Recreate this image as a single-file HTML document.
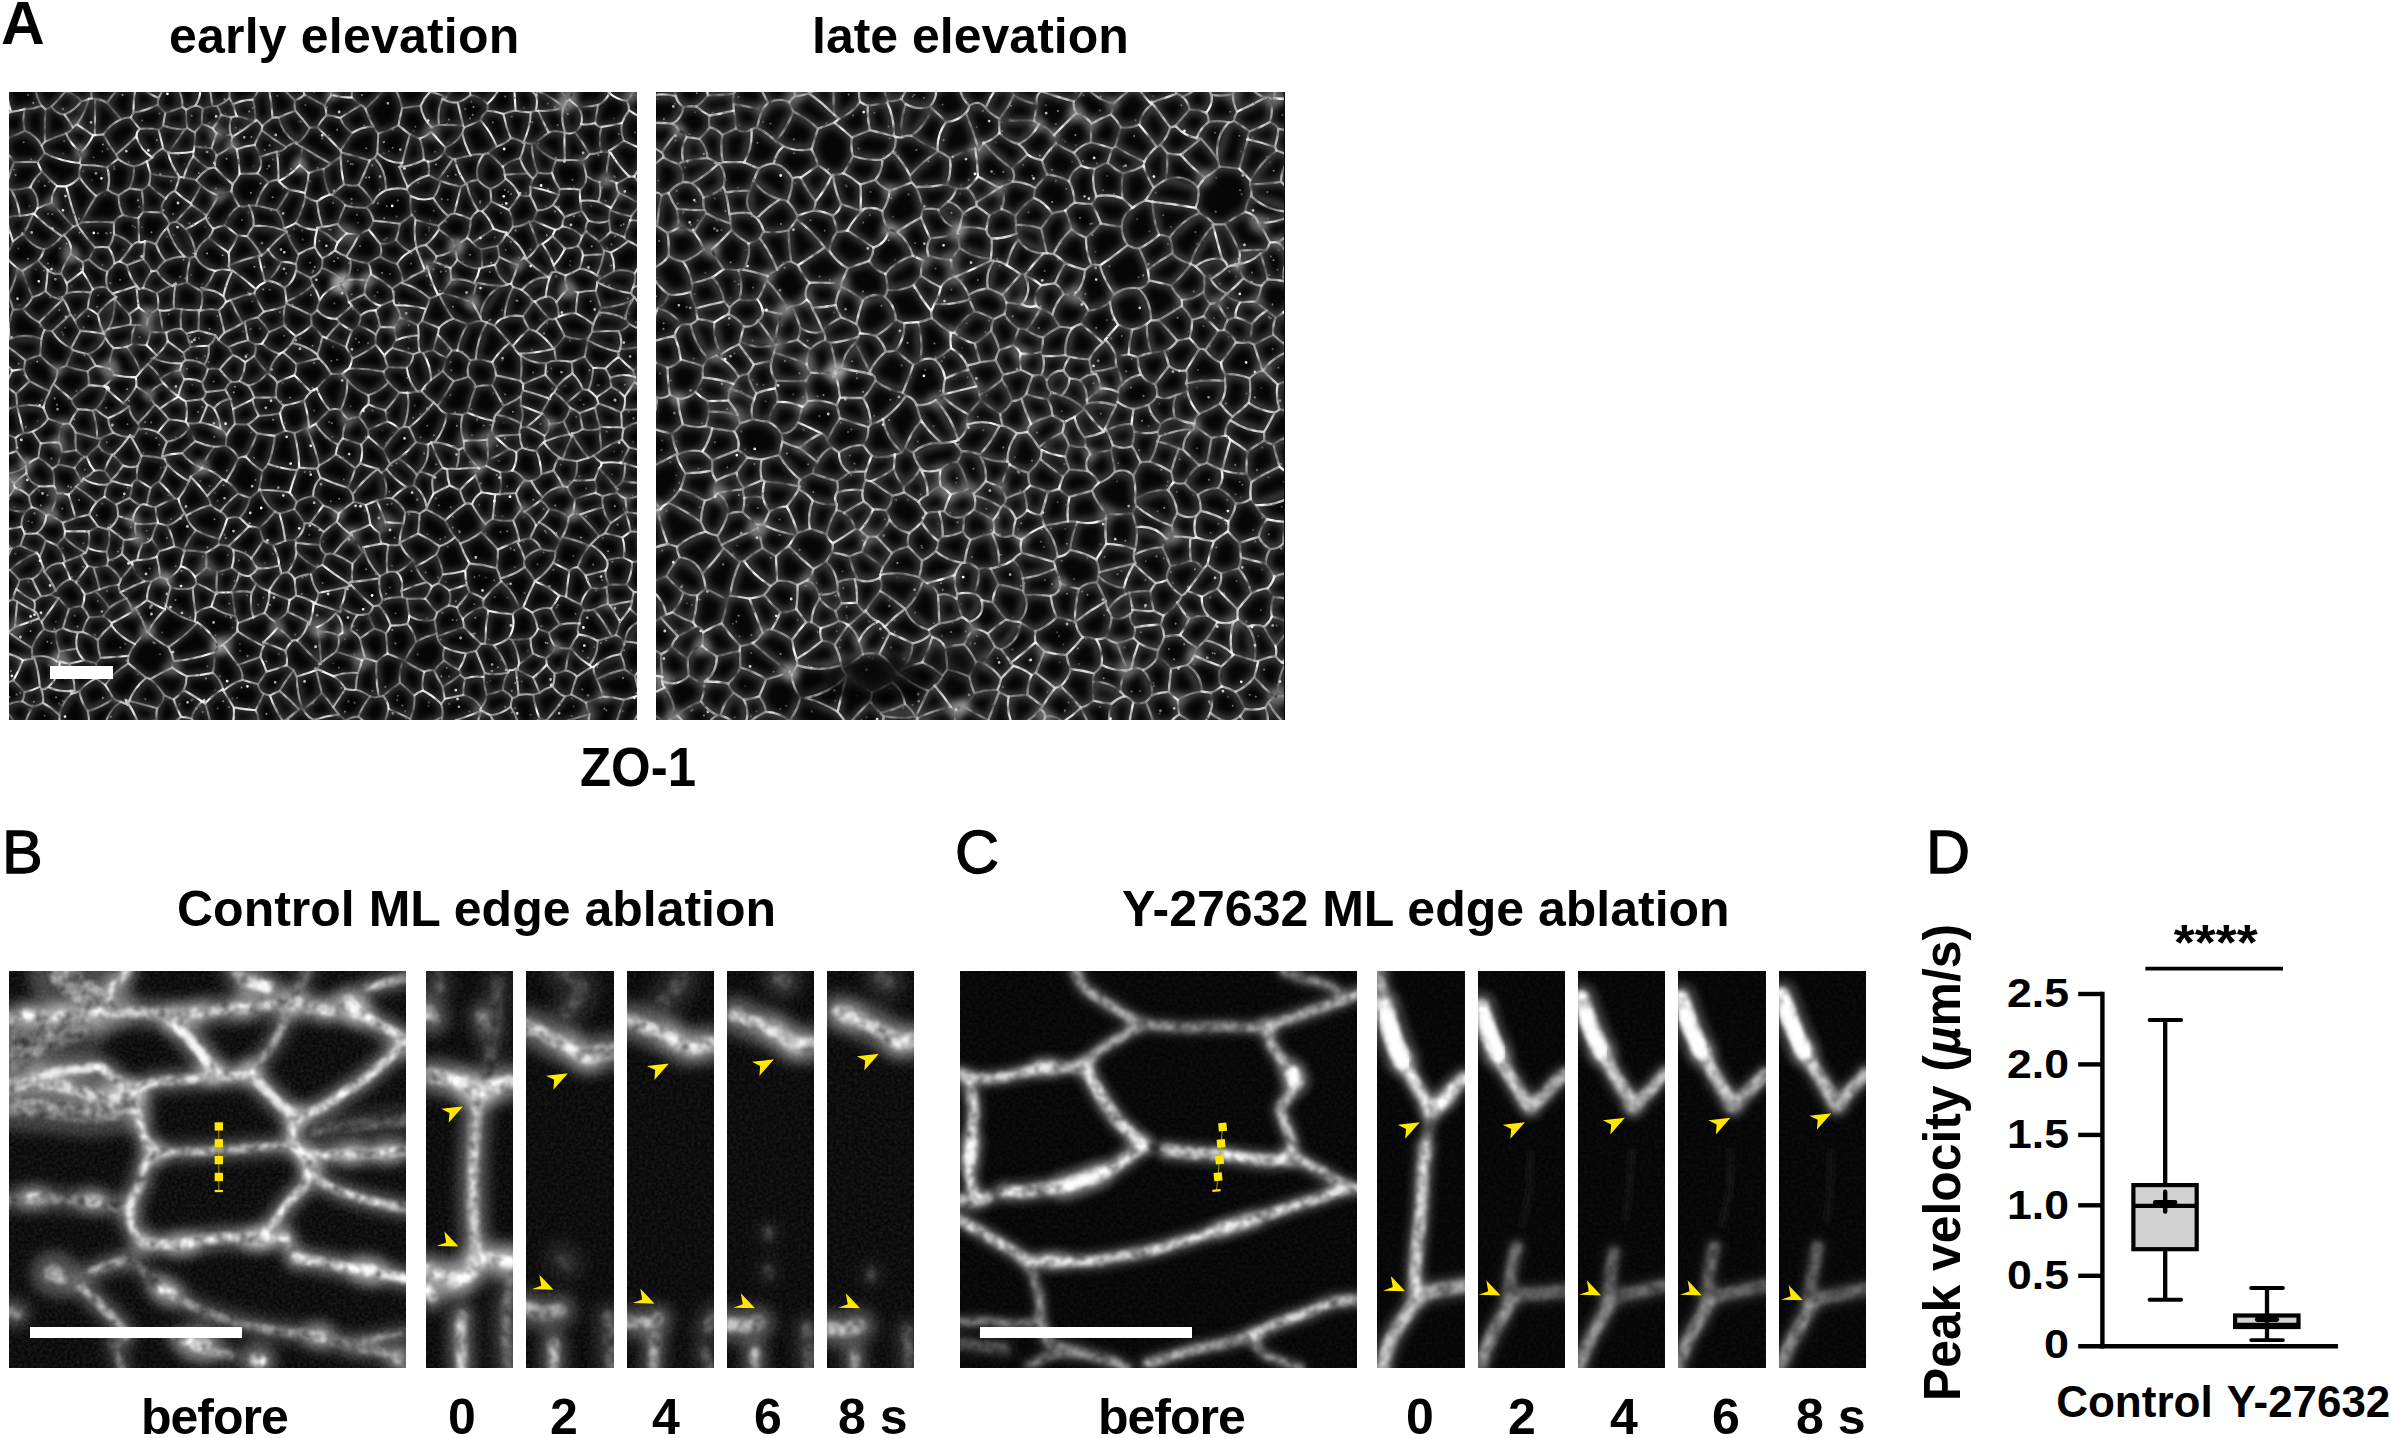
<!DOCTYPE html>
<html>
<head>
<meta charset="utf-8">
<title>Figure</title>
<style>
html,body{margin:0;padding:0;background:#fff;}
body{width:2391px;height:1438px;position:relative;overflow:hidden;font-family:"Liberation Sans",sans-serif;color:#000;}
.t{position:absolute;white-space:nowrap;line-height:1;font-weight:bold;}
.pl{position:absolute;white-space:nowrap;line-height:1;font-size:61px;-webkit-text-stroke:1.3px #000;}
.img{position:absolute;background:#0a0a0a;overflow:hidden;}
.img svg{position:absolute;left:0;top:0;display:block;}
.bar{position:absolute;background:#fff;}
</style>
</head>
<body>
<!-- panel labels -->
<div class="pl" id="lA" style="left:1px;top:-7.5px;font-weight:bold;font-size:60.5px;-webkit-text-stroke:0;">A</div>
<div class="pl" id="lB" style="left:2px;top:822px;">B</div>
<div class="pl" id="lC" style="left:955px;top:822px;">C</div>
<div class="pl" id="lD" style="left:1926px;top:822px;">D</div>

<!-- titles -->
<div class="t" id="tEarly" style="left:169px;top:11px;font-size:50px;letter-spacing:0.2px;">early elevation</div>
<div class="t" id="tLate" style="left:812px;top:11px;font-size:50px;">late elevation</div>
<div class="t" id="tZO" style="left:579.5px;top:738.5px;font-size:56.25px;transform:scaleX(0.905);transform-origin:0 0;">ZO-1</div>
<div class="t" id="tCtl" style="left:177px;top:884px;font-size:50px;">Control ML edge ablation</div>
<div class="t" id="tY" style="left:1122px;top:884px;font-size:50px;">Y-27632 ML edge ablation</div>

<!-- Panel A images -->
<div class="img" id="A1" style="left:9px;top:91.5px;width:628px;height:628.3px;"><!--A1SVG_BEGIN--><svg width="628" height="628" viewBox="0 0 628 628"><defs><filter id="fa1" filterUnits="userSpaceOnUse" x="0" y="0" width="628" height="628"><feGaussianBlur in="SourceGraphic" stdDeviation="0.72" result="bl"/><feTurbulence type="fractalNoise" baseFrequency="0.09" numOctaves="2" seed="51" result="t" color-interpolation-filters="sRGB"/><feColorMatrix in="t" type="matrix" color-interpolation-filters="sRGB" values="1.25 0 0 0 0.12 1.25 0 0 0 0.12 1.25 0 0 0 0.12 0 0 0 0 1" result="t2"/><feComposite in="bl" in2="t2" operator="arithmetic" k1="1" k2="0" k3="0" k4="0" color-interpolation-filters="sRGB"/></filter><filter id="ha1" x="-5%" y="-5%" width="110%" height="110%"><feGaussianBlur stdDeviation="3"/></filter></defs><rect width="628" height="628" fill="rgb(5,5,5)"/><g filter="url(#ha1)"><path d="M619.8 636.8l19 -29.6M13.4 609.4l2.1 -9.3M13.4 609.4l10.5 5.4M15.5 600.1l15.3 -5.2M32.4 597.3l-1.6 -2.4M32.4 597.3l1.5 13.5M33.9 610.8l-10 4M-5.8 615.4l19.2 -6.1M-5.8 615.4l19.7 25.1M23.8 614.8l-10 25.8M296.3 657.4l-17.6 -30.9M300.2 650.2l4.8 -22.4M305 627.9l-10.6 -10.2M278.7 626.5l11.2 -9.1M289.9 617.4l3.4 -1.6M293.3 615.8l1.1 1.9M260 637l14.2 -7.3M274.3 629.6l4.4 -3.1M336.5 628.7l-.5 16.2M336.5 628.7l-6.8 -6.2M329.7 622.5l-24.7 5.4M312.9 601l11.3 14M312.9 601l-18.5 16.7M329.7 622.5l-5.5 -7.5M274.3 629.6l-13.4 -26M260.9 603.6l9.6 -4.7M270.5 598.9l19.4 18.5M393.3 650.2l-18.2 -19.2M375.1 631l-10.4 4.4M336.5 628.7l12.9 -4.1M349.4 624.6l15.3 10.8M8.8 176.5l-9.7 27.5M8.8 176.5l-11.4 -10.8M-2.6 165.8l-26.7 22.2M-.8 204.1l-21.5 -5M248.8 592.1l-15.4 -4.4M248.8 592.1l8.7 -12.3M251.4 564.9l6.1 15M251.4 564.9l-22.3 8.2M233.4 587.8l-4.3 -14.8M228.5 539.4l26.1 14.6M228.5 539.4l-14.5 13.1M254.6 554l-3.2 10.9M229 573l-15 -20.5M164.8 607.4l10 -9.2M164.8 607.4l7.4 17.5M172.2 624.9l10.3 1.6M182.5 626.5l12.7 -18.5M174.8 598.2l21.4 13.5M195.2 608l1 3.7M177.6 584.2l-14.3 -8.3M177.6 584.2l26.1 -3.3M203.7 580.8l1.3 -20.4M205 560.5l-40.2 8.9M164.8 569.4l-1.6 6.5M214 597.1l-10.3 -16.3M214 597.1l-17.8 14.6M174.8 598.2l2.8 -14M233.4 587.8l-18.9 11M214.5 598.8l-.5 -1.7M214 552.5l-4.6 2.9M209.4 555.4l-4.4 5.1M159.5 555l28.9 -24.4M159.5 555l5.3 14.4M188.4 530.5l21.1 24.8M224.7 615.4l-1.5 18.8M224.7 615.4l21.8 2.8M223.2 634.2l26.4 -5.4M246.6 618.3l3 10.5M254.3 601.8l-5.5 -9.7M254.3 601.8l-7.7 16.5M214.5 598.8l10.2 16.6M260.9 603.6l-6.6 -1.8M256.4 637.3l-6.9 -8.5M-2.8 590.4l7.1 -2M-2.8 590.4l-3.5 -29.9M4.3 588.4l9.5 -20.2M-6.3 560.6l20.2 7.7M-17.7 596.5l14.9 -6.1M15.5 600.1l-11.2 -11.6M30.8 594.9l-5.3 -28.3M25.5 566.6l-11.6 1.7M50.4 623.1l.4 6.6M50.4 623.1l-16.5 -12.3M50.8 629.7l-30.9 22.1M165 216.3l-14.5 2M165 216.3l1.7 -24.5M166.7 191.8l-19 9.3M150.5 218.3l-2.1 -1.4M147.7 201.1l.7 15.8M-23.6 80.8l25.4 -15.7M1.8 65.1l-6.2 -6.8M-12.3 99.2l10.3 -4.5M1.8 65.1l3.3 5.1M5.2 70.2l-7.2 24.5M635.8 95l-10.6 -10.6M625.2 84.4l8.7 -20.7M635.8 95l-7.7 15M625.2 84.4l-5 .1M610.1 101.1l18 8.9M610.1 101.1l-2.5 -9.9M620.1 84.5l-12.5 6.7M-38.1 223.3l38.1 7.5M-.8 204.1l4.9 13.6M0 230.9l4 -13.2M56.1 439.2l-2.4 -8.7M56.1 439.2l23.6 .2M79.7 439.4l9.1 -5M80.2 422.6l8.6 11.8M80.2 422.6l-13.8 3.1M53.7 430.5l12.8 -4.8M27.9 441.2l9.5 -17.8M27.9 441.2l-12.3 .7M15.7 441.9l-3.3 -7.2M12.4 434.7l4.1 -15.2M37.5 423.3l-14.8 -8M22.7 415.3l-6.2 4.2M117.8 173.2l12.5 23.9M117.8 173.2l16.4 -6.2M134.2 167l8.5 12.1M142.7 179.1l-8.5 17M134.2 196.1l-3.9 1M163.4 194.1l3.3 -2.3M163.4 194.1l-15.8 -15.5M147.7 201.1l-13.5 -5M147.6 178.6l-4.9 .6M-6.6 381.4l24.5 -9.3M17.9 372.1l-10.4 -13.2M7.5 359l-21.9 6.1M8.1 314.8l6.4 26.3M8.1 314.8l26.2 .7M23.6 339.5l-9 1.6M23.6 339.5l15.4 -12.7M34.3 315.5l4.7 11.3M126 552.1l12.1 -12.3M126 552.1l-23.7 -18.8M138.1 539.8l-10.9 -22.4M102.3 533.3l.5 -2.3M102.7 531l24.5 -13.6M197.2 475.5l-11.2 9.3M197.2 475.5l-.2 -14.9M197 460.6l-22.8 -2.5M174.2 458.1l1.6 .8M175.8 458.9l-4 15.4M171.8 474.3l14.2 10.6M186.7 521.3l15.9 -6.8M186.7 521.3l-3 -25.4M202.5 514.5l4.4 -13.9M207 500.5l1 1.3M208 501.8l-20.5 -10.4M183.6 495.9l3.8 -4.4M208.1 480.3l-.2 21.5M208.1 480.3l-10.9 -4.8M187.4 491.4l-1.4 -6.6M161.9 632l10.3 -7.1M182.5 626.5l3.6 6.1M195.2 608l7.1 26.2M70.4 599l8.3 19.9M70.4 599l16.8 -12.6M96.2 593l-9 -6.5M96.2 593l8.2 13.5M104.5 606.6l-25.8 12.4M96.2 593l23.2 -21.6M119.4 571.4l17.9 14.5M104.5 606.6l7.3 3.3M111.8 609.8l6.9 2.8M118.7 612.6l18.6 -26.8M164.8 607.4l-9.7 -4.3M163.2 575.8l-21.8 11.4M155.1 603.1l-13.7 -15.9M126 552.1l-6.4 11.6M138.1 539.8l.9 .5M119.6 563.7l-.2 7.7M139 540.2l20.5 14.7M137.3 585.9l4.1 1.3M60.2 571.6l-9.4 -2M60.2 571.6l5.6 26.8M50.8 569.6l-11.4 25.4M65.8 598.4l-26.4 -3.4M32.4 597.3l7 -2.4M23.7 565l1.8 1.6M23.7 565l24.1 4.3M47.8 569.2l3 .3M62.5 601.6l-12.1 21.4M62.5 601.6l3.3 -3.3M47.8 569.2l2.5 -9.5M50.3 559.7l17.6 -2.9M60.2 571.6l15 -3.4M67.9 556.8l7.2 11.4M102.3 533.3l-13.5 14.5M119.6 563.7l-28 2.2M88.7 547.8l2.9 18.1M62.5 601.6l7.9 -2.6M87.2 586.5l-.3 -15.2M75.1 568.2l11.8 3.1M91.6 565.9l-4.6 5.4M23.7 565l-.7 -8.8M-4.5 542.4l3.7 -2.6M23 556.2l-23.8 -16.4M50.3 559.7l-3.6 -20.1M46.7 539.7l-11.6 -2.8M23 556.2l12.1 -19.3M126.1 233.2l-3 18.8M126.1 233.2l11.5 1.3M123.2 252l14.2 1.1M137.6 234.4l3.7 5.2M137.4 253.1l3.9 -13.4M117.8 254.8l5.4 -2.8M117.8 254.8l13.8 24.9M131.6 279.6l7.2 -7.2M144.5 266.2l-5.7 6.2M144.5 266.2l3.4 -2.8M137.4 253.1l10.5 10.3M150.5 218.3l3.3 21.9M137.6 234.4l1.3 -12.6M138.9 221.8l9.5 -4.9M141.3 239.6l12.5 .6M138.9 221.8l-9.2 -6.5M130.3 197.1l-3 -3.2M127.3 193.9l2.4 21.5M121.4 232.6l4.7 .6M121.4 232.6l-1.3 -10.6M120.1 222.1l9.7 -6.7M174.6 261l-15.8 -11.6M174.6 261l7.2 -5.9M181.9 255l-4.2 -13.6M177.6 241.4l-5.3 -4.4M172.3 236.9l-15.2 3.6M157.1 240.5l1.7 8.8M176.6 268.2l-1.9 -7.2M176.6 268.2l-3.3 3.1M173.3 271.2l-28.8 -5.1M147.9 263.3l10.9 -14M173 217.2l-.7 19.8M173 217.2l16.7 .8M189.7 218l-.2 20.4M189.5 238.4l-11.9 3M173 217.2l-8 -.9M153.8 240.2l3.3 .3M206 178.9l-19.5 -14.4M206 178.9l-11 18.5M177.8 190.5l14.8 8.7M177.8 190.5l3.1 -24.1M180.9 166.4l5.6 -1.8M192.6 199.2l2.4 -1.8M219.8 173.8l1.5 4.5M219.8 173.8l-.2 -13.2M221.2 178.3l-15.2 .7M186.5 162.2l0 2.4M186.5 162.2l13.2 -16.2M219.6 160.6l-19.9 -14.6M221.2 178.3l2.3 .2M223.5 178.5l-9.1 25.7M214.4 204.2l-19.3 -6.8M163.4 194.1l14.4 -3.6M189.7 218l1.4 .8M191.1 218.8l1.5 -19.7M156.1 168.8l-8.5 9.8M156.1 168.8l19.1 -4.4M175.2 164.3l5.7 2M191.1 218.8l18.8 -.6M209.9 218.2l7.1 -8.4M217.1 209.8l-2.6 -5.6M-8.3 126l5.8 -.5M-2.5 125.5l6.4 23.9M3.9 149.4l-8.4 13.5M10.8 123.7l-13.3 1.8M10.8 123.7l-8.6 -25.8M-2.1 94.7l4.3 3.2M-2.6 165.8l-1.9 -2.8M156.1 168.8l-9.3 -16.6M134.2 167l1.7 -17.9M135.9 149.1l11 3.1M175.2 164.3l-16.9 -28.8M146.9 152.1l11.4 -16.6M156.8 106.7l-3.7 13.8M156.8 106.7l-16.9 -13.9M139.9 92.8l-6.9 5.1M133 97.9l1.4 21.9M134.4 119.8l18.7 .7M186.5 162.2l-9.7 -25M176.8 137.3l-9.7 -7.6M167.1 129.7l-6.4 1.7M158.3 135.6l2.4 -4.2M107.2 62.6l20.2 -18.3M107.2 62.6l-12.8 -20.2M94.4 42.4l17.6 -15.2M130.8 36.9l-3.4 7.5M130.8 36.9l-9 -11.3M121.8 25.5l-9.8 1.7M94.4 42.4l-8.6 .7M85.8 43.1l.4 -36.2M112 27.2l-13.9 -16.3M86.2 6.9l11.8 4.1M84.2 43.4l-16.2 -11.1M84.2 43.4l1.6 -.3M68 32.2l11.7 -25.3M86.2 6.9l-3.5 -.5M79.7 6.9l3 -.5M602 115.8l8.2 -14.7M602 115.8l-12.7 -6.1M596.8 88.5l10.8 2.7M596.8 88.5l-6.4 1.5M589.2 109.7l1.2 -19.7M602 115.8l-1 2.3M628.1 110l3.1 1.5M631.2 111.5l-9 12.7M622.2 124.2l-21.3 -6M625.7 181.4l-21 -1.9M625.7 181.4l6.8 -12.7M604.7 179.5l-2.9 -18.9M601.8 160.6l17.6 -11.6M619.4 149l14 7.8M619.4 149l-4.3 -3.9M615.1 145.1l6.1 -16.8M621.2 128.3l33.8 9.5M624.1 195.3l33.9 .7M624.1 195.3l1.7 -13.9M621.2 128.3l1.1 -4.1M601.8 160.6l-6.7 -2.1M595.1 158.5l-4.6 -8.7M615.1 145.1l-13.6 -5.4M590.5 149.8l11 -10.1M601 118.2l-.8 10.5M600.2 128.6l1.3 11M589.2 109.7l-17.8 -.8M577.3 84l-6.2 13.7M577.3 84l13.2 6M571.4 109l-.3 -11.3M546.2 -12.6l-18.1 11.2M546.2 -12.6l12.9 19.9M528.1 -1.4l27 16.8M559 7.4l-4 8M580.7 -17.6l-20.8 25M559.9 7.5l-.9 -.1M528.1 -1.4l-.9 4.8M512.5 -12l14.7 15.4M566.1 40.1l-10.5 .4M566.1 40.1l14.4 22M555.6 40.5l.3 27.6M555.9 68.1l17.5 .5M580.5 62.1l-7 6.5M612.9 31.1l-20.4 3.8M612.9 31.1l2 17.8M592.4 34.9l-.1 24.8M614.8 48.9l-14.4 9.9M592.4 59.7l8.1 .9M600.5 60.5l-.1 -1.7M632.9 57.1l-18.1 -8.2M620.1 84.5l-19.7 -25.7M596.8 88.5l3.7 -28M577.3 84l-3.8 -15.4M580.5 62.1l11.9 -2.4M568.5 14.4l3.7 17.8M568.5 14.4l20.8 -1.6M589.2 12.8l-3.1 18.3M572.2 32.2l13.9 -1.2M559.9 7.5l8.6 6.9M555 15.4l-.9 .1M566.1 40.1l6.1 -7.9M555.6 40.5l1 .9M554.2 15.5l2.5 25.9M580.7 -17.6l19.8 18.5M600.5 1l-11.3 11.8M592.4 34.9l-6.3 -3.8M0 230.9l.5 16.1M-5.3 251.9l5.8 -5M7.5 359l-1.1 -13M6.3 345.9l-16.2 -6.6M40.6 422.6l13 8M40.6 422.6l7.5 -21.5M66.4 425.7l-6.9 -23M59.6 402.7l-11.5 -1.6M87.7 410l-7.5 12.6M87.7 410l-20.9 -15.1M59.6 402.7l7.2 -7.7M-5.1 469.9l7.6 -13.6M2.5 456.3l-11.4 -18.6M11.4 453.6l-8.9 2.8M11.4 453.6l4.3 -11.7M12.4 434.7l-21.3 3M16.4 419.5l-27.1 -7.5M8.8 176.5l4.4 2.5M4 217.7l9.8 -.9M13.2 179l10.2 26.1M13.9 216.8l9.5 -11.6M29.4 365.7l13.9 10.9M29.4 365.7l2.5 -14.2M31.9 351.5l18 -1M49.1 372.8l-5.8 3.8M49.1 372.8l3.8 -13M49.9 350.6l3 9.2M23.6 339.5l8.3 12M14.6 341.1l-8.2 4.8M17.9 372.1l-1.1 1.8M16.8 373.9l12.7 -8.2M39 326.8l15.4 5.2M54.4 332l-4.5 18.6M65.4 375.9l7.2 13.8M65.4 375.9l-16.3 -3.1M66.8 395l5.8 -5.3M48.1 401.1l-3.2 -7.2M44.9 393.9l-1.6 -17.3M17.3 381.3l12.7 13M17.3 381.3l-12.6 10.3M4.7 391.6l1.1 4.1M5.9 395.7l14.1 8.1M19.9 403.8l10.1 -9.5M16.8 373.9l.6 7.3M44.9 393.9l-14.9 .4M-6.6 381.4l11.3 10.2M-9.9 413.4l15.7 -17.7M22.7 415.3l-2.8 -11.5M40.6 422.6l-3.2 .8M87.7 410l7.8 -5M72.6 389.6l1.8 -2.8M74.4 386.8l24 5.8M95.5 405l2.8 -12.4M66.6 340.4l.5 17.8M66.6 340.4l21.6 6M89.6 353.4l-11.9 11.3M89.6 353.4l1.8 -7M77.7 364.8l-2.3 .1M91.4 346.4l-3.1 0M75.4 364.9l-8.3 -6.7M54.4 332l6 -.2M60.4 331.8l6.2 8.6M52.9 359.7l14.2 -1.6M83.8 318.7l4.4 27.7M83.8 318.7l-14.9 -1.3M68.9 317.5l-8.5 14.3M65.4 375.9l10 -11M74.4 386.8l10.8 -8.1M85.3 378.7l-7.6 -13.9M102.7 531l-8.3 -6.7M127.2 517.3l-3.8 .6M94.4 524.3l5.8 -8.2M100.2 516.1l17.2 -9.6M117.4 506.5l5.9 11.5M111.8 609.8l-16.3 27.3M78.7 619l1.6 12.4M50.8 629.7l9.6 7M128.9 630.8l-12.3 -22.8M128.9 630.8l18.9 -2.4M116.6 608l31.8 8.3M147.7 628.4l.6 -12.1M125 633.3l3.8 -2.5M118.7 612.6l-2.1 -4.7M150.5 635.1l-2.8 -6.8M155.1 603.1l-6.8 13.2M67.9 556.8l.7 -16.2M46.7 539.7l7.3 -3.4M54 536.3l14.6 4.3M88.7 547.8l-14.8 -7.9M73.9 539.9l-5.4 .7M94.4 524.3l-14.4 .9M73.9 539.9l6.1 -14.7M35.1 536.9l-2.4 -7.1M32.7 529.7l-2.8 -3.3M-.8 539.8l6.7 -4.8M5.9 535l24 -8.6M-8.1 479.2l9.2 -1.2M11.4 453.6l16.4 7.2M1.1 478l26.6 -17.2M154.5 291.3l-3 -4.6M154.5 291.3l14.9 13.3M151.5 286.7l19.3 -8.4M170.8 278.3l4.5 9.1M175.3 287.4l-6.2 16.8M169.1 304.3l.2 .3M173.3 271.2l-2.4 7.1M138.8 272.4l12.7 14.3M321.8 71.6l-7.2 5.4M321.8 71.6l-28.3 -16.4M314.6 77l-15 4M299.7 81l-8.9 -7.9M290.7 73.1l2.8 -17.8M165.8 99.1l-9.1 7.6M165.8 99.1l16.1 12.4M167.1 129.7l15.4 -16.7M153 120.5l7.6 10.9M181.9 111.6l.5 1.4M230 114l-7.7 -14.8M230 114l-14.4 19.3M222.4 99.2l-12.7 4.2M209.6 103.4l-12.2 20.2M204.2 136.9l11.4 -3.5M204.2 136.9l-7.6 -11.3M196.6 125.6l.8 -2M259.6 90.3l-12.4 23.3M259.6 90.3l-11.3 -8.9M248.3 81.4l-17.7 .4M239.8 113.4l7.4 .2M239.8 113.4l-9.8 .7M223.7 92.2l6.9 -10.3M223.7 92.2l-1.3 7.1M192.1 93.1l17.5 10.3M192.1 93.1l-10.2 18.5M182.4 113l15.1 10.6M228.8 143.5l-13.1 -10.1M228.8 143.5l-9.2 17.1M199.7 146l4.6 -9.1M176.8 137.3l19.9 -11.7M165.8 99.1l4.4 -13.3M139.9 92.8l1.6 -11M170.3 85.8l-28.7 -4M187.2 88.1l-12.4 -2.5M187.2 88.1l4.8 5.1M174.8 85.6l-4.2 -.4M170.3 85.8l.4 -.6M331.4 64.7l3.5 27.7M331.4 64.7l.8 -4.1M332.2 60.6l28.4 7.8M360.6 68.4l-10.9 24.8M334.9 92.3l14.8 .8M321.8 71.6l9.6 -6.9M314.6 77l6.1 25.4M322.9 103l-2.2 -.5M322.9 103l12.1 -10.6M364.1 110.7l12.7 -12.4M364.1 110.7l-14.4 -17.5M376.8 98.3l-11.2 -32.6M365.6 65.7l-5 2.7M336.3 113.4l-13.5 -10.4M336.3 113.4l21.1 2.2M357.4 115.5l6.7 -4.9M10.8 123.7l13.4 -2.1M3.9 149.4l11 -7.5M24.2 121.6l-9.3 20.3M120.6 96.4l4.3 -22M120.6 96.4l-10.9 6.9M109.7 103.3l-11 -5.4M98.6 97.9l-.5 -22.7M124.8 74.5l-15.8 -7.7M109 66.7l-10.9 8.5M133 97.9l-12.4 -1.5M141.5 81.8l-3.7 -12.5M137.9 69.3l-13 5.2M107.2 62.6l1.8 4.2M127.4 44.3l15.7 21M143.2 65.4l-5.3 3.9M52 181.6l9.8 -19.6M52 181.6l-13.3 -3.5M29.1 168.7l9.7 9.4M29.1 168.7l5.9 -11.1M34.9 157.6l17.8 -13.5M61.8 162l-6.9 -18.8M54.9 143.2l-2.2 .8M57.6 191.3l-5.6 -9.8M57.6 191.3l15.8 -11.9M73.4 179.5l.3 -9.4M73.7 170.1l-11.9 -8.1M13.2 179l15.9 -10.3M36.5 199.1l-13.1 6.1M36.5 199.1l2.2 -21M14.9 141.9l20 15.6M24.2 121.6l1.1 .4M25.2 122l27.5 22M55.4 22.6l-13.1 -8.1M55.4 22.6l17.1 -13.4M42.3 14.5l14 -15.2M72.5 9.2l-16.1 -9.9M64 35.4l-8.6 -12.8M64 35.4l4 -3.2M79.7 6.9l-7.2 2.3M54 -22.7l2.3 22.1M81.4 -16.7l1.4 23.1M129.1 -8.3l-2.9 6M126.2 -2.3l-14.7 -3.2M124.6 20.7l1.6 -23.1M124.6 20.7l24.2 -7.9M148.8 12.8l.7 -6.8M149.5 6l-20.4 -14.3M121.8 25.5l2.8 -4.8M98 10.9l13.5 -16.4M36.7 17.3l5.6 -2.7M36.7 17.3l-4.1 -3.5M32.6 13.8l-5.9 -18M-5.5 -10.7l7.4 30.8M-8.5 25.6l10.4 -5.6M-4.3 58.3l3.9 -12.3M-.4 46l-8.1 -20.4M32.6 13.8l-16.9 3.5M15.7 17.2l-13.8 2.8M15.9 38.7l-16.3 7.3M15.9 38.7l-.2 -21.5M131.6 279.6l-4.9 5.8M139.8 302.7l-12.6 -8.4M139.8 302.7l14.7 -11.4M126.7 285.4l.4 8.9M83.8 318.7l3.1 -1.3M91.4 346.4l12.8 -5.8M86.9 317.5l12.2 8.7M104.2 340.6l-5.1 -14.4M159.8 327.4l-9.1 -10.6M159.8 327.4l-10.9 13.1M149 340.5l-19.3 -3.6M145.8 312.7l-16.8 18.4M145.8 312.7l4.9 4.1M129 331.2l.7 5.7M176.8 329.8l-17 -2.3M176.8 329.8l-.2 -20.4M176.6 309.3l-7.4 -5.1M169.4 304.6l-18.7 12.3M157.9 349.9l-8.9 -9.4M157.9 349.9l-4.9 14.7M153 364.6l2.9 2.3M155.9 366.9l-23.4 -3.3M121.1 343.1l11.3 20.5M121.1 343.1l3.3 1.8M124.4 344.9l5.3 -8M139.8 302.7l6 10M127.1 294.3l-13 16.9M114.2 311.2l5.8 3.2M120 314.4l9 16.7M124.4 344.9l-20.2 -4.3M99.1 326.2l20.9 -11.8M35.5 61.1l35.1 9.9M35.5 61.1l-2.9 -7.5M32.6 53.6l3.4 -4.1M36 49.5l21.1 -8M57.1 41.5l14.9 18.8M72 60.3l-1.4 10.6M5.2 70.2l23.4 -.3M15.9 38.7l16.7 14.8M28.5 69.9l6.9 -8.8M36.7 17.3l-.7 32.3M64 35.4l-6.9 6.1M84.2 43.4l-12.2 17M72.1 73l-1.5 -2M72.1 73l26 2.2M21.4 95.2l11.6 -15.7M21.4 95.2l7.2 21.1M32.9 79.4l15.2 14.6M48.1 94.1l-5.3 16.9M28.5 116.2l14.3 -5.2M2.2 97.9l19.1 -2.7M28.5 69.9l4.4 9.5M25.2 122l3.3 -5.8M64.2 134.5l-9.3 8.7M64.2 134.5l-21.4 -23.5M617.9 8.7l2.1 9.8M617.9 8.7l4.5 -5.7M622.4 3l36.6 6.4M620 18.4l14 8.2M600.5 1l17.4 7.7M612.9 31.1l7.2 -12.6M626.4 -9.3l-4 12.2M624.1 195.3l-1.9 6M658.7 230.8l-33.6 -25.8M625.2 205.1l-3.1 -3.8M590.5 149.8l-14 -10.3M600.2 128.6l-20.9 -.1M579.2 128.5l-2.8 11M571.4 109l1.6 10M579.2 128.5l-6.3 -9.6M571.1 97.7l-20.1 -.6M551 97.1l-8.1 -16.2M555.9 68.1l-8.7 -.2M547.2 67.9l-4.2 13M457.7 91.9l11.3 26.7M457.7 91.9l-5.7 2.8M452 94.7l-6.9 26.6M445.1 121.3l16.5 5.8M469 118.6l-7.4 8.5M439.2 124.1l5.9 -2.8M439.2 124.1l-14.9 -18.1M452 94.7l-20.9 -6M431.1 88.7l-6.9 17.3M527.2 3.4l-.6 15.4M554.2 15.5l-24.9 3.4M526.6 18.8l2.7 .1M556.7 41.4l-17 -1.1M529.3 18.9l10.4 21.4M547.2 67.9l-22 -17.1M539.7 40.2l-14.5 10.5M-14 260.2l17.2 18.5M3.2 278.7l11.6 -1.5M-5.3 251.9l21.6 16.4M14.7 277.2l1.5 -8.9M.5 246.9l31.8 .2M16.3 268.3l14.9 -5.1M32.4 247.1l-1.2 16M-8.7 318.4l16.8 -4.6M8.1 313.8l-1.1 -12.1M7 301.7l-11.3 -8.5M8.1 314.8l0 -1M34.3 315.5l6.4 -16.1M20.4 289.2l20.3 10.2M20.4 289.2l-13.4 12.5M3.2 278.7l-7.5 14.5M14.7 277.2l5.7 12M157.8 487l3.8 8.2M157.8 487l-6.6 -2M151.2 485l-8.9 4.6M142.3 489.6l-4.3 18.5M138 508.1l18.1 9.3M161.6 495.2l-4.9 19M156.8 514.2l-.7 3.2M171.8 474.3l-14 12.7M183.6 495.9l-22 -.7M150.6 459l-2.9 5.8M150.6 459l14.7 -4.5M175.8 458.9l-10.4 -4.3M147.7 464.8l3.5 20.2M128.1 468.1l-5.5 2M128.1 468.1l19.5 -3.2M122.7 470.1l13 19.2M135.7 489.3l6.6 .3M111.3 500.4l24.4 -11.1M111.3 500.4l6.2 6.1M123.4 518l14.6 -9.9M139 540.2l17.1 -22.8M186.7 521.3l-.9 8.1M185.8 529.4l-29 -15.2M185.8 529.4l2.6 1.1M123.6 472.6l-.9 -2.6M123.6 472.6l-10.7 -10.6M128.1 468.1l5.4 -17M114.9 447.8l-2 14.3M114.9 447.8l13.8 -1.7M133.5 451.1l-4.9 -5M150.6 459l-7.9 -12.2M133.5 451.1l9.2 -4.2M165.3 454.6l-7.1 -20.8M158.2 433.7l-9.9 -2.4M142.7 446.9l5.6 -15.6M95.5 378.9l7.9 10.5M95.5 378.9l7.8 -16.2M114.1 373.6l-9.8 -10.7M114.1 373.6l-12.2 15M101.9 388.6l1.5 .8M103.3 362.7l1 .2M85.3 378.7l10.2 .2M98.4 392.6l5 -3.2M89.6 353.4l13.7 9.3M121.1 343.1l-16.9 19.8M128.4 374.3l-14.3 -.7M128.4 374.3l4.1 -10.7M88.8 434.4l9.9 3M98.7 437.3l10.5 -13.4M95.5 405l11.7 7.5M109.1 423.9l-1.9 -11.4M25.2 508.7l-18 -11.7M25.2 508.7l-.3 10.2M24.9 518.9l-16.7 -9.3M7.2 496.9l-3.4 10.6M3.9 507.5l4.3 2.2M10.5 488.4l12.9 -1.4M10.5 488.4l-3.2 8.5M32 504.2l-8.6 -17.2M32 504.2l-6.8 4.5M5.9 535l2.3 -25.3M29.9 526.4l-5 -7.5M-6.7 511.5l10.6 -4M1.1 478l9.4 10.4M79.7 439.4l-.7 16.6M98.7 437.3l.6 -1.5M99.3 435.9l-1.8 23.7M79 455.9l18.4 3.6M99.3 435.9l15.6 11.9M112.9 462l-13.7 6.1M99.2 468.1l-1.7 -8.6M54 536.3l5.9 -19.1M80 525.2l-6.8 -10.5M59.9 517.1l13.3 -2.4M32.7 529.7l16.9 -23.6M59.9 517.1l-10.3 -11M32 504.2l9.9 -1.7M49.6 506.2l-7.8 -3.7M27.7 460.8l3 4.2M23.3 487l10.9 -12.1M30.8 465l3.4 9.9M27.9 441.2l8.8 7.3M30.8 465l6 -16.6M238.2 144.2l6.4 -10.2M238.2 144.2l14.1 19.3M244.6 134l33.2 5.8M252.3 163.5l6.7 -5.9M259 157.6l18.5 -17.8M277.5 139.8l.3 -.1M228.8 143.5l9.4 .7M239.8 113.4l4.7 20.6M249.7 164.1l2.5 -.6M249.7 164.1l-30 9.7M267.8 118.3l7.1 18.2M267.8 118.3l13 -20.4M280.8 97.9l15.2 3M274.9 136.5l11.9 -5.3M286.7 131.2l10 -26.2M295.9 101l.8 4M247.3 113.6l20.5 4.7M277.8 139.8l-2.9 -3.2M259.6 90.3l9.7 -2.7M269.3 87.6l.3 1.6M269.6 89.2l11.2 8.8M299.7 81l-3.7 20M269.6 89.2l21.1 -16.1M320.7 102.5l-12.8 7.1M307.9 109.5l-11.2 -4.6M220.6 6l3.3 6.3M220.6 6l-12.5 8M224 12.3l3.6 11.8M208.1 14l4.1 9.1M212.2 23l10.1 2.4M227.6 24.1l-5.3 1.3M207.5 41.1l-3.8 -4.8M207.5 41.1l14.4 1.5M203.7 36.3l8.4 -13.3M221.9 42.6l.4 -17.1M156.3 21l17.1 -6M156.3 21l-7.5 -8.2M173.3 15l-6.8 -21.5M149.5 6l10.7 -19.1M221.6 -18.2l-1 24.3M208.1 14l-4.8 0M203.3 14l-6.4 -31.6M187.2 88.1l11.8 -11.4M174.8 85.6l9.5 -21.3M199 76.6l-14.7 -12.4M223.7 92.2l-17.8 -16.9M199 76.6l6.9 -1.3M223.3 53.5l4.5 3.7M223.3 53.5l-15.6 10.1M227.8 57.2l2.8 24.6M205.9 75.3l1.8 -11.7M207.5 41.1l-4.9 15.2M223.3 53.5l.2 -8.7M223.4 44.8l-1.5 -2.2M207.7 63.6l-5 -7.3M202.7 56.3l-17.2 -2.1M184.4 64.3l.1 -4.8M184.5 59.5l1 -5.3M170.7 85.2l-11.8 -24.6M184.5 59.5l-25.6 1.1M177.1 17.7l1.2 18.3M177.1 17.7l9.4 -4.1M193.7 16.7l-7.1 -3.1M193.7 16.7l-.7 15.5M193 32.2l-7.3 8M185.8 40.2l-7.4 -4.2M173.3 15l3.8 2.7M189.7 -12.6l-3.2 26.2M203.3 14l-9.6 2.7M203.7 36.3l-10.7 -4.1M185.5 54.2l.3 -14M364.3 34.6l-7.8 -17.8M364.3 34.6l5.1 6.9M369.3 41.5l20.1 -8.1M389.5 33.4l3.6 -17.2M356.5 16.7l19.7 -20.4M393.1 16.2l-7.5 -20M365.6 65.7l2.7 -4.4M332.2 60.6l-.9 -2.3M368.3 61.3l1 -19.8M331.3 58.3l12 -17.4M343.3 40.9l21 -6.3M400.9 42.3l-7.6 28.5M400.9 42.3l-11.4 -8.9M393.3 70.8l-24.9 -9.5M343.3 40.9l-12 -15M356.5 16.7l-4.8 -3.6M351.7 13.1l-20.5 12.8M350.9 -28.6l-8.1 34.1M351.7 13.1l-8.9 -7.6M72.1 73l-1.6 12.1M98.6 97.9l-11.6 6.1M87 104l-16.5 -19M48.1 94.1l8.9 .3M57.1 94.3l13.5 -9.3M636.3 269l-6.6 -14.2M636.3 269l-12.1 9.2M624.2 278.2l-14.5 -13.3M609.6 264.9l.4 -5.1M610 259.8l1 -3.2M611.1 256.6l18.6 -1.8M634.9 237.2l-5.2 17.5M209.9 218.2l5.5 22.3M217.1 209.8l4.6 -2M215.4 240.5l18.2 -9.5M221.7 207.9l11.9 23.1M176.6 268.2l18.7 4.5M181.9 255l17.7 -1.3M195.3 272.7l4.3 -19M189.5 238.4l16.7 4.8M199.6 253.7l6.6 -10.5M215.4 240.5l-6.1 7.3M206.2 243.2l3.1 4.6M336.3 113.4l-7.8 18.5M307.9 109.5l5.5 25.4M328.5 131.8l-15.1 3.1M249.7 164.1l6.6 26M223.5 178.5l23.4 18.8M256.3 190l-9.4 7.3M221.7 207.9l23.5 -6.6M246.9 197.4l-1.7 3.9M357.4 115.5l7.1 13.3M376.8 98.3l20.9 -.9M402.8 122.8l-11.9 9.1M402.8 122.8l-1 -18.6M401.8 104.2l-4 -6.7M390.9 131.8l-26.4 -3M375.1 631l4.5 -14.1M404.8 635.3l-3.5 -8.3M379.6 616.9l21.7 10M197 460.6l12.8 -8M174.2 458.1l12.7 -20M209.8 452.6l.5 -5.7M210.3 446.9l-23.4 -8.8M158.2 433.7l17.2 -12.5M175.5 421.2l1.8 2.5M177.2 423.7l9.7 14.4M481.3 97l1 12.4M481.3 97l15.5 -10.1M496.8 86.8l13.6 16.3M510.4 103.1l-10.6 14.8M499.8 118l-17.5 -8.6M528.2 118.5l15.8 -5.5M528.2 118.5l-7.1 -14.9M521.1 103.6l0 -8.9M521.1 94.8l28.9 8M550 102.7l-6 10.3M510.4 103.1l10.7 .5M503.8 135l-4 -17M503.8 135l16.4 -5.5M520.3 129.5l4.6 -.8M524.9 128.7l3.3 -10.2M551 97.1l-.9 5.6M572.9 118.9l-17.5 6.2M555.5 125.1l-11.4 -12.1M461.7 -6.6l-.3 9.8M494.2 -15.8l-15.8 27.5M461.4 3.2l17 8.5M442.5 -6.9l-5.3 12.7M417.5 -6.2l3.2 6.2M437.2 5.8l-16.5 -5.8M393.1 16.2l18.6 -2.4M420.7 0l-9.1 13.9M542.9 80.9l-14.3 -.4M525.2 50.8l-2.3 .7M528.6 80.5l-5.7 -29.1M521.1 94.8l2.7 -8.1M528.6 80.5l-4.8 6.1M495.6 82.7l23.3 -1.2M495.6 82.7l1.2 4.1M523.8 86.7l-4.9 -5.2M410.9 46.6l3.9 21.2M410.9 46.6l-10.1 -4.3M393.3 70.8l-2.8 4.2M414.9 67.8l-24.4 7.2M397.8 97.4l.9 -2.6M390.5 75l8.3 19.9M481.3 97l-12.4 -9.3M457.7 91.9l-1.1 -.6M469 118.6l4.2 .6M473.2 119.2l9.1 -9.8M468.9 87.6l-12.2 3.7M61.4 222.6l-8.5 -17.1M61.4 222.6l-18.2 16.4M30.2 230.3l23.1 -22.6M30.2 230.3l5.2 7.7M53.3 207.7l-.4 -2.2M35.4 238l7.8 1M36.5 199.1l16.8 8.6M13.9 216.8l16.3 13.6M32.4 247.1l3 -9.1M57.6 191.3l-.1 9.9M57.5 201.2l-4.6 4.3M40.7 299.4l3.7 -7.5M31.1 263.2l17.5 15.1M48.6 278.3l-4.2 13.7M68.9 317.5l-6.4 -10.2M62.4 307.2l-18.1 -15.3M65.8 228.5l5.8 10.3M65.8 228.5l-4.4 -5.9M43.1 239.1l19.1 17.1M62.2 256.1l9.3 -17.4M126.7 285.4l-21.9 -2.4M114.2 311.2l-19.2 -17.2M104.8 283l-9.8 11M117.8 254.8l-13.2 1.3M104.5 256.1l-3.7 20.7M104.8 283l-3.9 -6.2M86.9 317.5l11.7 -22.6M98.6 294.9l-3.6 -.9M62.4 307.2l17.4 -14.1M98.6 294.9l-18.7 -1.8M128.7 446l-2.3 -14.4M148.3 431.3l.7 -.6M126.4 431.6l22.7 -.9M109.1 423.9l14.7 4.9M126.4 431.6l-2.6 -2.8M46.7 498.6l14.6 -11.6M46.7 498.6l-11.5 -18.8M61.2 487l-7 -15.8M35.2 479.8l19 -8.6M41.9 502.5l4.8 -3.9M34.2 474.9l1 4.9M76.7 460.8l-4.6 2.8M76.7 460.8l-21.6 -15.7M72.1 463.6l-16.2 6M55.9 469.6l-8.4 -16.6M55.1 445.1l-7.5 7.9M56.1 439.2l-1 5.9M79 455.9l-2.3 4.9M36.7 448.5l10.8 4.5M54.2 471.2l1.6 -1.5M73.2 514.7l2.4 -12.8M61.2 487l5.7 3.2M75.6 502l-8.6 -11.8M100.2 516.1l-14.1 -16.9M75.6 502l10.5 -2.8M72.1 463.6l6.5 10.5M67 490.2l11.6 -16.1M252.7 38.3l24.4 16.8M252.7 38.3l-7.2 14.7M250.8 64.7l-5.3 -11.7M250.8 64.7l17 -4.9M267.8 59.8l9.3 -4.7M248.3 81.4l2.4 -16.7M227.8 57.2l17.7 -4.2M269.3 87.6l-1.5 -27.8M293.6 55.3l-6.2 -3.7M287.4 51.5l-.6 -1.4M286.7 50.1l-9.6 5M175.8 37.2l-16.2 23.1M175.8 37.2l-21.8 -3.7M149.7 37.7l4.5 18.5M149.7 37.7l4.2 -4.2M154.2 56.3l5.4 4M158.8 60.6l.8 -.3M178.4 36l-2.6 1.2M156.3 21l-2.3 12.5M130.8 36.9l19 .9M143.2 65.4l11 -9.1M342.9 5.5l-20.3 -2.7M320.5 -10.2l2 13M87 104l-14.5 26.4M57.1 94.3l11.6 38.6M72.5 130.4l-3.8 2.6M98.3 179.6l-18.3 -12.3M98.3 179.6l7.1 -8.3M80 167.3l5.9 -11.8M105.5 171.2l-5.9 -15.8M85.9 155.5l13.7 -.1M64.2 134.5l4.1 -1.7M80 167.3l-6.3 2.8M85.9 155.5l-17.6 -22.6M68.3 132.8l.4 .2M114.1 123l-9.1 7.5M114.1 123l15.2 3.2M129.3 126.2l.6 23.6M105 130.5l0 11.8M105 142.2l18.2 11.1M129.9 149.8l-6.8 3.5M109.7 103.3l4.4 19.7M72.5 130.4l32.5 .1M134.4 119.8l-5.1 6.4M135.9 149.1l-6 .8M99.6 155.4l5.4 -13.1M110.9 169.4l-5.5 1.8M110.9 169.4l12.2 -16M117.8 173.2l-6.9 -3.8M625.2 205.1l-2.7 4.1M622.1 201.3l-33.9 -11.1M622.5 209.1l-30.3 7M592.1 216.1l-5.5 -17.3M586.6 198.8l1.6 -8.6M604.7 179.5l-13.5 7.4M591.2 186.9l-2.9 3.2M589.9 220.4l-5.8 12M589.9 220.4l26.6 6.7M609.5 239.1l10.8 -7M609.5 239.1l-26.2 .6M583.3 239.6l.8 -7.2M616.4 227.2l3.9 4.8M622.5 209.1l-6 18M592.1 216.1l-2.3 4.3M611.1 256.6l-1.5 -17.6M634.9 237.2l-14.5 -5.2M579.2 246.2l-.6 1.9M579.2 246.2l4.1 -6.6M578.7 248.1l31.4 11.8M259 157.6l13.2 12.3M256.3 190l2.1 -1.5M272.2 169.9l-13.9 18.7M439.2 124.1l-9.7 9.6M402.8 122.8l3.7 5.3M424.3 106l-22.5 -1.8M406.5 128l23 5.7M624.2 278.2l2 7M626.2 285.2l-.9 4.9M646.5 308l-21.2 -17.9M634.9 528.5l-19 20.8M653.5 556.1l-37.6 -6.8M631.1 603l-5.1 -18.8M631.1 603l-16.2 4.7M615 607.7l-20.5 -3.1M626 584.2l-10.3 -6.8M615.7 577.4l-27.8 9.8M594.4 604.6l-6.6 -17.4M653.5 556.1l-27.5 28M603.8 639.3l11.1 -31.5M312.9 601l-6.2 -24.8M293.3 615.8l-5.4 -31.2M306.7 576.3l1.8 1.2M308.5 577.5l-20.6 7.1M270.5 598.9l14.1 -20.6M257.5 579.8l20 -6.5M277.5 573.3l7.1 5M287.9 584.6l-3.3 -6.3M157.9 349.9l22.1 -13.8M176.8 329.8l1.1 1.3M180 336l-2.1 -5M228.5 539.4l.4 -8.3M202.5 514.5l23.9 9.8M228.9 531.1l-2.4 -6.8M208.1 480.3l14.7 -4.6M209.8 452.6l9.6 1.5M222.8 475.7l1.5 -17.7M219.5 454l4.8 4M553.5 134.2l19.6 10.1M553.5 134.2l-7.2 3.5M546.2 137.7l-2.8 6.4M543.4 144.1l12.5 12.5M555.9 156.6l12.9 -2.4M568.8 154.2l4.2 -9.9M555.5 125.1l-2 9.1M576.5 139.5l-3.4 4.8M524.9 128.7l21.3 9M504.8 -10.4l1.8 28.8M478.3 11.7l-.1 7M478.2 18.8l16.2 3.3M494.4 22.1l12.3 -3.7M526.6 18.8l-4.7 1.4M521.9 20.2l-15.2 -1.8M445.9 67.2l15.7 -3.8M445.9 67.2l10.8 24.2M468.9 87.6l5.6 -25.1M461.6 63.4l12.9 -.9M461.4 3.2l-12.7 7.2M437.2 5.8l-3.5 1.2M448.7 10.5l-15 -3.5M419.2 69.8l.5 13.5M419.2 69.8l16.1 -9.7M443.9 67.1l-8.6 -7M443.9 67.1l-15.1 20.7M428.7 87.8l-9 -4.5M414.9 67.8l4.3 2M398.7 94.9l21 -11.6M431.1 88.7l-2.4 -1M445.9 67.2l-2 -.1M57.5 201.2l24.3 -.4M65.8 228.5l13.1 -12.1M78.8 216.4l3 -15.6M98.3 179.6l-.2 15.8M73.4 179.5l10.5 17.8M98.1 195.4l-14.3 1.9M127.3 193.9l-23.7 7.6M98.1 195.4l5.5 6.1M83.8 197.3l-2 3.5M79.2 262.2l-15.3 -4.3M79.2 262.2l7.6 11.7M86.7 273.9l-8.1 5.6M78.6 279.5l-21.6 -5.5M57 274l6.9 -16.1M104.5 256.1l-8.1 -10M96.4 246.1l-17.3 16.1M100.9 276.8l-14.1 -2.9M79.9 293.1l-1.3 -13.6M48.6 278.3l8.4 -4.3M62.2 256.1l1.6 1.8M107.2 412.5l13.4 -6.5M123.8 428.8l7.4 -15.6M131.2 413.2l-10.5 -7.2M101.9 388.6l20.9 5.1M120.7 406l2.1 -12.3M128.4 374.3l-.4 13.4M128 387.7l-5.2 6.1M90.6 497.4l-6.2 -22M90.6 497.4l18.7 -4.6M111.6 487.3l-2.2 5.5M111.6 487.3l-13.5 -13.8M98.1 473.6l-13.6 1.9M86.1 499.2l4.5 -1.8M78.6 474.1l5.9 1.3M111.3 500.4l-2 -7.6M123.6 472.6l-12 14.7M99.2 468.1l-1.1 5.4M263.6 25.8l-5.9 -38.3M263.6 25.8l-10.5 8.2M253.1 33.9l-5.8 -6M243.9 7.7l13.9 -20.2M243.9 7.7l2 21.7M245.9 29.3l1.5 -1.4M286.7 50.1l-17 -24.6M269.7 25.5l-6.1 .2M252.7 38.3l.5 -4.4M223.4 44.8l23.9 -16.9M224 12.3l19.9 -4.7M227.6 24.1l18.3 5.2M295.5 2.9l20 10.5M295.5 2.9l-9.6 5.5M286.3 18.8l-.4 -10.4M286.3 18.8l14.2 17M300.5 35.8l7.7 -.7M308.2 35.1l9.1 -11.7M317.3 23.4l-1.7 -10M297.4 -13.9l-1.9 16.8M322.5 2.8l-6.9 10.7M259.3 -17.1l26.6 25.6M269.7 25.5l16.6 -6.7M287.4 51.5l13.1 -15.7M331.3 58.3l-23.1 -23.1M331.2 25.9l-13.9 -2.5M594.7 162.3l-20.7 1.2M594.7 162.3l-6.8 21.3M587.9 183.6l-17.1 -7M573.9 163.5l-3.1 13.1M595.1 158.5l-.5 3.8M568.8 154.2l5.1 9.3M591.2 186.9l-3.3 -3.3M328.5 131.8l9.1 9.7M337.6 141.5l12.6 .9M364.5 128.8l-4.8 8.9M350.1 142.5l9.6 -4.8M233.6 231l2.4 -1.4M245.2 201.2l9.7 18.5M236 229.6l12.7 -4.1M254.9 219.7l-6.2 5.8M609.6 264.9l-13.3 11.5M626.2 285.2l-24.8 .5M601.4 285.7l-5 -9.2M575.6 264.7l3.1 -16.6M575.6 264.7l8.6 11.3M584.2 276l12.1 .5M645.5 499.8l-20.8 .1M617.6 492.6l7.1 7.3M617.6 492.6l5.5 -22.6M623.1 470l10.6 -1.9M615.9 549.3l-.9 3.1M615.7 577.4l-4.4 -15.2M615 552.4l-3.7 9.8M587.9 587.2l-3.4 -12.2M611.3 562.2l-26.8 12.7M624.7 499.9l-1.7 9.2M634.9 528.5l-14 -11.8M623 509.1l-2.1 7.6M579.3 630.5l1.3 -8.5M579.3 630.5l-31.2 23.5M580.6 622l-41.9 12.7M593.3 645.5l-14 -15M594.4 604.6l-17.5 5.9M577 610.5l3.6 11.5M577 610.5l-14.7 -8.1M562.3 602.4l-6.1 2.2M556.1 604.5l-18.9 24.4M537.2 628.9l1.4 5.8M324.5 584.2l24.3 -3.2M324.5 584.2l11.9 12.6M348.8 581l-2 16.7M336.4 596.8l10.3 .9M324.2 615l12.2 -18.2M306.7 576.3l17.8 7.9M349.4 624.6l11.7 -20M361.1 604.6l-14.4 -6.9M413.9 598.5l-8.6 4.9M413.9 598.5l1.4 -18.7M405.3 603.4l-14.3 -12.6M415.2 579.8l-20.8 -11.3M390.9 590.8l3.5 -22.3M379.6 616.9l-5.3 -12.9M401.3 627l4 -23.6M390.9 590.8l-16.7 13.2M361.1 604.6l8.7 0M374.3 604l-4.6 .5M254.6 554l-.2 -3.7M277.5 573.3l-1.2 -14.5M254.4 550.3l22 8.5M210.3 446.9l8 -20.3M177.2 423.7l24.3 -10.4M201.6 413.3l10 6.2M218.3 426.6l-6.7 -7.2M175.5 421.2l-6.1 -14.3M180 389.1l-10.7 17.9M180 389.1l1.7 -4.4M201.6 413.3l-3.4 -9.2M181.7 384.7l16.5 19.3M191.3 330.2l20.2 6.7M191.3 330.2l7 -17.4M211.5 336.9l-6.6 -20.5M198.4 312.8l6.5 3.6M176.6 309.3l16.4 -2.1M177.9 331l13.5 -.8M193 307.3l5.4 5.6M222.4 500.3l1 .4M222.4 500.3l7.8 -18.9M223.4 500.7l19.2 -.3M230.1 481.4l10.7 2.3M240.8 483.7l6.2 8.1M247.1 491.8l-4.5 8.7M207 500.5l15.4 -.2M226.4 524.3l-3.1 -23.6M222.8 475.7l7.3 5.7M244.3 525.3l-1.7 -24.8M244.3 525.3l-15.5 5.8M224.3 458l18.1 8.3M240.8 483.7l7.8 -7.3M248.6 476.3l-6.2 -10M543.4 144.1l-9.9 7.8M555.9 156.6l-11.1 16.9M544.8 173.5l-11.4 -21.5M520.3 129.5l8.8 24.2M533.4 151.9l-4.4 1.8M570.8 176.6l-14.2 6.8M544.8 173.5l2.5 6.3M556.7 183.4l-9.3 -3.6M516.2 50.3l-5 15.9M516.2 50.3l-1.9 .4M514.3 50.7l-12.5 -4.8M511.2 66.2l-17.5 8.4M501.9 46l-14.2 8.5M493.7 74.6l-14.1 -13.5M479.6 61.2l8 -6.7M518.9 81.5l-7.7 -15.2M522.9 51.4l-6.7 -1.1M521.9 20.2l-7.6 30.6M494.4 22.1l7.4 23.9M495.6 82.7l-2 -8.1M478.2 18.8l-6.7 9.7M471.6 28.4l16.1 26.1M474.5 62.5l5.1 -1.3M455.2 35.4l-2 5.8M455.2 35.4l-1.1 -1.7M454.1 33.8l-24 -1.1M453.2 41.3l-16.7 14.1M436.5 55.4l-14.4 -15.6M430.1 32.7l-7.4 2.7M422.1 39.7l.6 -4.4M471.6 28.4l-16.4 7M461.6 63.4l-8.3 -22.1M448.7 10.5l5.4 23.3M433.7 6.9l-3.6 25.7M435.3 60.1l1.2 -4.7M410.9 46.6l11.2 -6.8M411.6 13.9l11.1 21.5M88.8 222.4l18.3 -17.2M88.8 222.4l6.1 19.4M99.7 236.8l-5 3.8M99.7 236.8l5.8 -30.1M105.5 206.7l1.6 -1.5M94.7 240.7l.2 1.1M78.8 216.4l10 6.1M103.7 201.5l3.5 3.7M71.5 238.8l23.4 3M121.4 232.6l-21.7 4.2M96.4 246.1l-1.7 -5.5M120.1 222.1l-14.5 -15.4M146.6 415.2l-8.6 -2.2M146.6 415.2l19 -8.8M138 413l3.6 -17.2M165.6 406.4l-15.3 -16.7M150.3 389.8l-8.7 6M149 430.7l-2.5 -15.5M131.2 413.2l6.8 -.2M169.3 406.9l-3.8 -.5M128 387.7l13.6 8.1M180 389.1l-21.4 -16.5M158.6 372.6l-8.3 17.2M155.9 366.9l2.7 5.7M629.8 421.9l8.6 9.8M629.8 421.9l21 -15.4M633.7 468l-4.5 -28.2M629.2 439.8l7 -3.5M562.3 602.4l5.6 -17.8M584.4 574.9l-1.7 .1M582.8 575.1l-14.9 9.5M623 509.1l-22 4.3M620.9 516.7l-9.9 12.8M601 513.4l10 16.1M615 552.4l-8.2 -9.1M606.8 543.3l4.2 -13.7M433.2 625.1l-1.2 -13.4M433.2 625.1l-2.4 8.5M430.8 633.6l40.9 -14.5M432.1 611.7l3.8 -5M435.9 606.7l18.3 -3.8M454.2 603l17.9 12.8M471.8 619.1l-.6 -1.2M472.1 615.8l-.9 2.1M404.8 635.3l28.4 -10.2M413.9 598.5l18.2 13.3M462.1 643.7l9.6 -24.5M415.2 579.8l10 -1.2M425.2 578.5l8.6 16.2M433.8 594.7l2 12M369.7 604.5l-2 -34.7M367.7 569.8l10.8 -8.2M394.4 568.4l1.1 .1M378.5 561.7l17 6.9M435.7 555.6l-.9 13.1M435.7 555.6l21.4 5.6M434.8 568.7l14.9 9.2M449.7 577.9l7.4 -16.7M425.2 578.5l9.6 -9.8M433.8 594.7l17.6 -12.1M449.7 577.9l1.7 4.7M454.2 603l1.8 -16.4M456 586.6l-4.6 -4M537.2 628.9l-6.3 -2.1M530.8 626.8l-10.3 6.6M254.4 550.3l14 -14.4M276.3 558.8l6.7 -10.1M283.1 548.7l-14.7 -12.8M244.3 525.3l11.2 -4.3M255.6 521l10.3 8.6M268.4 535.9l-2.5 -6.3M209.3 247.8l10 7.5M236 229.6l3.2 18.7M219.2 255.2l19.9 -6.9M219.5 454l20.3 -19.6M218.3 426.6l12.6 -.9M230.8 425.7l9 8.7M242.3 466.3l12 -17.9M254.3 448.4l-4 -12.8M239.8 434.4l10.5 1.2M248.6 476.3l21.7 -2.8M254.3 448.4l9.3 4.7M270.2 473.5l-6.6 -20.4M270.5 421.5l-4.5 -2M270.5 421.5l5.8 27.2M250.3 435.6l15.6 -16M263.6 453.1l12.6 -4.4M371 151.5l.1 12.9M371 151.5l16 -3.6M371 164.4l17.2 7.4M388.2 171.8l12.6 -12.2M387 147.9l13.9 11.7M390.9 131.8l-3.9 16.1M359.7 137.7l11.2 13.8M461.6 127.1l-3.5 18.8M429.5 133.7l.4 3.7M430 137.4l18.7 15.7M458.1 145.9l-9.5 7.1M473.2 119.2l11.3 17.5M484.5 136.7l-21 13.9M458.1 145.9l5.4 4.7M509 172.8l-18.6 -7.9M509 172.8l5.9 -7.1M517.4 167l-2.4 -1.3M517.4 167l-19.3 -24.1M498 142.9l-.6 -2.1M497.4 140.8l-8.9 13M488.5 153.9l1.9 11.1M503.8 135l-5.8 7.9M529.1 153.7l-11.7 13.3M484.5 136.7l12.9 4.1M472.4 157.4l-8.8 -6.8M472.4 157.4l16.1 -3.6M547.3 179.8l-4.6 1M515 165.7l24.3 19.3M539.3 185.1l3.5 -4.3M568.9 200.6l-10.1 -3.3M568.9 200.6l-2.2 20.5M558.7 197.4l-11.3 12.7M547.4 210l2.2 14.8M566.7 221.1l-17 3.7M586.6 198.8l-17.8 1.9M556.7 183.4l2.1 14M584.1 232.4l-17.4 -11.3M542.8 180.7l-6 23.9M536.8 204.6l10.6 5.4M350.1 142.5l-12.8 21.8M337.3 164.3l3.9 2.6M371 164.4l-11.9 6.8M359.1 171.2l-17.8 -4.3M337.6 141.5l-8.8 9M313.4 134.9l-5.2 1M328.8 150.5l-20.7 -14.5M337.3 164.3l-11.3 -6M328.8 150.5l-2.8 7.8M286.7 131.2l21.3 6.8M308 138l.1 -2.1M254.9 219.7l20.7 -5.5M248.7 225.5l11.3 14.3M260 239.9l14.8 -6.5M274.8 233.4l.8 -19.1M258.4 188.6l17.1 7.3M275.5 195.8l1.9 13.7M277.4 209.5l-.3 2M277.1 211.5l-1.5 2.7M612.6 371.3l-19.9 -.4M612.6 371.3l7.6 -15.6M620.1 355.7l-6.9 -8.1M613.2 347.5l-20.8 10.5M592.6 370.9l-7.8 -7.3M592.4 358l-7.6 5.6M645.4 360.3l-25.3 -4.7M636.4 377.4l-20.3 -5.9M616.1 371.5l-3.5 -.3M634 329.7l-19.4 7.4M614.6 337.1l-1.4 10.4M565.8 407.1l20.8 -6.3M565.8 407.1l-7.5 -12M558.3 395.1l6.5 -7M564.9 388.2l20.7 -.4M585.5 387.8l1 13.1M589.9 376.5l2.7 -5.6M589.9 376.5l-4.3 11.3M579.5 365.8l-11.7 3.5M579.5 365.8l5.3 -2.2M567.8 369.3l-2.9 18.9M581.6 452.6l-1.3 1.4M581.6 452.6l8.7 -8.5M580.3 453.9l-27.2 -8.8M564.2 421.6l6.7 .9M564.2 421.6l-4.4 3.6M553.2 445.1l6.7 -19.9M590.3 444l-19.4 -21.6M582.8 575.1l-2.4 -2M580.4 573l-18.9 -17.1M556.7 578.5l11.2 6.1M556.7 578.5l4.6 -22M561.3 556.5l.2 -.6M247.1 491.8l12.9 7.1M255.6 521l4.9 -21.1M259.9 498.9l.6 1M270.2 473.5l2.2 7.9M259.9 498.9l12.5 -17.4M556.1 604.5l-12.5 -10.3M556.7 578.5l-11.4 2.6M545.3 581.1l-1.6 13.2M308.5 577.5l1.9 -5.7M348.8 581l4.2 -12.8M310.5 571.8l16.7 -12.1M327.2 559.7l25.8 8.5M367.7 569.8l-11.6 -3.3M356.1 566.5l-3.1 1.7M310.5 571.8l1.2 .1M329.4 543.7l-2.2 16M329.4 543.7l-20.1 -3.6M309.3 540.1l2.4 31.8M283.1 548.7l5 -.3M311.7 571.8l-23.6 -23.4M388.1 480.3l16 -12.4M388.1 480.3l4.3 18.6M406.8 474.2l10.8 16M406.8 474.2l-2.7 -6.3M417.6 490.2l-25.2 8.7M378.2 480.2l10 .1M378.2 480.2l-7.2 4.1M370.9 484.2l-.5 2.2M370.4 486.4l2.8 21.3M373.2 507.7l20.4 -2.5M392.4 498.9l1.2 6.3M378.2 480.2l1.1 -27.2M404.1 467.9l-13.1 -17.3M379.3 453l11.1 -.2M391 450.5l-.6 2.2M427.1 462.5l3.1 -8.4M427.1 462.5l-20.4 11.7M391 450.5l18.2 -8.7M430.3 454.2l-21.1 -12.4M270.5 421.5l14.8 -4.6M276.2 448.7l9.8 -1M286 447.7l9.6 -16.3M285.2 416.9l10.4 14.5M205.2 354.9l-12.2 21.1M205.2 354.9l-19.1 -5.6M173.1 361.1l20 15.2M173.1 361.1l13 -11.9M193.1 376.3l-.1 -.4M217.6 343.2l-6.1 -6.3M217.6 343.2l-.7 10.4M180 336l6.1 13.2M216.9 353.7l-11.7 1.2M153 364.6l20.1 -3.5M181.7 384.7l11.4 -8.4M198.2 404l15.2 -16.7M213.4 387.4l-20.5 -11.4M211.6 419.4l17.6 -17.9M230.8 425.7l10.3 -19.9M229.1 401.5l12 4.3M213.4 387.4l3.8 1.7M229.1 401.5l-11.9 -12.5M216.9 353.7l12.5 12.4M217.2 389.1l12.2 -23M266 419.5l-14.9 -22M241.2 405.9l9.9 -8.4M434.1 201l8.4 -13M434.1 201l29.5 9.8M442.5 188l24.7 4.6M463.6 210.8l3.6 -18.2M472.6 228.7l-13.6 3.5M472.6 228.7l-1.6 -4.3M459.1 232.2l-14.8 -5.5M471.1 224.4l-7.5 -13.6M444.3 226.8l-14 -24.5M430.3 202.3l3.7 -1.3M441.3 176l-15.8 -6.2M441.3 176l6.9 -8.2M448.2 167.8l-.3 -12.6M447.9 155.3l-20.6 9.1M425.5 169.8l1.8 -5.4M430 137.4l-13.1 15.5M447.9 155.3l.8 -2.2M427.3 164.4l-10.5 -11.5M406.5 128l1 27.6M416.8 152.9l-9.3 2.8M400.9 159.6l6 -3.7M407.5 155.6l-.6 .2M465.3 190.4l26.8 3.7M465.3 190.4l5.3 -13.8M472.8 175.6l-2.3 1M472.8 175.6l13 -2.8M485.9 172.8l12.8 19.9M498.7 192.7l-6.6 1.4M471.1 224.4l21 -30.4M467.2 192.7l-1.9 -2.3M441.3 176l1.2 12M448.2 167.8l22.4 8.8M472.4 157.4l.5 18.1M490.4 164.9l-4.5 7.9M502 191.8l7 -18.9M502 191.8l-3.3 .9M573.7 297.2l-16.3 13.9M573.7 297.2l-10.4 -15.7M557.4 311.1l-12.2 -10.8M545.2 300.3l2.5 -5.1M547.6 295.2l15.7 -13.7M575.6 264.7l-13.1 5.3M584.2 276l-4.7 22.2M573.7 297.2l5.8 .9M562.5 269.9l.8 11.6M472.6 228.7l5 1.7M502 191.8l2.1 3.1M477.6 230.4l7.9 3.4M485.6 233.8l9.7 -8.1M495.3 225.7l8.8 -30.8M539.3 185.1l-26.6 12.9M504 194.9l8.7 3M579.2 246.2l-23.5 -2.2M549.6 224.8l-3 1.9M546.6 226.7l9.1 17.3M547.3 268.8l15.2 1.1M547.3 268.8l-2 -12.7M555.7 244l-10.4 12.2M277.4 209.5l26.2 -16.3M303.6 193.2l6.9 15.3M302.1 223.1l-25.1 -11.6M302.1 223.1l5.9 -5.1M308 218l2.5 -9.5M301.4 185.9l11.5 -10.1M301.4 185.9l-14.3 -7.4M289.6 162.1l-2.7 10M289.6 162.1l16.2 -7.1M305.8 155l7.6 11.3M286.9 172.1l.2 6.4M312.9 175.8l.4 -9.5M275.5 195.8l11.6 -17.3M303.6 193.2l-2.2 -7.3M277.5 139.8l12.1 22.3M272.2 169.9l14.7 2.3M308 138l-2.3 17M326.1 158.3l-12.7 8M544.4 378.4l9.7 16M544.4 378.4l-11.9 3.7M554 394.3l-20.5 11.1M533.5 405.5l-11.4 -16.6M532.5 382.1l-10.4 6.7M549.4 366.4l18.3 2.9M549.4 366.4l-5.1 12M558.3 395.1l-4.3 -.8M564.2 421.6l1.6 -14.5M559.9 425.2l-19.6 -8.1M540.2 417.1l-8.3 -9M531.9 408.1l1.5 -2.7M437.9 321.8l15.8 1.1M437.9 321.8l-12.4 28.6M453.7 322.9l1 25.7M454.7 348.6l0 7.1M454.7 355.7l-5 2.1M449.7 357.8l-24.2 -7.4M449.7 357.8l-2.6 19.2M422.3 350.3l3.2 .1M422.3 350.3l11.4 25.4M433.8 375.7l4.5 1.3M438.3 377l8.9 0M602.4 294.8l-14.8 10.4M602.4 294.8l13.3 9.9M615.7 304.7l-1 12.7M587.6 305.2l1.8 6.1M589.4 311.4l22.5 9M614.6 317.4l-2.7 3M601.4 285.7l1 9.1M579.6 298.2l8.1 7.1M625.3 290.1l-9.6 14.6M639.8 314l-25.2 3.4M614.6 337.1l-1.9 -1.9M612.7 335.2l-.7 -14.8M570.8 321.1l3.1 16M570.8 321.1l15.1 -5.6M585.9 315.5l5.1 19.1M574 337.1l16.6 -.4M590.5 336.6l.6 -2M557.4 311.1l4.1 4.9M561.5 316l9.3 5.1M589.4 311.4l-3.5 4.2M612.7 335.2l-21.6 -.5M579.5 365.8l-16.4 -24.2M563.1 341.6l10.8 -4.6M592.4 358l-1.9 -21.4M616.1 371.5l-2.3 17.6M639.2 390.6l-25.4 -1.5M589.9 376.5l16.9 18.8M613.8 389.1l-7 6.2M614.6 465.5l-1.3 -20M614.6 465.5l-16.7 2.7M581.6 452.6l16.3 15.7M590.3 444l5.7 -2.8M595.9 441.2l17.3 4.3M623.1 470l-8.4 -4.4M629.2 439.8l-7.6 -.6M613.3 445.5l8.3 -6.3M629.8 421.9l-13.7 -1.7M621.5 439.2l-5.5 -19M580.3 453.9l-11.7 21.3M597.9 468.2l-1.4 10.3M568.6 475.2l7.9 8.2M576.5 483.4l20.1 -4.9M617.6 492.6l-17.9 -.2M599.7 492.4l-3.2 -13.9M514.2 515.4l9.1 5.3M514.2 515.4l11.8 -26.1M523.2 520.7l18.9 -4.3M526 489.4l24.2 14.2M542.1 516.4l8.1 -12.9M523.2 520.7l5.7 16.3M528.9 537l11.2 3.8M540.1 540.8l10.6 -8.2M542.1 516.4l8.7 16.2M526 489.4l-.1 -.2M525.8 489.2l18.4 -18.6M544.2 470.6l16.2 8.2M560.4 478.8l-3.4 26.1M550.2 503.5l6.9 1.3M378.5 561.7l-1.6 -20.3M395.5 568.6l11.5 -19M376.9 541.4l4.9 -7.9M381.8 533.5l16.5 -1.6M398.3 531.9l8.7 17.7M435.7 555.6l-7.5 -11.4M428.2 544.2l-.6 -2.7M407 549.6l20.5 -8.1M528.9 537l-7.5 9.6M521.4 546.6l2.6 14.8M540.1 540.8l6.8 14.4M546.9 555.3l-9.9 10.8M537 566.1l-13 -4.7M561.3 556.5l-14.4 -1.2M545.3 581.1l-7.6 -8.4M537 566.1l.7 6.6M503 548l7.2 23.9M503 548l18.4 -1.4M524 561.4l-13.8 10.4M484.3 628.7l23.5 8.6M484.3 628.7l-2.6 30.8M510 634l-8.3 -19.2M481.7 623.4l19.9 -8.6M481.7 623.4l2.6 5.3M471.2 617.9l10.5 5.4M329.4 543.7l4.1 -2.8M309.3 540.1l-1.5 -4.9M333.5 540.9l-6.6 -19.7M307.8 535.2l19.1 -14M364.4 514.3l5.5 -1M364.4 514.3l-22.3 -21.3M370.4 486.4l-27.7 3.5M342.7 489.9l-3.2 1.3M373.2 507.7l-3.3 5.5M339.5 491.3l2.5 1.7M278.8 480.2l6.8 6.8M278.8 480.2l8.8 -20M285.6 487l16.4 -4.8M287.6 460.2l20.1 15.3M307.7 475.5l-5.7 6.7M286 447.7l1.1 2.8M287.1 450.6l.5 9.7M272.4 481.4l6.4 -1.2M313.2 472.9l-5.5 2.6M313.2 472.9l26.4 18.4M309.6 501.1l-7.6 -18.8M309.6 501.1l27 -5.9M336.6 495.2l5.5 -2.2M287.1 450.6l23.5 2.2M295.6 431.4l5.9 -.5M301.5 430.9l13.3 9M314.9 440l-4.2 12.8M313.2 472.9l3.7 -10.4M310.6 452.8l6.2 9.8M342.7 489.9l.7 -18.1M343.4 471.8l-18.9 -9.8M316.8 462.5l7.7 -.5M433.8 375.7l-9.7 8.4M440.8 393.5l-2.5 -16.5M440.8 393.5l-16.2 8M424 384.1l.6 17.4M302.1 223.1l.7 10M274.8 233.4l12 10.9M286.8 244.2l16 -11.1M216.3 297.7l5.8 -8.1M216.3 297.7l-19.4 2.4M222.1 289.6l-11.5 -12.4M210.6 277.3l-11.8 -.3M198.8 277l-5.4 13.4M193.4 290.3l3.5 9.8M193 307.3l4 -7.1M204.9 316.4l16.7 -9.5M221.6 306.9l-5.2 -9.1M230.8 289l-8.6 .7M230.8 289l5.4 -18.7M224 263.1l12.2 7.1M224 263.1l-13.3 14.2M195.3 272.7l3.6 4.3M219.2 255.2l4.7 7.9M175.3 287.4l18.1 2.9M459.1 232.2l-10.7 26.3M442.9 258.5l5.5 0M442.9 258.5l-14.1 -15.7M444.3 226.8l-14.3 9.1M428.8 242.9l1.2 -7M442.9 258.5l-5.4 7M437.5 265.5l-13.2 -7.2M428.8 242.9l-4.5 15.4M388.2 171.8l5.8 16.9M359.1 171.2l2.8 11M361.8 182.2l21 14.2M394.1 188.8l-11.2 7.7M448.4 258.5l12.9 9.9M437.5 265.5l-3.7 13.4M433.8 278.9l10.8 10.1M444.6 289l14.9 -4.4M461.3 268.4l-1.8 16.2M477.6 230.4l-10.8 36.9M461.3 268.4l5.4 -1.1M437.9 321.8l-9.2 -8M428.7 313.8l15.9 -24.8M458.4 320.7l-4.7 2.3M458.4 320.7l8.3 -26.1M466.7 294.6l-7.2 -10M355.6 202.2l2.5 -13.8M355.6 202.2l-15.8 8M358.1 188.4l-22.3 .2M339.8 210.2l-9 -17.3M330.8 192.8l2.8 -3.1M333.5 189.7l2.3 -1.1M371.2 213.8l13.4 -5.4M371.2 213.8l-15.7 -11.6M361.8 182.2l-3.7 6.1M384.7 208.4l-1.8 -11.9M371.2 213.8l-4.6 4.6M342.8 213.9l-3 -3.8M342.8 213.9l8.9 9.5M366.6 218.4l-14.9 5M341.3 166.8l-5.5 21.7M308 218l19.5 8.9M310.5 208.5l20.3 -15.7M327.5 226.8l15.3 -12.9M312.9 175.8l20.6 13.9M525.9 209.7l14.3 17.1M525.9 209.7l-2 -.2M523.9 209.4l-10 15M513.9 224.4l6.2 12.7M540.1 226.8l-12.9 12.9M520 237.1l7.2 2.7M536.8 204.6l-10.9 5.1M546.6 226.7l-6.4 .1M512.7 197.9l11.2 11.5M495.3 225.7l18.6 -1.3M545.3 256.2l-.8 .5M544.5 256.7l-17.3 -17M366.6 218.4l4.5 16.5M351.7 223.4l-2.3 10.8M349.4 234.2l17.5 8.4M371.1 235l-4.2 7.7M424.7 310.4l4 3.4M424.7 310.4l-24.4 25M400.3 335.4l6.5 14.7M422.3 350.3l-3.5 2.4M418.8 352.7l-12 -2.6M424 384.1l-12.8 -4.7M418.8 352.7l-7.6 26.7M406.8 350.2l-17.1 16.4M411.2 379.4l-3.2 3.6M389.7 366.6l18.3 16.4M515.9 388.6l6.2 .2M515.9 388.6l-12.5 -10.3M527.5 358.9l-13.9 -3M527.5 358.9l5 23.2M513.6 355.8l-6.4 4.4M507.2 360.2l-3.8 18.2M513.6 355.8l-2.7 -13M500 357.2l7.2 3M500 357.2l-14.3 -12.8M510.9 342.8l-25.2 1.6M458.4 320.7l26.9 8.4M454.7 348.6l23.5 -.9M478.2 347.7l4.8 -10.1M485.3 329l-2.3 8.5M478.2 347.7l.9 20.5M500 357.2l-20.9 10.9M483 337.6l2.7 6.8M517.9 335l15.5 -13.6M517.9 335l-6.2 .6M511.7 335.6l.1 -4.3M511.9 331.4l-.1 -17.8M511.7 313.6l20.4 7.7M532.1 321.2l1.3 .2M510.9 342.8l.8 -7.2M486.8 322.6l25.1 8.8M486.8 322.6l-1.5 6.4M545.2 300.3l-4.5 6.4M540.6 306.7l-8.5 14.5M561.5 316l-6.7 13.4M533.5 321.5l7.1 10.3M554.8 329.4l-14.3 2.4M517.9 335l17.5 8.7M540.6 331.8l-5.1 12M618.1 420l-16.3 10.8M618.1 420l-1.7 -13.6M601.8 430.8l-7.7 -15.6M616.4 406.4l-8.3 -5.4M594.1 415.2l-.3 -10.9M593.8 404.3l14.3 -3.3M595.9 441.2l5.9 -10.4M616 420.2l2 -.1M644.2 395.6l-27.8 10.8M570.9 422.5l23.2 -7.3M606.8 395.3l1.3 5.7M586.6 400.9l7.2 3.4M576.5 483.4l5.7 12.4M599.7 492.4l-2.4 2.9M582.1 495.8l15.2 -.5M568.6 475.2l-8.1 3.6M557 504.8l15 7.6M582.1 495.8l-10.1 16.6M601 513.4l-2.1 -1.4M598.9 512l-1.6 -16.7M398 506.9l18.3 -.2M398 506.9l2.3 17M400.3 523.9l25.1 3.5M416.3 506.7l11.7 13.9M428 520.6l-2.6 6.9M423.1 494.5l-6.8 12.2M423.1 494.5l-5.5 -4.3M393.6 505.2l4.4 1.7M381.8 533.5l-11.9 -20.2M398.3 531.9l2 -7.9M427.6 541.5l-2.1 -14M472.1 615.8l5.5 -13.1M456 586.6l18.5 -1.6M477.6 602.7l-3 -17.7M466.8 559l9 22.1M466.8 559l-9.7 2.2M474.6 585.1l1.2 -4M537.7 572.7l-13.7 12.8M510.2 571.8l-1.3 6.2M524 585.5l-15 -7.5M543.6 594.3l-13.2 6.6M524 585.5l6.5 15.3M530.8 626.8l-6.4 -24.2M524.5 602.7l6 -1.8M351.1 546.4l-9.3 -8.2M351.1 546.4l14 -10.1M341.8 538.3l6.5 -15.2M365.1 536.3l-5.3 -14.5M359.8 521.8l-11.5 1.2M356.1 566.5l-5 -20.1M333.5 540.9l8.3 -2.6M376.9 541.4l-11.8 -5M331.7 514.8l-.3 4.9M331.7 514.8l16.7 8.3M326.9 521.2l4.4 -1.5M364.4 514.3l-4.6 7.6M331.7 514.8l4.9 -19.6M306.3 511.1l-19.3 -7.9M306.3 511.1l-1.6 .1M304.8 511.2l-4.3 21.5M278.4 519.8l21 10.2M278.4 519.8l2.3 -11.8M299.4 530.1l1.1 2.6M280.7 508l6.4 -4.9M309.6 501.1l-3.2 10M285.6 487l1.5 16.1M331.3 519.7l-26.6 -8.6M307.8 535.2l-7.4 -2.5M265.8 529.6l12.6 -9.8M288.1 548.4l11.3 -18.4M260.5 499.9l20.2 8.1M383 406.2l13.1 14.5M383 406.2l14.2 -11.2M397.1 395l7.7 -1.6M404.8 393.4l12.9 22M396.1 420.8l14.6 .7M410.7 421.5l6.7 -4M417.4 417.5l.3 -2M377.7 377.4l19.4 17.6M377.7 377.4l-5.2 3.6M372.6 381l2.8 25.2M375.4 406.2l7.6 0M377.7 377.4l3.4 -5.4M381.2 372.1l8.6 -5.4M408 383l-3.2 10.4M424.6 401.5l-6.8 14M390.4 452.8l4 -21.5M409.1 441.8l1.6 -20.3M394.5 431.3l1.6 -10.5M430.3 454.2l15.6 -8.9M445.8 445.3l-9.5 -17M436.3 428.3l-18.9 -10.8M217.6 343.2l8.3 -11.3M221.6 306.9l2.5 10.1M225.9 331.9l-1.9 -15M230.8 289l8.6 4.8M243.2 307.6l-19.1 9.4M243.2 307.6l2 -2.1M239.4 293.7l5.8 11.8M327.5 226.8l3.2 4.4M349.4 234.2l-6.4 4.4M330.7 231.2l12.3 7.4M400.3 335.4l-5.7 -.9M381.2 372.1l-7.1 -14.5M374.1 357.6l16.2 -20.6M394.6 334.6l-4.4 2.4M302.8 233.1l10.6 11.5M330.7 231.2l-13.3 14.9M313.4 244.6l4.1 1.4M343 238.6l-5.9 16.3M317.4 246.1l19.6 8.8M440.1 498.2l17.5 -5.4M440.1 498.2l-10.9 -6.7M429.2 491.5l4.7 -9M434 482.5l22.3 -4.1M456.3 478.4l1.4 14.4M423.1 494.5l6.1 -3M440 513.3l.1 -15.1M440 513.3l-12 7.3M427.1 462.5l6.8 19.9M451.2 451.5l-5.4 -6.3M451.2 451.5l9.4 20.1M460.6 471.6l-4.3 6.8M440 513.3l8 2M457.6 492.8l2.7 7.2M448.1 515.3l12.2 -15.2M229.4 366.1l7.3 -1.4M249.9 398.2l3.5 -19.3M249.9 398.2l1.1 -.7M236.7 364.6l16.7 14.3M433.8 278.9l-11.8 9M424.3 258.3l-10.2 2.8M414.1 261.1l7.9 26.7M424.7 310.4l-12.4 -11.4M422 287.9l-9.7 11.2M394.6 334.6l3.9 -33.7M398.6 300.9l9.2 -1.6M412.3 299l-4.6 .2M429 202.8l-8.5 3.5M429 202.8l-10.6 -28.2M420.5 206.3l-27.7 -15.4M392.8 190.8l23.1 -12.6M418.4 174.6l-2.5 3.6M430.3 202.3l-1.3 .5M425.5 169.8l-7.1 4.8M406.9 155.9l9 22.3M394.1 188.8l-1.3 2.1M416.9 217l-30.5 -3.7M416.9 217l-3.9 11.9M408.8 233.2l4.1 -4.2M408.8 233.2l-17.6 -7.2M391.3 225.9l-4.9 -12.6M384.7 208.4l1.7 4.9M420.5 206.3l-3.6 10.8M430 235.8l-17 -6.9M385.2 235.4l-14 -.5M385.2 235.4l6.1 -9.5M485.6 233.8l14.8 17.1M466.8 267.3l16.5 3M483.3 270.3l17.1 -19.3M544.5 256.7l-35 4.9M520 237.1l-16.1 16.8M509.5 261.6l-5.5 -7.7M503.9 253.9l-3.5 -2.9M553.2 445.1l-2 3M540.2 417.1l-10.1 13.1M530.2 430.2l21 17.9M515.8 475.1l-.1 -8.3M515.8 475.1l10.1 14.1M544.2 470.6l2.2 -11.7M515.7 466.8l16.2 -9.9M531.9 456.9l14.6 2M551.1 448.1l-4.7 10.8M515.8 475.1l-24.6 11.4M491.2 486.5l-3.5 -10.3M487.6 476.2l1.3 -18.7M515.7 466.8l-7.9 -17.8M507.8 449l-18.9 8.5M451.2 451.5l20.9 -11.4M460.6 471.6l27 4.6M488.9 457.5l-16.8 -17.4M454.7 355.7l15.5 20.8M447.2 377l22 -1.2M469.2 375.8l1 .8M479.1 368.1l-1.7 5.8M470.2 376.5l7.2 -2.6M503.4 378.4l-12.4 1.7M477.4 373.9l13.6 6.1M515.9 388.6l-8.9 12.7M507 401.3l-16.3 1M491 380.1l-.3 22.2M562.9 344.2l-2.6 -2M562.9 344.2l-9.3 23.1M560.3 342.2l-24.2 7M553.7 367.2l-18.9 -16.9M534.8 350.3l1.4 -1.1M563.1 341.6l-.2 2.5M554.8 329.4l5.5 12.8M549.4 366.4l4.3 .8M535.4 343.7l.7 5.5M527.5 358.9l7.3 -8.6M584.6 517.5l-9.9 .6M584.6 517.5l18.3 27.1M574.8 518.2l-4.3 13.4M588.6 548.8l14.4 -4.2M588.6 548.8l-19 -6.4M569.6 542.4l.8 -10.8M572.1 512.4l2.7 5.7M598.9 512l-14.2 5.6M606.8 543.3l-3.8 1.3M550.8 532.6l19.7 -1.1M580.4 573l8.2 -24.3M561.5 555.9l8.1 -13.5M500.6 578.1l-6.8 20M500.6 578.1l6.3 -1.3M506.9 576.8l2.7 26M493.8 598.1l9.7 8M503.4 606.1l6.1 -3.3M499.1 580.4l1.4 -2.3M499.1 580.4l-23.4 .7M477.6 602.7l16.2 -4.6M499.4 546.4l-14.7 6.8M499.4 546.4l3.6 1.6M484.7 553.2l14.4 27.2M509 578.1l-2.1 -1.3M524.5 602.7l-14.9 .2M501.6 614.8l1.8 -8.7M394.5 431.3l-18.3 -1.2M375.4 406.2l-7.7 2.4M367.8 408.6l8.4 21.5M249.9 398.2l30.8 2.4M253.5 378.9l5.8 -7M259.2 371.9l28.8 6.4M288 378.3l-7.3 22.3M285.2 416.9l2.5 -7.1M301.5 430.9l12.7 -17.5M314.2 413.5l-10.1 -9.3M304.2 404.2l-16.5 5.6M280.7 400.6l7 9.3M239.2 332.3l10.4 -8.5M239.2 332.3l8.9 9.1M249.6 323.7l21.2 -2.4M248.1 341.4l17.7 2.5M270.9 321.4l5.4 17.5M265.8 343.9l10.5 -5.1M243.2 307.6l6.5 16.2M225.9 331.9l13.3 .4M236.7 364.6l11.4 -23.2M259.2 371.9l6.6 -28M285.2 341.2l-8.9 -2.4M285.2 341.2l5 34.4M288 378.3l2.2 -2.7M366.9 242.6l-.2 10.1M337 254.9l6.3 11.5M343.3 266.4l23.4 -13.6M484.7 553.2l-8.4 -1.6M466.8 559l5.7 -7.1M472.4 551.9l3.8 -.2M428.2 544.2l27 -8.9M472.4 551.9l-17.3 -16.6M448.1 515.3l5.7 11.7M455.2 535.3l-1.4 -8.3M474.9 506.9l-.1 8.1M474.9 506.9l17.3 -17.6M492.2 489.3l18.3 27.4M479.2 518.7l-4.5 -3.7M479.2 518.7l24.2 3.3M510.5 516.7l-7.1 5.3M460.3 500.1l14.6 6.8M453.7 527l21 -12M491.2 486.5l1 2.8M514.2 515.4l-3.7 1.3M476.3 551.6l2.9 -32.9M499.4 546.4l4 -24.4M245.2 305.5l21.6 -.2M270.9 321.4l3.7 -7.5M266.8 305.3l7.8 8.5M285.2 341.2l12.3 -5.2M300.2 335.8l-2.6 .1M300.2 335.8l-5.1 -27.3M274.6 313.8l20.5 -5.3M404.4 262.2l6.3 -2.1M404.4 262.2l-21.2 -6.2M410.8 260l-1 -16.8M409.8 243.3l-22.1 4.7M387.6 248l-4.4 7.9M414.1 261.1l-3.4 -1.1M397.8 275.6l10 23.6M397.8 275.6l6.6 -13.5M397.8 275.6l-18.9 -.4M378.9 275.2l-3.5 -11.9M375.4 263.4l7.9 -7.5M408.8 233.2l.9 10.1M385.2 235.4l2.5 12.6M366.7 252.7l8.7 10.6M547.3 268.8l-10.2 2.5M509.5 261.6l2.3 1.8M511.7 263.3l25.3 8M547.6 295.2l-11.3 -12.5M537.1 271.3l-.7 11.4M483.1 293.3l3.8 -9.9M483.1 293.3l11.3 20.5M487 283.4l24.6 5.2M494.5 313.8l17.2 -9.3M511.6 304.4l2.4 -6.3M511.5 288.6l2.9 3.3M514 298.2l.4 -6.2M466.7 294.6l16.4 -1.3M483.3 270.3l3.6 13.1M486.8 322.6l7.7 -8.8M511.7 263.3l-.2 25.3M511.7 313.6l-.1 -9.1M540.6 306.7l-26.6 -8.5M536.3 282.7l-21.9 9.2M521.1 446.2l6 -12.8M521.1 446.2l-10.8 2.9M510.3 449.1l-6 -20.6M527 433.4l-11.8 -13.8M504.3 428.4l8.7 -12.2M515.2 419.6l-2.2 -3.4M530.2 430.2l-3.1 3.2M531.9 456.9l-10.8 -10.7M507.8 449l2.5 0M483.7 426.9l20.6 1.5M483.7 426.9l-7.5 5.1M476.2 432l-4.1 8.2M531.9 408.1l-16.7 11.5M507 401.3l6 14.9M483.7 426.9l2.4 -24.4M486.1 402.5l4.6 -.2M472.6 400.1l-6.1 -16.7M472.6 400.1l-9.6 12M466.5 383.4l-15.6 14.8M450.9 398.2l5.4 13.4M463 412.1l-6.7 -.5M469.2 375.8l-2.7 7.7M486.1 402.5l-13.4 -2.3M476.2 432l-13.2 -19.9M440.8 393.5l10.1 4.8M436.3 428.3l20 -16.7M370.9 484.2l-16.8 -29M343.4 471.8l10.2 -11.4M354.1 455.2l-.5 5.2M379.3 453l-6.6 -1.4M354.1 455.2l18.5 -3.6M376.2 430.1l-5.9 10.7M372.7 451.6l-2.4 -10.8M344.5 409.8l-14.8 12M344.5 409.8l12.1 3.3M356.6 413.1l4.7 19.4M361.3 432.5l-19.8 8M329.7 421.8l-2 7.8M327.7 429.6l14.5 13.2M342.3 442.8l-.7 -2.3M372.6 381l-3.6 -4.2M369 376.9l-25.4 25.4M343.6 402.3l.9 7.5M367.8 408.6l-11.1 4.5M370.3 440.8l-8.9 -8.3M353.7 460.4l-12.1 -19.9M314.9 440l12.9 -10.4M314.2 413.5l15.5 8.3M324.6 462l17.7 -19.2M270.5 262.1l-10.7 19.9M270.5 262.1l-17.4 -10.5M245.2 263.8l.9 -11.8M245.2 263.8l13.1 16.7M258.3 280.5l1.5 1.5M253.2 251.7l-7 .4M239.2 248.3l7 3.7M236.2 270.2l9.1 -6.4M239.4 293.7l18.9 -13.2M266.8 305.3l1.5 -14.9M268.3 290.4l-8.5 -8.4M260 239.9l-6.9 11.8M286.8 244.2l-3.5 6.7M313.4 244.6l-4.9 17.6M283.2 250.9l25.2 11.4M270.5 262.1l3.6 -1.9M283.2 250.9l-9.1 9.3M338.6 327.6l-4.8 18.9M338.6 327.6l11.5 -2.6M350.1 325l8.9 12.8M333.8 346.5l18.4 6.1M352.2 352.6l7.2 -7.7M359.5 344.8l-.5 -7.1M306.8 331.9l22.4 20.8M306.8 331.9l13.8 -14M320.6 317.9l11 -.1M331.6 317.8l7 9.8M329.2 352.7l4.5 -6.2M369 376.9l-17.8 -5.4M374.1 357.6l-14.6 -12.8M351.1 371.4l1.1 -18.9M390.2 337l-12.2 -7.4M378 329.6l-19 8.1M398.6 300.9l-8.4 -.4M378 329.6l-1.7 -11.4M390.2 300.5l-13.9 17.7M350.1 325l9.4 -12.5M376.3 318.1l-16.9 -5.7M333.1 281.9l5.2 5.8M333.1 281.9l7.1 -5.4M340.2 276.5l34.5 3.2M338.2 287.7l21 15.5M359.2 303.2l20.4 -12.9M374.7 279.7l4.8 10.7M343.3 266.4l-3.1 10.1M378.9 275.2l-4.2 4.4M331.6 317.8l6.7 -30M359.4 312.4l-.2 -9.2M390.2 300.5l-10.6 -10.1M326.9 362.2l19.7 14.2M326.9 362.2l-16.7 11.2M311.6 385.8l-3.4 -9.2M311.6 385.8l27.1 10M338.7 395.8l7.8 -19.3M310.1 373.4l-1.9 3.1M329.2 352.7l-2.4 9.5M351.1 371.4l-4.6 5M306.8 331.9l-6.6 4M297.6 336l12.6 37.5M290.2 375.6l18 1M304.2 404.2l7.5 -18.4M343.6 402.3l-4.9 -6.5M322.1 282l-14.4 14.6M322.1 282l-12.1 -15.7M310.1 266.2l-22.9 5.8M307.7 296.5l-5.9 3.2M301.8 299.7l-16.4 -16.4M285.4 283.3l1.8 -11.2M320.6 317.9l-12.9 -21.4M333.1 281.9l-10.9 .1M308.4 262.3l1.6 4M274.1 260.2l13.1 11.9M295.1 308.5l6.8 -8.8M268.3 290.4l17.1 -7.1" stroke="#fff" stroke-opacity="0.2" stroke-width="7" fill="none" stroke-linecap="round"/><circle cx="138.9" cy="221.8" r="7.9" fill="#fff" fill-opacity="0.32"/><circle cx="358.1" cy="188.4" r="8.5" fill="#fff" fill-opacity="0.31"/><circle cx="268.4" cy="535.9" r="8.7" fill="#fff" fill-opacity="0.28"/><circle cx="123.8" cy="428.8" r="7.7" fill="#fff" fill-opacity="0.30"/><circle cx="139.8" cy="302.7" r="6.2" fill="#fff" fill-opacity="0.32"/><circle cx="598.9" cy="512" r="6.1" fill="#fff" fill-opacity="0.24"/><circle cx="42.8" cy="111" r="8.4" fill="#fff" fill-opacity="0.20"/><circle cx="580.6" cy="622" r="10.6" fill="#fff" fill-opacity="0.15"/><circle cx="48.6" cy="278.3" r="6.8" fill="#fff" fill-opacity="0.27"/><circle cx="333.5" cy="540.9" r="7.5" fill="#fff" fill-opacity="0.25"/><circle cx="337.6" cy="141.5" r="10.9" fill="#fff" fill-opacity="0.20"/><circle cx="471.2" cy="617.9" r="6.6" fill="#fff" fill-opacity="0.21"/><circle cx="448.6" cy="153.1" r="6.4" fill="#fff" fill-opacity="0.23"/><circle cx="509" cy="172.8" r="7.5" fill="#fff" fill-opacity="0.29"/><circle cx="342.3" cy="442.8" r="9.2" fill="#fff" fill-opacity="0.21"/><circle cx="307.8" cy="535.2" r="10.9" fill="#fff" fill-opacity="0.20"/><circle cx="447.9" cy="155.3" r="9.9" fill="#fff" fill-opacity="0.25"/><circle cx="376.2" cy="430.1" r="10.4" fill="#fff" fill-opacity="0.20"/><circle cx="123.4" cy="518" r="7.2" fill="#fff" fill-opacity="0.21"/><circle cx="558.7" cy="197.4" r="9.8" fill="#fff" fill-opacity="0.32"/><circle cx="554" cy="394.3" r="6.1" fill="#fff" fill-opacity="0.27"/><circle cx="335.8" cy="188.6" r="5.2" fill="#fff" fill-opacity="0.30"/><circle cx="515.9" cy="388.6" r="6.5" fill="#fff" fill-opacity="0.17"/><circle cx="333.5" cy="189.7" r="11" fill="#fff" fill-opacity="0.29"/><circle cx="157.8" cy="487" r="6.4" fill="#fff" fill-opacity="0.31"/><circle cx="117.8" cy="254.8" r="5.2" fill="#fff" fill-opacity="0.22"/><circle cx="309.3" cy="540.1" r="6" fill="#fff" fill-opacity="0.26"/><circle cx="209.4" cy="555.4" r="8.4" fill="#fff" fill-opacity="0.30"/><circle cx="478.2" cy="347.7" r="10.6" fill="#fff" fill-opacity="0.22"/><circle cx="573.4" cy="68.6" r="5.3" fill="#fff" fill-opacity="0.23"/><circle cx="49.9" cy="350.6" r="9.1" fill="#fff" fill-opacity="0.24"/><circle cx="322.5" cy="2.8" r="6.6" fill="#fff" fill-opacity="0.27"/><circle cx="137.6" cy="234.4" r="8.3" fill="#fff" fill-opacity="0.27"/><circle cx="50.8" cy="569.6" r="10.7" fill="#fff" fill-opacity="0.32"/><circle cx="300.2" cy="335.8" r="5.6" fill="#fff" fill-opacity="0.30"/><circle cx="540.6" cy="331.8" r="7.2" fill="#fff" fill-opacity="0.28"/><circle cx="128.7" cy="446" r="7.5" fill="#fff" fill-opacity="0.34"/><circle cx="61.8" cy="162" r="9.8" fill="#fff" fill-opacity="0.29"/><circle cx="72.6" cy="389.6" r="6.5" fill="#fff" fill-opacity="0.17"/><circle cx="616.4" cy="406.4" r="5.8" fill="#fff" fill-opacity="0.26"/><circle cx="17.9" cy="372.1" r="7.3" fill="#fff" fill-opacity="0.35"/><circle cx="54.4" cy="332" r="7.5" fill="#fff" fill-opacity="0.19"/><circle cx="214" cy="552.5" r="10.7" fill="#fff" fill-opacity="0.25"/><circle cx="163.2" cy="575.8" r="9.8" fill="#fff" fill-opacity="0.20"/><circle cx="138.1" cy="539.8" r="8.3" fill="#fff" fill-opacity="0.30"/><circle cx="197.2" cy="475.5" r="10.9" fill="#fff" fill-opacity="0.16"/><circle cx="290.7" cy="73.1" r="8.4" fill="#fff" fill-opacity="0.31"/><circle cx="385.2" cy="235.4" r="6.7" fill="#fff" fill-opacity="0.22"/><circle cx="610.1" cy="101.1" r="6.4" fill="#fff" fill-opacity="0.18"/><circle cx="223.3" cy="53.5" r="6.9" fill="#fff" fill-opacity="0.29"/><circle cx="546.9" cy="555.3" r="6.3" fill="#fff" fill-opacity="0.32"/><circle cx="513" cy="416.2" r="6.2" fill="#fff" fill-opacity="0.24"/><circle cx="559" cy="7.4" r="10.6" fill="#fff" fill-opacity="0.31"/><circle cx="391.3" cy="225.9" r="10.5" fill="#fff" fill-opacity="0.16"/><circle cx="169.4" cy="304.6" r="6.9" fill="#fff" fill-opacity="0.20"/><circle cx="5.9" cy="535" r="9.9" fill="#fff" fill-opacity="0.16"/><circle cx="329.7" cy="421.8" r="6.7" fill="#fff" fill-opacity="0.32"/><circle cx="594.4" cy="604.6" r="7.2" fill="#fff" fill-opacity="0.21"/><circle cx="442.5" cy="188" r="6.9" fill="#fff" fill-opacity="0.22"/><circle cx="625.3" cy="290.1" r="9" fill="#fff" fill-opacity="0.22"/><circle cx="72" cy="60.3" r="7.2" fill="#fff" fill-opacity="0.31"/><circle cx="469.2" cy="375.8" r="7.9" fill="#fff" fill-opacity="0.32"/><circle cx="248.6" cy="476.3" r="6.9" fill="#fff" fill-opacity="0.18"/><circle cx="207.5" cy="41.1" r="9.8" fill="#fff" fill-opacity="0.22"/><circle cx="68" cy="32.2" r="6.9" fill="#fff" fill-opacity="0.18"/><circle cx="330.8" cy="192.8" r="10.2" fill="#fff" fill-opacity="0.34"/><circle cx="13.2" cy="179" r="8.3" fill="#fff" fill-opacity="0.16"/><circle cx="418.4" cy="174.6" r="5.9" fill="#fff" fill-opacity="0.34"/><circle cx="211.5" cy="336.9" r="7.6" fill="#fff" fill-opacity="0.25"/><circle cx="209.6" cy="103.4" r="8.1" fill="#fff" fill-opacity="0.28"/><circle cx="564.2" cy="421.6" r="7.9" fill="#fff" fill-opacity="0.34"/><circle cx="338.6" cy="327.6" r="9.2" fill="#fff" fill-opacity="0.21"/><circle cx="422.1" cy="39.7" r="9.6" fill="#fff" fill-opacity="0.22"/><circle cx="476.2" cy="432" r="5.2" fill="#fff" fill-opacity="0.26"/><circle cx="463.6" cy="210.8" r="8.4" fill="#fff" fill-opacity="0.35"/><circle cx="94.7" cy="240.7" r="5.1" fill="#fff" fill-opacity="0.22"/><circle cx="151.2" cy="485" r="9.4" fill="#fff" fill-opacity="0.20"/><circle cx="333.1" cy="281.9" r="5.9" fill="#fff" fill-opacity="0.22"/><circle cx="353" cy="568.2" r="10.7" fill="#fff" fill-opacity="0.26"/><circle cx="4.7" cy="391.6" r="10.9" fill="#fff" fill-opacity="0.35"/><circle cx="193" cy="376" r="8.3" fill="#fff" fill-opacity="0.31"/><circle cx="622.4" cy="3" r="8" fill="#fff" fill-opacity="0.26"/><circle cx="100.9" cy="276.8" r="10.6" fill="#fff" fill-opacity="0.32"/><circle cx="48.1" cy="401.1" r="9.6" fill="#fff" fill-opacity="0.19"/><circle cx="170.8" cy="278.3" r="5.9" fill="#fff" fill-opacity="0.29"/><circle cx="13.9" cy="568.2" r="5.7" fill="#fff" fill-opacity="0.20"/><circle cx="555" cy="15.4" r="7.5" fill="#fff" fill-opacity="0.21"/><circle cx="596.8" cy="88.5" r="7.5" fill="#fff" fill-opacity="0.30"/><circle cx="40.6" cy="422.6" r="9.8" fill="#fff" fill-opacity="0.28"/><circle cx="454.7" cy="348.6" r="8.3" fill="#fff" fill-opacity="0.18"/></g><g filter="url(#fa1)" fill="none" stroke-linecap="round" stroke-width="2.1"><path d="M-5.8 615.4q8.8 -5.6 19.2 -6.1M-5.8 615.4q10.1 12.4 19.7 25.1M336.5 628.7q-3 -3.5 -6.8 -6.2M312.9 601q-8.4 9.3 -18.5 16.7M375.1 631q-5.6 1.4 -10.4 4.4M251.4 564.9q-11.2 3.9 -22.3 8.2M203.7 580.8q2.7 -10 1.3 -20.4M209.4 555.4q-2.2 2.6 -4.4 5.1M-17.7 596.5q6.7 -4.8 14.9 -6.1M15.5 600.1q-5.3 -6.1 -11.2 -11.6M166.7 191.8q-9.9 3.8 -19 9.3M-23.6 80.8q14.6 -4.9 25.4 -15.7M1.8 65.1q1.5 2.6 3.3 5.1M635.8 95q-6.8 -3.8 -10.6 -10.6M635.8 95q-4 7.4 -7.7 15M610.1 101.1q9.2 3.9 18 8.9M620.1 84.5q-5.8 4.2 -12.5 6.7M-38.1 223.3q18.9 4.5 38.1 7.5M0 230.9q1.6 -6.7 4 -13.2M79.7 439.4q5 -1.6 9.1 -5M134.2 167q5.5 5.2 8.5 12.1M142.7 179.1q-5.8 7.7 -8.5 17M134.2 196.1q-2 .2 -3.9 1M-6.6 381.4q14.7 1.8 24.5 -9.3M126 552.1q5.3 -6.9 12.1 -12.3M197.2 475.5q.4 -7.5 -.2 -14.9M197 460.6q-11.3 -2.1 -22.8 -2.5M208.1 480.3q-5.3 -2.6 -10.9 -4.8M161.9 632q5.4 -3.1 10.3 -7.1M96.2 593q9.4 -13.2 23.2 -21.6M164.8 607.4q-5 -1.9 -9.7 -4.3M155.1 603.1q-5.4 -9.2 -13.7 -15.9M138.1 539.8q.4 .3 .9 .5M23.7 565q1.1 .6 1.8 1.6M50.3 559.7q8.7 -1.9 17.6 -2.9M91.6 565.9q-2.4 2.6 -4.6 5.4M126.1 233.2q5.9 -.7 11.5 1.3M117.8 254.8q8.8 11.4 13.8 24.9M144.5 266.2q-2.9 3.1 -5.7 6.2M130.3 197.1q-1.4 -1.7 -3 -3.2M181.9 255q-2.5 -6.7 -4.2 -13.6M173 217.2q-2.3 9.8 -.7 19.8M206 178.9q-4.5 9.8 -11 18.5M180.9 166.4q2.5 -1.9 5.6 -1.8M221.2 178.3q1.2 -.1 2.3 .2M163.4 194.1q7.3 -1.4 14.4 -3.6M175.2 164.3q2.8 1.1 5.7 2M3.9 149.4q-1.7 8.3 -8.4 13.5M10.8 123.7q-6.8 -.2 -13.3 1.8M156.8 106.7q-5.6 5.9 -3.7 13.8M156.8 106.7q-9.1 -6.1 -16.9 -13.9M139.9 92.8q-3 3.2 -6.9 5.1M186.5 162.2q-1.4 -13.8 -9.7 -25M107.2 62.6q-7.5 -9.4 -12.8 -20.2M121.8 25.5q-5.1 -.3 -9.8 1.7M112 27.2q-7.1 -8.1 -13.9 -16.3M86.2 6.9q6.4 .5 11.8 4.1M84.2 43.4q.8 -.1 1.6 -.3M68 32.2q8.2 -11.6 11.7 -25.3M596.8 88.5q5.9 -.7 10.8 2.7M596.8 88.5q-3.1 1 -6.4 1.5M602 115.8q-.5 1.2 -1 2.3M622.2 124.2q-11 -1.7 -21.3 -6M625.7 181.4q-10.1 -5.4 -21 -1.9M619.4 149q-3 -1 -4.3 -3.9M621.2 128.3q.9 -2 1.1 -4.1M601 118.2q-.6 5.2 -.8 10.5M577.3 84q6 4.3 13.2 6M546.2 -12.6q-10.1 3.9 -18.1 11.2M546.2 -12.6q3.9 11.6 12.9 19.9M580.7 -17.6q-12.5 10.8 -20.8 25M528.1 -1.4q-.2 2.4 -.9 4.8M612.9 31.1q-1.7 9.2 2 17.8M592.4 34.9q-3.3 12.4 -.1 24.8M592.4 59.7q4.1 -.2 8.1 .9M600.5 60.5q0 -.9 -.1 -1.7M566.1 40.1q4.3 -2.9 6.1 -7.9M7.5 359q.8 -6.6 -1.1 -13M40.6 422.6q5.9 -10 7.5 -21.5M59.6 402.7q4.2 -3.3 7.2 -7.7M2.5 456.3q-8.2 -7.8 -11.4 -18.6M11.4 453.6q-4.4 1.6 -8.9 2.8M4 217.7q5 -.1 9.8 -.9M13.2 179q4.6 13.3 10.2 26.1M29.4 365.7q7.6 4.6 13.9 10.9M49.1 372.8q1.1 -6.8 3.8 -13M54.4 332q-5.7 8.5 -4.5 18.6M65.4 375.9q3.8 6.8 7.2 13.8M44.9 393.9q.9 -8.8 -1.6 -17.3M17.3 381.3q3.3 9.4 12.7 13M95.5 405q.4 -6.4 2.8 -12.4M89.6 353.4q-6.3 5.3 -11.9 11.3M77.7 364.8q-1.1 .2 -2.3 .1M75.4 364.9q-4.5 -2.9 -8.3 -6.7M65.4 375.9q3.9 -6.5 10 -11M74.4 386.8q6.3 -2.9 10.8 -8.1M94.4 524.3q2.3 -4.5 5.8 -8.2M111.8 609.8q-14.4 9.9 -16.3 27.3M150.5 635.1q-2.1 -3.1 -2.8 -6.8M155.1 603.1q-1.2 7.7 -6.8 13.2M11.4 453.6q8 4.1 16.4 7.2M1.1 478q11.7 -11.1 26.6 -17.2M170.8 278.3q2.3 4.5 4.5 9.1M314.6 77q-7.7 1.1 -15 4M290.7 73.1q1.5 -8.9 2.8 -17.8M230 114q-10.4 7.3 -14.4 19.3M222.4 99.2q-6.6 1.3 -12.7 4.2M259.6 90.3q-4.9 -5.4 -11.3 -8.9M248.3 81.4q-8.9 .3 -17.7 .4M239.8 113.4q3.7 .2 7.4 .2M239.8 113.4q-4.8 2.1 -9.8 .7M192.1 93.1q-4.8 9.4 -10.2 18.5M170.3 85.8q-14.5 -1.1 -28.7 -4M187.2 88.1q-6.1 -1.9 -12.4 -2.5M334.9 92.3q7.3 2.4 14.8 .8M314.6 77q.4 13.4 6.1 25.4M365.6 65.7q-2.4 1.4 -5 2.7M336.3 113.4q-5.1 -7.3 -13.5 -10.4M24.2 121.6q-4.2 10.3 -9.3 20.3M120.6 96.4q5 -10.4 4.3 -22M34.9 157.6q10.9 -4.1 17.8 -13.5M54.9 143.2q-1.2 0 -2.2 .8M42.3 14.5q7.7 -6.9 14 -15.2M72.5 9.2q-6.6 -7.4 -16.1 -9.9M98 10.9q5.9 -8.9 13.5 -16.4M32.6 13.8q-5.3 -8.2 -5.9 -18M32.6 13.8q-8.1 3.5 -16.9 3.5M15.9 38.7q-8.1 3.9 -16.3 7.3M15.9 38.7q-2.8 -10.7 -.2 -21.5M139.8 302.7q5.5 -8.1 14.7 -11.4M129 331.2q1.3 2.8 .7 5.7M114.2 311.2q2.8 1.9 5.8 3.2M36 49.5q10.4 -4.5 21.1 -8M15.9 38.7q11.2 4.2 16.7 14.8M28.5 69.9q3.8 -4.2 6.9 -8.8M36.7 17.3q-1.5 16.1 -.7 32.3M64 35.4q-2.4 4.2 -6.9 6.1M72.1 73q-.7 -1.1 -1.5 -2M21.4 95.2q8.9 8.7 7.2 21.1M64.2 134.5q-10.6 -11.9 -21.4 -23.5M622.4 3q16.6 13 36.6 6.4M626.4 -9.3q-1.7 6.2 -4 12.2M547.2 67.9q-3.2 6.2 -4.2 13M431.1 88.7q-.8 9.7 -6.9 17.3M547.2 67.9q-13.8 -5 -22 -17.1M539.7 40.2q-6.6 6.1 -14.5 10.5M.5 246.9q16 -6.1 31.8 .2M16.3 268.3q7.1 -3.4 14.9 -5.1M183.6 495.9q-11.1 2.7 -22 -.7M150.6 459q-1.8 2.7 -2.9 5.8M122.7 470.1q2.6 12.2 13 19.2M185.8 529.4q-16.4 -4 -29 -15.2M150.6 459q-3.9 -6.1 -7.9 -12.2M95.5 378.9q3.9 5.3 7.9 10.5M114.1 373.6q-4.6 -5.7 -9.8 -10.7M89.6 353.4q4.5 8.1 13.7 9.3M95.5 405q5.6 4.2 11.7 7.5M10.5 488.4q6.2 -2.8 12.9 -1.4M10.5 488.4q-1.1 4.4 -3.2 8.5M99.3 435.9q3 12.1 -1.8 23.7M59.9 517.1q6.3 -3.3 13.3 -2.4M59.9 517.1q-5.2 -5.4 -10.3 -11M267.8 118.3q6.5 7.9 7.1 18.2M267.8 118.3q6.8 -10 13 -20.4M286.7 131.2q6.6 -12.5 10 -26.2M247.3 113.6q10.3 2.3 20.5 4.7M269.3 87.6q.2 .8 .3 1.6M220.6 6q-5.6 5.1 -12.5 8M207.5 41.1q6.9 3.6 14.4 1.5M156.3 21q8.7 -2.5 17.1 -6M156.3 21q-4.1 -3.7 -7.5 -8.2M223.3 53.5q-7.3 5.8 -15.6 10.1M207.7 63.6q-1.7 -4.2 -5 -7.3M202.7 56.3q-8.7 -.4 -17.2 -2.1M177.1 17.7q-.6 9.2 1.2 18.3M193 32.2q-3.5 4.1 -7.3 8M203.3 14q-4.8 1.2 -9.6 2.7M185.5 54.2q.9 -7 .3 -14M364.3 34.6q2.1 3.8 5.1 6.9M369.3 41.5q10.6 -2.8 20.1 -8.1M356.5 16.7q10.5 -9.6 19.7 -20.4M331.3 58.3q6.2 -8.5 12 -17.4M343.3 40.9q-8.6 -5.4 -12 -15M350.9 -28.6q-8.5 16 -8.1 34.1M351.7 13.1q-4.7 -3.4 -8.9 -7.6M98.6 97.9q-6.1 2.4 -11.6 6.1M611.1 256.6q9.5 1.1 18.6 -1.8M402.8 122.8q-5.9 4.6 -11.9 9.1M402.8 122.8q-2.2 -9.2 -1 -18.6M401.8 104.2q-2.2 -3.3 -4 -6.7M210.3 446.9q-12.3 -2.8 -23.4 -8.8M510.4 103.1q5.3 1.6 10.7 .5M503.8 135q.4 -9.1 -4 -17M503.8 135q8.9 -.7 16.4 -5.5M461.4 3.2q10.1 1 17 8.5M442.5 -6.9q-.7 7.2 -5.3 12.7M393.1 16.2q9.2 -1.6 18.6 -2.4M521.1 94.8q1.4 -4 2.7 -8.1M495.6 82.7q11.6 -.8 23.3 -1.2M410.9 46.6q-5.2 -1.7 -10.1 -4.3M30.2 230.3q2.8 3.7 5.2 7.7M35.4 238q3.8 1.2 7.8 1M57.5 201.2q-1.7 2.8 -4.6 4.3M31.1 263.2q7.8 8.6 17.5 15.1M68.9 317.5q-5.3 -3.8 -6.4 -10.2M104.5 256.1q-4.5 9.9 -3.7 20.7M86.9 317.5q8.7 -9.8 11.7 -22.6M62.4 307.2q8.4 -7.5 17.4 -14.1M128.7 446q-3.9 -6.8 -2.3 -14.4M35.2 479.8q7.1 -9.6 19 -8.6M41.9 502.5q2.2 -2.2 4.8 -3.9M76.7 460.8q-12.2 -5.9 -21.6 -15.7M72.1 463.6q-8.1 3.1 -16.2 6M61.2 487q3.1 1.1 5.7 3.2M100.2 516.1q-5.5 -9.8 -14.1 -16.9M250.8 64.7q-1.3 -6.5 -5.3 -11.7M286.7 50.1q-5.1 2 -9.6 5M175.8 37.2q-7.7 11.8 -16.2 23.1M175.8 37.2q-11.3 .3 -21.8 -3.7M149.7 37.7q3 -1.3 4.2 -4.2M178.4 36q-1.2 .7 -2.6 1.2M87 104q-8.2 12.7 -14.5 26.4M72.5 130.4q-1.6 1.7 -3.8 2.6M98.3 179.6q4.5 -3.4 7.1 -8.3M80 167.3q2.5 -6.1 5.9 -11.8M114.1 123q7.3 3.1 15.2 3.2M105 142.2q10.8 2.8 18.2 11.1M622.5 209.1q-14.7 5.5 -30.3 7M592.1 216.1q-3 -8.6 -5.5 -17.3M604.7 179.5q-6.8 3.6 -13.5 7.4M609.5 239.1q6.9 -1.3 10.8 -7M616.4 227.2q1.9 2.5 3.9 4.8M402.8 122.8q2.7 2 3.7 5.3M406.5 128q11.5 3 23 5.7M624.2 278.2q.2 3.7 2 7M594.4 604.6q-2.9 -8.8 -6.6 -17.4M603.8 639.3q6.1 -15.6 11.1 -31.5M277.5 573.3q3.6 2.5 7.1 5M208.1 480.3q7.6 -1.6 14.7 -4.6M555.9 156.6q6.6 -.2 12.9 -2.4M478.3 11.7q.5 3.5 -.1 7M445.9 67.2q7.8 -2 15.7 -3.8M461.6 63.4q6.4 -1.6 12.9 -.9M419.2 69.8q1.2 6.7 .5 13.5M428.7 87.8q-4.4 -2.4 -9 -4.5M431.1 88.7q-1.1 -.7 -2.4 -1M65.8 228.5q6.2 -6.4 13.1 -12.1M98.1 195.4q-7.5 -1.7 -14.3 1.9M78.6 279.5q-11.2 -1.4 -21.6 -5.5M57 274q3.2 -8.1 6.9 -16.1M48.6 278.3q3.6 -3.2 8.4 -4.3M120.7 406q2.2 -5.9 2.1 -12.3M90.6 497.4q-2.5 -11.2 -6.2 -22M111.3 500.4q-1.7 -3.6 -2 -7.6M123.6 472.6q-5.4 7.9 -12 14.7M243.9 7.7q5.9 -10.9 13.9 -20.2M243.9 7.7q3.3 10.6 2 21.7M286.7 50.1q-13.7 -8.7 -17 -24.6M227.6 24.1q9.4 1.7 18.3 5.2M295.5 2.9q10 5.3 20 10.5M287.4 51.5q9.1 -5.7 13.1 -15.7M591.2 186.9q-.9 -2.4 -3.3 -3.3M364.5 128.8q-1.7 4.8 -4.8 8.9M233.6 231q1 -1.1 2.4 -1.4M575.6 264.7q2 -8.2 3.1 -16.6M615 552.4q-1.5 5 -3.7 9.8M634.9 528.5q-7.5 -5.3 -14 -11.8M580.6 622q-21 6.4 -41.9 12.7M594.4 604.6q-8.8 2.8 -17.5 5.9M577 610.5q.4 6.2 3.6 11.5M562.3 602.4q-3 1.3 -6.1 2.2M348.8 581q-1.8 8.2 -2 16.7M361.1 604.6q-6.3 -5.2 -14.4 -6.9M405.3 603.4q-7 -6.5 -14.3 -12.6M390.9 590.8q-1.4 -11.6 3.5 -22.3M254.6 554q0 -1.9 -.2 -3.7M201.6 413.3q-.3 -5.1 -3.4 -9.2M177.9 331q6.8 1.5 13.5 -.8M226.4 524.3q-1.6 -11.8 -3.1 -23.6M222.8 475.7q3.8 2.7 7.3 5.7M533.4 151.9q-2.4 .3 -4.4 1.8M516.2 50.3q-1 0 -1.9 .4M511.2 66.2q-9.9 1.9 -17.5 8.4M493.7 74.6q-6.6 -7.2 -14.1 -13.5M495.6 82.7q.1 -4.3 -2 -8.1M478.2 18.8q-5 3.7 -6.7 9.7M422.1 39.7q.4 -2.2 .6 -4.4M99.7 236.8q6.9 -14.3 5.8 -30.1M138 413q.8 -8.8 3.6 -17.2M150.3 389.8q-5.1 2 -8.7 6M169.3 406.9q-1.8 -.5 -3.8 -.5M633.7 468q-2.6 -14.1 -4.5 -28.2M606.8 543.3q2.4 -6.8 4.2 -13.7M454.2 603q11.8 2.4 17.9 12.8M435.7 555.6q-2.7 6.4 -.9 13.1M433.8 594.7q9.4 -5.2 17.6 -12.1M454.2 603q0 -8.3 1.8 -16.4M537.2 628.9q-3.2 -1 -6.3 -2.1M283.1 548.7q-6.2 -7.7 -14.7 -12.8M268.4 535.9q-1.2 -3.2 -2.5 -6.3M209.3 247.8q4.4 4.5 10 7.5M218.3 426.6q6.2 -2.2 12.6 -.9M371 151.5q8.7 1.3 16 -3.6M371 164.4q7.8 5.6 17.2 7.4M484.5 136.7q-10.3 7.2 -21 13.9M517.4 167q-1.3 -.5 -2.4 -1.3M498 142.9q-.7 -.9 -.6 -2.1M488.5 153.9q1.1 5.5 1.9 11.1M472.4 157.4q-5.2 -2.3 -8.8 -6.8M472.4 157.4q8 -1.9 16.1 -3.6M359.1 171.2q-9.1 -1.3 -17.8 -4.3M308 138q.1 -1 .1 -2.1M248.7 225.5q6.7 6.3 11.3 14.3M277.1 211.5q-.9 1.3 -1.5 2.7M634 329.7q-10.9 .6 -19.4 7.4M565.8 407.1q-5.5 -4.9 -7.5 -12M558.3 395.1q2.9 -3.8 6.5 -7M585.5 387.8q3.1 6.3 1 13.1M567.8 369.3q1.4 9.9 -2.9 18.9M580.3 453.9q-13 -6.2 -27.2 -8.8M564.2 421.6q3.4 -.3 6.7 .9M590.3 444q-9.2 -11.3 -19.4 -21.6M556.7 578.5q.9 -11.3 4.6 -22M561.3 556.5q.1 -.3 .2 -.6M308.5 577.5q.8 -2.9 1.9 -5.7M310.5 571.8q.6 .2 1.2 .1M329.4 543.7q-9.4 -5.2 -20.1 -3.6M309.3 540.1q2.7 15.8 2.4 31.8M311.7 571.8q-12.7 -10.8 -23.6 -23.4M406.8 474.2q3.4 9.4 10.8 16M378.2 480.2q-3.4 2.5 -7.2 4.1M370.9 484.2q0 1.1 -.5 2.2M373.2 507.7q10 -2.9 20.4 -2.5M391 450.5q-.5 1.1 -.6 2.2M270.5 421.5q7.5 -1.9 14.8 -4.6M276.2 448.7q4.9 -.3 9.8 -1M285.2 416.9q5.9 6.8 10.4 14.5M205.2 354.9q-7.9 9.5 -12.2 21.1M180 336q3.6 6.3 6.1 13.2M230.8 425.7q7.9 -8.5 10.3 -19.9M241.2 405.9q5.2 -4 9.9 -8.4M434.1 201q3.7 -6.8 8.4 -13M434.1 201q15.1 4 29.5 9.8M472.6 228.7q-7.2 .2 -13.6 3.5M459.1 232.2q-7.4 -2.6 -14.8 -5.5M472.8 175.6q-1.2 .5 -2.3 1M471.1 224.4q2.9 -20.4 21 -30.4M467.2 192.7q-.9 -1.2 -1.9 -2.3M448.2 167.8q9.5 8.6 22.4 8.8M472.4 157.4q.8 9.1 .5 18.1M557.4 311.1q-5.5 -6.1 -12.2 -10.8M584.2 276q-.6 11.5 -4.7 22.2M579.2 246.2q-12.1 2.8 -23.5 -2.2M549.6 224.8q-1.5 1 -3 1.9M277.4 209.5q14.5 -5.8 26.2 -16.3M308 218q.4 -5 2.5 -9.5M277.5 139.8q4.2 12.1 12.1 22.3M532.5 382.1q-3.9 5.4 -10.4 6.7M559.9 425.2q-8.7 -6.8 -19.6 -8.1M437.9 321.8q7.9 -.1 15.8 1.1M449.7 357.8q.9 9.9 -2.6 19.2M592.4 358q-1.2 -10.7 -1.9 -21.4M589.9 376.5q9.4 8.6 16.9 18.8M613.8 389.1q-2.8 3.8 -7 6.2M614.6 465.5q-8.5 .3 -16.7 2.7M629.8 421.9q-6.8 -1.5 -13.7 -1.7M580.3 453.9q-7.7 9.6 -11.7 21.3M617.6 492.6q-8.9 .3 -17.9 -.2M599.7 492.4q-3.6 -6.5 -3.2 -13.9M528.9 537q5.7 1.6 11.2 3.8M526 489.4q-.1 -.1 -.1 -.2M395.5 568.6q5.5 -9.7 11.5 -19M435.7 555.6q-6.4 -4 -7.5 -11.4M503 548q9.2 -.8 18.4 -1.4M524 561.4q-6.4 5.9 -13.8 10.4M484.3 628.7q10.9 6.6 23.5 8.6M484.3 628.7q-.8 15.4 -2.6 30.8M309.3 540.1q-.8 -2.4 -1.5 -4.9M285.6 487q7.5 -4.9 16.4 -4.8M287.6 460.2q8.7 9.4 20.1 15.3M307.7 475.5q-2.6 3.6 -5.7 6.7M314.9 440q-4 5.7 -4.2 12.8M313.2 472.9q1.2 -5.4 3.7 -10.4M316.8 462.5q3.8 -1.4 7.7 -.5M210.6 277.3q-5.9 -1.4 -11.8 -.3M230.8 289q-4.2 1.7 -8.6 .7M219.2 255.2q3.1 3.5 4.7 7.9M459.1 232.2q-8.3 11.9 -10.7 26.3M442.9 258.5q2.7 -.3 5.5 0M428.8 242.9q-3 7.5 -4.5 15.4M394.1 188.8q-5.1 4.6 -11.2 7.7M448.4 258.5q8.1 2.8 12.9 9.9M437.5 265.5q-1.5 6.8 -3.7 13.4M428.7 313.8q8.5 -12 15.9 -24.8M458.4 320.7q-2.6 .5 -4.7 2.3M458.4 320.7q3.5 -13.3 8.3 -26.1M339.8 210.2q-1.5 -10.2 -9 -17.3M371.2 213.8q6.5 -3.2 13.4 -5.4M371.2 213.8q-2.2 2.5 -4.6 4.6M342.8 213.9q4.6 4.6 8.9 9.5M341.3 166.8q2.1 12.1 -5.5 21.7M327.5 226.8q7.6 -6.5 15.3 -12.9M523.9 209.4q-4.6 7.8 -10 15M418.8 352.7q-6 -1.3 -12 -2.6M515.9 388.6q-4.8 -7 -12.5 -10.3M478.2 347.7q1 -5.7 4.8 -10.1M500 357.2q-10 6.3 -20.9 10.9M532.1 321.2q.7 .2 1.3 .2M510.9 342.8q-1.3 -3.8 .8 -7.2M486.8 322.6q13.4 1.9 25.1 8.8M540.6 306.7q-4 7.4 -8.5 14.5M533.5 321.5q5 4.1 7.1 10.3M554.8 329.4q-6.8 3 -14.3 2.4M644.2 395.6q-11.9 10.5 -27.8 10.8M599.7 492.4q-1.1 1.6 -2.4 2.9M601 513.4q-.9 -.9 -2.1 -1.4M472.1 615.8q5 -5.6 5.5 -13.1M477.6 602.7q-2.5 -8.7 -3 -17.7M474.6 585.1q0 -2.1 1.2 -4M524 585.5q-7.8 -3.2 -15 -7.5M365.1 536.3q-3.8 -6.8 -5.3 -14.5M333.5 540.9q3.9 -2.1 8.3 -2.6M331.7 514.8q7.5 5.8 16.7 8.3M307.8 535.2q-4.1 -.2 -7.4 -2.5M265.8 529.6q7.4 -3.4 12.6 -9.8M397.1 395q4 -.1 7.7 -1.6M396.1 420.8q7.5 -2.7 14.6 .7M377.7 377.4q-2.9 1.3 -5.2 3.6M372.6 381q7.7 11.9 2.8 25.2M381.2 372.1q3.7 -3.6 8.6 -5.4M408 383q-2.4 5 -3.2 10.4M445.8 445.3q-5.8 -7.9 -9.5 -17M327.5 226.8q2 1.9 3.2 4.4M349.4 234.2q-3 2.5 -6.4 4.4M381.2 372.1q-3.6 -7.2 -7.1 -14.5M374.1 357.6q6.8 -11.3 16.2 -20.6M302.8 233.1q6 5.1 10.6 11.5M317.4 246.1q9.7 4.6 19.6 8.8M429.2 491.5q2 -4.7 4.7 -9M440 513.3q2.5 -7.5 .1 -15.1M427.1 462.5q5.6 9.2 6.8 19.9M451.2 451.5q-2.1 -3.7 -5.4 -6.3M249.9 398.2q2.1 -9.6 3.5 -19.3M433.8 278.9q-5.7 4.7 -11.8 9M424.3 258.3q-5.3 .8 -10.2 2.8M425.5 169.8q-3.8 2.1 -7.1 4.8M394.1 188.8q-.7 1 -1.3 2.1M391.3 225.9q-.6 -7 -4.9 -12.6M515.8 475.1q6.1 6.3 10.1 14.1M515.7 466.8q6.4 -7.7 16.2 -9.9M531.9 456.9q7.1 2.2 14.6 2M454.7 355.7q5.8 11.8 15.5 20.8M479.1 368.1q-1.8 2.6 -1.7 5.8M470.2 376.5q3.6 -1.5 7.2 -2.6M503.4 378.4q-6 2.1 -12.4 1.7M562.9 344.2q-5.3 11.3 -9.3 23.1M535.4 343.7q-.2 2.8 .7 5.5M574.8 518.2q-4.1 6.1 -4.3 13.4M572.1 512.4q1.2 2.9 2.7 5.7M598.9 512q-7.6 1.5 -14.2 5.6M500.6 578.1q-6.3 9 -6.8 20M477.6 602.7q8.3 -1.5 16.2 -4.6M509 578.1q-1.3 -.2 -2.1 -1.3M253.5 378.9q3.1 -3.3 5.8 -7M314.2 413.5q-3.6 -6.2 -10.1 -9.3M304.2 404.2q-8.9 .8 -16.5 5.6M249.6 323.7q10.8 .2 21.2 -2.4M265.8 343.9q5.1 -2.8 10.5 -5.1M225.9 331.9q6.6 1 13.3 .4M236.7 364.6q7.5 -10.7 11.4 -23.2M484.7 553.2q-4.3 -.3 -8.4 -1.6M466.8 559q2.6 -3.8 5.7 -7.1M428.2 544.2q13.5 -4.6 27 -8.9M474.9 506.9q-1.2 4 -.1 8.1M492.2 489.3q13.2 11 18.3 27.4M453.7 527q8.6 -9.4 21 -12M266.8 305.3q3.4 4.7 7.8 8.5M285.2 341.2q6 -3.1 12.3 -5.2M300.2 335.8q-1.3 .2 -2.6 .1M387.6 248q-3.8 3.1 -4.4 7.9M397.8 275.6q-9.5 -.1 -18.9 -.4M385.2 235.4q.1 6.5 2.5 12.6M483.1 293.3q2.1 -4.8 3.8 -9.9M511.7 313.6q.5 -4.6 -.1 -9.1M521.1 446.2q-5.6 .7 -10.8 2.9M527 433.4q-3.5 -9 -11.8 -13.8M515.2 419.6q-1.2 -1.6 -2.2 -3.4M530.2 430.2q-1.2 1.9 -3.1 3.2M483.7 426.9q10.2 2.7 20.6 1.5M476.2 432q-1.2 4.5 -4.1 8.2M469.2 375.8q-3 3.2 -2.7 7.7M343.4 471.8q5 -5.7 10.2 -11.4M354.1 455.2q.2 2.6 -.5 5.2M376.2 430.1q-.3 6.8 -5.9 10.7M344.5 409.8q6.2 1 12.1 3.3M270.5 262.1q-9.9 -3.2 -17.4 -10.5M245.2 263.8q2.7 -5.7 .9 -11.8M245.2 263.8q5.2 9.3 13.1 16.7M258.3 280.5q.5 1 1.5 1.5M359.5 344.8q-.1 -3.6 -.5 -7.1M306.8 331.9q6.5 -7.4 13.8 -14M378 329.6q-.4 -5.8 -1.7 -11.4M338.2 287.7q8.3 10.7 21 15.5M359.2 303.2q12 -3.5 20.4 -12.9M322.1 282q-8 6.5 -14.4 14.6M333.1 281.9q-5.5 .1 -10.9 .1" stroke="rgb(150,150,150)"/><path d="M13.4 609.4q2 -4.4 2.1 -9.3M23.8 614.8q-7.6 11.9 -10 25.8M278.7 626.5q5.8 -4.4 11.2 -9.1M289.9 617.4q1.5 -1.1 3.4 -1.6M312.9 601q6.1 6.6 11.3 14M336.5 628.7q5.8 -4.1 12.9 -4.1M8.8 176.5q-3.1 14.4 -9.7 27.5M248.8 592.1q4.6 -6 8.7 -12.3M214 597.1q-2.5 -9.8 -10.3 -16.3M159.5 555q15.9 -10.5 28.9 -24.4M223.2 634.2q13.4 -1.4 26.4 -5.4M260.9 603.6q-3.3 -.9 -6.6 -1.8M25.5 566.6q-5.9 0 -11.6 1.7M50.8 629.7q-17.2 8.5 -30.9 22.1M5.2 70.2q-5.5 11.7 -7.2 24.5M625.2 84.4q6.4 -9.5 8.7 -20.7M625.2 84.4q-2.5 .4 -5 .1M-.8 204.1q3.4 6.5 4.9 13.6M12.4 434.7q-.4 -8.2 4.1 -15.2M37.5 423.3q-6.3 -6 -14.8 -8M22.7 415.3q-3.4 1.7 -6.2 4.2M147.7 201.1q-6.5 -3.1 -13.5 -5M8.1 314.8q13.2 -4 26.2 .7M23.6 339.5q-4.4 1.6 -9 1.6M197.2 475.5q-5.2 5.1 -11.2 9.3M186.7 521.3q7.1 -5.5 15.9 -6.8M186.7 521.3q-2.3 -12.6 -3 -25.4M187.4 491.4q-.2 -3.4 -1.4 -6.6M195.2 608q4.1 12.9 7.1 26.2M104.5 606.6q-11.8 8.5 -25.8 12.4M126 552.1q-4 5.4 -6.4 11.6M119.6 563.7q-.9 3.8 -.2 7.7M62.5 601.6q-9.3 8.9 -12.1 21.4M47.8 569.2q1.7 -4.7 2.5 -9.5M88.7 547.8q-.2 9.3 2.9 18.1M23 556.2q-12.2 -7.8 -23.8 -16.4M50.3 559.7q-3 -9.8 -3.6 -20.1M46.7 539.7q-6.3 .5 -11.6 -2.8M23 556.2q3.6 -11.2 12.1 -19.3M126.1 233.2q-4.3 8.9 -3 18.8M123.2 252q7.1 1.1 14.2 1.1M144.5 266.2q1.7 -1.4 3.4 -2.8M150.5 218.3q2.3 10.8 3.3 21.9M138.9 221.8q5.4 -1.2 9.5 -4.9M141.3 239.6q6.2 1 12.5 .6M174.6 261q3.1 -3.6 7.2 -5.9M176.6 268.2q-1.4 -3.5 -1.9 -7.2M173 217.2q8.3 1.4 16.7 .8M153.8 240.2q1.6 .4 3.3 .3M186.5 162.2q0 1.2 0 2.4M186.5 162.2q3.5 -10.7 13.2 -16.2M189.7 218q.5 .7 1.4 .8M156.1 168.8q9.2 -3.9 19.1 -4.4M217.1 209.8q-1.2 -2.9 -2.6 -5.6M-8.3 126q3 .6 5.8 -.5M-2.6 165.8q-1.2 -1.2 -1.9 -2.8M135.9 149.1q5.8 .5 11 3.1M133 97.9q1.4 10.9 1.4 21.9M176.8 137.3q-4.1 -4.8 -9.7 -7.6M85.8 43.1q.2 -18.1 .4 -36.2M86.2 6.9q-1.7 -.5 -3.5 -.5M602 115.8q4.7 -7 8.2 -14.7M589.2 109.7q3.9 -9.7 1.2 -19.7M628.1 110q1.4 1 3.1 1.5M631.2 111.5q-4.3 6.5 -9 12.7M615.1 145.1q3.3 -8.3 6.1 -16.8M621.2 128.3q18.3 -.3 33.8 9.5M624.1 195.3q17.1 -6.9 33.9 .7M624.1 195.3q2.7 -6.7 1.7 -13.9M566.1 40.1q8.1 10.4 14.4 22M596.8 88.5q.9 -14.1 3.7 -28M580.5 62.1q6.2 -.1 11.9 -2.4M568.5 14.4q10.5 1.2 20.8 -1.6M589.2 12.8q-1.8 9.1 -3.1 18.3M6.3 345.9q-8 -3.7 -16.2 -6.6M-5.1 469.9q4.9 -6.2 7.6 -13.6M16.4 419.5q-14.8 .5 -27.1 -7.5M8.8 176.5q2.3 1 4.4 2.5M29.4 365.7q.6 -7.2 2.5 -14.2M23.6 339.5q3.8 6.3 8.3 12M39 326.8q7.8 2.3 15.4 5.2M65.4 375.9q-8 -2.1 -16.3 -3.1M66.8 395q2.8 -2.7 5.8 -5.3M19.9 403.8q4.6 -5.2 10.1 -9.5M66.6 340.4q-.4 8.9 .5 17.8M66.6 340.4q10.9 2.9 21.6 6M89.6 353.4q1.2 -3.4 1.8 -7M52.9 359.7q7.3 .6 14.2 -1.6M83.8 318.7q4.3 13.5 4.4 27.7M102.7 531q-3.7 -3.9 -8.3 -6.7M100.2 516.1q7.7 -6.4 17.2 -9.6M117.4 506.5q4 5.2 5.9 11.5M116.6 608q15.9 4 31.8 8.3M46.7 539.7q3.3 -2.4 7.3 -3.4M94.4 524.3q-7.2 1.2 -14.4 .9M73.9 539.9q1.2 -8.1 6.1 -14.7M32.7 529.7q-1.3 -1.8 -2.8 -3.3M151.5 286.7q8.6 -6.6 19.3 -8.4M138.8 272.4q8 5.7 12.7 14.3M321.8 71.6q-14.6 -7.4 -28.3 -16.4M167.1 129.7q7.2 -8.8 15.4 -16.7M181.9 111.6q.3 .7 .5 1.4M209.6 103.4q-5.5 10.5 -12.2 20.2M332.2 60.6q14.5 3 28.4 7.8M321.8 71.6q4.9 -3.3 9.6 -6.9M376.8 98.3q1.4 -18.7 -11.2 -32.6M3.9 149.4q4.9 -4.6 11 -7.5M109.7 103.3q-6.1 -1.5 -11 -5.4M133 97.9q-6.2 -.4 -12.4 -1.5M143.2 65.4q-2.3 2.4 -5.3 3.9M52 181.6q3.3 -10.6 9.8 -19.6M29.1 168.7q4.7 4.9 9.7 9.4M13.2 179q8.2 -4.7 15.9 -10.3M36.5 199.1q-6 4.2 -13.1 6.1M14.9 141.9q6.8 12 20 15.6M55.4 22.6q-8.4 -1 -13.1 -8.1M55.4 22.6q10.5 -4.2 17.1 -13.4M79.7 6.9q-3.3 2.1 -7.2 2.3M81.4 -16.7q.6 11.6 1.4 23.1M36.7 17.3q3.2 -.5 5.6 -2.7M139.8 302.7q-6.2 -4.4 -12.6 -8.4M91.4 346.4q6.3 -3.1 12.8 -5.8M155.9 366.9q-11.5 -3 -23.4 -3.3M124.4 344.9q2.8 -3.9 5.3 -8M139.8 302.7q2.7 5.2 6 10M127.1 294.3q-4.9 9.7 -13 16.9M72.1 73q13.1 -.2 26 2.2M28.5 116.2q6.9 -3.3 14.3 -5.2M2.2 97.9q9.7 -.6 19.1 -2.7M617.9 8.7q3.6 -1.8 4.5 -5.7M590.5 149.8q-6.7 -5.5 -14 -10.3M555.9 68.1q-4.4 .7 -8.7 -.2M452 94.7q-10.8 -1.9 -20.9 -6M554.2 15.5q-12.1 4.3 -24.9 3.4M556.7 41.4q-8.3 -3.6 -17 -1.1M8.1 314.8q0 -.5 0 -1M20.4 289.2q10 5.3 20.3 10.2M20.4 289.2q-6.5 6.5 -13.4 12.5M3.2 278.7q-2.8 7.7 -7.5 14.5M151.2 485q-4.7 1.7 -8.9 4.6M156.8 514.2q-.5 1.5 -.7 3.2M175.8 458.9q-4.6 -3.6 -10.4 -4.3M135.7 489.3q3.3 -.3 6.6 .3M111.3 500.4q2.9 3.3 6.2 6.1M133.5 451.1q-2.6 -2.4 -4.9 -5M142.7 446.9q2.2 -8 5.6 -15.6M103.3 362.7q.5 .1 1 .2M25.2 508.7q1.5 5.2 -.3 10.2M32 504.2q-3.2 2.5 -6.8 4.5M1.1 478q5.3 4.7 9.4 10.4M23.3 487q7.7 -4 10.9 -12.1M30.8 465q3.4 -8.1 6 -16.6M252.3 163.5q3.9 -2.3 6.7 -5.9M259 157.6q8.2 -10 18.5 -17.8M277.5 139.8q.2 0 .3 -.1M249.7 164.1q-15.7 2.8 -30 9.7M295.9 101q.1 2.1 .8 4M220.6 6q1.4 3.3 3.3 6.3M208.1 14q2.8 4.2 4.1 9.1M203.7 36.3q5.4 -5.9 8.4 -13.3M199 76.6q-8 -5.4 -14.7 -12.4M184.4 64.3q-.3 -2.4 .1 -4.8M185.8 40.2q-4 -1.6 -7.4 -4.2M393.1 16.2q-1.8 -10.7 -7.5 -20M400.9 42.3q-4.1 14.2 -7.6 28.5M636.3 269q-6.5 4 -12.1 9.2M634.9 237.2q-2.8 8.7 -5.2 17.5M336.3 113.4q-4.4 9 -7.8 18.5M221.7 207.9q11.4 -4.4 23.5 -6.6M375.1 631q3 -6.8 4.5 -14.1M379.6 616.9q11 4.6 21.7 10M174.2 458.1q5 -10.9 12.7 -20M209.8 452.6q-.5 -2.9 .5 -5.7M481.3 97q9 -3.2 15.5 -10.1M437.2 5.8q-7.6 -4.8 -16.5 -5.8M542.9 80.9q-7.2 1.6 -14.3 -.4M528.6 80.5q-5.5 -14 -5.7 -29.1M528.6 80.5q-1.7 3.6 -4.8 6.1M410.9 46.6q3.8 10.2 3.9 21.2M457.7 91.9q-.5 -.3 -1.1 -.6M469 118.6q2.1 .5 4.2 .6M468.9 87.6q-6.4 1.1 -12.2 3.7M61.4 222.6q-9 8.3 -18.2 16.4M13.9 216.8q6.6 8.6 16.3 13.6M65.8 228.5q2 5.6 5.8 10.3M104.8 283q-3.4 6.8 -9.8 11M104.8 283q-.7 -3.9 -3.9 -6.2M98.6 294.9q-1.8 -.5 -3.6 -.9M126.4 431.6q11.4 1.3 22.7 -.9M126.4 431.6q-1.3 -1.4 -2.6 -2.8M46.7 498.6q5.3 -8.3 14.6 -11.6M34.2 474.9q.3 2.5 1 4.9M75.6 502q5.6 -.1 10.5 -2.8M252.7 38.3q11.6 9.3 24.4 16.8M252.7 38.3q-3.8 7.2 -7.2 14.7M293.6 55.3q-3.5 -1.2 -6.2 -3.7M320.5 -10.2q.1 6.6 2 13M64.2 134.5q2.2 -.4 4.1 -1.7M68.3 132.8q.2 .1 .4 .2M129.3 126.2q.8 11.8 .6 23.6M99.6 155.4q4 -6 5.4 -13.1M110.9 169.4q-2.8 .6 -5.5 1.8M591.2 186.9q-1.3 1.8 -2.9 3.2M579.2 246.2q2 -3.3 4.1 -6.6M578.7 248.1q14.6 8.7 31.4 11.8M259 157.6q4.5 8.4 13.2 12.3M256.3 190q.9 -1 2.1 -1.5M272.2 169.9q-4.3 11.3 -13.9 18.7M626.2 285.2q-.2 2.5 -.9 4.9M634.9 528.5q-17.2 3.4 -19 20.8M626 584.2q-5.3 -3.1 -10.3 -6.8M615.7 577.4q-14.6 2.9 -27.8 9.8M312.9 601q-3.3 -12.3 -6.2 -24.8M293.3 615.8q-5.6 -15.1 -5.4 -31.2M270.5 598.9q6.3 -10.8 14.1 -20.6M157.9 349.9q14.2 -1.9 22.1 -13.8M209.8 452.6q4.9 -.1 9.6 1.5M219.5 454q2.7 1.6 4.8 4M461.4 3.2q-5.6 4.9 -12.7 7.2M437.2 5.8q-1.7 .6 -3.5 1.2M414.9 67.8q2.2 .9 4.3 2M79.2 262.2q-7.8 -1.6 -15.3 -4.3M96.4 246.1q-5.2 11.7 -17.3 16.1M79.9 293.1q.1 -6.9 -1.3 -13.6M131.2 413.2q-6 -2.5 -10.5 -7.2M90.6 497.4q9 -3.8 18.7 -4.6M111.6 487.3q-4.8 -8.8 -13.5 -13.8M98.1 473.6q-6.7 1.7 -13.6 1.9M86.1 499.2q2.2 -1.1 4.5 -1.8M78.6 474.1q3 .1 5.9 1.3M99.2 468.1q-.8 2.7 -1.1 5.4M263.6 25.8q-5.5 3.8 -10.5 8.2M253.1 33.9q-2.3 -3.5 -5.8 -6M286.3 18.8q-1.4 -5.2 -.4 -10.4M350.1 142.5q4.5 -3 9.6 -4.8M245.2 201.2q4 9.7 9.7 18.5M575.6 264.7q3.7 6.1 8.6 11.3M623.1 470q5.5 -.2 10.6 -1.9M615.7 577.4q-.3 -8.1 -4.4 -15.2M587.9 587.2q-3.6 -5.6 -3.4 -12.2M324.5 584.2q7.4 4.9 11.9 12.6M349.4 624.6q4.2 -11 11.7 -20M413.9 598.5q-1.3 -9.5 1.4 -18.7M415.2 579.8q-10.7 -5.1 -20.8 -11.3M401.3 627q5 -11.3 4 -23.6M390.9 590.8q-8.9 5.9 -16.7 13.2M201.6 413.3q4.5 3.8 10 6.2M176.6 309.3q8.2 -1.2 16.4 -2.1M223.4 500.7q9.6 -2.4 19.2 -.3M240.8 483.7q2.7 4.4 6.2 8.1M244.3 525.3q-7.6 3.3 -15.5 5.8M224.3 458q10.4 1.1 18.1 8.3M520.3 129.5q4.9 11.9 8.8 24.2M479.6 61.2q3.3 -4.2 8 -6.7M455.2 35.4q-.5 -.8 -1.1 -1.7M454.1 33.8q-12 -1.1 -24 -1.1M453.2 41.3q-5.9 10 -16.7 14.1M430.1 32.7q-3.8 .9 -7.4 2.7M471.6 28.4q-8.1 3.7 -16.4 7M433.7 6.9q-5.9 12.3 -3.6 25.7M103.7 201.5q1.7 1.9 3.5 3.7M121.4 232.6q-10.8 2.5 -21.7 4.2M96.4 246.1q-.7 -2.8 -1.7 -5.5M120.1 222.1q-7.9 -7.1 -14.5 -15.4M433.2 625.1q1.2 -6.8 -1.2 -13.4M404.8 635.3q14.7 -3.6 28.4 -10.2M415.2 579.8q4.8 -2.5 10 -1.2M367.7 569.8q4.6 -5.2 10.8 -8.2M378.5 561.7q8.7 3 17 6.9M434.8 568.7q7.1 5.1 14.9 9.2M449.7 577.9q2.3 1.9 1.7 4.7M219.2 255.2q9.5 -4.8 19.9 -6.9M242.3 466.3q6.5 -8.6 12 -17.9M254.3 448.4q-2.4 -6.3 -4 -12.8M250.3 435.6q9 -6.9 15.6 -16M263.6 453.1q6.7 -1.2 12.6 -4.4M371 151.5q2.5 6.4 .1 12.9M387 147.9q5.7 7.4 13.9 11.7M461.6 127.1q.2 9.8 -3.5 18.8M429.5 133.7q.5 1.8 .4 3.7M430 137.4q10 7 18.7 15.7M458.1 145.9q-4.8 3.5 -9.5 7.1M515 165.7q11.2 10.9 24.3 19.3M547.4 210q2.6 7.2 2.2 14.8M371 164.4q-6.2 3 -11.9 6.8M328.8 150.5q-9.8 -8 -20.7 -14.5M260 239.9q7.7 -2.6 14.8 -6.5M274.8 233.4q-.5 -9.6 .8 -19.1M612.6 371.3q3.4 -8 7.6 -15.6M613.2 347.5q-11 4 -20.8 10.5M592.4 358q-3.6 3.1 -7.6 5.6M616.1 371.5q-1.8 .1 -3.5 -.3M565.8 407.1q10.2 -3.6 20.8 -6.3M579.5 365.8q2.8 -.8 5.3 -2.2M327.2 559.7q13.2 3.3 25.8 8.5M283.1 548.7q2.5 -.9 5 -.3M388.1 480.3q9.2 -4.7 16 -12.4M406.8 474.2q-1.2 -3.2 -2.7 -6.3M378.2 480.2q5 -1.3 10 .1M173.1 361.1q7.9 10.4 20 15.2M173.1 361.1q6.1 -6.3 13 -11.9M193.1 376.3q-.1 -.2 -.1 -.4M217.6 343.2q-.4 5.2 -.7 10.4M216.9 353.7q-5.8 .9 -11.7 1.2M229.1 401.5q-4.1 -8 -11.9 -12.5M216.9 353.7q8.5 3.9 12.5 12.4M266 419.5q-11.6 -8.2 -14.9 -22M463.6 210.8q.4 -9.4 3.6 -18.2M444.3 226.8q-8.6 -11.3 -14 -24.5M447.9 155.3q-8.9 7.7 -20.6 9.1M427.3 164.4q-4.6 -6.3 -10.5 -11.5M465.3 190.4q13.3 2.7 26.8 3.7M485.9 172.8q2.5 12.5 12.8 19.9M490.4 164.9q-1.4 4.4 -4.5 7.9M573.7 297.2q-7.7 7.4 -16.3 13.9M477.6 230.4q4.1 1.5 7.9 3.4M495.3 225.7q1.2 -16.3 8.8 -30.8M539.3 185.1q-16.4 -.1 -26.6 12.9M555.7 244q-4.6 6.6 -10.4 12.2M302.1 223.1q-12.3 -6.2 -25.1 -11.6M302.1 223.1q3.3 -2.1 5.9 -5.1M301.4 185.9q-7.1 -3.7 -14.3 -7.4M289.6 162.1q-1.2 5 -2.7 10M286.9 172.1q1.1 3.2 .2 6.4M303.6 193.2q-.9 -3.7 -2.2 -7.3M540.2 417.1q-3.3 -5.3 -8.3 -9M531.9 408.1q1 -1.2 1.5 -2.7M453.7 322.9q-3.8 13 1 25.7M589.4 311.4q11.7 3.5 22.5 9M570.8 321.1q1 8.1 3.1 16M585.9 315.5q1.8 9.8 5.1 19.1M579.5 365.8q-9.9 -10.9 -16.4 -24.2M639.2 390.6q-12.8 1 -25.4 -1.5M576.5 483.4q10 -2.5 20.1 -4.9M523.2 520.7q4.2 7.7 5.7 16.3M542.1 516.4q3.6 8.5 8.7 16.2M550.2 503.5q3.5 .5 6.9 1.3M378.5 561.7q-.5 -10.2 -1.6 -20.3M407 549.6q9.8 -5.2 20.5 -8.1M561.3 556.5q-7.3 .4 -14.4 -1.2M510 634q-2.6 -10.3 -8.3 -19.2M310.6 452.8q1.4 6 6.2 9.8M433.8 375.7q-4.9 4.1 -9.7 8.4M216.3 297.7q1.9 -4.8 5.8 -8.1M195.3 272.7q1.7 2.2 3.6 4.3M437.5 265.5q-7.3 -2.2 -13.2 -7.2M444.6 289q7.7 -1.3 14.9 -4.4M461.3 268.4q2.8 -.4 5.4 -1.1M355.6 202.2q0 -7.1 2.5 -13.8M355.6 202.2q-8.1 3.5 -15.8 8M333.5 189.7q1.4 -.1 2.3 -1.1M525.9 209.7q6.5 9.1 14.3 17.1M525.9 209.7q-1 -.1 -2 -.2M536.8 204.6q-6.1 1.1 -10.9 5.1M546.6 226.7q-3.2 1.2 -6.4 .1M512.7 197.9q6.8 4.5 11.2 11.5M351.7 223.4q-.4 5.6 -2.3 10.8M411.2 379.4q-1.9 1.5 -3.2 3.6M389.7 366.6q10.7 6.5 18.3 16.4M513.6 355.8q-3.8 1.3 -6.4 4.4M510.9 342.8q-12.7 -.2 -25.2 1.6M478.2 347.7q.6 10.2 .9 20.5M517.9 335q-3.1 .1 -6.2 .6M511.9 331.4q3.7 -8.9 -.1 -17.8M561.5 316q-2.1 7.3 -6.7 13.4M601.8 430.8q-5.9 -6.8 -7.7 -15.6M595.9 441.2q2.7 -5.4 5.9 -10.4M616 420.2q1 0 2 -.1M606.8 395.3q.6 2.9 1.3 5.7M557 504.8q7.2 4.5 15 7.6M398 506.9q9.1 -.5 18.3 -.2M398 506.9q.7 8.6 2.3 17M400.3 523.9q11.8 7.1 25.1 3.5M416.3 506.7q5.7 7.1 11.7 13.9M393.6 505.2q2.3 .6 4.4 1.7M427.6 541.5q-.7 -7.1 -2.1 -14M524 585.5q3.6 7.5 6.5 15.3M326.9 521.2q2 -1.2 4.4 -1.5M278.4 519.8q10.7 4.6 21 10.2M260.5 499.9q10.1 4 20.2 8.1M377.7 377.4q1.1 -3.1 3.4 -5.4M409.1 441.8q1.1 -10.1 1.6 -20.3M221.6 306.9q.8 5.1 2.5 10.1M230.8 289q4.2 2.6 8.6 4.8M400.3 335.4q-2.8 -.8 -5.7 -.9M440 513.3q4.1 .8 8 2M394.6 334.6q6.8 -16.3 3.9 -33.7M429 202.8q-3.9 2.6 -8.5 3.5M420.5 206.3q-.6 5.8 -3.6 10.8M430 235.8q-8.3 -3.9 -17 -6.9M385.2 235.4q2 -5.4 6.1 -9.5M466.8 267.3q8.5 .4 16.5 3M503.9 253.9q-1.9 -1.3 -3.5 -2.9M551.1 448.1q-1.3 5.8 -4.7 10.8M488.9 457.5q-7.9 -9.2 -16.8 -17.4M507 401.3q-8.2 -.4 -16.3 1M491 380.1q2.5 11.2 -.3 22.2M560.3 342.2q-12.5 2.1 -24.2 7M588.6 548.8q7.1 -2.4 14.4 -4.2M569.6 542.4q-2.2 -5.6 .8 -10.8M580.4 573q8.9 -10.5 8.2 -24.3M503.4 606.1q3.8 -.3 6.1 -3.3M375.4 406.2q-3.9 1.1 -7.7 2.4M259.2 371.9q5.4 -13.5 6.6 -28M366.9 242.6q-.3 5 -.2 10.1M343.3 266.4q12.8 -4.9 23.4 -13.6M448.1 515.3q1.4 6.5 5.7 11.7M460.3 500.1q7.7 2.6 14.6 6.8M514.2 515.4q-1.9 .5 -3.7 1.3M404.4 262.2q-10.5 -3.3 -21.2 -6.2M414.1 261.1q-1.6 -.7 -3.4 -1.1M397.8 275.6q6.2 -5.3 6.6 -13.5M378.9 275.2q-2.3 -5.8 -3.5 -11.9M511.7 263.3q11.2 8.5 25.3 8M511.6 304.4q1.2 -3.1 2.4 -6.3M466.7 294.6q8.1 -1.7 16.4 -1.3M511.7 263.3q1.6 12.7 -.2 25.3M504.3 428.4q4.2 -6.2 8.7 -12.2M531.9 456.9q-3 -7.8 -10.8 -10.7M314.9 440q5.9 -5.9 12.9 -10.4M314.2 413.5q8.7 2.4 15.5 8.3M270.5 262.1q-8.1 8.4 -10.7 19.9M239.2 248.3q3.1 2.5 7 3.7M266.8 305.3q0 -7.5 1.5 -14.9M313.4 244.6q-1.8 9 -4.9 17.6M338.6 327.6q-5.2 8.7 -4.8 18.9M333.8 346.5q9.3 2.7 18.4 6.1M352.2 352.6q3.6 -3.9 7.2 -7.7M306.8 331.9q8 13.9 22.4 20.8M390.2 300.5q-5.5 9.9 -13.9 17.7M333.1 281.9q2 3.4 5.2 5.8M340.2 276.5q17.4 -.3 34.5 3.2M374.7 279.7q.9 6.1 4.8 10.7M378.9 275.2q-2.3 2 -4.2 4.4M390.2 300.5q-5.7 -4.6 -10.6 -10.1M326.9 362.2q-7.5 6.9 -16.7 11.2M297.6 336q8.3 18 12.6 37.5M310.1 266.2q-11.5 2.8 -22.9 5.8M285.4 283.3q2.3 -5.4 1.8 -11.2" stroke="rgb(175,175,175)"/><path d="M32.4 597.3q-.4 -1.5 -1.6 -2.4M33.9 610.8q-4.8 2.6 -10 4M296.3 657.4q-8.9 -15.4 -17.6 -30.9M300.2 650.2q3.5 -10.9 4.8 -22.4M293.3 615.8q.2 1.1 1.1 1.9M260 637q7.8 -2.4 14.2 -7.3M274.3 629.6q2.5 -1.2 4.4 -3.1M329.7 622.5q-2.8 -3.7 -5.5 -7.5M260.9 603.6q4.5 -2.9 9.6 -4.7M349.4 624.6q6.7 6.7 15.3 10.8M-2.6 165.8q-10.4 14.7 -26.7 22.2M233.4 587.8q.5 -8.2 -4.3 -14.8M228.5 539.4q12.5 8.4 26.1 14.6M229 573q-7.8 -10.1 -15 -20.5M182.5 626.5q2.8 -11.7 12.7 -18.5M195.2 608q.3 1.9 1 3.7M164.8 569.4q-1.6 3 -1.6 6.5M214.5 598.8q.1 -1 -.5 -1.7M159.5 555q4 6.7 5.3 14.4M246.6 618.3q3.1 4.8 3 10.5M-2.8 590.4q-1.1 -15 -3.5 -29.9M50.4 623.1q-.2 3.3 .4 6.6M165 216.3q-.9 -12.4 1.7 -24.5M147.7 201.1q2.8 7.8 .7 15.8M1.8 65.1q-3.4 -3.1 -6.2 -6.8M610.1 101.1q-3.4 -4.4 -2.5 -9.9M27.9 441.2q-6.1 .8 -12.3 .7M34.3 315.5q2.5 5.6 4.7 11.3M174.2 458.1q.9 .3 1.6 .8M175.8 458.9q-2.9 7.4 -4 15.4M208 501.8q-9.9 -5.9 -20.5 -10.4M183.6 495.9q2.4 -1.8 3.8 -4.4M208.1 480.3q-1.1 10.8 -.2 21.5M182.5 626.5q2.5 2.6 3.6 6.1M70.4 599q1.6 11 8.3 19.9M70.4 599q7 -8.2 16.8 -12.6M96.2 593q-4.5 -3.3 -9 -6.5M119.4 571.4q8.8 7.4 17.9 14.5M111.8 609.8q3.4 1.6 6.9 2.8M163.2 575.8q-11.3 4.9 -21.8 11.4M139 540.2q9 9 20.5 14.7M32.4 597.3q4 .3 7 -2.4M47.8 569.2q1.5 0 3 .3M62.5 601.6q1.6 -1.6 3.3 -3.3M102.3 533.3q-7.9 6.2 -13.5 14.5M75.1 568.2q5.8 1.9 11.8 3.1M23.7 565q-1 -4.3 -.7 -8.8M-4.5 542.4q2.2 -.9 3.7 -2.6M137.6 234.4q2 2.5 3.7 5.2M137.4 253.1q2.7 -6.5 3.9 -13.4M137.6 234.4q1.4 -6.2 1.3 -12.6M121.4 232.6q2.3 .5 4.7 .6M172.3 236.9q-8.2 -.6 -15.2 3.6M157.1 240.5q.6 4.5 1.7 8.8M147.9 263.3q6.7 -6 10.9 -14M189.7 218q.4 10.2 -.2 20.4M173 217.2q-4 -.2 -8 -.9M177.8 190.5q.2 -12.2 3.1 -24.1M192.6 199.2q1.2 -.9 2.4 -1.8M219.8 173.8q1.1 2.1 1.5 4.5M191.1 218.8q3.7 -9.6 1.5 -19.7M156.1 168.8q-4.9 4.3 -8.5 9.8M191.1 218.8q9.3 -2.8 18.8 -.6M10.8 123.7q-1.5 -13.8 -8.6 -25.8M-2.1 94.7q1.6 2.4 4.3 3.2M156.1 168.8q-5.9 -7.6 -9.3 -16.6M134.2 167q1.2 -8.9 1.7 -17.9M146.9 152.1q4.1 -9.4 11.4 -16.6M134.4 119.8q9.3 .6 18.7 .7M167.1 129.7q-3.3 .3 -6.4 1.7M107.2 62.6q10.6 -8.6 20.2 -18.3M94.4 42.4q6.7 -10.1 17.6 -15.2M595.1 158.5q-2.2 -4.4 -4.6 -8.7M600.2 128.6q.5 5.5 1.3 11M577.3 84q.2 8.3 -6.2 13.7M528.1 -1.4q14.8 6.3 27 16.8M512.5 -12q7.1 7.9 14.7 15.4M555.9 68.1q8.8 -.5 17.5 .5M614.8 48.9q-7.1 5.1 -14.4 9.9M577.3 84q-.9 -8 -3.8 -15.4M568.5 14.4q6.2 8 3.7 17.8M555 15.4q-.4 0 -.9 .1M592.4 34.9q-4.2 -.2 -6.3 -3.8M-5.3 251.9q2.4 -3.1 5.8 -5M87.7 410q-10 -8.2 -20.9 -15.1M11.4 453.6q2 -5.9 4.3 -11.7M49.1 372.8q-2.8 2.1 -5.8 3.8M17.3 381.3q-6.8 4.5 -12.6 10.3M-6.6 381.4q7 3.6 11.3 10.2M-9.9 413.4q10 -7 15.7 -17.7M22.7 415.3q-2.6 -5.5 -2.8 -11.5M87.7 410q3.3 -3.5 7.8 -5M91.4 346.4q-1.6 .1 -3.1 0M54.4 332q3 -.6 6 -.2M83.8 318.7q-7.4 -1.6 -14.9 -1.3M68.9 317.5q-5 6.7 -8.5 14.3M128.9 630.8q9.4 -1.6 18.9 -2.4M88.7 547.8q-6.8 -5 -14.8 -7.9M-.8 539.8q3.8 -1.7 6.7 -4.8M321.8 71.6q-3.5 2.8 -7.2 5.4M153 120.5q4.5 5 7.6 10.9M230 114q-4.7 -7 -7.7 -14.8M204.2 136.9q5.5 -2.5 11.4 -3.5M204.2 136.9q-5 -4.8 -7.6 -11.3M196.6 125.6q.4 -1 .8 -2M259.6 90.3q-9.3 10 -12.4 23.3M223.7 92.2q-.5 3.6 -1.3 7.1M192.1 93.1q7.3 7.6 17.5 10.3M182.4 113q8 4.6 15.1 10.6M165.8 99.1q2.8 -6.5 4.4 -13.3M170.3 85.8q.2 -.3 .4 -.6M331.4 64.7q.3 -2.1 .8 -4.1M322.9 103q-1.1 -.2 -2.2 -.5M322.9 103q5.7 -5.7 12.1 -10.6M336.3 113.4q10.3 3.1 21.1 2.2M357.4 115.5q3.1 -2.8 6.7 -4.9M120.6 96.4q-5.6 3.2 -10.9 6.9M124.8 74.5q-8.7 -2.3 -15.8 -7.7M137.9 69.3q-6.1 3.6 -13 5.2M24.2 121.6q.5 .2 1.1 .4M129.1 -8.3q-.9 3.2 -2.9 6M124.6 20.7q12.7 -2.1 24.2 -7.9M149 340.5q-9.1 -4.6 -19.3 -3.6M145.8 312.7q-7.5 10 -16.8 18.4M176.8 329.8q-8.4 -2 -17 -2.3M153 364.6q1.5 1 2.9 2.3M121.1 343.1q1.8 .6 3.3 1.8M124.4 344.9q-10.7 .8 -20.2 -4.3M32.6 53.6q1.8 -1.9 3.4 -4.1M5.2 70.2q11.7 -.4 23.4 -.3M32.9 79.4q7.2 7.8 15.2 14.6M48.1 94.1q-5.9 7.5 -5.3 16.9M64.2 134.5q-4.7 4.3 -9.3 8.7M617.9 8.7q2 4.7 2.1 9.8M612.9 31.1q2.5 -6.9 7.2 -12.6M600.2 128.6q-10.5 4.2 -20.9 -.1M579.2 128.5q-3.2 5 -2.8 11M457.7 91.9q3.2 14.4 11.3 26.7M445.1 121.3q8.6 2 16.5 5.8M439.2 124.1q2.5 -2.3 5.9 -2.8M529.3 18.9q4.5 11 10.4 21.4M32.4 247.1q-1 8 -1.2 16M-8.7 318.4q8.7 -1.1 16.8 -4.6M8.1 313.8q-.2 -6.1 -1.1 -12.1M14.7 277.2q1.4 6.7 5.7 12M171.8 474.3q-5 8.6 -14 12.7M147.7 464.8q2.7 9.9 3.5 20.2M128.1 468.1q-3 .4 -5.5 2M139 540.2q6.4 -13 17.1 -22.8M185.8 529.4q1 1.2 2.6 1.1M128.1 468.1q1.7 -8.8 5.4 -17M114.9 447.8q-1.1 7.1 -2 14.3M165.3 454.6q-1.5 -11.1 -7.1 -20.8M158.2 433.7q-4.9 -1.5 -9.9 -2.4M114.1 373.6q-5.2 8.3 -12.2 15M101.9 388.6q.8 .3 1.5 .8M128.4 374.3q3.1 -4.9 4.1 -10.7M98.7 437.3q7.9 -4.6 10.5 -13.4M98.7 437.3q.4 -.7 .6 -1.5M99.3 435.9q7.9 5.8 15.6 11.9M112.9 462q-5.9 5.2 -13.7 6.1M54 536.3q2.6 -9.7 5.9 -19.1M49.6 506.2q-4.3 -.9 -7.8 -3.7M27.9 441.2q5.5 2.3 8.8 7.3M238.2 144.2q8.5 8.6 14.1 19.3M277.8 139.8q-1.4 -1.7 -2.9 -3.2M259.6 90.3q4.6 -2.1 9.7 -2.7M299.7 81q-.5 10.2 -3.7 20M307.9 109.5q-6 -1.3 -11.2 -4.6M221.9 42.6q-2.6 -8.6 .4 -17.1M173.3 15q.9 -12.1 -6.8 -21.5M221.6 -18.2q-1.3 12.1 -1 24.3M208.1 14q-2.4 .1 -4.8 0M199 76.6q3.5 -.3 6.9 -1.3M223.3 53.5q2.3 1.9 4.5 3.7M207.5 41.1q-2.6 7.5 -4.9 15.2M223.3 53.5q-1.7 -4.4 .2 -8.7M193.7 16.7q-3 -2.9 -7.1 -3.1M193.7 16.7q-1.1 7.7 -.7 15.5M365.6 65.7q1.6 -2.1 2.7 -4.4M368.3 61.3q.5 -9.9 1 -19.8M356.5 16.7q-1.7 -2.7 -4.8 -3.6M636.3 269q.1 -8.6 -6.6 -14.2M221.7 207.9q5 12 11.9 23.1M176.6 268.2q10 -.6 18.7 4.5M195.3 272.7q5.7 -8.7 4.3 -19M357.4 115.5q5.6 5.6 7.1 13.3M404.8 635.3q-2.9 -3.7 -3.5 -8.3M175.5 421.2q.9 1.2 1.8 2.5M177.2 423.7q2.6 8.7 9.7 14.4M520.3 129.5q2.4 .1 4.6 -.8M524.9 128.7q1.1 -5.3 3.3 -10.2M572.9 118.9q-8.8 2.8 -17.5 6.2M461.7 -6.6q-.9 4.9 -.3 9.8M525.2 50.8q-1.1 .5 -2.3 .7M495.6 82.7q.3 2.1 1.2 4.1M414.9 67.8q-11.5 6.1 -24.4 7.2M397.8 97.4q.7 -1.2 .9 -2.6M390.5 75q3.4 10.2 8.3 19.9M473.2 119.2q5.3 -4.2 9.1 -9.8M61.4 222.6q-2.6 -9.4 -8.5 -17.1M36.5 199.1q6.9 7.3 16.8 8.6M48.6 278.3q-.2 7.4 -4.2 13.7M43.1 239.1q6.7 11.7 19.1 17.1M46.7 498.6q-4.3 -10.3 -11.5 -18.8M76.7 460.8q-2.8 .7 -4.6 2.8M55.1 445.1q-4.1 3.6 -7.5 7.9M79 455.9q-.9 2.5 -2.3 4.9M54.2 471.2q.7 -.9 1.6 -1.5M72.1 463.6q3.1 5.3 6.5 10.5M267.8 59.8q5.6 -.5 9.3 -4.7M248.3 81.4q6 -7.7 2.4 -16.7M269.3 87.6q.6 -13.9 -1.5 -27.8M130.8 36.9q9.5 -1 19 .9M98.3 179.6q-10.8 -3.6 -18.3 -12.3M80 167.3q-3.2 1.2 -6.3 2.8M85.9 155.5q-9.7 -10.6 -17.6 -22.6M114.1 123q-6 2 -9.1 7.5M105 130.5q-.3 5.9 0 11.8M129.9 149.8q-4 .6 -6.8 3.5M109.7 103.3q-.6 10.5 4.4 19.7M72.5 130.4q16.3 -1.2 32.5 .1M625.2 205.1q-1.5 1.9 -2.7 4.1M622.1 201.3q-18 -2.3 -33.9 -11.1M589.9 220.4q-3.3 5.8 -5.8 12M622.5 209.1q-5 8.4 -6 18M592.1 216.1q-1.4 2 -2.3 4.3M634.9 237.2q-8 -.5 -14.5 -5.2M579.2 246.2q-.6 .8 -.6 1.9M439.2 124.1q-4.5 5.2 -9.7 9.6M306.7 576.3q1.1 .4 1.8 1.2M287.9 584.6q-1.9 -3 -3.3 -6.3M176.8 329.8q.5 .7 1.1 1.3M568.8 154.2q2.8 -4.7 4.2 -9.9M555.5 125.1q-2.3 4.3 -2 9.1M576.5 139.5q-1.9 2.3 -3.4 4.8M494.4 22.1q5.9 -2.7 12.3 -3.7M468.9 87.6q-3.2 -13.9 5.6 -25.1M419.2 69.8q10.3 -1.1 16.1 -9.7M443.9 67.1q-5.2 -2.3 -8.6 -7M443.9 67.1q-7.3 10.5 -15.1 20.7M78.8 216.4q.4 -8 3 -15.6M83.8 197.3q-1.1 1.7 -2 3.5M86.7 273.9q-4.6 2 -8.1 5.6M111.6 487.3q-.3 3.1 -2.2 5.5M295.5 2.9q-4.2 3.8 -9.6 5.5M300.5 35.8q3.9 -.3 7.7 -.7M322.5 2.8q-4.1 4.9 -6.9 10.7M259.3 -17.1q13.8 12.3 26.6 25.6M331.2 25.9q-6.8 -2.1 -13.9 -2.5M594.7 162.3q-10.4 .2 -20.7 1.2M594.7 162.3q-2.2 11 -6.8 21.3M328.5 131.8q3.8 5.5 9.1 9.7M337.6 141.5q6.3 .3 12.6 .9M617.6 492.6q5.4 -10.7 5.5 -22.6M623 509.1q-.2 4.1 -2.1 7.6M579.3 630.5q-19.7 6.3 -31.2 23.5M556.1 604.5q-8.6 12.9 -18.9 24.4M361.1 604.6q4.3 1.3 8.7 0M374.3 604q-2.3 .5 -4.6 .5M218.3 426.6q-2.4 -4.4 -6.7 -7.2M191.3 330.2q3.5 -8.7 7 -17.4M193 307.3q2.7 2.8 5.4 5.6M222.4 500.3q5.6 -8.8 7.8 -18.9M244.3 525.3q-3.8 -12.2 -1.7 -24.8M240.8 483.7q4.9 -2.6 7.8 -7.3M570.8 176.6q-6.8 4.1 -14.2 6.8M544.8 173.5q1.2 3.2 2.5 6.3M556.7 183.4q-4.7 -1.8 -9.3 -3.6M501.9 46q-5.9 6.2 -14.2 8.5M518.9 81.5q-5.6 -6.7 -7.7 -15.2M522.9 51.4q-3.5 .7 -6.7 -1.1M474.5 62.5q2.5 -1 5.1 -1.3M88.8 222.4q7.3 -10.6 18.3 -17.2M99.7 236.8q-2.7 1.7 -5 3.8M105.5 206.7q.8 -.8 1.6 -1.5M146.6 415.2q-4.5 -.3 -8.6 -2.2M146.6 415.2q9.1 -5.2 19 -8.8M158.6 372.6q-3.7 8.8 -8.3 17.2M562.3 602.4q1.9 -9.2 5.6 -17.8M584.4 574.9q-.8 -.1 -1.7 .1M582.8 575.1q-7.9 4 -14.9 9.5M623 509.1q-11.1 1.4 -22 4.3M620.9 516.7q-4.5 6.8 -9.9 12.8M615 552.4q-1.6 -6.8 -8.2 -9.1M432.1 611.7q2.1 -2.4 3.8 -5M433.8 594.7q.7 6.1 2 12M369.7 604.5q-3.3 -17.2 -2 -34.7M425.2 578.5q4.2 -5.5 9.6 -9.8M255.6 521q4.4 5.2 10.3 8.6M390.9 131.8q-1.2 8.2 -3.9 16.1M509 172.8q2.3 -4.1 5.9 -7.1M497.4 140.8q-2.7 7.7 -8.9 13M503.8 135q-2.5 4.3 -5.8 7.9M568.9 200.6q-5.1 -1.6 -10.1 -3.3M586.6 198.8q-9 -.3 -17.8 1.9M556.7 183.4q-1.5 7.4 2.1 14M337.3 164.3q-6.1 -2.1 -11.3 -6M277.4 209.5q-.1 1 -.3 2M620.1 355.7q-3.8 -3.8 -6.9 -8.1M592.6 370.9q-4.6 -2.9 -7.8 -7.3M645.4 360.3q-12.8 -1.6 -25.3 -4.7M614.6 337.1q-1.6 5.1 -1.4 10.4M589.9 376.5q-2 5.7 -4.3 11.3M556.7 578.5q6.7 1 11.2 6.1M255.6 521q4.6 -10.1 4.9 -21.1M556.1 604.5q-7.9 -3.1 -12.5 -10.3M556.7 578.5q-5.5 2.1 -11.4 2.6M348.8 581q2.9 -6.1 4.2 -12.8M310.5 571.8q8.2 -6.3 16.7 -12.1M356.1 566.5q-1.8 .4 -3.1 1.7M392.4 498.9q.4 3.2 1.2 6.3M378.2 480.2q-1.3 -13.7 1.1 -27.2M404.1 467.9q-9.5 -6.4 -13.1 -17.3M379.3 453q5.6 .8 11.1 -.2M427.1 462.5q2.8 -3.7 3.1 -8.4M286 447.7q8.6 -5.9 9.6 -16.3M217.6 343.2q-2.6 -3.6 -6.1 -6.3M181.7 384.7q6.1 -3.6 11.4 -8.4M229.1 401.5q5.8 2.8 12 4.3M217.2 389.1q7.2 -10.9 12.2 -23M442.5 188q13.2 -2.5 24.7 4.6M441.3 176q4.4 -3.3 6.9 -8.2M448.2 167.8q-2 -6.2 -.3 -12.6M425.5 169.8q1.6 -2.5 1.8 -5.4M406.5 128q-2.2 13.9 1 27.6M416.8 152.9q-4.9 .7 -9.3 2.8M498.7 192.7q-3.3 .8 -6.6 1.4M441.3 176q.3 6 1.2 12M502 191.8q3.8 -9.3 7 -18.9M502 191.8q-1.8 -.2 -3.3 .9M573.7 297.2q2.9 .5 5.8 .9M562.5 269.9q1.2 5.7 .8 11.6M502 191.8q1.2 1.5 2.1 3.1M546.6 226.7q5 8.4 9.1 17.3M547.3 268.8q-1.4 -6.3 -2 -12.7M301.4 185.9q8 -2.5 11.5 -10.1M544.4 378.4q-5.9 1.9 -11.9 3.7M554 394.3q-12.4 1.6 -20.5 11.1M549.4 366.4q9.1 1.7 18.3 2.9M549.4 366.4q-3.5 5.6 -5.1 12M437.9 321.8q-2.1 16.1 -12.4 28.6M454.7 348.6q.6 3.6 0 7.1M449.7 357.8q-11.2 -6.7 -24.2 -7.4M422.3 350.3q1.6 -.2 3.2 .1M422.3 350.3q4.5 13.2 11.4 25.4M639.8 314q-12.2 5 -25.2 3.4M614.6 337.1q-.8 -1.1 -1.9 -1.9M590.5 336.6q.3 -1 .6 -2M561.5 316q4.9 2.1 9.3 5.1M616.1 371.5q.3 9 -2.3 17.6M590.3 444q3.2 -.7 5.7 -2.8M595.9 441.2q8.8 1.6 17.3 4.3M568.6 475.2q4.4 3.7 7.9 8.2M523.2 520.7q8.5 -6.1 18.9 -4.3M525.8 489.2q11 -7.5 18.4 -18.6M540.1 540.8q1.3 8.2 6.8 14.4M546.9 555.3q-3.7 6.6 -9.9 10.8M537 566.1q-7 -1.1 -13 -4.7M545.3 581.1q-4.5 -3.5 -7.6 -8.4M481.7 623.4q11.2 -1.4 19.9 -8.6M364.4 514.3q-12.2 -9.6 -22.3 -21.3M370.4 486.4q-13.8 2.4 -27.7 3.5M339.5 491.3q1.2 .9 2.5 1.7M313.2 472.9q-2.9 1 -5.5 2.6M287.1 450.6q11.7 1.8 23.5 2.2M295.6 431.4q3 -.2 5.9 -.5M343.4 471.8q-8.8 -6.2 -18.9 -9.8M440.8 393.5q-8.1 3.9 -16.2 8M424 384.1q-1.8 8.7 .6 17.4M222.1 289.6q-6.5 -5.4 -11.5 -12.4M204.9 316.4q6.3 -8.3 16.7 -9.5M428.8 242.9q.6 -3.5 1.2 -7M388.2 171.8q4.3 8 5.8 16.9M361.8 182.2q11.3 5.9 21 14.2M433.8 278.9q4.6 5.9 10.8 10.1M437.9 321.8q-6.2 -2.1 -9.2 -8M358.1 188.4q-11.2 -1.8 -22.3 .2M330.8 192.8q1.4 -1.6 2.8 -3.1M361.8 182.2q-1.8 3.1 -3.7 6.1M384.7 208.4q.8 -6.2 -1.8 -11.9M312.9 175.8q12 4.5 20.6 13.9M540.1 226.8q-7.8 5.2 -12.9 12.9M520 237.1q3.7 1.1 7.2 2.7M545.3 256.2q-.4 .2 -.8 .5M366.6 218.4q3 8.1 4.5 16.5M349.4 234.2q9.8 2 17.5 8.4M418.8 352.7q2.3 15.1 -7.6 26.7M485.3 329q-2.2 4 -2.3 8.5M540.6 331.8q-.4 6.9 -5.1 12M423.1 494.5q-2.8 6.4 -6.8 12.2M543.6 594.3q-7.2 2 -13.2 6.6M359.8 521.8q-5.7 1.2 -11.5 1.2M376.9 541.4q-5.6 -3.3 -11.8 -5M331.7 514.8q.4 2.5 -.3 4.9M280.7 508q3.7 -1.8 6.4 -4.9M309.6 501.1q-.7 5.3 -3.2 10M383 406.2q9.2 4.9 13.1 14.5M417.4 417.5q.3 -1 .3 -2M225.9 331.9q-1 -7.5 -1.9 -15M330.7 231.2q-7.5 6.7 -13.3 14.9M343 238.6q-3.4 8 -5.9 16.3M440.1 498.2q-4.7 -4.6 -10.9 -6.7M423.1 494.5q2.9 -1.9 6.1 -3M440 513.3q-6.2 3.3 -12 7.3M448.1 515.3q6.4 -7.4 12.2 -15.2M424.7 310.4q-7 -4.8 -12.4 -11.4M398.6 300.9q4.7 0 9.2 -1.6M392.8 190.8q10.8 -7.7 23.1 -12.6M418.4 174.6q-1.3 1.7 -2.5 3.6M430.3 202.3q-.7 .2 -1.3 .5M408.8 233.2q2 -2.1 4.1 -4.2M408.8 233.2q-8.2 -5 -17.6 -7.2M530.2 430.2q12.7 6.4 21 17.9M515.8 475.1q-1.3 -4.1 -.1 -8.3M544.2 470.6q2.7 -5.5 2.2 -11.7M515.8 475.1q-11.2 8 -24.6 11.4M491.2 486.5q-1 -5.4 -3.5 -10.3M487.6 476.2q1.6 -9.3 1.3 -18.7M460.6 471.6q13.8 .6 27 4.6M563.1 341.6q-.1 1.3 -.2 2.5M554.8 329.4q2.8 6.4 5.5 12.8M584.6 517.5q-4.9 1.4 -9.9 .6M584.6 517.5q10.8 12.4 18.3 27.1M493.8 598.1q5.9 2.7 9.7 8M499.1 580.4q-11.6 3.1 -23.4 .7M484.7 553.2q10.1 12.1 14.4 27.2M288 378.3q.8 -1.6 2.2 -2.7M472.4 551.9q-9.2 -7.8 -17.3 -16.6M474.9 506.9q7.5 -10 17.3 -17.6M479.2 518.7q-1.8 -2.4 -4.5 -3.7M510.5 516.7q-4.4 1.5 -7.1 5.3M491.2 486.5q0 1.6 1 2.8M245.2 305.5q10.8 .3 21.6 -.2M547.6 295.2q-5.8 -6.1 -11.3 -12.5M487 283.4q12.3 2.7 24.6 5.2M494.5 313.8q9.3 -3.4 17.2 -9.3M483.3 270.3q3.4 6.1 3.6 13.1M536.3 282.7q-11.2 4.1 -21.9 9.2M521.1 446.2q2.9 -6.4 6 -12.8M483.7 426.9q-4.2 1.9 -7.5 5.1M486.1 402.5q2.3 -.6 4.6 -.2M463 412.1q-3.3 -1.2 -6.7 -.5M370.9 484.2q-12 -12.4 -16.8 -29M361.3 432.5q-9.5 5 -19.8 8M353.7 460.4q-7 -9.4 -12.1 -19.9M239.4 293.7q12.1 -2.9 18.9 -13.2M338.6 327.6q5.4 -2.9 11.5 -2.6M350.1 325q5.5 5.7 8.9 12.8M320.6 317.9q5.5 -1.7 11 -.1M331.6 317.8q2.8 5.4 7 9.8M374.1 357.6q-7.2 -6.5 -14.6 -12.8M378 329.6q-9.5 4.1 -19 8.1M331.6 317.8q7.4 -14.1 6.7 -30M359.4 312.4q.8 -4.6 -.2 -9.2M326.9 362.2q10.2 6.7 19.7 14.2M290.2 375.6q9 .9 18 1M304.2 404.2q-.4 -10.9 7.5 -18.4M343.6 402.3q-1.9 -3.6 -4.9 -6.5" stroke="rgb(200,200,200)"/><path d="M13.4 609.4q4.8 3.5 10.5 5.4M32.4 597.3q2.4 6.6 1.5 13.5M336.5 628.7q-.1 8.1 -.5 16.2M274.3 629.6q-8.3 -12.2 -13.4 -26M270.5 598.9q10.2 8.7 19.4 18.5M393.3 650.2q-10.5 -8.3 -18.2 -19.2M8.8 176.5q-6.3 -4.8 -11.4 -10.8M-.8 204.1q-10.8 -2.2 -21.5 -5M228.5 539.4q-6.5 7.4 -14.5 13.1M164.8 607.4q2.6 9.2 7.4 17.5M172.2 624.9q5.2 .4 10.3 1.6M177.6 584.2q13.2 -.5 26.1 -3.3M233.4 587.8q-10.6 3.4 -18.9 11M214 552.5q-2.3 1.3 -4.6 2.9M254.3 601.8q-4.6 -3.8 -5.5 -9.7M254.3 601.8q-3.3 8.5 -7.7 16.5M256.4 637.3q-2.9 -4.7 -6.9 -8.5M30.8 594.9q-.8 -14.5 -5.3 -28.3M150.5 218.3q-1 -.8 -2.1 -1.4M80.2 422.6q-6.8 1.9 -13.8 3.1M27.9 441.2q8.5 -6.9 9.5 -17.8M117.8 173.2q3.1 13.6 12.5 23.9M117.8 173.2q8.2 -3.2 16.4 -6.2M163.4 194.1q-10.2 -5.4 -15.8 -15.5M23.6 339.5q9.8 -3.8 15.4 -12.7M138.1 539.8q-4.1 -11.8 -10.9 -22.4M102.3 533.3q.4 -1.1 .5 -2.3M102.7 531q12.6 -6.2 24.5 -13.6M96.2 593q4.7 6.5 8.2 13.5M104.5 606.6q3.6 1.9 7.3 3.3M137.3 585.9q2.1 .3 4.1 1.3M62.5 601.6q4.2 -.4 7.9 -2.6M87.2 586.5q-.5 -7.6 -.3 -15.2M117.8 254.8q2.9 -1.1 5.4 -2.8M131.6 279.6q3.4 -3.8 7.2 -7.2M138.9 221.8q-5.1 -2.6 -9.2 -6.5M121.4 232.6q1.3 -5.5 -1.3 -10.6M120.1 222.1q4.7 -3.6 9.7 -6.7M174.6 261q-7.9 -5.8 -15.8 -11.6M176.6 268.2q-2.3 .9 -3.3 3.1M173.3 271.2q-15.1 1.3 -28.8 -5.1M189.5 238.4q-5.9 1.7 -11.9 3M206 178.9q-13.1 -2.6 -19.5 -14.4M177.8 190.5q7.3 4.6 14.8 8.7M219.6 160.6q-10.2 -6.9 -19.9 -14.6M223.5 178.5q-6.3 12.2 -9.1 25.7M84.2 43.4q-8.1 -5.6 -16.2 -11.1M79.7 6.9q1.6 .1 3 -.5M602 115.8q-6.3 -3.2 -12.7 -6.1M604.7 179.5q1.5 -9.9 -2.9 -18.9M601.8 160.6q9.5 -4.7 17.6 -11.6M619.4 149q7.2 3.6 14 7.8M601.8 160.6q-3.2 -1.5 -6.7 -2.1M615.1 145.1q-6.8 -2.8 -13.6 -5.4M590.5 149.8q6 -4.5 11 -10.1M589.2 109.7q-8.9 -1.8 -17.8 -.8M559.9 7.5q-.5 0 -.9 -.1M555.6 40.5q-.4 13.8 .3 27.6M580.5 62.1q-2.5 4.4 -7 6.5M559.9 7.5q4.3 3.4 8.6 6.9M555.6 40.5q.8 .1 1 .9M554.2 15.5q-2.9 13.3 2.5 25.9M0 230.9q-.3 8.1 .5 16.1M12.4 434.7q-10.5 2.3 -21.3 3M13.9 216.8q6.5 -4.4 9.5 -11.6M31.9 351.5q8.9 -1.5 18 -1M49.9 350.6q3.2 4 3 9.2M14.6 341.1q-4.6 1.6 -8.2 4.8M17.9 372.1q-.8 .8 -1.1 1.8M4.7 391.6q.4 2.1 1.1 4.1M16.8 373.9q.8 3.6 .6 7.3M72.6 389.6q1 -1.3 1.8 -2.8M127.2 517.3q-2 -.3 -3.8 .6M78.7 619q1.3 6.1 1.6 12.4M50.8 629.7q5.7 2.3 9.6 7M147.7 628.4q-.9 -6.1 .6 -12.1M125 633.3q1.4 -2.1 3.8 -2.5M73.9 539.9q-2.7 .1 -5.4 .7M-8.1 479.2q4.6 -.7 9.2 -1.2M154.5 291.3q-1.9 -2.1 -3 -4.6M175.3 287.4q-4.4 7.9 -6.2 16.8M169.1 304.3q.1 .2 .2 .3M173.3 271.2q-1.5 3.4 -2.4 7.1M299.7 81q-4.1 -4.3 -8.9 -7.9M223.7 92.2q4.3 -4.6 6.9 -10.3M139.9 92.8q1.2 -5.5 1.6 -11M187.2 88.1q2.3 2.6 4.8 5.1M360.6 68.4q-4.8 12.6 -10.9 24.8M364.1 110.7q-5.6 -10.1 -14.4 -17.5M98.6 97.9q3.2 -11.4 -.5 -22.7M29.1 168.7q4.5 -4.8 5.9 -11.1M61.8 162q1.9 -11.3 -6.9 -18.8M73.4 179.5q1.6 -4.6 .3 -9.4M73.7 170.1q-5.9 -4.1 -11.9 -8.1M64 35.4q1.8 -1.9 4 -3.2M126.2 -2.3q-7.3 -1.6 -14.7 -3.2M148.8 12.8q.1 -3.4 .7 -6.8M149.5 6q-11.9 -4.7 -20.4 -14.3M121.8 25.5q1.4 -2.4 2.8 -4.8M36.7 17.3q-2.2 -1.6 -4.1 -3.5M-8.5 25.6q5 -3.1 10.4 -5.6M-.4 46q-3.6 -10.4 -8.1 -20.4M131.6 279.6q-2.1 3.2 -4.9 5.8M83.8 318.7q1.5 -.8 3.1 -1.3M104.2 340.6q-4.6 -6.5 -5.1 -14.4M159.8 327.4q-4.3 -5.5 -9.1 -10.6M145.8 312.7q2.9 1.6 4.9 4.1M157.9 349.9q-3.7 -5.4 -8.9 -9.4M157.9 349.9q-3.8 6.9 -4.9 14.7M121.1 343.1q5.8 10.2 11.3 20.5M120 314.4q1.2 10.2 9 16.7M72 60.3q.3 5.4 -1.4 10.6M21.4 95.2q3.8 -9.3 11.6 -15.7M624.1 195.3q-1.6 2.8 -1.9 6M658.7 230.8q-19.9 -8.9 -33.6 -25.8M625.2 205.1q-2 -1.5 -3.1 -3.8M579.2 128.5q-3 -4.9 -6.3 -9.6M457.7 91.9q-2.9 1.3 -5.7 2.8M439.2 124.1q-9 -7.7 -14.9 -18.1M527.2 3.4q1.8 7.8 -.6 15.4M14.7 277.2q1.2 -4.4 1.5 -8.9M7 301.7q-5.6 -4.3 -11.3 -8.5M34.3 315.5q2.1 -8.5 6.4 -16.1M157.8 487q.9 4.6 3.8 8.2M142.3 489.6q-4.4 8.7 -4.3 18.5M161.6 495.2q-2.7 9.4 -4.9 19M150.6 459q7.5 -1.8 14.7 -4.5M111.3 500.4q11.9 -6.3 24.4 -11.1M186.7 521.3q0 4.1 -.9 8.1M123.6 472.6q-5.3 -5.3 -10.7 -10.6M133.5 451.1q5.5 0 9.2 -4.2M95.5 378.9q2.8 -8.6 7.8 -16.2M85.3 378.7q5.1 -1 10.2 .2M98.4 392.6q2.6 -1.5 5 -3.2M128.4 374.3q-7.3 2 -14.3 -.7M25.2 508.7q-9.9 -4.5 -18 -11.7M24.9 518.9q-8.6 -4.3 -16.7 -9.3M7.2 496.9q-2.4 5.1 -3.4 10.6M3.9 507.5q2.3 .7 4.3 2.2M29.9 526.4q-.7 -4.9 -5 -7.5M79.7 439.4q1.5 8.4 -.7 16.6M79 455.9q8.7 4.3 18.4 3.6M99.2 468.1q-.8 -4.3 -1.7 -8.6M80 525.2q-2.2 -6 -6.8 -10.5M32.7 529.7q8.8 -11.6 16.9 -23.6M32 504.2q5.1 0 9.9 -1.7M30.8 465q1.2 5.1 3.4 9.9M238.2 144.2q2.3 -5.6 6.4 -10.2M244.6 134q17.4 -1.4 33.2 5.8M228.8 143.5q4.7 .3 9.4 .7M239.8 113.4q5.7 9.6 4.7 20.6M212.2 23q5 1.5 10.1 2.4M227.6 24.1q-2.6 .6 -5.3 1.3M149.5 6q5.2 -9.7 10.7 -19.1M203.3 14q-1.4 -16.2 -6.4 -31.6M187.2 88.1q5.2 -6.4 11.8 -11.4M174.8 85.6q2.8 -11.6 9.5 -21.3M223.7 92.2q-9.7 -7.6 -17.8 -16.9M205.9 75.3q-.2 -6 1.8 -11.7M177.1 17.7q4.4 -2.7 9.4 -4.1M203.7 36.3q-5 -3 -10.7 -4.1M343.3 40.9q9.5 -6.6 21 -6.3M400.9 42.3q-5.8 -4.3 -11.4 -8.9M351.7 13.1q-10.3 6.2 -20.5 12.8M72.1 73q-2.6 5.8 -1.6 12.1M87 104q-9.6 -8.3 -16.5 -19M57.1 94.3q8.2 -2.6 13.5 -9.3M209.9 218.2q3 11.1 5.5 22.3M217.1 209.8q2.5 -.6 4.6 -2M215.4 240.5q9.6 -3.9 18.2 -9.5M189.5 238.4q8.4 2.4 16.7 4.8M199.6 253.7q5.9 -3.7 6.6 -10.5M215.4 240.5q-3.3 3.4 -6.1 7.3M307.9 109.5q1.2 13 5.5 25.4M390.9 131.8q-13.1 -2.1 -26.4 -3M158.2 433.7q10.6 -3.5 17.2 -12.5M481.3 97q.9 6.2 1 12.4M510.4 103.1q-4.9 7.7 -10.6 14.8M499.8 118q-8.7 -4.4 -17.5 -8.6M528.2 118.5q-2.9 -7.8 -7.1 -14.9M521.1 103.6q1 -4.4 0 -8.9M550 102.7q-2.6 5.4 -6 10.3M551 97.1q-1.7 2.6 -.9 5.6M555.5 125.1q-4.2 -7.5 -11.4 -12.1M523.8 86.7q-2.7 -2.4 -4.9 -5.2M393.3 70.8q-.9 2.4 -2.8 4.2M481.3 97q-7.5 -2.9 -12.4 -9.3M30.2 230.3q11.5 -11.3 23.1 -22.6M57.6 191.3q1.4 4.9 -.1 9.9M40.7 299.4q1.2 -4.1 3.7 -7.5M62.4 307.2q-9.3 -7.3 -18.1 -15.3M65.8 228.5q-1.7 -3.3 -4.4 -5.9M148.3 431.3q.4 -.3 .7 -.6M55.9 469.6q-1.8 -9.5 -8.4 -16.6M56.1 439.2q-.4 3 -1 5.9M250.8 64.7q8.5 -2.5 17 -4.9M154.2 56.3q2 2.9 5.4 4M156.3 21q-1.2 6.2 -2.3 12.5M143.2 65.4q4.3 -6 11 -9.1M105.5 171.2q-1 -8.6 -5.9 -15.8M134.4 119.8q-2.8 3 -5.1 6.4M586.6 198.8q1.6 -4.2 1.6 -8.6M589.9 220.4q14.1 .1 26.6 6.7M609.5 239.1q-13.1 -.5 -26.2 .6M583.3 239.6q-.3 -3.7 .8 -7.2M611.1 256.6q2.8 -9.1 -1.5 -17.6M631.1 603q-3.1 -9.3 -5.1 -18.8M615 607.7q-10.1 -2.5 -20.5 -3.1M653.5 556.1q-16.3 11.4 -27.5 28M202.5 514.5q10.9 7.4 23.9 9.8M228.9 531.1q-.4 -3.7 -2.4 -6.8M553.5 134.2q11.4 2 19.6 10.1M553.5 134.2q-3.1 2.9 -7.2 3.5M543.4 144.1q6.9 5.7 12.5 12.5M524.9 128.7q10.5 4.8 21.3 9M526.6 18.8q-2.4 .6 -4.7 1.4M521.9 20.2q-7.8 .4 -15.2 -1.8M448.7 10.5q-8 .5 -15 -3.5M445.9 67.2q-1 .3 -2 -.1M57.5 201.2q12.1 -2.6 24.3 -.4M98.3 179.6q-1.9 7.9 -.2 15.8M79.2 262.2q4.2 5.6 7.6 11.7M107.2 412.5q6.5 -3.7 13.4 -6.5M123.8 428.8q.5 -9.3 7.4 -15.6M128.4 374.3q-.6 6.7 -.4 13.4M128 387.7q-4.3 1.6 -5.2 6.1M263.6 25.8q-1 -19.5 -5.9 -38.3M252.7 38.3q.4 -2.2 .5 -4.4M223.4 44.8q12.8 -7.2 23.9 -16.9M286.3 18.8q7.5 8.2 14.2 17M308.2 35.1q3.7 -6.5 9.1 -11.7M317.3 23.4q.2 -5.2 -1.7 -10M297.4 -13.9q-4.7 8 -1.9 16.8M269.7 25.5q8.1 -3.9 16.6 -6.7M587.9 183.6q-7.5 -6.1 -17.1 -7M595.1 158.5q-.3 1.9 -.5 3.8M236 229.6q6 -3.2 12.7 -4.1M601.4 285.7q-2.3 -4.7 -5 -9.2M617.6 492.6q3.3 3.9 7.1 7.3M615.9 549.3q-.4 1.6 -.9 3.1M579.3 630.5q.3 -4.3 1.3 -8.5M593.3 645.5q-3.6 -10.7 -14 -15M577 610.5q-7.3 -4.2 -14.7 -8.1M537.2 628.9q.8 2.9 1.4 5.8M324.5 584.2q11.8 -4.3 24.3 -3.2M336.4 596.8q5 1.8 10.3 .9M324.2 615q6.5 -8.8 12.2 -18.2M277.5 573.3q1.5 -7.4 -1.2 -14.5M254.4 550.3q11.1 3.8 22 8.5M177.2 423.7q11.2 -7.3 24.3 -10.4M180 389.1q-4.1 9.7 -10.7 17.9M180 389.1q.8 -2.2 1.7 -4.4M211.5 336.9q-.8 -11.1 -6.6 -20.5M198.4 312.8q3.8 .8 6.5 3.6M222.4 500.3q.5 .2 1 .4M230.1 481.4q4.9 3.4 10.7 2.3M247.1 491.8q-1.9 4.5 -4.5 8.7M248.6 476.3q-4.2 -4.3 -6.2 -10M544.8 173.5q-4.1 -11.6 -11.4 -21.5M516.2 50.3q-2 8.1 -5 15.9M514.3 50.7q-5.6 -3.9 -12.5 -4.8M71.5 238.8q11.8 .8 23.4 3M128 387.7q6.9 3.9 13.6 8.1M180 389.1q-12.3 -6.2 -21.4 -16.5M155.9 366.9q.3 3.3 2.7 5.7M629.8 421.9q5.8 3.6 8.6 9.8M629.2 439.8q2.4 -4 7 -3.5M430.8 633.6q20.8 -6.4 40.9 -14.5M435.9 606.7q9.2 -1.7 18.3 -3.8M462.1 643.7q6.9 -11.5 9.6 -24.5M425.2 578.5q3.4 8.6 8.6 16.2M394.4 568.4q.6 -.1 1.1 .1M435.7 555.6q10.2 4.5 21.4 5.6M456 586.6q-2.5 -1.8 -4.6 -4M276.3 558.8q2.7 -5.5 6.7 -10.1M236 229.6q.8 9.5 3.2 18.7M219.5 454q10.4 -9.6 20.3 -19.6M230.8 425.7q4.5 4.3 9 8.7M248.6 476.3q11.1 .6 21.7 -2.8M254.3 448.4q4.1 3.4 9.3 4.7M270.5 421.5q-2.4 -.7 -4.5 -2M458.1 145.9q3.1 1.9 5.4 4.7M509 172.8q-9.7 -2.9 -18.6 -7.9M529.1 153.7q-4.4 8 -11.7 13.3M484.5 136.7q6.3 2.5 12.9 4.1M547.3 179.8q-2.4 .1 -4.6 1M539.3 185.1q1.6 -2.3 3.5 -4.3M536.8 204.6q6.9 -.5 10.6 5.4M337.3 164.3q1.5 2 3.9 2.6M286.7 131.2q9.6 6.5 21.3 6.8M254.9 219.7q10.6 -1.9 20.7 -5.5M275.5 195.8q1.6 6.8 1.9 13.7M612.6 371.3q-9.9 -2 -19.9 -.4M564.9 388.2q10.4 .9 20.7 -.4M581.6 452.6q-.6 .7 -1.3 1.4M581.6 452.6q4.3 -4.3 8.7 -8.5M553.2 445.1q5.6 -9.2 6.7 -19.9M580.4 573q-11 -6.8 -18.9 -17.1M247.1 491.8q5.4 5.4 12.9 7.1M259.9 498.9q5.4 -9.3 12.5 -17.4M545.3 581.1q.7 6.8 -1.6 13.2M367.7 569.8q-5.6 -2.4 -11.6 -3.3M329.4 543.7q1.7 8.4 -2.2 16M417.6 490.2q-13 3 -25.2 8.7M370.4 486.4q-1 11 2.8 21.3M391 450.5q9.1 -4.4 18.2 -8.7M205.2 354.9q-9.9 -1.7 -19.1 -5.6M213.4 387.4q-8.4 -9 -20.5 -11.4M211.6 419.4q7.5 -10.2 17.6 -17.9M213.4 387.4q2.2 .3 3.8 1.7M471.1 224.4q-3.9 -6.7 -7.5 -13.6M430.3 202.3q2 -.1 3.7 -1.3M430 137.4q-5.2 8.9 -13.1 15.5M400.9 159.6q3.2 -1.5 6 -3.7M407.5 155.6q-.3 0 -.6 .2M472.8 175.6q6.6 -1.1 13 -2.8M547.6 295.2q6.7 -8.1 15.7 -13.7M547.3 268.8q7.7 -.3 15.2 1.1M312.9 175.8q.7 -4.7 .4 -9.5M275.5 195.8q9.6 -6.1 11.6 -17.3M272.2 169.9q7.6 -.3 14.7 2.3M326.1 158.3q-5.7 5 -12.7 8M558.3 395.1q-2.1 -.7 -4.3 -.8M564.2 421.6q1.1 -7.2 1.6 -14.5M454.7 355.7q-2.8 .4 -5 2.1M438.3 377q4.4 -.8 8.9 0M602.4 294.8q-7.1 5.6 -14.8 10.4M602.4 294.8q7.6 3.6 13.3 9.9M587.6 305.2q.8 3.1 1.8 6.1M614.6 317.4q-.7 2 -2.7 3M601.4 285.7q.1 4.6 1 9.1M612.7 335.2q.2 -7.4 -.7 -14.8M574 337.1q8.4 2.5 16.6 -.4M563.1 341.6q5.9 -1 10.8 -4.6M581.6 452.6q10.2 5.6 16.3 15.7M621.5 439.2q-1.2 -10 -5.5 -19M540.1 540.8q5.2 -4.2 10.6 -8.2M376.9 541.4q3 -3.6 4.9 -7.9M398.3 531.9q6.9 7.6 8.7 17.7M428.2 544.2q-.2 -1.4 -.6 -2.7M537 566.1q.5 3.3 .7 6.6M503 548q6.4 11.1 7.2 23.9M373.2 507.7q-.5 3.5 -3.3 5.5M278.8 480.2q4.4 2.5 6.8 6.8M278.8 480.2q7.1 -8.8 8.8 -20M286 447.7q.6 1.4 1.1 2.8M287.1 450.6q-1.3 4.9 .5 9.7M272.4 481.4q3.2 -.7 6.4 -1.2M301.5 430.9q7.4 3.5 13.3 9M440.8 393.5q-2.9 -8 -2.5 -16.5M302.1 223.1q0 5 .7 10M286.8 244.2q9 -4 16 -11.1M216.3 297.7q-9.7 1.1 -19.4 2.4M193 307.3q3.4 -2.8 4 -7.1M230.8 289q5 -8.7 5.4 -18.7M224 263.1q-7.6 6.2 -13.3 14.2M442.9 258.5q-6.6 -8.2 -14.1 -15.7M442.9 258.5q-2.5 3.6 -5.4 7M359.1 171.2q3.3 5 2.8 11M477.6 230.4q-9.7 17.2 -10.8 36.9M308 218q7.7 9.1 19.5 8.9M513.9 224.4q2.2 6.7 6.2 12.7M371.1 235q-2.7 3.5 -4.2 7.7M424.7 310.4q1.6 2.2 4 3.4M424.7 310.4q-10.8 13.9 -24.4 25M422.3 350.3q-1.6 1.4 -3.5 2.4M406.8 350.2q-7.6 9.2 -17.1 16.4M500 357.2q4.1 .3 7.2 3M454.7 348.6q11.8 .2 23.5 -.9M483 337.6q.1 3.9 2.7 6.8M517.9 335q8 -6.6 15.5 -13.6M511.7 335.6q.4 -2.1 .1 -4.3M618.1 420q-1.1 -6.8 -1.7 -13.6M616.4 406.4q-4.9 -1.6 -8.3 -5.4M593.8 404.3q7 -2.4 14.3 -3.3M586.6 400.9q3.5 1.9 7.2 3.4M568.6 475.2q-4.9 -.1 -8.1 3.6M582.1 495.8q-7.7 6.7 -10.1 16.6M598.9 512q0 -8.4 -1.6 -16.7M423.1 494.5q-2.4 -2.6 -5.5 -4.3M381.8 533.5q-4 -11.3 -11.9 -20.2M466.8 559q4.8 10.9 9 22.1M510.2 571.8q-1.5 2.9 -1.3 6.2M524.5 602.7q3.1 -.6 6 -1.8M351.1 546.4q7 -5.1 14 -10.1M356.1 566.5q-3.1 -9.9 -5 -20.1M364.4 514.3q-1.5 4.3 -4.6 7.6M306.3 511.1q-.8 .1 -1.6 .1M278.4 519.8q1.2 -5.9 2.3 -11.8M299.4 530.1q.5 1.3 1.1 2.6M331.3 519.7q-13.2 -4.4 -26.6 -8.6M288.1 548.4q8.8 -7.3 11.3 -18.4M375.4 406.2q3.8 -.5 7.6 0M390.4 452.8q.3 -11.1 4 -21.5M430.3 454.2q8.9 -2.5 15.6 -8.9M436.3 428.3q-8.8 -6.5 -18.9 -10.8M217.6 343.2q3.3 -6.3 8.3 -11.3M239.4 293.7q3.8 5.5 5.8 11.8M330.7 231.2q5.8 4.3 12.3 7.4M394.6 334.6q-2.1 1.4 -4.4 2.4M236.7 364.6q7.1 8.6 16.7 14.3M422 287.9q-5.7 4.8 -9.7 11.2M420.5 206.3q-12 -11.1 -27.7 -15.4M385.2 235.4q-7 -.4 -14 -.5M509.5 261.6q-3.5 -3.3 -5.5 -7.7M553.2 445.1q-1 1.5 -2 3M515.7 466.8q-2.9 -9.3 -7.9 -17.8M507.8 449q-9.4 4.3 -18.9 8.5M451.2 451.5q11.4 -4 20.9 -11.4M447.2 377q11 -.8 22 -1.2M515.9 388.6q-6 5.3 -8.9 12.7M562.9 344.2q-1.3 -1 -2.6 -2M553.7 367.2q-11.8 -5.8 -18.9 -16.9M534.8 350.3q.5 -.7 1.4 -1.1M527.5 358.9q2.5 -5.3 7.3 -8.6M588.6 548.8q-8.9 -5 -19 -6.4M550.8 532.6q9.8 -1.9 19.7 -1.1M561.5 555.9q3 -7.4 8.1 -13.5M500.6 578.1q3.4 .4 6.3 -1.3M506.9 576.8q1.5 13 2.7 26M499.1 580.4q.8 -1.1 1.4 -2.3M499.4 546.4q1.8 .9 3.6 1.6M501.6 614.8q.3 -4.5 1.8 -8.7M394.5 431.3q-9.2 -.3 -18.3 -1.2M367.8 408.6q4.6 10.6 8.4 21.5M249.9 398.2q15.6 -1 30.8 2.4M285.2 416.9q1 -3.6 2.5 -7.1M280.7 400.6q3.7 4.5 7 9.3M239.2 332.3q5.7 -3.6 10.4 -8.5M248.1 341.4q8.8 1.4 17.7 2.5M243.2 307.6q2 8.6 6.5 16.2M337 254.9q3.5 5.6 6.3 11.5M455.2 535.3q-.6 -4.2 -1.4 -8.3M476.3 551.6q0 -16.6 2.9 -32.9M270.9 321.4q1.4 -4 3.7 -7.5M404.4 262.2q3.2 -1.1 6.3 -2.1M410.8 260q-2.4 -8.3 -1 -16.8M409.8 243.3q-11.5 .4 -22.1 4.7M547.3 268.8q-5.4 -.1 -10.2 2.5M537.1 271.3q-.4 5.7 -.7 11.4M511.5 288.6q1.3 1.8 2.9 3.3M514 298.2q-.2 -3.1 .4 -6.2M540.6 306.7q-13.1 -4.9 -26.6 -8.5M510.3 449.1q-1.7 -10.7 -6 -20.6M507.8 449q1.2 -.1 2.5 0M531.9 408.1q-7.8 6.5 -16.7 11.5M483.7 426.9q1.5 -12.2 2.4 -24.4M472.6 400.1q-2.6 -8.5 -6.1 -16.7M450.9 398.2q1.8 7 5.4 13.4M476.2 432q-7.6 -9.3 -13.2 -19.9M440.8 393.5q5.1 2.4 10.1 4.8M344.5 409.8q-7.9 5.4 -14.8 12M329.7 421.8q-.4 4.1 -2 7.8M342.3 442.8q-.5 -1.1 -.7 -2.3M372.6 381q-2.2 -1.7 -3.6 -4.2M369 376.9q-14.7 10.6 -25.4 25.4M343.6 402.3q1.3 3.6 .9 7.5M324.6 462q7.6 -10.7 17.7 -19.2M253.2 251.7q-3.5 .6 -7 .4M236.2 270.2q4.6 -3.1 9.1 -6.4M286.8 244.2q-2.7 2.9 -3.5 6.7M283.2 250.9q13.9 2.8 25.2 11.4M283.2 250.9q-4 5.2 -9.1 9.3M329.2 352.7q2 -3.3 4.5 -6.2M369 376.9q-9.1 -2.2 -17.8 -5.4M398.6 300.9q-4.2 .1 -8.4 -.4M338.7 395.8q4.6 -9.4 7.8 -19.3M329.2 352.7q-1.8 4.6 -2.4 9.5M322.1 282q-4.7 -8.9 -12.1 -15.7M307.7 296.5q-3 1.6 -5.9 3.2M274.1 260.2q6.9 5.5 13.1 11.9" stroke="rgb(225,225,225)"/><path d="M619.8 636.8q9.5 -14.8 19 -29.6M15.5 600.1q8 -1.5 15.3 -5.2M305 627.9q-7.2 -3.1 -10.6 -10.2M329.7 622.5q-12.7 1.1 -24.7 5.4M248.8 592.1q-7.8 -1.8 -15.4 -4.4M251.4 564.9q3.9 7.2 6.1 15M254.6 554q-2.7 5.1 -3.2 10.9M164.8 607.4q5.5 -4 10 -9.2M174.8 598.2q11.2 6 21.4 13.5M177.6 584.2q-7.5 -3.6 -14.3 -8.3M205 560.5q-19.6 6.6 -40.2 8.9M214 597.1q-10.5 5.4 -17.8 14.6M174.8 598.2q3 -6.7 2.8 -14M188.4 530.5q14.4 9.1 21.1 24.8M224.7 615.4q.9 9.5 -1.5 18.8M224.7 615.4q10.8 2.2 21.8 2.8M214.5 598.8q5.4 8.1 10.2 16.6M-2.8 590.4q3.8 -.1 7.1 -2M4.3 588.4q6 -9.5 9.5 -20.2M-6.3 560.6q10.9 1.6 20.2 7.7M50.4 623.1q-7.3 -7.4 -16.5 -12.3M165 216.3q-6.9 3.6 -14.5 2M-12.3 99.2q5 -2.5 10.3 -4.5M56.1 439.2q-1.4 -4.3 -2.4 -8.7M56.1 439.2q11.8 .2 23.6 .2M80.2 422.6q4.3 5.9 8.6 11.8M53.7 430.5q6.6 -1.7 12.8 -4.8M15.7 441.9q-1.3 -3.8 -3.3 -7.2M163.4 194.1q1.5 -1.5 3.3 -2.3M147.6 178.6q-2.4 .4 -4.9 .6M17.9 372.1q-6 -6 -10.4 -13.2M7.5 359q-10.7 4.2 -21.9 6.1M8.1 314.8q3.5 13.1 6.4 26.3M126 552.1q-14.3 -6.4 -23.7 -18.8M171.8 474.3q9.3 2.3 14.2 10.6M202.5 514.5q2.1 -7 4.4 -13.9M207 500.5q.6 .5 1 1.3M118.7 612.6q5.4 -16.1 18.6 -26.8M60.2 571.6q-4.7 -1 -9.4 -2M60.2 571.6q4.7 13 5.6 26.8M50.8 569.6q.3 15.4 -11.4 25.4M65.8 598.4q-13.8 2.7 -26.4 -3.4M23.7 565q13 -3.3 24.1 4.3M60.2 571.6q7.5 -1.8 15 -3.4M67.9 556.8q2.2 6.6 7.2 11.4M119.6 563.7q-14 1.3 -28 2.2M137.4 253.1q5.3 5.1 10.5 10.3M127.3 193.9q1.1 10.8 2.4 21.5M177.6 241.4q-2.9 -1.9 -5.3 -4.4M219.8 173.8q1 -6.6 -.2 -13.2M221.2 178.3q-7.7 -1.8 -15.2 .7M214.4 204.2q-8.5 -6.7 -19.3 -6.8M209.9 218.2q4.5 -3.4 7.1 -8.4M-2.5 125.5q2.2 12.2 6.4 23.9M175.2 164.3q-12 -12.3 -16.9 -28.8M158.3 135.6q1.2 -2.1 2.4 -4.2M130.8 36.9q-3.3 3 -3.4 7.5M130.8 36.9q-4.9 -5.4 -9 -11.3M94.4 42.4q-4.3 .5 -8.6 .7M625.7 181.4q4 -6.1 6.8 -12.7M571.4 109q-.8 -5.6 -.3 -11.3M559 7.4q-2.7 3.7 -4 8M566.1 40.1q-5.1 2.5 -10.5 .4M612.9 31.1q-10.1 2.7 -20.4 3.8M632.9 57.1q-9 -4.2 -18.1 -8.2M620.1 84.5q-11.6 -11.5 -19.7 -25.7M572.2 32.2q7.1 1 13.9 -1.2M580.7 -17.6q9.5 9.7 19.8 18.5M600.5 1q-3.5 8 -11.3 11.8M40.6 422.6q6.6 3.8 13 8M66.4 425.7q-3 -11.6 -6.9 -23M59.6 402.7q-5.6 -1.7 -11.5 -1.6M87.7 410q-4.8 5.7 -7.5 12.6M16.8 373.9q5.4 -5.5 12.7 -8.2M48.1 401.1q-.9 -3.9 -3.2 -7.2M5.9 395.7q8 2.4 14.1 8.1M44.9 393.9q-7.4 .7 -14.9 .4M40.6 422.6q-1.6 .3 -3.2 .8M74.4 386.8q11 6.9 24 5.8M60.4 331.8q4.2 3.5 6.2 8.6M85.3 378.7q-5 -6.3 -7.6 -13.9M128.9 630.8q-4.3 -12.4 -12.3 -22.8M118.7 612.6q-1.4 -2.2 -2.1 -4.7M67.9 556.8q-1.4 -8.2 .7 -16.2M54 536.3q7 3.3 14.6 4.3M35.1 536.9q-1 -3.6 -2.4 -7.1M5.9 535q12 -4.4 24 -8.6M154.5 291.3q6.6 7.6 14.9 13.3M165.8 99.1q-6 2.1 -9.1 7.6M165.8 99.1q7.4 7.1 16.1 12.4M228.8 143.5q-6.3 -5.4 -13.1 -10.1M228.8 143.5q-3.5 9.1 -9.2 17.1M199.7 146q3.5 -3.9 4.6 -9.1M176.8 137.3q10.3 -5.2 19.9 -11.7M174.8 85.6q-2 -.9 -4.2 -.4M331.4 64.7q.6 14 3.5 27.7M364.1 110.7q4.1 -8.5 12.7 -12.4M10.8 123.7q6.9 .1 13.4 -2.1M109 66.7q-5.4 4.3 -10.9 8.5M141.5 81.8q-1.9 -6.2 -3.7 -12.5M107.2 62.6q1.6 1.8 1.8 4.2M127.4 44.3q3.8 13.6 15.7 21M52 181.6q-7.5 1.4 -13.3 -3.5M57.6 191.3q-2.3 -5.2 -5.6 -9.8M57.6 191.3q8.1 -5.7 15.8 -11.9M36.5 199.1q1.6 -10.5 2.2 -21M25.2 122q12.6 12.4 27.5 22M64 35.4q-3.9 -6.7 -8.6 -12.8M54 -22.7q-.1 11.2 2.3 22.1M124.6 20.7q-.5 -11.6 1.6 -23.1M-5.5 -10.7q3.9 15.3 7.4 30.8M-4.3 58.3q2.3 -6.1 3.9 -12.3M15.7 17.2q-6.9 1.5 -13.8 2.8M126.7 285.4q1.2 4.4 .4 8.9M86.9 317.5q5.7 4.9 12.2 8.7M159.8 327.4q-6.1 5.9 -10.9 13.1M176.8 329.8q2.3 -10.2 -.2 -20.4M176.6 309.3q-4.1 -2 -7.4 -5.1M169.4 304.6q-9.8 5.4 -18.7 12.3M99.1 326.2q11.3 -4.4 20.9 -11.8M35.5 61.1q16.6 8.2 35.1 9.9M35.5 61.1q-1.4 -3.8 -2.9 -7.5M57.1 41.5q4.9 11.4 14.9 18.8M84.2 43.4q-4.6 9.6 -12.2 17M28.5 69.9q1.9 4.9 4.4 9.5M25.2 122q1.6 -3 3.3 -5.8M620 18.4q6.8 4.5 14 8.2M600.5 1q7.3 6.9 17.4 7.7M571.4 109q.1 5.1 1.6 10M571.1 97.7q-10 -1.6 -20.1 -.6M551 97.1q-5.5 -7.3 -8.1 -16.2M452 94.7q-3.3 13.3 -6.9 26.6M469 118.6q-4.9 3.2 -7.4 8.5M526.6 18.8q1.3 .3 2.7 .1M-14 260.2q8.8 9 17.2 18.5M3.2 278.7q5.7 -1.1 11.6 -1.5M-5.3 251.9q11.4 7.4 21.6 16.4M157.8 487q-3.4 -.8 -6.6 -2M138 508.1q8.8 5.2 18.1 9.3M128.1 468.1q10.1 .5 19.5 -3.2M123.4 518q7.6 -4.5 14.6 -9.9M123.6 472.6q-.5 -1.3 -.9 -2.6M114.9 447.8q7 .3 13.8 -1.7M121.1 343.1q-7.3 10.9 -16.9 19.8M88.8 434.4q5 1.4 9.9 3M109.1 423.9q.1 -5.9 -1.9 -11.4M32 504.2q-5.1 -8.2 -8.6 -17.2M5.9 535q1 -12.7 2.3 -25.3M-6.7 511.5q5.3 -2 10.6 -4M27.7 460.8q1.9 1.9 3 4.2M249.7 164.1q1.2 -.5 2.5 -.6M280.8 97.9q7.6 1.2 15.2 3M274.9 136.5q6.2 -2 11.9 -5.3M269.6 89.2q4.9 5.3 11.2 8.8M269.6 89.2q12.1 -6 21.1 -16.1M320.7 102.5q-7.1 2.3 -12.8 7.1M224 12.3q1.5 6 3.6 11.8M207.5 41.1q-2.4 -2 -3.8 -4.8M227.8 57.2q2.5 12.2 2.8 24.6M223.4 44.8q-.8 -1.1 -1.5 -2.2M184.5 59.5q.5 -2.6 1 -5.3M170.7 85.2q-8.3 -11.2 -11.8 -24.6M184.5 59.5q-12.7 2.6 -25.6 1.1M173.3 15q2 1.3 3.8 2.7M189.7 -12.6q4.4 13.9 -3.2 26.2M364.3 34.6q-4.7 -8.6 -7.8 -17.8M389.5 33.4q1.5 -8.6 3.6 -17.2M332.2 60.6q-.6 -1.1 -.9 -2.3M393.3 70.8q-14.5 .7 -24.9 -9.5M48.1 94.1q4.5 .4 8.9 .3M624.2 278.2q-7.9 -6 -14.5 -13.3M609.6 264.9q-.2 -2.6 .4 -5.1M610 259.8q.7 -1.5 1 -3.2M181.9 255q8.8 -1.2 17.7 -1.3M206.2 243.2q1.7 2.2 3.1 4.6M328.5 131.8q-7.3 2.6 -15.1 3.1M249.7 164.1q2.6 13.1 6.6 26M223.5 178.5q12.5 8.5 23.4 18.8M256.3 190q-5.8 2.3 -9.4 7.3M246.9 197.4q-.9 1.9 -1.7 3.9M376.8 98.3q10.4 -3.3 20.9 -.9M197 460.6q7 -3.2 12.8 -8M496.8 86.8q9.1 6.2 13.6 16.3M528.2 118.5q8.9 0 15.8 -5.5M521.1 94.8q14.8 2.8 28.9 8M494.2 -15.8q-3.1 16.5 -15.8 27.5M417.5 -6.2q1.6 3.1 3.2 6.2M420.7 0q-5.7 6.2 -9.1 13.9M53.3 207.7q0 -1.1 -.4 -2.2M32.4 247.1q.8 -4.8 3 -9.1M62.2 256.1q4.6 -8.7 9.3 -17.4M126.7 285.4q-11.1 0 -21.9 -2.4M114.2 311.2q-10.1 -8 -19.2 -17.2M117.8 254.8q-6.5 1.6 -13.2 1.3M98.6 294.9q-9.3 -1.3 -18.7 -1.8M109.1 423.9q7.4 2.2 14.7 4.9M61.2 487q-2.3 -8.4 -7 -15.8M36.7 448.5q5.4 2.3 10.8 4.5M73.2 514.7q2.5 -6.1 2.4 -12.8M75.6 502q-3.7 -6.4 -8.6 -11.8M67 490.2q5.9 -8 11.6 -16.1M227.8 57.2q8.6 -3.1 17.7 -4.2M287.4 51.5q-.2 -.8 -.6 -1.4M149.7 37.7q2.1 9.3 4.5 18.5M158.8 60.6q.4 -.1 .8 -.3M342.9 5.5q-10.4 .5 -20.3 -2.7M57.1 94.3q4.9 19.6 11.6 38.6M85.9 155.5q6.8 -1 13.7 -.1M135.9 149.1q-2.8 2 -6 .8M110.9 169.4q6.6 -7.6 12.2 -16M117.8 173.2q-3.1 -2.5 -6.9 -3.8M424.3 106q-11.6 3.6 -22.5 -1.8M646.5 308q-9.7 -10 -21.2 -17.9M653.5 556.1q-18.6 -4.7 -37.6 -6.8M631.1 603q-8 2.6 -16.2 4.7M308.5 577.5q-10.1 4.1 -20.6 7.1M257.5 579.8q10.2 -2.7 20 -6.5M180 336q-.4 -2.8 -2.1 -5M228.5 539.4q-.7 -4.2 .4 -8.3M222.8 475.7q3 -8.6 1.5 -17.7M546.2 137.7q-1.5 3.2 -2.8 6.4M504.8 -10.4q.9 14.4 1.8 28.8M478.2 18.8q8.4 .3 16.2 3.3M445.9 67.2q2.7 13.3 10.8 24.2M398.7 94.9q9.1 -8.4 21 -11.6M73.4 179.5q5.9 8.5 10.5 17.8M127.3 193.9q-11.8 4 -23.7 7.6M98.1 195.4q1.9 3.9 5.5 6.1M104.5 256.1q-4.9 -4.3 -8.1 -10M100.9 276.8q-6.9 -2.1 -14.1 -2.9M62.2 256.1q.7 .9 1.6 1.8M101.9 388.6q10.2 3.8 20.9 5.1M245.9 29.3q.7 -.7 1.5 -1.4M269.7 25.5q-3.1 -.4 -6.1 .2M224 12.3q9.4 -4.5 19.9 -4.7M331.3 58.3q-10.9 -12.3 -23.1 -23.1M573.9 163.5q-1.2 6.6 -3.1 13.1M568.8 154.2q4.6 3.6 5.1 9.3M254.9 219.7q-3.3 2.6 -6.2 5.8M609.6 264.9q-7.2 5.2 -13.3 11.5M626.2 285.2q-12.5 -4.5 -24.8 .5M584.2 276q6.1 -.5 12.1 .5M645.5 499.8q-10.4 .6 -20.8 .1M611.3 562.2q-15.5 2.1 -26.8 12.7M624.7 499.9q-.9 4.6 -1.7 9.2M306.7 576.3q8.8 4.2 17.8 7.9M413.9 598.5q-4.9 1.5 -8.6 4.9M379.6 616.9q-.4 -7.4 -5.3 -12.9M210.3 446.9q4.8 -9.8 8 -20.3M175.5 421.2q-4.3 -6.6 -6.1 -14.3M181.7 384.7q9.1 8.9 16.5 19.3M191.3 330.2q10.6 1.8 20.2 6.7M207 500.5q7.7 .1 15.4 -.2M543.4 144.1q-4.4 4.6 -9.9 7.8M555.9 156.6q-4.2 9.3 -11.1 16.9M521.9 20.2q-.9 16 -7.6 30.6M494.4 22.1q2.3 12.4 7.4 23.9M471.6 28.4q10.4 11.6 16.1 26.1M455.2 35.4q-1.1 2.9 -2 5.8M436.5 55.4q-7.5 -7.5 -14.4 -15.6M461.6 63.4q-5.8 -10.4 -8.3 -22.1M448.7 10.5q2.9 11.6 5.4 23.3M435.3 60.1q.8 -2.3 1.2 -4.7M410.9 46.6q6.3 -2.2 11.2 -6.8M411.6 13.9q2 12.6 11.1 21.5M88.8 222.4q1.7 10.1 6.1 19.4M94.7 240.7q.1 .6 .2 1.1M78.8 216.4q5.4 2.4 10 6.1M165.6 406.4q-7 -8.9 -15.3 -16.7M149 430.7q-1.8 -7.7 -2.5 -15.5M131.2 413.2q3.3 -1.8 6.8 -.2M629.8 421.9q8.6 -10.2 21 -15.4M601 513.4q5.3 7.9 10 16.1M433.2 625.1q-.1 4.6 -2.4 8.5M471.8 619.1q-.3 -.6 -.6 -1.2M472.1 615.8q-.7 .9 -.9 2.1M413.9 598.5q10.2 5.1 18.2 13.3M449.7 577.9q5.2 -7.7 7.4 -16.7M530.8 626.8q-5 3.5 -10.3 6.6M254.4 550.3q7.8 -6.4 14 -14.4M244.3 525.3q5.5 -2.5 11.2 -4.3M239.8 434.4q5.3 .3 10.5 1.2M270.2 473.5q-.6 -11.1 -6.6 -20.4M270.5 421.5q4.2 13.3 5.8 27.2M388.2 171.8q4.7 -7.8 12.6 -12.2M359.7 137.7q5.9 6.7 11.2 13.8M473.2 119.2q7.7 7.4 11.3 17.5M517.4 167q-5.9 -15.1 -19.3 -24.1M568.9 200.6q-1.3 10.2 -2.2 20.5M558.7 197.4q-6.4 5.7 -11.3 12.7M566.7 221.1q-9 -.2 -17 3.7M584.1 232.4q-7.8 -7 -17.4 -11.3M542.8 180.7q-5.3 11.3 -6 23.9M350.1 142.5q-5.3 11.5 -12.8 21.8M337.6 141.5q-5 3.9 -8.8 9M313.4 134.9q-2.6 .5 -5.2 1M328.8 150.5q-1.8 3.8 -2.8 7.8M258.4 188.6q9.6 1.2 17.1 7.3M636.4 377.4q-10.3 -2.5 -20.3 -5.9M589.9 376.5q2.7 -2.1 2.7 -5.6M579.5 365.8q-5.8 1.9 -11.7 3.5M564.2 421.6q-2.4 1.6 -4.4 3.6M582.8 575.1q-1.3 -.9 -2.4 -2M259.9 498.9q.2 .6 .6 1M270.2 473.5q1.5 3.9 2.2 7.9M388.1 480.3q7.2 8.1 4.3 18.6M427.1 462.5q-9.5 7 -20.4 11.7M430.3 454.2q-9.8 -7.6 -21.1 -12.4M153 364.6q9.8 -3.1 20.1 -3.5M198.2 404q8.1 -7.9 15.2 -16.7M472.6 228.7q-.5 -2.3 -1.6 -4.3M441.3 176q-7.9 -3.1 -15.8 -6.2M447.9 155.3q.3 -1.1 .8 -2.2M465.3 190.4q4 -6.4 5.3 -13.8M573.7 297.2q-3.1 -9.2 -10.4 -15.7M545.2 300.3q1.6 -2.4 2.5 -5.1M575.6 264.7q-6.6 2.5 -13.1 5.3M472.6 228.7q2.3 1.4 5 1.7M485.6 233.8q3 -6.3 9.7 -8.1M504 194.9q4.5 1.1 8.7 3M303.6 193.2q5.4 6.8 6.9 15.3M289.6 162.1q7.7 -4.6 16.2 -7.1M305.8 155q2.9 6.2 7.6 11.3M308 138q-2.4 8.3 -2.3 17M544.4 378.4q5.6 7.5 9.7 16M533.5 405.5q-6.7 -7.6 -11.4 -16.6M433.8 375.7q2.1 1.1 4.5 1.3M615.7 304.7q1 6.5 -1 12.7M579.6 298.2q4.3 3.3 8.1 7.1M625.3 290.1q-4.3 7.7 -9.6 14.6M570.8 321.1q7.5 -2.8 15.1 -5.6M557.4 311.1q1.9 2.6 4.1 4.9M589.4 311.4q-2 1.8 -3.5 4.2M612.7 335.2q-10.8 .2 -21.6 -.5M614.6 465.5q2.3 -10.2 -1.3 -20M623.1 470q-4.1 -2.5 -8.4 -4.4M629.2 439.8q-3.8 0 -7.6 -.6M613.3 445.5q4.4 -2.8 8.3 -6.3M597.9 468.2q2 5.5 -1.4 10.3M514.2 515.4q4.7 2.3 9.1 5.3M514.2 515.4q5.3 -13.3 11.8 -26.1M526 489.4q13.4 4.8 24.2 14.2M542.1 516.4q4.9 -5.9 8.1 -12.9M544.2 470.6q8.1 4.2 16.2 8.2M560.4 478.8q-2.1 13 -3.4 26.1M381.8 533.5q8.4 .3 16.5 -1.6M528.9 537q-2.2 6 -7.5 9.6M521.4 546.6q0 7.7 2.6 14.8M481.7 623.4q1 2.8 2.6 5.3M471.2 617.9q4.9 3.3 10.5 5.4M329.4 543.7q1.9 -1.6 4.1 -2.8M333.5 540.9q1.1 -11.3 -6.6 -19.7M307.8 535.2q11.4 -4.5 19.1 -14M364.4 514.3q2.7 -.5 5.5 -1M342.7 489.9q-1.7 .3 -3.2 1.3M313.2 472.9q12.6 10 26.4 18.4M309.6 501.1q-6.1 -8.5 -7.6 -18.8M309.6 501.1q13.4 -3.2 27 -5.9M336.6 495.2q3 -.6 5.5 -2.2M342.7 489.9q.6 -9 .7 -18.1M274.8 233.4q5.8 5.7 12 10.9M198.8 277q-1.7 7.1 -5.4 13.4M193.4 290.3q.2 5.5 3.5 9.8M221.6 306.9q-2.8 -4.5 -5.2 -9.1M224 263.1q6.7 2.5 12.2 7.1M175.3 287.4q9.5 -1.3 18.1 2.9M444.3 226.8q-8.5 2.5 -14.3 9.1M461.3 268.4q-4.2 7.7 -1.8 16.2M466.7 294.6q-2.1 -6 -7.2 -10M371.2 213.8q-9.9 -3 -15.7 -11.6M342.8 213.9q-.9 -2.4 -3 -3.8M366.6 218.4q-8.4 -.4 -14.9 5M310.5 208.5q6.9 -12 20.3 -15.7M495.3 225.7q9.1 -3.3 18.6 -1.3M544.5 256.7q-7 -10.1 -17.3 -17M400.3 335.4q3.5 7.3 6.5 14.7M424 384.1q-6.2 -3 -12.8 -4.7M515.9 388.6q3.1 .9 6.2 .2M527.5 358.9q-7.2 -.2 -13.9 -3M527.5 358.9q4.4 11.2 5 23.2M507.2 360.2q1.2 9.7 -3.8 18.2M513.6 355.8q-2.7 -6.2 -2.7 -13M500 357.2q-7.1 -6.5 -14.3 -12.8M458.4 320.7q13 5.6 26.9 8.4M511.7 313.6q10.2 3.8 20.4 7.7M486.8 322.6q-2.1 2.9 -1.5 6.4M545.2 300.3q-3.6 2.3 -4.5 6.4M517.9 335q9.3 3.3 17.5 8.7M618.1 420q-8 5.6 -16.3 10.8M594.1 415.2q-1.5 -5.4 -.3 -10.9M570.9 422.5q11.3 -4.5 23.2 -7.3M576.5 483.4q1.8 6.7 5.7 12.4M582.1 495.8q7.6 1.7 15.2 -.5M428 520.6q-.7 3.6 -2.6 6.9M398.3 531.9q1.6 -3.8 2 -7.9M456 586.6q9.1 -3.2 18.5 -1.6M466.8 559q-4.9 .7 -9.7 2.2M537.7 572.7q-6.1 7.2 -13.7 12.8M530.8 626.8q-5 -11.6 -6.4 -24.2M351.1 546.4q-3.5 -5.3 -9.3 -8.2M341.8 538.3q1.2 -8.5 6.5 -15.2M331.7 514.8q4.7 -9.2 4.9 -19.6M306.3 511.1q-9.1 -5.3 -19.3 -7.9M304.8 511.2q-.8 11 -4.3 21.5M285.6 487q.7 8 1.5 16.1M383 406.2q6.1 -6.8 14.2 -11.2M404.8 393.4q11.1 8.2 12.9 22M410.7 421.5q3.1 -2.4 6.7 -4M377.7 377.4q8.3 10.4 19.4 17.6M424.6 401.5q-3.9 6.7 -6.8 14M394.5 431.3q1 -5.2 1.6 -10.5M243.2 307.6q-9.5 4.7 -19.1 9.4M243.2 307.6q1.3 -.7 2 -2.1M313.4 244.6q2 .7 4.1 1.4M440.1 498.2q8.8 -2.5 17.5 -5.4M434 482.5q11.4 -1 22.3 -4.1M456.3 478.4q0 7.3 1.4 14.4M451.2 451.5q3.5 10.6 9.4 20.1M460.6 471.6q-2.7 3.1 -4.3 6.8M457.6 492.8q1.6 3.5 2.7 7.2M229.4 366.1q3.5 -1.7 7.3 -1.4M249.9 398.2q.6 -.3 1.1 -.7M414.1 261.1q7.7 12.3 7.9 26.7M412.3 299q-2.3 .8 -4.6 .2M429 202.8q-7 -13.5 -10.6 -28.2M406.9 155.9q4.8 11 9 22.3M416.9 217q-15 -4.4 -30.5 -3.7M416.9 217q-2.1 5.9 -3.9 11.9M384.7 208.4q-.4 2.9 1.7 4.9M485.6 233.8q7.9 8.2 14.8 17.1M483.3 270.3q6.7 -11.3 17.1 -19.3M544.5 256.7q-17.2 4.5 -35 4.9M520 237.1q-9.1 7.4 -16.1 16.8M540.2 417.1q-3.8 7.5 -10.1 13.1M469.2 375.8q.6 .3 1 .8M477.4 373.9q6.4 3.9 13.6 6.1M549.4 366.4q2.1 .6 4.3 .8M606.8 543.3q-2.1 .1 -3.8 1.3M499.4 546.4q-6.6 4.9 -14.7 6.8M524.5 602.7q-7.5 -.9 -14.9 .2M259.2 371.9q14 4.9 28.8 6.4M288 378.3q-4.2 11 -7.3 22.3M301.5 430.9q6.4 -8.7 12.7 -17.5M239.2 332.3q3.9 5.1 8.9 9.1M270.9 321.4q1.7 9.1 5.4 17.5M285.2 341.2q-4.3 -1.8 -8.9 -2.4M285.2 341.2q4.8 16.8 5 34.4M472.4 551.9q1.9 -.6 3.8 -.2M479.2 518.7q11.9 3 24.2 3.3M499.4 546.4q7.5 -11.3 4 -24.4M300.2 335.8q-1 -13.9 -5.1 -27.3M274.6 313.8q10.4 -2.2 20.5 -5.3M397.8 275.6q1.6 13.2 10 23.6M375.4 263.4q3.3 -4.3 7.9 -7.5M408.8 233.2q.8 5 .9 10.1M366.7 252.7q4.3 5.3 8.7 10.6M509.5 261.6q1.2 .8 2.3 1.8M483.1 293.3q5.8 10.2 11.3 20.5M486.8 322.6q4.6 -3.7 7.7 -8.8M507 401.3q1.7 8 6 14.9M472.6 400.1q-6.7 4.4 -9.6 12M466.5 383.4q-8.5 6.7 -15.6 14.8M486.1 402.5q-6.7 -1.4 -13.4 -2.3M436.3 428.3q9.4 -9.1 20 -16.7M379.3 453q-3.1 -1.6 -6.6 -1.4M354.1 455.2q9.3 -1.9 18.5 -3.6M372.7 451.6q-2.2 -5.2 -2.4 -10.8M356.6 413.1q3.9 9.3 4.7 19.4M327.7 429.6q6.5 7.5 14.5 13.2M367.8 408.6q-5.7 2.1 -11.1 4.5M370.3 440.8q-5.3 -3.2 -8.9 -8.3M268.3 290.4q-3.2 -5.2 -8.5 -8.4M260 239.9q-2.7 6.3 -6.9 11.8M270.5 262.1q1.5 -1.5 3.6 -1.9M351.1 371.4q3.5 -9.3 1.1 -18.9M390.2 337q-5.2 -5.2 -12.2 -7.4M350.1 325q2.4 -7.9 9.4 -12.5M376.3 318.1q-8.8 -1.7 -16.9 -5.7M333.1 281.9q3.2 -3.2 7.1 -5.4M343.3 266.4q-.8 5.3 -3.1 10.1M311.6 385.8q-2.2 -4.4 -3.4 -9.2M311.6 385.8q13.2 6 27.1 10M310.1 373.4q-.7 1.7 -1.9 3.1M351.1 371.4q-2.4 2.4 -4.6 5M306.8 331.9q-3.8 1.1 -6.6 4M301.8 299.7q-8.3 -8.1 -16.4 -16.4M320.6 317.9q-8.5 -9.5 -12.9 -21.4M308.4 262.3q.6 2.1 1.6 4M295.1 308.5q2.6 -5 6.8 -8.8M268.3 290.4q8.4 -4 17.1 -7.1" stroke="rgb(250,250,250)"/><path d="M142.7 179.1h0M134.2 196.1h0M217.2 389.1h0M66.6 340.4h0M236.7 364.6h0M272.4 481.4h0M551.1 448.1h0M65.4 375.9h0M629.7 254.8h0M563.3 281.5h0M612.7 335.2h0M-2.1 94.7h0M494.5 313.8h0M326.1 158.3h0M332.2 60.6h0M574.8 518.2h0M276.3 558.8h0M601.8 160.6h0M224 12.3h0M528.2 118.5h0M277.4 209.5h0M310.1 373.4h0M374.3 604h0M209.9 218.2h0M514.3 50.7h0M230 114h0M197 460.6h0M460.6 471.6h0M593.8 404.3h0M466.7 294.6h0M23.8 614.8h0M486.1 402.5h0M419.2 69.8h0M245.5 53h0M266 419.5h0M327.2 559.7h0M454.2 603h0M138 508.1h0M540.6 306.7h0M227.6 24.1h0M436.5 55.4h0M370.9 484.2h0M453.7 527h0M287.9 584.6h0M476.2 432h0M530.5 600.9h0M374.7 279.7h0M270.9 321.4h0M310.5 571.8h0M333.5 189.7h0M447.9 155.3h0M375.4 263.4h0M598.9 512h0M364.3 34.6h0M103.7 201.5h0M625.2 84.4h0M147.7 628.4h0M304.8 511.2h0M270.5 262.1h0M416.8 152.9h0M422.7 35.3h0M525.9 209.7h0M95.5 405h0M260.5 499.9h0M266.8 305.3h0M34.3 315.5h0M129 331.2h0M306.8 331.9h0M398 506.9h0M209.3 247.8h0M186.5 162.2h0M219.6 160.6h0M-.8 204.1h0M107.2 205.2h0M501.9 46h0M77.7 364.8h0M556.7 183.4h0M602.4 294.8h0M584.1 232.4h0M506.9 576.8h0M622.5 209.1h0M503.9 253.9h0M590.5 90h0M114.2 311.2h0M629.2 439.8h0M428.7 313.8h0M295.5 2.9h0M104.5 256.1h0M340.2 276.5h0M440 513.3h0M249.7 164.1h0M588.6 548.8h0M378.5 561.7h0M31.9 351.5h0M64.2 134.5h0M586.1 31h0M87 104h0M123.8 428.8h0M166.7 191.8h0M15.7 17.2h0M212.2 23h0M456.3 411.6h0M165 216.3h0M202.7 56.3h0M174.2 458.1h0M555.9 156.6h0M143.2 65.4h0M159.6 60.3h0M263.6 453.1h0M252.3 163.5h0M243.2 307.6h0M229 573h0M553.7 367.2h0M209.8 452.6h0M109.3 492.8h0M285.6 487h0M555.9 68.1h0M621.5 439.2h0M625.2 205.1h0M469 118.6h0M175.3 287.4h0M339.5 491.3h0M488.9 457.5h0M584.8 363.6h0M554.2 15.5h0M79.2 262.2h0M381.8 533.5h0M23.4 205.1h0M456 586.6h0M40.6 422.6h0M611.1 256.6h0M500 357.2h0M170.8 278.3h0M342.7 489.9h0M259.8 282h0M219.8 173.8h0M387 147.9h0M430 235.8h0M193 376h0M177.1 17.7h0M310.6 452.8h0M12.4 434.7h0M330.8 192.8h0M124.6 20.7h0M27.7 460.8h0M2.5 456.3h0M497.4 140.8h0M-2.6 165.8h0M515.9 388.6h0M87.7 410h0M358.1 188.4h0M23.7 565h0M299.7 81h0M267.8 59.8h0M254.3 601.8h0M82.8 6.4h0M359.5 344.8h0M503.4 378.4h0M247.1 491.8h0M21.4 95.2h0M620.9 516.7h0M586.6 400.9h0M412.3 299h0M493.7 74.6h0M215.4 240.5h0M592.4 59.7h0M366.9 242.6h0M76.7 460.8h0M5.9 535h0M329.4 543.7h0M158.8 249.4h0M544.2 470.6h0M251.1 397.5h0M517.4 167h0M618.1 420h0M287.4 51.5h0M3.2 278.7h0M329.2 352.7h0M43.3 376.6h0M527.5 358.9h0M274.9 136.5h0M294.4 617.7h0M242.3 466.3h0M539.3 185.1h0M507.8 449h0M137.9 69.3h0M510.9 342.8h0M268.3 290.4h0M244.3 525.3h0M59.6 402.7h0M199 76.6h0M568.8 154.2h0M216.3 297.7h0M398.7 94.9h0M410.9 46.6h0M579.3 630.5h0M376.2 430.1h0M602 115.8h0M390.5 75h0M74.4 386.8h0M432.1 611.7h0M258.4 188.6h0M563.1 341.6h0M41.9 502.5h0M400.9 42.3h0M98.6 97.9h0M584.6 517.5h0M327.5 226.8h0M308.5 577.5h0M494.4 22.1h0M448.6 153.1h0M207.7 63.6h0M524.9 128.7h0M208.1 480.3h0M302.1 223.1h0M287.1 450.6h0M80.2 422.6h0M600.5 1h0M204.2 136.9h0M615 552.4h0M337.6 141.5h0M478.2 347.7h0M601.4 285.7h0M361.1 604.6h0M511.7 263.3h0M534.8 350.3h0M570.5 531.5h0M621.2 128.3h0M397.1 395h0M377.7 377.4h0M301.8 299.7h0M211.6 419.4h0M607.6 91.2h0M591.1 334.7h0M333.8 346.5h0M376.3 318.1h0M67.1 358.2h0M275.5 195.8h0M52 181.6h0M60.4 331.8h0M536.8 204.6h0M94.9 241.8h0M72.6 389.6h0M66.4 425.7h0M492.1 194.1h0M247.3 113.6h0M159.5 555h0M411.2 379.4h0M477.6 602.7h0M94.4 524.3h0M479.6 61.2h0M222.3 25.5h0M611.3 562.2h0M228.5 539.4h0M222.4 99.2h0M477.6 230.4h0M388.1 480.3h0M78.6 279.5h0M343.3 266.4h0M104.2 340.6h0M560.3 342.2h0M52.8 205.5h0M445.9 67.2h0M4.3 588.4h0M360.6 68.4h0M283.2 250.9h0M482.3 109.4h0M472.6 400.1h0M203.7 580.8h0M214.5 598.8h0M481.7 623.4h0M253.1 33.9h0M303.6 193.2h0M174.6 261h0M35.2 479.8h0M195.3 272.7h0M400.3 523.9h0M576.5 483.4h0M302.8 233.1h0M68.9 317.5h0M537.2 628.9h0M308.4 262.3h0M111.8 609.8h0M595.1 158.5h0M544.4 378.4h0M147.7 464.8h0M623 509.1h0M207 500.5h0M515 165.7h0M470.6 176.6h0M577 610.5h0M56.1 439.2h0M295.6 431.4h0M102.3 533.3h0M400.9 159.6h0M414.9 67.8h0M546.6 226.7h0M416.3 506.7h0M59.9 517.1h0M62.5 601.6h0M174.8 598.2h0M509.6 602.8h0M79.9 293.1h0M23.3 487h0M401.8 104.2h0M221.9 42.6h0M122.7 470.1h0M417.4 417.5h0M29.1 168.7h0M372.6 381h0M128.4 374.3h0M73.7 170.1h0M371.1 235h0M397.8 97.4h0M98.1 195.4h0M286.7 50.1h0M124.4 344.9h0M104.8 283h0M341.8 538.3h0M407.8 299.2h0M79 455.9h0M57.5 201.2h0M398.6 300.9h0M367.8 408.6h0M561.3 556.5h0M201.6 413.3h0M488.5 153.9h0M527 433.4h0M550.2 503.5h0M521.1 103.6h0M191.3 330.2h0M73.9 539.9h0M600.2 128.6h0M425.5 169.8h0M471.1 224.4h0M430.3 454.2h0M559.9 7.5h0M562.5 269.9h0M324.5 584.2h0M105.5 171.2h0M562.9 344.2h0M90.6 497.4h0M223.7 92.2h0M32.4 597.3h0M99.3 435.9h0M439.2 124.1h0M311.7 571.8h0M596.5 478.5h0M37.5 423.3h0M402.8 122.8h0M441.3 176h0M317.4 246.1h0M314.6 77h0M1.9 20h0M353 568.2h0M254.4 550.3h0M70.4 599h0M98.1 473.6h0M31.1 263.2h0M98.4 392.6h0M180 389.1h0M209.4 555.4h0M307.9 109.5h0M418.4 174.6h0M276.2 448.7h0M181.9 111.6h0M54.9 143.2h0M54.4 332h0M391 450.5h0M126.4 431.6h0M155.9 366.9h0M527.2 3.4h0M562.3 602.4h0M448.1 515.3h0M111.6 487.3h0M610 259.8h0M600.4 58.8h0M71.5 238.8h0M280.7 508h0M177.2 423.7h0M139.9 92.8h0M286.8 244.2h0M526 489.4h0M331.3 58.3h0M615.1 145.1h0M158.6 372.6h0M117.8 254.8h0M308.2 376.6h0M336.4 596.8h0M433.7 6.9h0M310.1 266.2h0M455.2 535.3h0M132.5 363.6h0M285.2 416.9h0M259 157.6h0M16.3 268.3h0M274.6 313.8h0M384.7 208.4h0M270.2 473.5h0M287.2 272h0M342.3 442.8h0M553.5 134.2h0M502 191.8h0M22.7 415.3h0M427.6 541.5h0M511.2 66.2h0M348.3 523.1h0M529.1 153.7h0M75.4 364.9h0M620.1 84.5h0M157.1 240.5h0M254.6 554h0M336.3 113.4h0M161.6 495.2h0M457.7 91.9h0M38.7 178.1h0M175.8 458.9h0M427.3 164.4h0M349.4 624.6h0M444.6 289h0M159.8 327.4h0M99.7 236.8h0M559 7.4h0M176.8 329.8h0M468.9 87.6h0M63.8 257.9h0M322.1 282h0M147.6 178.6h0M415.2 579.8h0M13.9 216.8h0M387.6 248h0M224.3 458h0M13.4 609.4h0M553.2 445.1h0M117.4 506.5h0M578.7 248.1h0M484.3 628.7h0M207.5 41.1h0M328.5 131.8h0M170.7 85.2h0M285.2 341.2h0M301.5 430.9h0M173 217.2h0M613.3 445.5h0M448.4 258.5h0M361.3 432.5h0M306.7 576.3h0M17.9 372.1h0M461.6 63.4h0M175.2 164.3h0M342.8 213.9h0M205.9 75.3h0M182.4 113h0M515.8 475.1h0M100.9 276.8h0M492.2 489.3h0M606.8 395.3h0M158.2 433.7h0M561.5 555.9h0" stroke="#e8e8e8" stroke-width="2.7"/><path d="M357 477.3h0M56 235.8h0M336 619.7h0M502.8 598.7h0M411.6 345.3h0M443.9 424.7h0M97.7 350.3h0M274.1 95.8h0M334.9 598.5h0M134.3 361h0M441.3 303h0M441.8 415.3h0M424.4 177.2h0M507.5 208.6h0M558.8 7h0M447.6 528.3h0M614.4 226.2h0M534.5 460.2h0M470.7 584.5h0M387.5 371.2h0M528.4 472.3h0M35.7 623.8h0M593.2 95.5h0M580.6 278.3h0M183.6 607.6h0M450.4 397.8h0M269.8 562.2h0M410.7 298.9h0M375.1 49.7h0M231.3 484.3h0M31.9 413.4h0M115.2 425.8h0M608.9 263.2h0M549.6 577.4h0M95.9 102.5h0M42.4 551.1h0M136.1 330h0M171.2 600.6h0M22.1 531.1h0M297.4 483.5h0M325 169.3h0M505.2 147.7h0M46.3 179h0M231.1 37.9h0M244.4 5.6h0M600.4 193.5h0M292.9 502h0M536.6 34.9h0M231.1 558.7h0M489 575.3h0M21.9 67.4h0M546.6 508.7h0M214.7 10.8h0M206.5 380h0M125.3 168.9h0M328.2 37.7h0M404.2 543.1h0M498.4 505.7h0M232.6 595.5h0M622.7 209.6h0M272.1 317.6h0M399.9 233h0M550.9 610.2h0M190.8 614.8h0M609 299.3h0M335.8 547h0M344.7 534.3h0M558.7 21.9h0M595.4 154.2h0M62.2 395.4h0M67 229.1h0M440.6 270.5h0M196.2 135.1h0M493.3 268.5h0M338.8 69.3h0M119.6 70.1h0M544.4 477.7h0M521.7 622.7h0M465.3 512.2h0M532.5 491.1h0M591.8 550.9h0M257.5 621.9h0M574.7 312.5h0M464.3 541.7h0M560.9 248.7h0M87.8 423.2h0M377.3 351.1h0M427.2 372.3h0M378.4 412.4h0M545.8 15.3h0M39 171.5h0M207 96.6h0M199.2 242.1h0M398.7 285.7h0M438.4 173.3h0M167.5 79.8h0M208.8 616.4h0M198.4 455.4h0M293.5 485.4h0M172.9 264.3h0M3.4 392.1h0M80.7 291.5h0M69.7 456.7h0M489 558.4h0M505.5 5.9h0M480.8 180.1h0M164.2 121.9h0M213.6 163.2h0M53.3 416.6h0M416.6 480.5h0M241.5 237h0M526.7 584.7h0M74.4 474.7h0M531.5 332h0M470.3 483.6h0M597.2 548.2h0M537.2 440.5h0M217.5 66.8h0M280.9 143.9h0M182.1 183h0M.2 214.5h0M486.8 275.3h0M450.8 440.2h0M461 26.4h0M311.3 504.4h0M438.7 454.8h0M617.2 50.9h0M303.5 253.8h0M123.7 133.9h0M101.3 191.1h0M21.6 441.3h0M590 293.3h0M130.7 245.2h0M212.7 176.6h0M558.4 566.8h0M598.2 156.3h0M514.7 425.3h0M612 133.5h0M141.5 216.2h0M20.9 530.3h0M402.3 161.2h0M325.4 211.4h0M380.2 399.8h0M166.9 345.5h0M275.9 330.7h0M129.3 150.7h0M485.1 488.2h0M198.1 161.4h0M74.5 451.3h0M496.2 302.5h0M230.3 70.9h0M205.3 344.9h0M563.1 606.2h0M341.6 314.2h0M291.6 29.6h0M225.9 294.7h0M124.5 244.1h0M202.9 14h0M620.6 334.4h0M363.5 318.6h0M570.3 384.4h0M245.5 174.7h0M127.3 390.7h0M566.6 521.8h0M47.1 605.3h0M416.4 178.2h0M240.1 406.2h0M444.6 120.3h0M137.8 438.8h0M144.2 234.6h0M249.2 512.7h0M322.8 331.2h0M197.8 372.7h0M429.9 278.4h0M322.4 269.1h0M136.3 607.1h0M466.3 525.8h0M373.1 180.9h0M11.3 600.7h0M610.6 142.8h0M377.8 114.3h0M272.2 309.5h0M342.7 202.3h0M65.8 523.8h0M608.6 432.7h0M310.5 148.7h0M476.5 326.2h0M383.6 55.7h0M300.3 442.8h0M446.8 82.7h0M142.3 330.4h0M461.3 370.3h0M624.5 326.4h0M617.6 140.1h0M438.7 107.6h0M127.1 579.7h0M548.6 33h0M130.3 114.7h0M56.4 586.4h0M385.2 199.8h0M377 609.3h0M476.6 485.5h0M30 398.5h0M230.1 67.7h0M453.7 170h0M181.5 250.7h0M83 584.8h0M16.3 439h0M443.7 435.6h0M420.1 317.7h0M208 552.4h0M321.9 137.7h0M289.4 289.3h0M75.8 377.6h0M587.6 446.4h0M427.1 72.5h0M456.3 534.1h0M411.5 322.3h0M420 138.6h0M84.5 65.3h0M45.5 537.2h0M542.3 276.5h0M216.6 194.3h0M114.3 405.2h0M225.5 45.2h0M194.1 464.6h0M172.5 478.9h0M179.7 336h0M301.9 203.1h0M538.5 551.2h0M357 85.6h0M268.2 3.8h0M344.1 217.1h0M581.7 209.2h0M19.3 489.8h0M567.3 325h0M432.2 584.2h0M375.3 147.9h0M386.4 551.4h0M46.6 348.1h0M439.1 50.4h0M363.1 73.4h0M46.9 529.5h0M523.3 30.1h0M296.3 13.1h0M285 136.8h0M213.7 281.3h0M535 241.4h0M538.2 231.3h0M191.3 389.1h0M6.6 83.1h0M59.3 394.3h0M387.5 124.5h0M238.2 262.5h0M146.5 267.4h0M485.8 145.5h0M363.3 599.1h0M520.9 205.3h0M308.6 76h0M524.2 280.4h0M622.2 578.6h0M166.5 508.1h0M390.1 211.1h0M153.8 .1h0M5.3 415.3h0M276.8 232.9h0M136.4 530.5h0M147.2 346h0M129.1 211.2h0M479.8 547.6h0M132.5 116.4h0M417.8 526h0M77.5 438.9h0M29.6 89.2h0M610 42.1h0M260.7 197.8h0M373.6 338.5h0M396.9 362.2h0M142.1 266.5h0M91.2 74.2h0M51.7 613h0M471.2 110.7h0M305 .5h0M418 183.7h0M546.1 413.5h0M574 559h0M343.8 72.2h0M282.1 77h0M53.6 456.5h0M613.9 619h0M534.8 416.7h0M548.9 513.3h0M514.6 449.2h0M359.1 251.1h0M118.7 395.7h0M291.2 615.3h0M564.7 614.4h0M97.9 499.1h0M41.3 62.9h0M101.1 432.6h0M442.4 278.3h0M177 85.3h0M54.4 242.6h0M101.8 140.7h0M130.5 482h0M28.2 69.4h0M120 308.7h0M130.7 523.5h0M236.6 459.9h0M189.9 81h0M162.1 89h0M460.3 619.6h0M50.2 205.4h0M175.3 72.1h0M153 540.6h0M556.4 293.9h0M324.6 611.5h0M400.4 245.6h0M441.7 269.9h0M345.7 610.7h0M176.8 366.8h0M577.1 424.2h0M610.2 261h0M96.8 141.2h0M416 297.3h0M594.3 191.6h0M328.1 267.8h0M55.8 433.5h0M476.5 441.4h0M389.2 478.8h0M323.4 344.8h0M90.7 8.5h0M421.9 192.9h0M50.4 218.1h0M408.7 562.4h0M473.3 508.3h0M184.5 132.4h0M7.5 602.5h0M615.8 223.6h0M218 425.5h0M538.9 11.5h0M348.3 538h0M281.5 549.8h0M339.5 262h0M383.3 538h0M323.9 254.7h0M121.9 435.2h0M254.3 197.4h0M142.5 140.3h0M218.8 463.1h0M502.1 102.1h0M493.6 424.2h0M193.5 192.2h0M597.7 339.6h0M548.3 303.1h0M30.3 258h0M273.7 290.7h0M543.4 296.9h0M116.3 552h0M100 80.4h0M196.4 54.3h0M270.8 191.3h0M563.5 405.1h0M286.2 542.4h0M309.9 553.6h0M378.6 320.7h0M462.4 317.3h0M74.6 198.6h0M111 187.7h0M602.3 173.5h0M118.4 332.2h0M214.1 609.2h0M492.5 567.6h0M164.5 143h0M239.4 431.9h0M111.7 456.5h0M320 330h0M482.3 170.7h0M476.4 60.7h0M585.2 555.1h0M510.1 165.7h0M332.4 596h0M419.5 614h0M74.1 79.2h0M10.1 394.4h0M521.5 157.6h0M522.9 257.8h0M348 122.7h0M16.6 335.1h0M193.7 619.9h0M506.3 616.2h0M154.7 488.9h0M614.6 132.3h0M217.7 378.6h0M521 32.5h0M263.6 105.3h0M260.6 53.4h0M571 123.5h0M603.4 469.7h0M601.5 129.2h0M140.7 308.9h0M157.9 446h0M40.1 89.8h0M582.8 154.4h0M547.4 515.5h0M478.4 590.3h0M351.5 13.8h0M190.2 246.4h0M188.8 308.3h0M540.7 306.4h0M558.6 14.8h0M15.3 283.2h0M322.6 147.8h0M198.4 574.2h0M565 95.6h0M605.1 359.6h0M357.2 56.2h0M71.7 57.5h0M187.8 266.4h0M282.8 624.3h0M529.2 51.4h0M270.7 479.5h0M419.8 135.7h0M304.4 178.7h0M329.8 575.7h0M187.2 53.9h0M177.8 276.7h0M571.9 445.6h0M53.9 609.1h0M424.9 343.3h0M342.6 111.5h0M379.8 59.3h0M601 59.1h0M293.1 138.5h0M485.8 505.1h0M351.1 154.1h0M567.6 530.7h0M14.7 50.2h0M386.6 521.2h0M411.5 161.5h0M281.9 472h0M50.9 156.4h0M238.6 563.9h0M150.1 352.8h0M126 135.3h0M104.6 363.3h0M573.2 597.5h0M210.9 584.3h0M205.5 427.2h0M158.1 144.7h0M65.8 223.1h0M182.3 608.3h0M590.9 223.2h0M260.9 512.9h0M132.8 168h0M106.2 609.7h0M105.3 77h0M39.7 573.2h0M595.4 616.6h0M324.2 571.3h0M95.3 307.1h0M43.3 122.3h0M33.8 158.5h0M103.6 606.9h0M493.3 112.5h0M268.9 175.1h0M70.5 169.3h0M254.3 505.8h0M460.8 269.4h0M20.1 617.6h0M446.8 509.2h0M468.1 327.4h0M457 488.7h0M443.6 527.9h0M496.2 4.5h0M383.8 37.4h0M203.8 548.1h0M421.3 128.6h0M405.7 313.6h0M368.5 200.3h0M104.9 74.8h0M51.2 621.8h0M234.2 239.5h0M405.7 119.2h0M380.9 182h0M225.5 489h0M388.8 108.6h0M24.8 609.8h0M181.3 525.3h0M25.5 421.4h0M399.4 256.5h0M562.6 319.5h0M561.1 173.1h0M101.8 624.7h0M463.7 22.9h0M239.8 616.3h0M79.5 224.2h0M433.2 520.9h0M501.7 456.4h0M570.7 112.4h0M147.8 48.1h0M199.6 126.3h0M480.1 228.4h0M.5 605.1h0M476.6 117.2h0M5.6 503.7h0M45.8 19.2h0M578.3 454.7h0M313.1 46.4h0M303.5 180.3h0M323.4 2.8h0M382.7 411.8h0M376 389.7h0M376.3 520.8h0M535.9 185.3h0M605.8 414.3h0M.8 277h0M380.8 495.7h0M180.5 243.9h0M89.1 141.3h0M508.6 208.9h0M481.3 588.8h0M627.3 601.1h0M19.4 463.8h0M584.1 495h0M438.6 256.7h0M255.4 174.9h0M464.4 15h0M27.2 312.8h0M167.7 238h0M402 171.6h0M305.1 318.6h0M50.2 611.5h0M512.8 66.9h0M229.8 468.4h0M404.8 38.8h0M61.3 334.1h0M9.8 396.2h0M519 559.2h0M483.8 30.4h0M136.5 242.8h0M593.2 488.1h0M324.2 110.9h0M365.9 204.1h0M228.1 605.9h0M204.7 289.5h0M233.1 128h0M18.9 166.7h0M133.1 135.3h0M114.4 425.2h0M250.9 236.4h0M17.5 16.5h0M615.1 558.3h0M549.1 297.2h0M524.5 407.7h0M92.6 359.3h0M357.3 170.8h0M382.7 373.5h0M101.1 72.1h0M402.6 478.9h0M415.2 361.4h0M404.2 325.8h0M244.2 74.2h0M329.4 624.7h0M451 83.5h0M402 120.5h0M388.8 603.8h0M588.4 293.4h0M41.2 205.2h0M232 288.2h0M206.5 543.3h0M393.2 613.5h0M301.1 170.7h0M447.9 333.7h0M499.3 99.8h0M304 611.4h0M65 122.8h0M151.8 375.8h0M463 343.3h0M196.9 586.4h0M62.5 194.2h0M183 165.4h0M93.8 605.9h0M603.1 382.2h0M562.3 181.4h0M549.1 468.4h0M498.2 439.3h0M6.6 461.7h0M246.4 388h0M151.1 562.2h0M587.4 455.6h0M577 396.4h0M257.3 569.3h0M550 114.7h0M355 33.5h0M4.8 77.7h0M536.9 114.7h0M42.4 573.4h0M59.5 306.6h0M264.1 327.8h0M67.5 299.1h0M74.5 235.4h0M446.9 92.7h0M.1 407h0M538.9 97.3h0M44.6 111.4h0M65.3 327.2h0M624.2 350.1h0M70.6 140.5h0M494.7 330.8h0M313.6 491h0M241.9 100.8h0M85.8 320.7h0M623.4 403.6h0M491.4 440.1h0M438.3 32h0M261.4 450.9h0M19.2 3.1h0M368.9 111.4h0M352.9 3.1h0M24.3 10.9h0M373.1 386.6h0M345.3 562.6h0M171.2 184.7h0M518.5 355.6h0M208.4 224h0M189 319.9h0M200.5 237h0M401.5 354.1h0M318.1 15.1h0M350.2 250.2h0M163.4 495.6h0M437.7 576h0M53.1 240.2h0M471.2 109.3h0M126.9 196.5h0M23.1 430.5h0M495.9 97.7h0M70.1 408h0M575.2 608.3h0M356.5 345.2h0M626.2 40.4h0M243.8 435.8h0M547.3 440.9h0M309.4 300.3h0M571.5 470h0M128.7 582.3h0M511.5 392h0M505.4 458.1h0M215.6 442.9h0M240.2 19.6h0M242.4 340.6h0M481.1 332.7h0M74.1 238.1h0M493.1 218.3h0M430.9 198.7h0M117.5 568.7h0M62.9 485h0M406.3 34.8h0M9.3 156.5h0M431.4 486.9h0M230.7 551.8h0M70.2 489.5h0M444 214.7h0M619.4 221.7h0M159.5 403.3h0M342.6 107.1h0M220.3 511.5h0M213.2 482.3h0M367.1 482.1h0M144.4 550.2h0M72 366.4h0M606.2 85.1h0M70.2 126.9h0M19.3 429.3h0M328.8 166h0M446 320.6h0M180.4 131.4h0M191.6 535.7h0M626.7 230.3h0M382.8 473.8h0M162.1 427.2h0M281.4 576h0M98.7 57h0M28.2 269.5h0M270.6 119.3h0M505.8 475.1h0M429.8 413.3h0M437 489.7h0M293.7 147.6h0M89 203.5h0M339.3 609.4h0M537.4 335.6h0M44.6 91.1h0M143.1 81.9h0M241 431.4h0M16.4 136.9h0M571.5 308h0M329.4 364.6h0M416.7 142.7h0M426.2 59.7h0M498.4 492.1h0M202.5 479h0M85.8 542.7h0M303.4 295.7h0M117 498.8h0M305.7 175h0M131.1 365.5h0M31.4 234.4h0M38.3 549.8h0M242.4 44.9h0M321 145.5h0M375.7 508.2h0M358.9 526.6h0M377.1 501.8h0M248.7 434.1h0M204.2 458.3h0M547.2 184.4h0M305 271h0M88.1 214.7h0M223.6 535.5h0M438.9 84h0M93.4 172.9h0M377.7 146.3h0M93.2 411.7h0M224.8 300.3h0M506.3 591.1h0M436.1 445.2h0M384.1 340.5h0M72.8 341.4h0M130.7 123.2h0M193.4 314.9h0M563.4 87.8h0M239.4 120.5h0M501.8 149.7h0M291.3 246.3h0M374.8 61.5h0M406.8 444.4h0M170.7 612.1h0M432.8 107.1h0M205.4 74.5h0M244 15.9h0M440.3 611.9h0M582.1 113.8h0M301 379.7h0M317.4 346.3h0M48 312.8h0M365.6 336.3h0M613.4 359.7h0M334.9 387.4h0M42.5 366.4h0M370 494.5h0M255.5 471.1h0M258.3 76.8h0M223.4 606.4h0M330.1 406.8h0M21.5 539.1h0M356.6 205.8h0M535.8 438.8h0M2 227.5h0M375.3 126.3h0M447.1 71h0M453.1 511.4h0M278.4 82.7h0M355.8 418.7h0M296.8 484h0M619.7 320h0M496.2 615.1h0M597.2 59h0M425.1 360.3h0M139 446.9h0M182.6 23.7h0M486.1 423.5h0M50.6 179.2h0M186.5 245.8h0M20.4 114.3h0M616 461.2h0M512.7 589.4h0M275.2 243.7h0M409.1 90.7h0M291.5 549.7h0M274.1 25.2h0M109.2 459.5h0M619 206.6h0M397.2 625.9h0M462.3 9.7h0M53.7 401.9h0M334.2 365.5h0M26.4 264.2h0M340.1 171h0M293.7 310.8h0M262 118.3h0M588.3 575.2h0M270.8 220h0M450.3 439.1h0M523.8 94.6h0M216.7 524h0M283.4 212.8h0M418.5 442.3h0M129 108.4h0M70.8 59.8h0M97.1 315.7h0M94 52.5h0M590.8 184.1h0M200.4 31.1h0M295.8 380.1h0M466 541.6h0M502.9 24.6h0M81.1 261.8h0M419.8 610.4h0M595.5 585h0M496 346.4h0M68.5 534.6h0M38.6 403.3h0M474.8 333.5h0M342.5 487.1h0M145.6 551.2h0M458.5 412.2h0M599.1 459.2h0M517.7 217.7h0M133.1 28.6h0M536.7 550.8h0M312.3 579.5h0M202.4 605.7h0M281.1 305.6h0M54.3 61.5h0M523.2 133.5h0M35.8 93.9h0M593.9 446.1h0M175.8 260.8h0M238 503.3h0M596.5 108.9h0M71.9 177h0M561.4 169.1h0M227.5 425.2h0M564.8 124.2h0M159.5 430.3h0M583 387h0M226.5 528.9h0M492 120.9h0M270 62.6h0M343.2 324.7h0M376.4 594.9h0M216.8 501h0M93.2 59.4h0M585.9 13.9h0M396.2 619.4h0M260.1 116.6h0M39 122h0M214.5 393.2h0M300.9 5.1h0M155.7 511.5h0M484.5 301.1h0M113.5 2.9h0M131.6 338.1h0M255.7 58h0M385.6 445.7h0M348.1 454.1h0M155.4 375.1h0M546.9 65.7h0M514.9 15.7h0M28.6 329.1h0M346.9 246.8h0M481.5 227.7h0M184.1 161.3h0M32.3 353.3h0M444.9 354.1h0M264.2 462h0M219.9 615h0M251.5 91.4h0M564.3 463.9h0M360.2 85.4h0M533.9 206.5h0M166.7 474.2h0M579 565.7h0M190.9 614.2h0M537.8 143.4h0M606 144.2h0M508.9 304.6h0M179.9 258.1h0M1.9 579.1h0M114.3 158h0M426.8 406.5h0M560.6 389.3h0M503.9 319.8h0M88.9 509.1h0M140.7 476.5h0M264.1 67.5h0M368.7 234.2h0M199.7 270h0M470.2 412.9h0M464.1 295h0M307.4 434.7h0M538 279.6h0M605.1 84.4h0M431.2 447h0M215.6 7.2h0M339.9 236.1h0M498.1 394.4h0M370.4 97.6h0M424.7 118.7h0M418.2 333.8h0M44.3 589.9h0M492.8 311.5h0M259.7 241.6h0M57.7 151.6h0M169.7 613.5h0M239.1 200.5h0M440.1 27.6h0M345.3 408.7h0M460.9 162.7h0M208.6 408.9h0M399.9 422.4h0M374.6 50.3h0M319.8 43.5h0M111.4 555.5h0M243.4 209.3h0M614.7 417.3h0M159.7 222.3h0M411.8 84.9h0M611.4 529.3h0M169.4 62.7h0M625.9 437.9h0M516.9 101.1h0M546.1 119.4h0M431.6 547.5h0M206.3 598.4h0M253.1 181.5h0M489.6 368.9h0M301.1 89.3h0M584.2 472.6h0M9.8 315.3h0M244.9 365.8h0M145.7 256.7h0M367.2 585.5h0M348.7 178.1h0M605.4 67.8h0M9.7 271.8h0M308.2 472.8h0M118.1 297.2h0M496.7 157.9h0M496.9 601.8h0M551.8 372.6h0M531.3 226.9h0M593.9 600.4h0M34.9 178.8h0M200.7 394h0M597.4 618.3h0M103.8 468.4h0M109.4 442.1h0M436.8 129.5h0M314.3 449.6h0M508.3 588h0M270.5 622.3h0M615.9 292.7h0M333.2 283.9h0M75.5 263.3h0M216.6 21.7h0M45.6 306.4h0M568.8 388.6h0M341.9 72.1h0M589.4 63.1h0M587 498.4h0M436.9 179h0M592.3 332.8h0M431.8 179.7h0M320.3 137.3h0M137.2 341.4h0M277.1 181.4h0M10.4 213h0M438.4 62.8h0M270.4 375h0M285.1 18.3h0M488.1 353.7h0M564.2 556.2h0M604.7 26.5h0M388.2 608.1h0M190.2 583h0M183.2 292.7h0M433.8 520.2h0M472.5 27.3h0M403.7 494.1h0M174.6 167.8h0M614 585.9h0M428.9 485.6h0M599.9 2.5h0M579 487.6h0M226.7 35.7h0M373.5 330.6h0M465.5 485.1h0M602.5 152.3h0M83 88.1h0M440.1 584.4h0M393.3 67.1h0M321.8 409.2h0M196 264.2h0M506.6 138.4h0M150.5 21.5h0M32.6 308.4h0M27 177.6h0M502.9 620.5h0M456.2 16.9h0M532.4 534.2h0M205.7 400.8h0M349 130.8h0M176.5 186.4h0M602.2 289.2h0M562.6 623.8h0M93.4 346.8h0M487.8 382.9h0M134.7 468.8h0M453.5 260.1h0M55.1 49h0M97.8 141.4h0M515.6 500.9h0" stroke="#8a8a8a" stroke-width="2.1"/><path d="M142.6 513.7h0M381 438h0M346.6 413.8h0M262.6 277.7h0M574.4 535.5h0M295.6 589.4h0M354.2 517.3h0M13.4 141.7h0M204.9 331.3h0M495.2 57h0M260.1 74.2h0M378.9 11.3h0M333.1 201.2h0M224.5 439.1h0M274.1 121.4h0M192.6 195.8h0M471.5 145.9h0M611.5 370.3h0M552.5 280.1h0M274.3 403.5h0M578.2 525.8h0M198.1 60.1h0M158.4 1.8h0M550.1 621.2h0M550.1 612.9h0M312 392.2h0M606.2 308.3h0M614.8 250.7h0M266.7 42.9h0M205.4 70.9h0M577.3 139.5h0M342.9 257.4h0M426 385.4h0M207.2 24.5h0M82 30.4h0M84.8 141h0M158 502h0M457.5 200.5h0M359.8 24.2h0M451.6 546h0M115.3 402h0M216.8 446.1h0M93 519.6h0M446.8 598.2h0M291 256.7h0M166.9 294.4h0M119.5 471.4h0M592.1 484.6h0M277.6 344.8h0M397.2 221.4h0M308.1 523.6h0M235.3 45.3h0M383.2 113.9h0M301.7 353.8h0M32 520.9h0M178.6 610.3h0M22.6 140.5h0M340.1 362.2h0M8.1 355.9h0M447.4 362.3h0M193.9 196.2h0M46.5 187.3h0M161.5 515.1h0M172 494.1h0M262 308.6h0M317.3 153.8h0M100 296.6h0M187.3 616.5h0M103.3 333h0M403.1 400.6h0M497.3 111.4h0M271.9 157.6h0M11.4 545h0M579.2 603.3h0M275.3 160.3h0M471.5 196.1h0M541.6 587.5h0M57 224.9h0M490.6 385.7h0M222 525.3h0M23.5 614.1h0M395.5 76.4h0M391.3 57.6h0M501 404.7h0M485.4 409h0M621.1 264.4h0M552.9 220.4h0M236.9 264.5h0M185.4 247.9h0M354.3 318.9h0M610.1 350.7h0M521.7 174h0M169 111h0M319.1 502h0M310.8 437.7h0M29.8 189.3h0M605.8 516.5h0M204.6 530.4h0M482.8 579.1h0M301.7 382.7h0M43.4 136.7h0M466.8 465.5h0M53.9 17.2h0M333.2 288.3h0M419.1 28.7h0M154.1 118.3h0M300.8 433.6h0M555.3 69.5h0M2.9 583.9h0M0 456.8h0M31.1 468.7h0M471.6 391.3h0M281.7 371.6h0M30.8 313.3h0M605.9 307.9h0M216.6 331.7h0M54 118.3h0M351.5 414.2h0M215.5 406.3h0M418.4 316.8h0M168.5 135.1h0M87 81.4h0M164 560.1h0M395.6 346.4h0M313.2 43.3h0M8.5 206.7h0M305.1 297.9h0M508.2 621.5h0M275 176.8h0M493.6 266.3h0M139.3 58.4h0M41.1 493.5h0M501.9 533.4h0M338.3 496.9h0M241.3 421h0M238.5 594.3h0M92.4 86.3h0M540.4 494.7h0M243.1 394.2h0M151.3 82.3h0M258.5 448.4h0M511.1 101.1h0M615.8 99.4h0M25.5 522.7h0M369.9 426h0M325.1 98.8h0M574.1 61h0M307.4 187.8h0M2.5 245.5h0M542.2 593h0M579.4 175.5h0M448.6 607.1h0M269.3 395.7h0M256.8 315.8h0M218.2 589.2h0M252.2 416h0M371 84.6h0M182.8 249.9h0M137 481.9h0M305.1 410.7h0M575.4 553.7h0M56 624.6h0M286.7 248.2h0M501.5 491.8h0M340.1 447.5h0M21.6 524.4h0M240.9 202.2h0M42.6 177.2h0M142.5 522h0M483.1 572.6h0M383.9 621.3h0M494.7 104.3h0M141.3 515.7h0M33.4 401.5h0M265 505.6h0M532.1 93.5h0M608.6 397.2h0M132.6 164.5h0M48.5 317.3h0M625.3 605.8h0M497 577.9h0M171.5 426.3h0M266.2 590.3h0M12.4 347.8h0M56.5 104.1h0M18.3 387.9h0M117.3 59.2h0M306.6 554.7h0M252.9 151h0M330.1 20h0M408.1 407.6h0M290.3 436.3h0M363.1 503.4h0M450 614.8h0M561.9 132.9h0M436.2 174.5h0M176.9 414.5h0M588.6 572.1h0M178.4 434.4h0M473.6 498.4h0M339 525.6h0M172.9 520.9h0M585.8 217.5h0" stroke="#fff" stroke-width="2.8"/></g></svg><!--A1SVG_END--></div>
<div class="bar" style="left:50px;top:666px;width:63px;height:13px;"></div>
<div class="img" id="A2" style="left:656px;top:91.5px;width:628.5px;height:628.3px;"><!--A2SVG_BEGIN--><svg width="628" height="628" viewBox="0 0 628 628"><defs><filter id="fa2" filterUnits="userSpaceOnUse" x="0" y="0" width="628" height="628"><feGaussianBlur in="SourceGraphic" stdDeviation="0.76" result="bl"/><feTurbulence type="fractalNoise" baseFrequency="0.09" numOctaves="2" seed="62" result="t" color-interpolation-filters="sRGB"/><feColorMatrix in="t" type="matrix" color-interpolation-filters="sRGB" values="1.25 0 0 0 0.12 1.25 0 0 0 0.12 1.25 0 0 0 0.12 0 0 0 0 1" result="t2"/><feComposite in="bl" in2="t2" operator="arithmetic" k1="1" k2="0" k3="0" k4="0" color-interpolation-filters="sRGB"/></filter><filter id="ha2" x="-5%" y="-5%" width="110%" height="110%"><feGaussianBlur stdDeviation="3.5"/></filter></defs><rect width="628" height="628" fill="rgb(6,6,6)"/><g filter="url(#ha2)"><path d="M102.3 -11.2l10.1 22.1M112.4 10.9l-6 6.5M106.4 17.4l-28.7 -5.6M79.6 -4.5l-2 6M77.5 1.5l.2 10.3M112.4 10.9l20.8 -.8M139 -5.6l-.1 9.7M138.9 4l-5.7 6.1M119.6 49.3l-18.6 -13.4M119.6 49.3l17.7 -29.8M106.4 17.4l-5.4 18.5M137.3 19.5l-4.1 -9.4M77.5 1.5l-25.5 1.9M52.2 -8.9l-.2 12.3M77.8 18.6l-.1 -6.7M77.8 18.6l-24.1 4.9M53.7 23.5l-13.3 -9M52 3.4l-11.5 11.1M-1.2 72l-15.2 -2.3M-1.2 72l.1 28.4M-1.1 100.4l-28.2 6.6M119.6 49.3l8 4.8M137.3 19.5l24.7 17.2M162 36.7l-6.4 20.5M155.6 57.2l-28 -3M88.2 70.2l-21.5 -.1M88.2 70.2l7.3 -32.6M66.8 70.1l-.4 -27.1M66.3 43.1l13.7 -6.6M80 36.4l15.5 1.2M53.9 35.3l-.2 -11.8M53.9 35.3l12.4 7.7M77.8 18.6l2.2 17.9M101.1 35.9l-5.6 1.7M16.9 31.8l10.4 -16.9M16.9 31.8l6 6.5M43.3 46.8l10.7 -11.4M43.3 46.8l-12.7 -1.7M27.3 14.9l13.1 -.4M22.9 38.3l7.7 6.8M-19.4 38.3l25.2 22M-27.2 34.8l44.1 -3M22.9 38.3l-17.1 22M-1.2 72l8.5 -6.6M7.3 65.3l-1.5 -5M138.9 4l14 -2.9M173.6 -15l-20.8 16.2M256.5 -14.4l-11.3 21.2M227.5 -14l4.2 22.8M245.2 6.8l-13.5 2M280.2 -2.6l15.4 -8.5M280.2 -2.6l-23.6 -11.9M27.3 14.9l-7.5 -10.9M-5.8 4.6l25.6 -.6M-1.1 100.4l6.6 2.6M5.6 103l-4.6 31.1M-24.9 135.3l25.9 -1.3M-6.9 496.2l4.2 -6.4M-28.1 471.6l25.4 18.2M100 432.3l7.3 .3M100 432.3l-13.4 -12.3M86.5 420.1l1.8 -14.1M113.7 419.2l-6.4 13.5M113.7 419.2l-6.6 -13.4M107.1 405.8l-18.7 .2M86.5 420.1l-14.8 2.1M71.7 422.2l-9.6 -21.4M62.2 400.7l25 -3.6M88.3 405.9l-1.2 -8.8M313.4 13.6l-9.7 -17.1M313.4 13.6l16.3 2.2M328.8 -17.1l10.9 14.2M339.6 -2.9l-9.9 18.8M381 12.1l-23.2 -8.9M381 12.1l4 -12.9M385.1 -.8l-3.4 -37.8M357.8 3.2l-2.1 -7.1M343.2 29.7l35.1 -.9M343.2 29.7l.6 -3M378.3 28.7l2.7 -16.6M343.8 26.6l14 -23.4M428.2 -7.5l-10.7 16.8M417.5 9.3l-32.4 -10.1M339.6 -2.9l16.1 -1M329.7 15.9l14.1 10.7M279.8 308.4l22.4 39.3M279.8 308.4l7.4 -3.5M287.2 304.9l25 17.3M302.2 347.7l9.1 -15.2M311.3 332.5l.9 -10.2M325.4 307.6l18.9 14.2M325.4 307.6l-13.2 14.7M311.3 332.5l32.3 1.2M343.5 333.7l3.2 0M346.7 333.7l-2.5 -11.9M356.8 89.4l22.5 6.5M356.8 89.4l-10.6 4.7M346.2 94.1l-.6 22.9M345.7 117l13.7 6.6M379.3 95.8l-1.6 10.1M359.4 123.6l18.4 -17.6M313.4 13.6l-3.6 7.2M327.8 51l15.7 -10M327.8 51l-4.8 7.1M343.2 29.7l.3 11.4M309.8 20.9l13.2 37.3M175.7 83.8l-16 25.6M175.7 83.8l-13.4 -10.6M159.7 109.4l-15 -23.9M162.3 73.2l-17.5 12.4M150.8 207.7l5.4 7.8M150.8 207.7l-15 6.4M135.8 214.2l8.7 21.8M144.5 235.9l22.9 3.8M167.3 239.7l-11.2 -24.1M274 146.4l-1.4 17.6M274 146.4l26.8 -4.7M272.6 164.1l22.4 3.8M300.8 141.8l2.8 14M295 167.9l8.6 -12M330.3 137.7l5.2 8.8M330.3 137.7l-27.6 -1.2M335.5 146.5l-.9 20.3M302.7 136.5l-1.9 5.2M303.6 155.8l31 10.9M312.7 202.9l.7 4.4M312.7 202.9l-13.2 -18M313.4 207.3l-35 4.4M299.5 184.8l-1.9 .1M297.6 185l-12.9 10.3M278.5 211.7l6.2 -16.5M295 167.9l2.6 17.1M334.8 168.7l-.2 -1.9M334.8 168.7l-35.4 16.1M256.9 163.7l11.2 5.2M256.9 163.7l-27.6 18M268.2 168.9l-3.3 14.7M264.9 183.7l-7.1 9.4M257.7 193l-26.3 4.9M229.4 181.7l2.1 16.2M265 125.6l-24 14.3M265 125.6l9.1 20.9M241 139.9l15.9 23.9M272.6 164.1l-4.5 4.8M217.6 155.6l15.2 -18.2M217.6 155.6l-4.5 13.2M232.8 137.4l8.2 2.4M213.1 168.8l16.2 12.9M284.7 195.2l-19.9 -11.6M275.2 219l-17.4 -25.9M275.2 219l3.3 -7.3M294.9 240.9l.2 15.3M294.9 240.9l-19.2 -14.9M264.1 268.9l-1.9 -38.6M264.1 268.9l14.9 -1.1M262.2 230.2l13.5 -4.3M279 267.7l16.1 -11.5M294.9 240.9l3.7 0M275.2 219l.6 7M313.4 207.3l5 12.2M318.5 219.4l-19.8 21.4M324.1 270.1l-13 3.3M324.1 270.1l-5.4 -18.7M295.2 256.2l15.9 17.2M318.7 251.4l-20.1 -10.6M248.2 231.3l-8.5 -3.7M248.2 231.3l-8.3 27M239.7 227.6l-20.1 16.3M219.6 243.9l10.1 15.7M239.9 258.3l-10.2 1.3M262.2 230.2l-14 1M228.7 204.7l2.7 -6.8M228.7 204.7l11 22.9M257.4 272.7l-17.5 -14.4M257.4 272.7l6.7 -3.8M428.2 -7.5l28.8 19.6M417.5 9.3l2.7 11.8M420.2 21.1l15.6 10.6M435.8 31.7l19.1 -9.2M455 22.5l2 -10.4M456.2 56.5l3.1 -2M456.2 56.5l-21.2 -6M459.3 54.4l5.4 -19.1M435.8 31.7l-.9 18.8M455 22.5l9.7 12.8M500.8 54.7l-17.5 -22M500.8 54.7l-12.5 15M488.3 69.6l-29.1 -15.2M464.7 35.3l18.7 -2.7M11.3 642.3l-2.7 -11.5M8.6 630.7l9.5 -4.8M18.1 625.9l2.8 -2.6M20.9 623.3l25.2 17.7M127.6 54.2l-9.8 17.2M88.2 70.2l14.7 6.4M103 76.6l14.9 -5.3M155.6 57.2l6.6 16M144.8 85.5l-8.3 1.1M117.9 71.3l18.6 15.3M22.7 72.1l4.6 -2.4M22.7 72.1l3.9 17.9M27.3 69.7l24.2 -3.5M26.6 90l9.4 1M36 91l26.4 -19.2M51.5 66.2l11 5.6M30.6 45l-3.3 24.7M7.3 65.3l15.3 6.8M5.6 103l6.9 -2.1M12.5 101l14.1 -10.9M43.3 46.8l8.2 19.4M62.9 71.2l-.4 .6M62.9 71.2l3.8 -1M231.2 10.8l-19.5 2.8M231.2 10.8l6.6 33.2M237.8 44l-24.1 -5.8M213.8 38.2l-2 -24.6M19.8 4l-1 -12.1M18.7 243.7l7.2 -11.1M18.7 243.7l-27.5 6.9M25.9 232.6l-24.1 -16.4M-13.8 244.1l14.5 -25.5M.7 218.6l1.1 -2.4M44.8 429.9l4.8 9.7M44.8 429.9l-32.6 -19.2M49.6 439.6l-28.6 15.3M1.3 418.1l3 -.8M1.3 418.1l10.4 34M11.7 452.1l9.3 2.7M12.2 410.7l-7.8 6.6M61.6 443.7l-12 -4.1M61.6 443.7l10.1 -21.5M62.2 400.7l-3.2 3.9M48.9 408.6l10.1 -4M48.9 408.6l-4 21.2M24.3 397.2l24.5 11.5M24.3 397.2l-12.1 13.5M-33.1 441.3l34.5 -23.3M-23.7 385.6l28.1 31.7M-28.1 471.6l39.8 -19.6M-2.8 489.8l13.2 -5.6M10.4 484.2l13.3 -18.9M23.7 465.3l-2.7 -10.5M24.3 397.2l5.1 -16.1M29.4 381.1l-9.3 -18.8M-16.9 379.9l37 -17.7M8.6 630.7l-40.5 -15.6M18.1 625.9l-9.4 -30.2M8.7 595.7l-40.6 19.4M61.6 443.7l4.3 9.1M46.4 481.7l21.5 -25.4M46.4 481.7l-22.7 -16.4M65.9 452.7l2 3.6M100 432.3l1.8 4M65.9 452.7l35.8 -16.5M80.5 380.6l11.1 -15.1M80.5 380.6l-20.2 8M56.2 368.1l25.7 -10.2M56.2 368.1l-.1 10.5M91.6 365.5l-9.7 -7.5M60.3 388.6l-4.2 -10M87.1 397.2l.4 -1.2M87.5 396l-7 -15.4M58.9 404.7l1.4 -16.1M56.2 336.3l21.9 3.2M56.2 336.3l-9.8 23.2M46.5 359.5l9.7 8.6M78.1 339.5l3.8 18.5M46.5 359.5l-24.4 3M29.4 381.1l26.7 -2.5M22.1 362.5l-2 -.3M253.3 441l12.4 -10.8M253.3 441l-.9 13.7M265.7 430.1l16.6 18.9M252.4 454.7l13.6 14.1M266 468.7l13.8 -9.4M279.8 459.3l2.5 -10.3M351.4 369.4l-27.3 -5.4M351.4 369.4l9.6 -28M343.5 333.7l-19.6 29.1M360.9 341.4l-14.2 -7.8M323.9 362.8l.1 1.3M298.1 349.5l7.6 9.8M298.1 349.5l4.1 -1.8M323.9 362.8l-18.3 -3.5M379.3 95.8l11.8 -13.4M391.1 82.4l21.9 6.6M409.3 118.6l9.4 -8M409.3 118.6l-13.4 2.8M396 121.4l-18.2 -15.5M418.7 110.7l-5.7 -21.6M383 32.3l-19.9 19.8M383 32.3l15.2 10.7M399.8 51.1l-1.5 -8.1M399.8 51.1l-13.8 17.1M385.9 68.2l-14.5 -5.7M371.4 62.5l-8.3 -10.3M343.5 41l19.6 11.1M378.3 28.7l4.6 3.6M420.2 21.1l-22 21.9M434.9 50.5l-17 10.4M417.9 60.9l-18.1 -9.8M391.1 82.4l-5.2 -14.2M417.9 60.9l7.2 12.9M425.1 73.8l-12.2 15.3M356.8 89.4l-.6 -12.8M356.2 76.6l15.2 -14.1M327.8 51l28.4 25.6M323.5 303.2l22.4 -15.6M323.5 303.2l1.9 4.3M344.3 321.8l11.6 -12.7M355.8 309.1l-10 -21.4M265 125.6l1.6 -8M302.7 136.5l.7 0M266.6 117.5l15.8 .2M303.4 136.5l-21.1 -18.8M153.6 190.7l31.4 .4M153.6 190.7l-11.5 -17.5M142.1 173.2l26.7 -17.7M191.8 176.3l-6.7 14.9M191.8 176.3l-18.5 -17.3M173.2 159l-4.4 -3.4M157.7 118.5l2 -9.1M157.7 118.5l-16.3 5.3M136.5 86.6l-5 22.8M131.5 109.4l10 14.4M206.6 208.7l-21.3 -14.3M206.6 208.7l-6.4 23.3M200.2 232l-14.8 -6.5M185.3 225.5l-6 -12.4M185.2 194.4l-5.9 18.6M213.1 168.8l-21.3 7.5M228.7 204.7l-22.2 4M185 191.2l.2 3.3M204 241.4l15.6 2.5M204 241.4l-3.9 -9.4M166.6 238.4l.8 1.3M166.6 238.4l18.7 -12.9M156.2 215.6l23.2 -2.5M150.8 207.7l2.8 -17M320.4 294.5l-8.4 -16.8M320.4 294.5l-32.7 7.8M312 277.7l-22.8 8.9M287.6 302.3l1.5 -15.7M323.5 303.2l-3.1 -8.7M324.1 270.1l15.4 -2M339.5 268.1l7.5 14.7M311.1 273.4l.9 4.3M345.9 287.7l1.1 -4.9M287.2 304.9l.4 -2.6M279 267.7l10.1 18.9M362.7 236.8l-14.4 -14.8M362.7 236.8l-5.2 16.3M343.3 258l14.1 -4.9M343.3 258l-8.2 -19.1M335.2 238.9l2.2 -11.5M337.4 227.4l11 -5.4M339.5 268.1l3.9 -10.1M346.9 282.8l18 -5M364.6 261.5l.2 16.3M364.6 261.5l-7.2 -8.3M318.7 251.4l16.4 -12.5M318.5 219.4l18.9 8M334.8 168.7l3.1 .1M312.7 202.9l19.4 -6.4M332.1 196.4l5.9 -27.6M359.4 123.6l.7 9.4M396 121.4l-10.9 15.1M385.1 136.5l-25 -3.5M335.5 146.5l25.2 -4.9M338 168.8l12.8 4.4M350.8 173.2l11.3 -25.9M362.1 147.3l-1.4 -5.8M333.5 123.4l12.2 -6.4M333.5 123.4l-3.1 14.3M360.7 141.5l-.6 -8.5M595.4 389.8l28.2 -15.2M595.4 389.8l-.7 17.1M599.9 413.1l47 -18.5M599.9 413.1l-5.2 -6.2M623.6 374.6l23.2 9.7M623.6 374.6l-6.2 -22.5M617.4 352.1l22.7 -7.4M562 395.8l-20.2 7M562 395.8l17.8 15.6M579.8 411.3l-7.6 18.2M572.2 429.6l-27.7 -10.8M544.6 418.8l-2.8 -16.1M590.6 381.7l4.8 8.1M590.6 381.7l-24.4 -3.7M594.7 406.9l-14.9 4.4M566.2 378l-1.1 -.7M565.1 377.3l-3.1 18.4M654.2 420.9l-24.9 8.9M599.9 413.1l11.2 14M611.2 427.2l18.2 2.6M640.2 481.4l-21.9 3.2M618.3 484.6l-8.7 -13.1M609.6 471.6l4.5 -14.4M638.9 461.3l-11.2 -10.2M627.8 451.1l-13.7 6M629.4 429.8l-1.6 21.3M602.7 444.8l11.4 12.3M602.7 444.8l8.5 -17.7M283.4 531.3l22.8 -6.2M283.4 531.3l-1.3 -28.1M306.2 525.1l-5.6 -18.3M282.1 503.2l18.4 3.6M298.5 483.2l-27.1 8M298.5 483.2l2.7 18.7M271.4 491.2l10.8 11.9M301.2 501.9l-.7 4.9M20.9 623.3l24.1 -13.9M46.7 644.5l14.1 -21.4M45 609.4l15.7 13.7M87.5 396l18.4 -7.8M91.6 365.5l14 2.1M105.6 367.6l.3 20.6M107.1 405.8l1.4 -16.4M108.4 389.4l-2.5 -1.2M153.9 436.6l-12.7 3.9M153.9 436.6l2.9 -27.9M141.2 440.4l-10.5 -26M130.8 414.4l12.1 -17.1M142.9 397.3l13.9 11.4M113.7 419.2l17.1 -4.8M107.3 432.6l32.6 10.2M139.9 442.9l1.4 -2.4M143.6 394.5l-35.2 -5.2M143.6 394.5l-.7 2.7M149.5 606l32.1 13.8M149.5 606l40.5 -21.1M190.1 584.9l-8.5 34.9M144.3 605.3l5.2 .7M144.3 605.3l-9.7 22M134.6 627.4l38.6 22.8M191.9 633.4l-10.2 -13.5M93.7 98.6l1.4 22.7M93.7 98.6l3.9 -9.9M97.5 88.7l26.2 18.7M123.7 107.4l-22.5 18.8M95.1 121.3l6.1 4.9M103 76.6l-5.4 12.1M131.5 109.4l-7.7 -2M62.9 71.2l4.4 23.9M36 91l11.3 14.5M47.3 105.4l20 -10.3M93.7 98.6l-24.1 1.9M95.1 121.3l-21.6 1M69.6 100.5l3.9 21.8M69.6 100.5l-2.3 -5.4M178.2 22.5l-.1 -30.4M178.2 22.5l5.1 4.1M183.2 26.5l20.9 -16.6M203.6 -3.3l.6 13.2M152.9 1.2l25.3 21.3M162 36.7l16.2 -6M178.2 30.7l5 -4.1M178.2 30.7l17.9 14.8M196 45.4l17.7 -7.2M211.8 13.6l-7.6 -3.7M231.2 10.8l.5 -2.1M246 45.1l3.8 -33M246 45.1l9.5 -1.3M255.5 43.8l20.3 -27.3M249.8 12.1l24.1 2.5M273.9 14.6l1.9 1.9M245.2 6.8l4.5 5.3M237.8 44l1.6 .8M239.4 44.8l6.6 .3M290.3 29.8l-8.6 28.6M290.3 29.8l-14.5 -13.4M281.7 58.4l-26.2 -14.6M280.2 -2.6l-6.3 17.2M309.8 20.9l-19.5 9M1.8 216.1l10.7 -13.7M12.5 202.4l-18.3 -25.7M22.1 362.5l-6.1 -20.9M16 341.6l-19.2 -5M56.2 336.3l-6.3 -2.2M49.9 334.1l-23.3 -1.9M16 341.6l10.7 -9.4M49.9 334.1l2.8 -14.6M52.7 319.5l-1.2 -10.5M51.5 309.1l-12.2 -9.1M26.7 332.2l-5 -25.4M39.3 300l-17.7 6.8M51.9 266.6l8.5 -3M51.9 266.6l-4.9 7.5M60.4 263.6l22.2 21M77.5 291.8l5.1 -7.1M77.5 291.8l-30.7 -6.3M47 274.1l-.2 11.3M34.5 232.3l-8.6 .2M34.5 232.3l17.4 34.3M18.7 243.7l6.1 23.9M47 274.1l-22.1 -6.6M360.9 341.4l10.4 -1.5M371.3 340l3.7 -8.1M355.8 309.1l9.5 -2.6M375 331.8l-9.7 -25.4M376.7 283.5l-11.8 -5.7M376.7 283.5l-6.4 18.5M370.3 302l-5 4.5M286.6 444.4l-3.3 -24.4M286.6 444.4l20.5 -5.2M307.1 439.2l1 -14.9M308.1 424.3l-19.7 -5.1M288.4 419.2l-5.1 .7M265.7 430.1l4.4 -9M282.3 449l4.3 -4.6M270.1 421.2l13.2 -1.2M305.6 470.8l-25.8 -11.4M305.6 470.8l3 -.2M314.3 447.9l-5.7 22.7M314.3 447.9l-7.2 -8.7M384.3 367.2l22.7 17.4M384.3 367.2l-11.8 13.6M403 396.9l4 -12.3M403 396.9l-11.1 3M391.9 399.9l-17.8 -6.3M372.5 380.8l1.6 12.9M436 398.6l-22.6 6.3M436 398.6l14.6 22.9M450.6 421.5l-.5 5.1M450.1 426.6l-28.8 3.4M413.4 404.9l-1.4 24.5M412 429.4l9.3 .6M153.9 436.6l16.5 5.5M156.8 408.7l24 3.7M180.8 412.4l-.5 5.8M170.5 442.1l9.8 -23.9M206.7 398.3l1.1 11.2M206.7 398.3l-25.4 2M207.8 409.5l-19.5 11.5M181.3 400.3l-.4 12.1M180.3 418.2l8 2.8M236.4 403.5l-6.6 14.8M236.4 403.5l-21.3 -14.3M215.1 389.1l-5.6 -1.3M209.5 387.8l-2.8 10.5M207.8 409.5l9.2 8M217 417.5l12.8 .8M235.8 461l-15 -16.1M235.8 461l16.6 -6.3M253.3 441l-19.6 -13.1M233.7 427.8l-12.9 17M294.7 402.4l-10 -7.9M294.7 402.4l17.4 -5.4M312.2 397l-11 -27.2M301.2 369.8l-16.7 7.9M284.5 377.7l.3 16.8M213.7 279.8l-14.4 -29.2M213.7 279.8l2.2 2.7M215.9 282.6l-30.5 -5.6M199.3 250.6l-14 26.4M204 241.4l-2 3.5M229.7 259.6l-16 20.3M202.1 244.9l-2.7 5.7M451.7 70.9l15.4 10.6M451.7 70.9l-13.4 6M438.3 76.9l2 27.5M440.3 104.4l26.2 2M466.5 106.4l.6 -25M488.3 69.6l-.8 4.2M456.2 56.5l-4.5 14.4M487.6 73.8l-20.5 7.6M425.1 73.8l13.2 3.1M435.7 112.1l-17 -1.4M435.7 112.1l4.6 -7.7M435.7 112.1l9.3 19.5M445 131.6l20.8 2.9M465.7 134.5l10.7 -18.6M476.5 115.9l-10 -9.5M476.5 115.9l13.2 -7.7M487.6 73.8l10.1 21.7M497.7 95.5l-8.1 12.7M631.2 167.5l-3.4 21.7M627.8 189.2l6.4 5.1M239.4 44.8l-2.5 15M281.7 58.4l.4 1M282.1 59.4l-28 23.9M236.9 59.8l17.1 23.6M232.8 137.4l-6.4 -18.5M266.6 117.5l-7 -22.6M226.4 118.9l7.4 -20.2M259.6 95l-4 -4.6M233.8 98.8l21.8 -8.4M217.6 155.6l-26.1 -17.2M226.4 118.9l-17.4 -2.4M209 116.5l-17.5 21.9M157.7 118.5l18.9 5.2M173.2 159l7.8 -19.3M168.8 155.6l-28.1 -28.2M141.5 123.8l-.7 3.6M176.7 123.7l4.4 16M191.5 138.4l-10.5 1.3M196 45.4l.9 18.6M236.9 59.8l-10.6 7.9M196.9 64l29.4 3.7M233.8 98.8l-14.6 -10.9M255.6 90.4l-1.5 -7M226.3 67.7l-7.2 20.2M303.4 136.5l3.5 -15.3M282.4 117.7l9.9 -8.2M292.3 109.5l14.6 11.7M333.5 123.4l-13.2 -9.4M307 121.3l13.3 -7.3M343.2 95.7l-22.9 14.5M343.2 95.7l3 -1.6M320.3 113.9l0 -3.7M319.2 56.3l-25.5 9.4M319.2 56.3l2.8 28.2M293.7 65.7l-2.6 26.6M322 84.5l-10.6 11.6M311.3 96.1l-11.2 .5M291.1 92.2l9.1 4.3M323 58.2l-3.8 -1.9M282.1 59.4l11.6 6.3M343.2 95.7l-21.2 -11.3M259.6 95l31.5 -2.7M320.3 110.3l-8.9 -14.2M292.3 109.5l7.9 -12.9M135.1 169.4l-2.9 -31M135.1 169.4l-13.9 8.5M121.2 177.9l-17.4 -31.5M132.2 138.5l-24.1 1.2M103.8 146.5l4.3 -6.8M142.1 173.2l-7.1 -3.8M140.8 127.4l-8.6 11.1M131.2 216.5l-21.1 -28.7M131.2 216.5l4.7 -2.4M110.1 187.9l1.6 -3.8M111.7 184.1l9.5 -6.2M111.7 184.1l-24.4 -6.4M92.6 151.6l-5.3 26.1M92.6 151.6l11.2 -5.1M101.2 126.2l6.9 13.4M124.9 221.9l-18.3 -3.9M124.9 221.9l-6.2 30.7M118.7 252.5l-16.6 -24M102.1 228.6l4.5 -10.6M110.1 187.9l-8.6 19.6M82.6 178.3l4.8 -.6M82.6 178.3l.8 29M83.4 207.3l18.1 .1M131.2 216.5l-6.3 5.4M106.6 218l-5.1 -10.6M149.6 288.8l-29.6 -.1M149.6 288.8l2.2 20.3M151.9 309.2l-5.6 5.6M146.3 314.8l-24.7 -4.8M121.6 310l-2.6 -13.5M120 288.7l-1.1 7.7M125.3 341.7l-13 -12M125.3 341.7l16.5 -11.2M141.9 330.5l4.4 -15.7M112.3 329.7l9.3 -19.7M97.9 272.5l-5.7 9.5M97.9 272.5l17.5 -3.3M92.2 282l8.1 19.3M115.4 269.3l4.6 19.4M100.3 301.3l18.6 -4.9M178.9 279.4l6.5 -2.4M178.9 279.4l1.7 2.1M202.1 244.9l-27.8 5.9M180.5 281.5l-6.3 -30.6M166.6 238.4l2.5 9.4M169.1 247.8l5.2 3.1M555.4 2.8l21.5 -.8M555.4 2.8l-9.7 -11.3M581.8 -13.1l-4.8 15.1M608.9 5.8l-19.1 -17.3M608.9 5.8l-27.9 13.8M581 19.6l-4.1 -17.7M577.9 28.9l-5.3 1.5M577.9 28.9l3.2 -9.3M550.2 20.7l2.5 9M550.2 20.7l5.3 -18M572.6 30.4l-19.9 -.6M550.2 20.7l-16.5 -3.3M545.7 -8.5l-19.3 13M533.6 17.4l-7.2 -12.9M519.9 -24.5l.3 26.3M526.5 4.5l-6.3 -2.8M475.3 -3.5l9.3 3M484.6 -.4l17.2 -26.3M483.4 32.7l12.2 -20.4M457 12.1l18.3 -15.6M495.6 12.3l-11 -12.7M495.6 12.3l-.1 -1.8M495.5 10.5l24.7 -8.7M409.3 118.6l6.1 18.6M445 131.6l-14.9 14M415.4 137.3l14.7 8.3M465.7 134.5l5.9 18.8M471.6 153.2l-27.8 20.3M443.8 173.5l-8 -.6M430 145.5l5.7 27.4M443.8 173.5l14.4 28.6M418.5 203.3l10.5 -25.5M418.5 203.3l13.9 15.2M432.4 218.5l21.5 -8.4M458.2 202.1l-4.3 7.9M429 177.8l6.7 -4.9M621.7 292.3l-14.7 -13.9M621.7 292.3l1.7 24.8M592.7 310.9l26.3 9.4M592.7 310.9l.9 -24.6M593.6 286.3l13.3 -7.8M623.3 317.2l-4.3 3.1M658.2 325.5l-34.8 -8.4M646.7 285.7l-25 6.7M630.6 633.5l-18.4 -23.1M644.9 606.1l-22.6 -1.5M612.2 610.4l5.5 -5.8M622.2 604.6l-4.5 0M654.3 590.3l-24.9 -18.9M629.5 571.4l-7.2 33.2M612.2 610.4l-2.7 5.2M610.7 637.1l-1.2 -21.5M648.6 510.2l-31.3 -5M618.3 484.6l-6.7 11.7M617.4 505.1l-5.8 -8.8M659.8 548.6l-33.8 21.9M637.1 532.7l-17.5 21.2M619.6 554l0 10.4M619.6 564.4l6.5 6.2M629.5 571.4l-3.4 -.9M615.9 524.5l1.5 -19.3M615.9 524.5l21.2 8.3M615.9 524.5l-8.1 10.2M607.8 534.6l11.8 19.3M598.3 568.6l3.9 .5M598.3 568.6l-6.2 -34.3M602.2 569.1l17.4 -4.7M607.8 534.6l-15.7 -.3M617.7 604.6l-19.5 -19.6M598.2 585l4 -15.9M584.9 465.4l-2.4 11.1M584.9 465.4l-1.4 -14.6M583.5 450.8l-11.6 -11.6M582.5 476.5l-17.5 4.8M571.9 439.2l-13.9 9.8M558 449.1l-6.6 23.5M551.4 472.5l13.6 8.8M609.6 471.6l-24.7 -6.2M595.3 501.4l16.3 -5.1M595.3 501.4l-12.8 -24.9M602.7 444.8l-19.1 6M572.2 429.6l-.3 9.6M540.2 423.8l0 21.6M540.2 423.8l4.4 -5M540.1 445.4l17.9 3.7M540.1 445.4l-5.7 .4M547 477.6l4.4 -5M547 477.6l-12.1 -9.1M534.4 445.7l.5 22.8M308.1 552.5l-18.7 3.1M308.1 552.5l11.9 17.5M320 570l-6.7 14.5M313.3 584.5l-21.8 -7.2M289.3 555.5l2.2 21.7M-12.4 581.6l19 3.4M8.7 595.7l-2.4 -6.6M6.3 589.1l.2 -4.1M6.6 585l-1.4 -23M-21.7 542.6l26.9 19.4M88.1 607.9l15.1 -3.6M88.1 607.9l-10.6 -7.1M84.4 575.7l25.7 11.7M84.4 575.7l-12.2 16M103.2 604.2l6.9 -16.8M77.5 600.8l-5.3 -9.1M133.6 579.7l-36.8 -28.6M133.6 579.7l-23.6 7.7M96.9 551.1l-12.4 3.1M84.5 554.3l-.6 4.6M83.8 558.8l.5 16.8M122 659.1l12.8 -29.1M134.8 630l-24.8 -10.1M110 619.9l-21.1 13.1M134.6 627.4l.2 2.6M144.3 605.3l-8.6 -23M135.8 582.3l-2.1 -2.6M103.2 604.2l6.8 15.7M88.1 607.9l.7 25.1M64.5 623.4l-3.7 -.2M64.5 623.4l22.3 16.4M64.5 623.4l13.1 -22.6M274.2 542.7l-1.3 -4.9M274.2 542.7l-17.7 8.7M272.9 537.8l-23.7 -21.1M256.5 551.5l-22.8 -10.6M249.2 516.7l-20.6 18.2M233.7 540.9l-5.2 -6M272.9 537.8l10.5 -6.6M271.4 491.2l-4.5 -2.7M249.2 516.7l.3 .6M249.5 517.4l17.4 -28.9M305.6 470.8l-7.1 12.4M266 468.7l-3 16.4M266.9 488.5l-3.9 -3.3M209.5 387.8l.4 -8.5M181 389.1l12.1 -8.6M181 389.1l.3 11.1M193.1 380.5l16.8 -1.1M181 389.1l-24.1 -7.7M143.6 394.5l.5 -6.8M156.9 381.4l-12.7 6.3M105.6 367.6l17.6 -4.6M144.2 387.7l-21 -24.7M84.1 469.8l3.9 -.6M84.1 469.8l-16.2 -13.4M101.7 436.3l4.9 19.7M106.6 456l-18.6 13.1M139.9 442.9l-7.2 11.2M132.7 454l-12.7 10.3M106.6 456l13.5 8.3M222.6 529.5l5.9 5.4M222.6 529.5l-13 -10.7M249.5 517.4l-25.2 -18.5M224.3 498.9l-14.7 19.9M299.5 642.6l-38.6 -14.5M254.7 650.6l6.2 -22.5M299.5 642.6l.9 -24.8M300.4 617.8l-5.7 -3M294.7 614.8l-33.2 11.3M260.8 628.1l.7 -2.1M300.4 617.8l6.3 -3.9M335.7 638.8l-3.3 -10.6M306.7 613.9l25.7 14.3M34.5 232.3l7.2 -5.1M41.7 227.2l-1.6 -10.9M12.5 202.4l22 -2.5M40.1 216.3l-5.6 -16.5M92.6 151.6l-17.3 -13.3M73.4 122.3l.9 9.2M75.3 138.3l-1 -6.8M74.6 296.8l23.7 10.5M74.6 296.8l-2.3 11.7M72.3 308.5l9.5 14.2M98.2 307.3l-1.3 19.7M81.8 322.7l2.4 8.6M84.2 331.4l12.8 -4.3M77.5 291.8l-2.9 5M92.2 282l-9.7 2.7M100.3 301.3l-2.1 5.9M51.5 309.1l20.8 -.5M39.3 300l7.5 -14.5M52.7 319.5l29.1 3.2M112.3 329.7l-15.3 -2.7M78.1 339.5l6.1 -8.1M125.3 341.7l1.1 7.8M126.4 349.5l-3.2 13.5M.9 305.5l12.9 -3M.9 305.5l-8.8 -1.8M13.8 302.5l-2.4 -26.6M11.4 275.8l-11.5 -5M-.1 270.9l-13.4 8.9M-7.9 333.2l8.8 -27.7M21.6 306.7l-7.9 -4.3M24.9 267.6l-13.5 8.3M-8.7 250.5l8.6 20.3M351.4 369.4l2.3 3M384.3 367.2l1.2 -9.2M371.3 340l11.5 15.4M353.6 372.5l18.9 8.3M385.6 358l-2.8 -2.7M375 331.8l21.5 -8.4M406.4 340.5l-23.6 14.9M406.4 340.5l2 -10.3M408.4 330.2l-11.9 -6.7M370.3 302l21.6 4.8M396.6 323.5l-4.7 -16.7M409.1 364.6l3.9 -11.5M409.1 364.6l4.3 12.7M413 353.1l16.3 1.6M413.4 377.3l18.2 1.5M431.6 378.8l2.6 -16.4M429.3 354.8l4.9 7.7M406.4 340.5l6.6 12.7M385.6 358l23.5 6.6M407 384.6l6.4 -7.2M403 396.9l10.4 8M442.8 390.6l-11.2 -11.8M442.8 390.6l-6.9 7.9M480.3 414l-1.3 -6.4M480.3 414l35.3 19.8M479 407.5l32.9 -9.6M512 397.9l9.3 23.4M515.6 433.8l5.7 -12.4M515.6 444.8l-5.3 2.1M515.6 444.8l0 -11M510.3 446.9l-30 -11.8M476.3 421l4 14.1M476.3 421l4 -7.1M540.2 423.8l-18.9 -2.5M534.4 445.7l-18.8 -1M301.2 501.9l16.4 -.5M308.6 470.5l13.9 6.6M322.4 477.1l-4.8 24.2M391.9 399.9l-7 23M412 429.4l-23.9 3.9M384.9 422.9l3.2 10.3M414.3 457.8l7.1 -27.9M414.3 457.8l-12.6 7.2M401.7 465l-13.4 -31.1M388.1 433.3l.2 .7M312.2 397l5.2 4.8M324.1 364.1l5.6 25.2M305.7 359.3l-4.4 10.5M317.4 401.7l12.3 -12.4M353.6 372.5l-8.7 22.5M329.7 389.3l15.2 5.7M401.7 465l-3.9 4.9M365.7 447.3l22.6 -13.3M365.7 447.3l.2 13.6M397.7 469.9l-31.8 -9M217 417.5l-12.9 20.5M233.7 427.8l-3.9 -9.5M220.8 444.8l-8.9 .1M211.9 444.9l-7.8 -6.9M170.5 442.1l6.4 9.2M188.3 421l10.9 16.2M176.9 451.3l22.3 -14.2M199.2 437.2l5 .9M262.4 409.6l9.3 -6.8M262.4 409.6l-14.2 -9.2M271.7 402.8l-7.6 -26.2M264.1 376.6l-16.3 18.3M248.1 400.4l-.3 -5.5M270.1 421.2l-7.7 -11.6M294.7 402.4l-6.4 16.9M284.8 394.5l-13.1 8.3M236.4 403.5l11.8 -3.1M284.5 377.7l-17.6 .8M266.9 378.5l-2.8 -1.9M215.1 389.1l22.7 -12.4M237.8 376.7l10 18.1M257.2 360.3l-7.8 -5M257.2 360.3l28.7 -9.1M249.4 355.3l15.7 -26.6M285.9 351.2l-20.8 -22.5M298.1 349.5l-12.2 1.7M266.9 378.5l-9.7 -18.2M279.8 308.4l-19 4.7M260.8 313.1l4.3 15.6M193.1 380.5l-10.1 -20M183 360.5l24.5 -7.6M209.9 379.3l5.8 -15.8M207.5 352.9l8.2 10.7M237.8 376.7l1 -14.1M215.7 363.6l23.2 -1M249.4 355.3l-3.6 4.9M238.9 362.6l6.9 -2.4M625.2 -18.7l-7.3 25.2M633.4 6.8l-15.4 -.3M608.9 5.8l6.3 1.2M615.2 7.1l2.7 -.5M577.9 28.9l15.5 10.5M615.2 7.1l-1.3 23M593.4 39.4l20.5 -9.3M654.3 37.6l-31.9 -.8M613.9 30.1l8.5 6.8M636.6 209.6l-9.2 10.7M627.4 220.3l14.8 19.9M458.9 379.9l-4 -21.4M458.9 379.9l18.5 3.5M476 354.2l-19.1 -.8M476 354.2l8.6 16M454.9 358.6l2 -5.2M477.5 383.4l7.1 -13.2M442.8 390.6l16.1 -10.7M434.2 362.4l20.7 -3.9M476.3 421l-25.7 .5M479 407.5l-1.5 -24.1M478.5 339.8l-2.5 14.4M478.5 339.8l-2.9 -7.9M475.6 331.9l-24.8 6.7M450.8 338.6l6.1 14.8M185.1 112.1l19.3 6.8M185.1 112.1l-8 -29.3M204.5 118.9l-.1 -26.2M204.4 92.7l-16.9 -11.6M177.2 82.8l10.3 -1.7M209 116.5l-4.6 2.3M176.7 123.7l8.5 -11.6M175.7 83.8l1.5 -1M219.2 87.9l-14.8 4.8M196.9 64l-9.5 17.1M87.8 234.3l-15.4 -12.2M87.8 234.3l-3.6 14.8M65.2 262.1l17.7 -9.8M65.2 262.1l-6.8 -31.8M58.4 230.3l14 -8.3M82.9 252.3l1.3 -3.3M102.1 228.6l-14.3 5.7M73.4 215.8l-1 6.2M73.4 215.8l10 -8.5M60.4 263.6l4.8 -1.5M97.9 272.5l-15 -20.2M41.7 227.2l16.7 3.1M73.4 215.8l-5.1 -6.2M68.3 209.6l-28.3 6.7M154.4 256.9l-3.8 15.2M154.4 256.9l-12.9 -9.1M150.6 272.1l-32.4 -11.8M141.5 247.8l-22.7 4.8M118.2 260.3l2 -7.9M120.1 252.4l-1.3 .2M155.1 280.7l-4.5 -8.6M155.1 280.7l25.4 .8M169.1 247.8l-14.7 9.2M144.5 235.9l-3 11.9M115.4 269.3l2.7 -8.9M149.6 288.8l5.5 -8.1M118.7 252.5l.1 .1M84.2 249l35.9 3.4M407.5 202.3l-8.6 -10.9M407.5 202.3l-11.1 20.6M396.4 222.9l-11.7 -6.2M384.7 216.7l-4.5 -2.8M380.2 213.9l5.1 -20.6M385.3 193.3l13.6 -1.9M407.5 202.3l11 1M429 177.8l-20.1 -6.7M399 191.4l10 -20.3M415.4 137.3l-17.8 24.7M409 171.1l-11.3 -9.1M385.1 136.5l5.6 24.4M397.6 162l-7 -1.1M362.1 147.3l25.2 14.1M390.7 160.9l-3.4 .5M364.6 182.2l-18 20.6M364.6 182.2l4.6 .3M369.2 182.5l-.3 1.1M368.9 183.6l-3.1 28.7M365.8 212.3l-15.4 -1.7M350.4 210.6l-3.8 -7.8M332.1 196.4l14.6 6.4M350.8 173.2l13.8 9M387.2 161.4l-18 21.1M385.3 193.3l-16.5 -9.7M380.2 213.9l-14.5 -1.6M362.7 236.8l8 1.1M348.3 222l2.1 -11.4M370.7 237.9l14.1 -21.2M514.2 35.3l5.5 -1.4M514.2 35.3l-9.7 17.3M519.6 33.9l21.1 12.2M524.8 62.7l20.1 -16.1M524.8 62.7l-13.5 -1.4M540.7 46l4.2 .5M504.5 52.5l6.8 8.7M533.6 17.4l-14 16.5M495.5 10.5l18.7 24.8M500.8 54.7l3.6 -2.1M552.6 29.8l-11.9 16.2M563.3 74.7l-1.5 -7.2M563.3 74.7l-14.4 10.8M548.8 85.5l-24 -22.8M561.8 67.5l-16.8 -21M510.2 87.5l31.7 7.8M510.2 87.5l1.1 -26.2M541.9 95.3l6.9 -9.8M572.6 30.4l-10.8 37.1M510.2 87.5l-12.5 8M502.8 228.1l18.6 20.6M502.8 228.1l23 -14.1M525.8 214l10.2 13.7M536 227.7l-2.3 18.4M533.7 246l-12.2 2.6M493.2 188.4l-10 8M493.2 188.4l21.8 5M483.2 196.4l11.9 31.8M525.5 207.8l-10.5 -14.4M525.5 207.8l.3 6.2M495.1 228.2l7.7 -.2M525.5 207.8l22.2 -8.1M547.7 199.6l6.7 12.2M547.5 224.5l6.8 -12.7M547.5 224.5l-11.5 3.1M495.1 228.2l-4.4 3.8M508.1 259.3l-12.9 1.5M508.1 259.3l13.3 -10.7M490.7 232l4.5 28.9M556.7 132.5l9.4 34.5M556.7 132.5l1.6 -.2M558.3 132.3l-24.1 39.5M566.1 167l-26.4 7.4M539.6 174.4l-5.5 -2.6M515 193.4l20.1 -21.8M547.7 199.6l.7 -16M548.4 183.6l-8.7 -9.2M535.1 171.6l-1 .2M493.2 188.4l-1.4 -10.6M535.1 171.6l-19 -10M516.2 161.6l-24.4 16.2M483.2 196.4l-25 5.7M471.6 153.2l11.6 3.2M491.8 177.8l-8.6 -21.4M496.7 109.8l42.9 6.1M496.7 109.8l6.4 33.1M503.1 142.8l10.6 2.6M513.6 145.4l29.9 -24.4M539.6 115.9l3.9 5.1M489.6 108.2l7.1 1.6M541.9 95.3l-2.3 20.6M483.2 156.4l19.9 -13.6M516.2 161.6l-2.5 -16.2M558.3 132.3l-14.7 -11.2M608.3 348.4l-.2 -8.5M608.3 348.4l-16.8 11.3M608.1 340l-33.7 -11.7M591.6 359.7l-17.1 -11.9M574.4 328.3l-5.1 15.3M574.5 347.9l-5.2 -4.2M617.4 352.1l-9.1 -3.7M619 320.3l-10.9 19.7M590.6 381.7l.9 -21.9M576.5 324.7l-2.1 3.6M576.5 324.7l16.2 -13.8M566.2 378l8.3 -30.2M565.1 377.3l-14.1 -6.6M551 370.7l4.5 -24.7M555.5 346l13.8 -2.4M598 252.6l8.7 26.5M598 252.6l19.3 -9.8M606.7 279l22.8 -18.3M617.3 242.7l14.8 12M629.4 260.7l2.6 -6.1M644.9 273.7l-15.5 -12.9M606.9 278.4l-.3 .6M619.7 225.2l7.7 -4.9M619.7 225.2l-2.4 17.5M564.2 311.4l4.7 -22.7M564.2 311.4l12.3 13.3M593.6 286.3l-24.4 -4.2M569 288.8l.2 -6.7M609.5 615.6l-20.6 1.4M598.2 585l-18.8 14.8M588.9 617l-9.4 -17.2M598.3 568.6l-20.6 -6.1M579.4 599.8l-13.5 -5.4M565.9 594.4l-.6 -19.9M577.7 562.5l-12.4 12M595.3 501.4l-13.7 16M592.1 534.4l-10.3 -7.2M581.8 527.2l-.2 -9.8M564.9 481.3l-3.5 15.5M581.6 517.4l-20.1 -20.6M278.7 593.8l8 -10.4M278.7 593.8l-6.5 4.9M286.7 583.4l-20.2 -13.1M272.2 598.7l-32.3 -19.3M266.4 570.3l-20.1 6.3M246.3 576.6l-4.6 6.8M239.9 579.4l1.8 3.9M294.7 614.8l-16 -21M313.3 584.5l5.1 16.8M291.5 577.3l-4.8 6.1M306.7 613.9l11.7 -12.6M276.4 545.1l12.9 10.4M276.4 545.1l-10 25.2M274.2 542.7l2.2 2.4M256.5 551.5l-10.2 25.1M233.7 540.9l-10.4 21.1M223.3 562.1l18.4 21.3M331.8 541.7l18.3 -14.1M331.8 541.7l-15.1 -4.5M316.8 537.2l-3.5 -7.2M313.2 530.1l12.5 -21.8M350.1 527.7l-13.5 -17.3M325.8 508.3l10.8 2M364.8 530.7l-19.7 26.8M364.8 530.7l-2.4 -.9M362.4 529.9l-12.3 -2.2M338.8 554.5l6.3 3M338.8 554.5l-7 -12.8M308.1 552.5l8.7 -15.2M320 570l5.6 .3M325.6 570.3l13.2 -15.8M306.2 525.1l7 5M317.6 501.4l8.1 6.9M31.7 566.1l1.2 17.5M31.7 566.1l14.5 -12.1M60.9 564.4l-14.7 -10.4M60.9 564.4l-12.2 25.1M32.9 583.7l15.4 10.9M48.3 594.5l.3 -5M6.3 589.1l26.6 -5.4M5.2 562l10.4 -7.3M15.6 554.8l16.1 11.4M83.8 558.8l-23 5.6M72.2 591.7l-23.5 -2.1M45 609.4l3.3 -14.9M-20.3 540l25.4 -14.2M15.6 554.8l6.3 -10.6M5.1 525.7l16.7 18.4M-6.9 496.2l17.2 26.2M5.1 525.7l5.1 -3.3M10.4 484.2l16.9 16.2M27.3 500.4l-10.8 19.7M10.3 522.5l6.2 -2.4M47.2 540.2l18.3 -8.6M47.2 540.2l-7 -6M40.2 534.2l-3.1 -4.1M37.1 530l4.3 -26.8M65.6 531.5l5.7 -23.9M71.3 507.6l-21.6 -10.9M49.7 496.7l-8.3 6.6M84.5 554.3l-18.9 -22.8M46.2 554l1 -13.9M21.9 544.2l18.4 -10M16.5 520.1l20.6 10M27.3 500.4l14.1 2.9M74 503.7l19.5 2.9M74 503.7l-2.7 3.9M106.7 540.6l-13.2 -34M106.7 540.6l-9.8 10.6M46.4 481.7l3.3 14.9M74 503.7l10.1 -34M191.9 633.4l21.9 -23.8M190.1 584.9l1.1 -.7M191.2 584.2l24.6 16.3M213.8 609.6l2.1 -9M185.3 573.3l-6.6 -20.4M185.3 573.3l1.1 2.7M186.4 576l20.4 -13.7M178.7 552.9l13.3 -20M206.8 562.3l-3.8 -13.1M203 549.2l-10.3 -15.9M192.8 533.3l-.8 -.4M141.1 573.1l-.5 -5.9M141.1 573.1l44.2 .2M140.6 567.1l25.4 -18.5M166 548.6l12.7 4.3M135.8 582.3l5.3 -9.2M191.2 584.2l-4.8 -8.2M223.3 562.1l-16.5 .3M239.9 579.4l-3.9 10.9M215.9 600.5l20.1 -10.2M222.6 529.5l-19.6 19.7M208.1 520.3l1.5 -1.5M208.1 520.3l-15.3 12.9M106.7 540.6l9 -3.2M140.6 567.1l-4.5 -19.4M115.7 537.4l20.4 10.3M155.4 529.9l9.3 6.2M155.4 529.9l8.2 -23.3M164.7 536.1l18.1 -6.9M163.6 506.6l15.8 12.1M182.9 529.3l-3.5 -10.5M166 548.6l-1.2 -12.5M149.8 530.2l-13.8 17.5M149.8 530.2l5.6 -.3M192 532.9l-9.2 -3.7M143.8 355.8l17.4 14.3M143.8 355.8l21.8 -14.4M161.2 370.2l14.2 -15M175.4 355.2l-4.5 -7.1M165.6 341.5l5.4 6.6M156.9 381.4l4.4 -11.2M126.4 349.5l17.4 6.3M141.9 330.5l23.7 10.9M183 360.5l-7.5 -5.3M121.1 488.9l-6.4 5M121.1 488.9l20.4 4.2M141.5 493.1l-1.3 23.8M108.1 502.9l16.2 17.3M108.1 502.9l6.7 -9M140.3 517l-16 3.2M120 464.3l1.1 24.7M88 469.1l26.8 24.8M132.7 454l24.5 22.9M151.4 488.1l5.8 -11.1M151.4 488.1l-9.9 5M151.4 488.1l11.7 14.2M163.1 502.3l.5 4.3M149.8 530.2l-9.6 -13.3M93.5 506.6l14.6 -3.7M115.7 537.4l8.6 -17.3M163.1 502.3l18.2 -3.7M179.4 518.7l6.3 -7.5M181.4 498.6l4.3 12.7M208.1 520.3l-7.2 -9.4M185.7 511.3l15.1 -.4M68.3 209.6l-11.8 -24.3M34.5 199.9l1.6 -8.8M36.1 191.1l20.4 -5.8M82.6 178.3l-15 -1.1M75.3 138.3l-19.8 19.5M55.5 157.7l12 19.5M67.5 177.2l-11 8.1M408.4 330.2l10.2 -5.1M429.3 354.8l-.9 -9.5M428.4 345.3l-9.8 -20.2M450.8 338.6l-1.8 -1.8M449 336.8l-.8 2.7M428.4 345.3l19.7 -5.7M475.6 331.9l1.9 -14.7M477.4 317.1l-15.8 -7.2M449 336.8l10.8 -23M459.8 313.9l1.9 -3.9M460.7 274.9l-24.9 5M460.7 274.9l5.5 17.6M466.2 292.6l-4.1 7.9M440.1 281.9l-4.3 -2M440.1 281.9l4.5 14.5M462.1 300.4l-17.5 -4M376.7 283.5l8.9 -.6M385.6 282.9l5.2 4.7M391.9 306.8l3.5 -6.3M390.8 287.6l4.6 12.9M543.1 373l-16.1 -15.4M543.1 373l-14.4 18M528.7 391l-11.2 -.7M527 357.6l-4.1 -1.1M522.9 356.5l-7.8 23.3M517.5 390.3l-2.4 -10.5M541.7 402.7l-13.1 -11.7M551 370.7l-7.9 2.3M512 397.9l5.5 -7.5M501.4 349.4l-7.6 20.2M501.4 349.4l21.4 7.1M493.9 369.6l21.2 10.2M493.9 369.6l-9.2 .6M371.2 418.2l-11.5 8.7M371.2 418.2l-3.2 -18.9M359.7 426.8l-12.1 -13.4M368.1 399.3l-17.9 6.9M350.2 406.2l-2.6 7.3M365.7 447.3l-8.7 -4.2M357 443l2.8 -16.2M384.9 422.9l-13.7 -4.8M374.2 393.7l-6.1 5.6M344.9 395l5.3 11.2M337.1 428.3l8 -13.1M337.1 428.3l-19.1 -10.8M345 415.2l-27 -11.9M318 417.4l.1 -14.1M337.8 440.2l-.7 -11.9M337.8 440.2l19.2 2.8M347.6 413.5l-2.5 1.7M314.3 447.9l21.7 -6.2M336 441.7l1.8 -1.6M308.1 424.3l9.8 -6.9M317.4 401.7l.6 1.6M367.2 499.1l-.6 -12.8M367.2 499.1l-24.8 -6.4M366.6 486.3l-9.6 -18.3M342.4 492.7l-7.6 -16.1M357 468l-14 6.1M343 474.2l-8.2 2.4M369.2 503.2l-2 -4.1M369.2 503.2l-6.7 26.7M336.6 510.3l5.8 -17.6M397.7 469.9l1.9 6.6M399.6 476.5l-33 9.9M365.9 460.8l-8.9 7.2M322.4 477.1l12.4 -.5M336 441.7l7 32.4M260.8 313.1l-10.8 -9.4M245.8 360.2l-18.9 -33M226.9 327.2l23.1 -23.5M257.4 272.7l-10.6 27.9M215.9 282.6l3.7 6.2M219.6 288.8l27.3 11.9M246.8 300.7l3.1 3.1M621.7 150.2l-7.7 .1M621.7 150.2l30 -20.8M614 150.3l-11.5 -19.2M602.5 131.2l39.7 -10M631.2 167.5l-9.5 -17.3M627.8 189.2l-15.9 -1.8M604.6 161.3l7.3 26M604.6 161.3l5.6 -3.3M610.2 158l3.8 -7.7M589.4 120l13.1 11.1M589.4 120l-20.4 12.1M569 132.1l14.2 26.5M583.2 158.6l27 -.6M589.4 120l5.8 -15.7M595.2 104.3l47.7 14.7M593.4 39.4l-1.8 8M622.4 36.8l-3.5 18.4M591.6 47.4l27.3 7.8M563.3 74.7l20 2.1M591.6 47.4l-8.3 29.5M460.1 263.6l-10.7 -15.8M460.1 263.6l12.6 -1.3M472.7 262.3l3.5 -24.6M449.4 247.8l12.7 -14.9M462.1 232.8l14.1 4.8M460.7 274.9l-.6 -11.4M435.8 279.9l-2.5 -12.6M446.9 250.9l-13.6 16.4M446.9 250.9l2.6 -3.2M485.2 282.7l-19 9.9M485.2 282.7l-3.3 -17.6M481.9 265.1l-9.2 -2.8M490.7 232l-14.5 5.7M481.9 265.1l13.3 -4.3M432.4 218.5l-7.3 13.4M453.9 210.1l8.2 22.8M446.9 250.9l-21.8 -19M531 299.3l-11.4 3.9M531 299.3l-1 -8M530.1 291.2l0 -12.7M530 278.5l-17 -4.8M513.1 273.7l-14.1 18.4M519.7 303.2l-18.8 1.3M499 292.1l1.9 12.4M564.2 311.4l-21.2 10.4M543 321.8l-11.9 -22.5M569 288.8l-38.9 2.5M508.1 259.3l4.9 14.4M533.7 246l9.4 11.1M543.1 257.1l-13.1 21.4M485.2 282.7l13.8 9.4M477.4 317.1l15 -4.2M492.4 312.9l8.4 -8.4M461.6 309.9l.4 -9.5M549.3 258.2l15.6 12.6M549.3 258.2l13 -19.6M564.9 270.8l15.1 -20.4M580 250.4l-12 -12.6M562.3 238.5l5.7 -.7M543.1 257.1l6.1 1M569.1 282l-4.2 -11.3M547.5 224.5l14.7 14M598 252.6l-5.3 -2.4M592.7 250.2l-12.7 .2M518.9 326.1l-14.3 6M518.9 326.1l19.6 5.9M538.4 332.1l-.6 1.2M504.5 332.1l-3.2 7.8M537.2 336.8l.6 -3.6M537.2 336.8l-33.7 7.6M503.5 344.4l-2.2 -4.6M492.4 312.9l12.1 19.2M519.7 303.2l-.8 23M543 321.8l-4.5 10.2M555.5 346l-17.7 -12.8M478.5 339.8l22.8 0M527 357.6l10.3 -20.8M501.4 349.4l2 -5M588.9 617l-4.7 7M593.1 637.7l-8.9 -13.7M450.1 426.6l.2 25.3M414.3 457.8l26.1 9.7M440.3 467.6l10 -15.7M480.3 435.1l-1.4 22.3M450.3 451.9l28.5 5.5M549.4 548.2l26.5 13M549.4 548.2l12.1 -18.2M561.5 530l15.6 0M575.9 561.2l1.2 -31.2M577.7 562.5l-1.8 -1.3M581.8 527.2l-4.7 2.8M354.8 570.7l2.6 3.2M354.8 570.7l-9.7 -13.2M325.6 570.3l19.5 16.2M357.4 573.9l-12.3 12.5M318.4 601.3l23.2 -3.3M345.1 586.4l-3.5 11.5M332.4 628.2l10.7 -28.1M341.7 598l1.5 2.1M424.9 615.8l23 39.8M424.9 615.8l-18.2 14.1M406.7 629.9l2.6 19.6M343.1 600.1l9.5 4.6M355.5 631l-2.9 -26.3M375.5 583l-18.1 -9.1M375.5 583l-4.1 19.8M371.4 602.8l-18.8 1.9M399.2 596l-19.3 -15.2M399.2 596l-12.8 18.3M379.9 580.8l-4.4 2.2M371.4 602.8l15 11.4M227.6 624.1l32.2 .2M227.6 624.1l-2.9 -3M224.7 621l24.3 -8.9M249 612.1l10.5 12.8M259.5 624.9l.4 -.7M224.3 641.5l3.3 -17.4M261.5 626.1l-1.6 -1.8M213.8 609.6l10.9 11.4M236 590.4l13 21.8M272.2 598.7l-12.7 26.2M235.8 461l-9 14.2M211.9 444.9l-5.8 14.6M206.1 459.6l20.8 15.5M263 485.1l-38.2 -2.5M224.3 498.9l-.6 -12.8M223.7 486.1l1.1 -3.5M226.8 475.1l-2 7.5M-5.8 176.7l18.4 -12.8M36.1 191.1l-9 -21.5M12.7 163.8l14.4 5.7M1 134.1l10.6 7M12.7 163.8l-1.1 -22.7M55.5 157.7l-7.4 -.7M27.1 169.5l21 -12.5M431 311.7l0 -3.8M431 311.7l-3.3 4M427.7 315.7l.6 1.7M428.3 317.3l-22.6 -13.7M430.9 307.9l-6.6 -19.4M405.6 303.6l8 -17.3M424.3 288.5l-10.7 -2.1M459.8 313.9l-28.8 -2.2M444.6 296.5l-13.6 11.4M448.1 339.6l-20.4 -23.9M418.6 325l9.7 -7.7M395.4 300.5l10.2 3.1M440.1 281.9l-15.8 6.5M390.8 287.6l16.7 -9.1M407.4 278.5l6.1 7.9M407.4 278.5l6.2 -13.6M433.3 267.3l-19.6 -2.5M212.4 335.1l2.5 -2.9M212.4 335.1l-28.5 -8.9M214.8 332.3l-7.6 -26.2M207.3 306l-23.3 -.5M184 305.5l-3.4 7.7M183.9 326.2l-3.3 -13M207.5 352.9l4.9 -17.7M226.9 327.2l-12 5M171 348.1l12.9 -21.9M219.6 288.8l-12.3 17.3M178.9 279.4l5.1 26.1M151.9 309.2l28.7 4M587.5 186.1l-16.2 15.6M587.5 186.1l-8 -13.6M582.1 173.9l-10.4 .8M582.1 173.9l-2.6 -1.4M571.7 174.7l-17.1 12.5M554.6 187.2l16.6 14.5M604.6 161.3l-25.1 11.1M611.8 187.3l-6.4 6.7M605.5 194l-18 -7.9M569 132.1l-12.2 .4M583.2 158.6l-1.1 15.3M566.1 167l5.6 7.7M548.4 183.6l6.3 3.6M635.7 65l-10.8 24.8M635.7 65l-15.2 -6.5M620.4 58.5l-25.9 30M624.9 89.8l-30.8 2.7M594.1 92.5l.4 -4M640.4 100.7l-15.5 -10.8M618.9 55.2l1.6 3.3M583.3 76.8l11.2 11.7M595.2 104.3l-1.1 -11.8M554.4 211.8l6.7 -1.5M568 237.8l3.6 -9.9M571.6 227.9l-10.6 -17.5M571.3 201.7l-1.7 1.1M561.1 210.3l8.4 -7.5M600.5 209.7l-16.4 .7M600.5 209.7l10.2 8.8M610.7 218.5l-15 13.4M595.7 231.9l-16.3 -6.8M584.1 210.4l-4.7 14.7M605.5 194l-5 15.7M569.5 202.8l14.6 7.6M619.7 225.2l-9 -6.7M592.7 250.2l3 -18.3M571.6 227.9l7.8 -2.8M409.6 263.2l6.4 -27M409.6 263.2l-22.5 .7M386.9 245.5l17.2 -10.9M386.9 245.5l-2.2 14.5M404.1 234.6l11.9 1.7M384.6 260l2.4 3.9M413.6 264.9l-4.1 -1.7M425.1 231.9l-9.2 4.3M385.6 282.9l1.4 -19M370.7 237.9l16.2 7.6M396.4 222.9l7.6 11.7M364.6 261.5l20 -1.5M565.9 594.4l-10.8 6.5M555.1 600.9l-.9 20M584.1 624l-13.2 5.6M554.2 620.9l16.7 8.7M570.9 629.6l.1 32.5M565.3 574.5l-27.2 -11.1M549.4 548.2l-8.2 8M538.1 563.4l3.1 -7.2M561.5 496.8l-15.6 8.1M561.5 530l-9.7 -6.4M551.8 523.6l-5.9 -18.7M524.1 543l17.1 13.2M524.1 543l8.9 -16.5M551.8 523.6l-18.8 2.9M547 477.6l-15.7 21.4M545.9 504.9l-14.6 -5.9M424.9 615.8l0 -.1M455.2 611.8l2 36.7M455.2 611.8l-17.9 -3.2M424.9 615.7l12.4 -7.1M399.2 596l5.3 -1.9M379.9 580.8l8.2 -21.1M404.5 594.1l10.4 -17.1M414.9 577l-4.6 -14M388.2 559.7l22.1 3.3M354.8 570.7l24.7 -20.4M388.2 559.7l-8.7 -9.4M364.8 530.7l14.6 8.6M379.4 539.3l.1 11M404.5 594.1l20.3 21.6M414.9 577l23.2 4.5M437.3 608.6l-.1 -18.6M437.2 590l.9 -8.5M455.2 611.8l13.1 -7.6M468.3 604.2l-3.7 -4.8M437.2 590l27.4 9.4M475.3 576.7l-5.6 2.5M475.3 576.7l7.3 -25.7M461 551.1l10.1 27M461 551.1l16.5 -5.1M469.7 579.2l1.4 -1.1M477.5 546l5.1 5M445.6 572.8l25.5 5.3M445.6 572.8l-7.5 8.7M464.6 599.4l5.1 -20.2M380.3 650.2l9 -25.7M365.6 633.1l19.1 -16.2M389.2 624.5l-4.6 -7.5M406.7 629.9l-17.5 -5.4M386.5 614.3l-1.8 2.7M198.9 487.2l-17.6 3.3M198.9 487.2l2.6 .4M201.5 487.6l-8.4 -23.2M181.2 490.5l-11.2 -20.9M193.1 464.4l-17.3 -3.7M170 469.6l5.7 -8.9M181.4 498.6l-.1 -8.1M200.8 510.9l-2 -23.7M223.7 486.1l-22.2 1.5M206.1 459.6l-13 4.8M157.2 477l12.8 -7.4M176.9 451.3l-1.1 9.3M20.9 116.9l27.3 1.2M20.9 116.9l1.9 18.6M22.8 135.5l15 4.4M37.8 139.8l12.2 -18.6M48.2 118l1.7 3.2M12.5 101l8.4 15.9M47.3 105.4l.9 12.6M11.6 141.1l11.3 -5.6M48.1 157.1l-10.3 -17.2M74.3 131.5l-24.3 -10.3M533 526.6l-11.6 -16M531.3 499l-5.8 4.5M525.5 503.5l-4.1 7.1M440.3 467.6l2.8 12.6M478.8 457.4l-.9 5.8M443.2 480.2l36.3 -9.1M477.9 463.1l1.5 7.9M510.3 446.9l-4 8.2M477.9 463.1l28.3 -8M534.9 468.5l-20.6 5.5M525.5 503.5l-14.6 -15.5M511 488l3.4 -13.9M514.3 474l-8 -18.9M502.1 558l6.2 -13.3M502.1 558l-19.4 -7M508.2 544.7l-3.4 -12M477.5 546l1.5 -10.8M479 535.3l25.8 -2.5M524.1 543l-15.9 1.7M521.4 510.5l-14.1 13.1M504.8 532.7l2.5 -9.1M502.1 558l-.6 7.5M475.3 576.7l11.8 1.2M487.2 577.9l14.3 -12.4M468.3 604.2l8.8 6.3M477.2 610.4l-6.1 33.8M369.2 503.2l25.7 .8M379.4 539.3l21.5 -14.2M400.9 525.1l-6 -21.1M399.6 476.5l4.9 15.5M394.9 504l9.6 -12M440.8 490.4l-18 6.6M440.8 490.4l1.7 -6.1M442.4 484.3l.7 -4.1M404.5 491.9l18.2 5M426.7 545.2l-6.9 -15.4M426.7 545.2l13.7 2.3M440.4 547.5l9.1 -1.8M418.9 530.1l.9 -.3M418.9 530.1l31 -20.9M449.5 545.7l6.2 -20.2M455.7 525.5l-3.7 -7.7M452 517.8l-2.1 -8.7M410.3 563l16.4 -17.8M400.9 525.1l18.9 4.7M445.6 572.8l-5.2 -25.3M461 551.1l-11.5 -5.4M422.7 497l-3.8 33.1M440.8 490.4l9.1 18.8M474.1 522l4.9 13.2M474.1 522l-18.4 3.4M474.1 522l2.7 -4.3M507.3 523.6l-9.5 -4.8M476.8 517.7l21.1 1.1M538.1 563.4l-7.1 9.5M501.5 565.5l13.6 11.1M531 573l-15.9 3.6M555.1 600.9l-9.6 -1.5M531 573l14.5 26.4M496.2 603.1l16.6 -3.3M496.2 603.1l-6.4 6.8M489.9 609.9l7.7 20.3M512.8 599.9l9 8M521.8 607.8l1.4 14.6M497.6 630.2l16.2 1.8M513.8 632l9.3 -9.6M487.2 577.9l9.1 25.2M515.1 576.6l-2.3 23.3M477.2 610.4l12.7 -.5M481.3 646.5l16.3 -16.3M545.5 599.4l-23.7 8.5M554.2 620.9l-12.7 16.1M541.5 637l-18.4 -14.5M499.7 491.2l-21.5 -19.2M499.7 491.2l-5.4 8.1M494.3 499.3l-21.2 1.5M478.2 472l-10.2 23.5M473.1 500.8l-3.2 1.1M469.9 501.9l-1.9 -6.4M479.4 471.1l-1.2 .9M511 488l-11.3 3.2M497.8 518.8l-3.5 -19.5M476.8 517.7l-3.6 -16.9M442.4 484.3l25.6 11.3M452 517.8l17.9 -15.9" stroke="#fff" stroke-opacity="0.23" stroke-width="8" fill="none" stroke-linecap="round"/><circle cx="191.2" cy="584.2" r="6" fill="#fff" fill-opacity="0.30"/><circle cx="434.2" cy="362.4" r="6.6" fill="#fff" fill-opacity="0.30"/><circle cx="606.9" cy="278.4" r="9.3" fill="#fff" fill-opacity="0.17"/><circle cx="380.2" cy="213.9" r="8.8" fill="#fff" fill-opacity="0.15"/><circle cx="124.9" cy="221.9" r="9.8" fill="#fff" fill-opacity="0.20"/><circle cx="360.9" cy="341.4" r="5.9" fill="#fff" fill-opacity="0.16"/><circle cx="306.7" cy="613.9" r="7.7" fill="#fff" fill-opacity="0.30"/><circle cx="406.4" cy="340.5" r="5.4" fill="#fff" fill-opacity="0.24"/><circle cx="303.4" cy="136.5" r="7.1" fill="#fff" fill-opacity="0.31"/><circle cx="18.1" cy="625.9" r="9.7" fill="#fff" fill-opacity="0.31"/><circle cx="211.9" cy="444.9" r="10.9" fill="#fff" fill-opacity="0.19"/><circle cx="577.1" cy="530" r="10.2" fill="#fff" fill-opacity="0.18"/><circle cx="180.5" cy="281.5" r="10.1" fill="#fff" fill-opacity="0.18"/><circle cx="206.6" cy="208.7" r="5.2" fill="#fff" fill-opacity="0.27"/><circle cx="143.8" cy="355.8" r="6.5" fill="#fff" fill-opacity="0.22"/><circle cx="6.3" cy="589.1" r="10.2" fill="#fff" fill-opacity="0.33"/><circle cx="120.1" cy="252.4" r="8" fill="#fff" fill-opacity="0.25"/><circle cx="320.4" cy="294.5" r="7.3" fill="#fff" fill-opacity="0.16"/><circle cx="389.2" cy="624.5" r="9.6" fill="#fff" fill-opacity="0.26"/><circle cx="60.4" cy="263.6" r="8.4" fill="#fff" fill-opacity="0.24"/><circle cx="131.2" cy="216.5" r="7.1" fill="#fff" fill-opacity="0.28"/><circle cx="22.9" cy="38.3" r="7.1" fill="#fff" fill-opacity="0.31"/><circle cx="316.8" cy="537.2" r="7.1" fill="#fff" fill-opacity="0.29"/><circle cx="600.5" cy="209.7" r="8.2" fill="#fff" fill-opacity="0.17"/><circle cx="618" cy="6.5" r="10.5" fill="#fff" fill-opacity="0.25"/><circle cx="323" cy="58.2" r="10.7" fill="#fff" fill-opacity="0.21"/><circle cx="241" cy="139.9" r="9.6" fill="#fff" fill-opacity="0.19"/><circle cx="618.3" cy="484.6" r="5.4" fill="#fff" fill-opacity="0.28"/><circle cx="232.8" cy="137.4" r="8.1" fill="#fff" fill-opacity="0.31"/><circle cx="268.2" cy="168.9" r="8.1" fill="#fff" fill-opacity="0.23"/><circle cx="375" cy="331.8" r="10.2" fill="#fff" fill-opacity="0.15"/><circle cx="602.5" cy="131.2" r="10.3" fill="#fff" fill-opacity="0.28"/><circle cx="46.2" cy="554" r="9.9" fill="#fff" fill-opacity="0.30"/><circle cx="101.7" cy="436.3" r="10.7" fill="#fff" fill-opacity="0.33"/><circle cx="111.7" cy="184.1" r="6.9" fill="#fff" fill-opacity="0.31"/><circle cx="450.6" cy="421.5" r="10.1" fill="#fff" fill-opacity="0.17"/><circle cx="48.7" cy="589.5" r="5.3" fill="#fff" fill-opacity="0.23"/><circle cx="383" cy="32.3" r="7.7" fill="#fff" fill-opacity="0.29"/><circle cx="538.1" cy="563.4" r="8.6" fill="#fff" fill-opacity="0.33"/><circle cx="284.5" cy="377.7" r="8.6" fill="#fff" fill-opacity="0.16"/><circle cx="466.2" cy="292.6" r="5.1" fill="#fff" fill-opacity="0.21"/><circle cx="294.9" cy="240.9" r="7.6" fill="#fff" fill-opacity="0.21"/><circle cx="185.4" cy="277" r="5" fill="#fff" fill-opacity="0.35"/><circle cx="279.8" cy="308.4" r="9.6" fill="#fff" fill-opacity="0.22"/><circle cx="458.2" cy="202.1" r="6.2" fill="#fff" fill-opacity="0.20"/><circle cx="420.2" cy="21.1" r="9.2" fill="#fff" fill-opacity="0.32"/><circle cx="582.1" cy="173.9" r="6.4" fill="#fff" fill-opacity="0.32"/><circle cx="521.8" cy="607.8" r="9.1" fill="#fff" fill-opacity="0.20"/><circle cx="622.2" cy="604.6" r="10.5" fill="#fff" fill-opacity="0.28"/><circle cx="135.8" cy="582.3" r="7.6" fill="#fff" fill-opacity="0.17"/><circle cx="533" cy="526.6" r="5.2" fill="#fff" fill-opacity="0.28"/><circle cx="435.8" cy="31.7" r="8.2" fill="#fff" fill-opacity="0.22"/><circle cx="444.6" cy="296.5" r="6.4" fill="#fff" fill-opacity="0.32"/><circle cx="365.8" cy="212.3" r="5.9" fill="#fff" fill-opacity="0.28"/><circle cx="150.8" cy="207.7" r="9.3" fill="#fff" fill-opacity="0.16"/><circle cx="548.8" cy="85.5" r="9.4" fill="#fff" fill-opacity="0.24"/><circle cx="21.6" cy="306.7" r="7.8" fill="#fff" fill-opacity="0.34"/><circle cx="106.4" cy="17.4" r="7.2" fill="#fff" fill-opacity="0.17"/><circle cx="311.3" cy="332.5" r="6" fill="#fff" fill-opacity="0.23"/><circle cx="399.2" cy="596" r="7.6" fill="#fff" fill-opacity="0.17"/><circle cx="515.6" cy="444.8" r="10" fill="#fff" fill-opacity="0.29"/><circle cx="1.3" cy="418.1" r="9.2" fill="#fff" fill-opacity="0.27"/><circle cx="149.6" cy="288.8" r="5.6" fill="#fff" fill-opacity="0.16"/><circle cx="471.1" cy="578.1" r="9.9" fill="#fff" fill-opacity="0.26"/><circle cx="151.4" cy="488.1" r="9.7" fill="#fff" fill-opacity="0.21"/><circle cx="343.2" cy="95.7" r="8.4" fill="#fff" fill-opacity="0.22"/><circle cx="325.6" cy="570.3" r="8.2" fill="#fff" fill-opacity="0.17"/><circle cx="312.2" cy="397" r="9.4" fill="#fff" fill-opacity="0.24"/><circle cx="337.1" cy="428.3" r="5.9" fill="#fff" fill-opacity="0.27"/><circle cx="561.1" cy="210.3" r="7.1" fill="#fff" fill-opacity="0.22"/><circle cx="284.8" cy="394.5" r="11" fill="#fff" fill-opacity="0.18"/><circle cx="621.7" cy="150.2" r="6.8" fill="#fff" fill-opacity="0.24"/><circle cx="74.6" cy="296.8" r="7.7" fill="#fff" fill-opacity="0.19"/><circle cx="461" cy="551.1" r="6.6" fill="#fff" fill-opacity="0.19"/><circle cx="525.5" cy="207.8" r="5.7" fill="#fff" fill-opacity="0.24"/><circle cx="344.9" cy="395" r="7.1" fill="#fff" fill-opacity="0.25"/><circle cx="55.5" cy="157.7" r="8.9" fill="#fff" fill-opacity="0.32"/><circle cx="138.9" cy="4" r="10.6" fill="#fff" fill-opacity="0.23"/><circle cx="404.5" cy="491.9" r="7.6" fill="#fff" fill-opacity="0.31"/><circle cx="133.6" cy="579.7" r="10.3" fill="#fff" fill-opacity="0.33"/><circle cx="106.7" cy="540.6" r="5.9" fill="#fff" fill-opacity="0.29"/><circle cx="294.7" cy="402.4" r="9.5" fill="#fff" fill-opacity="0.26"/><circle cx="418.5" cy="203.3" r="10.5" fill="#fff" fill-opacity="0.26"/><circle cx="271.4" cy="491.2" r="5.3" fill="#fff" fill-opacity="0.25"/><circle cx="81.8" cy="322.7" r="9.9" fill="#fff" fill-opacity="0.20"/><circle cx="151.9" cy="309.2" r="8.7" fill="#fff" fill-opacity="0.21"/><circle cx="415.4" cy="137.3" r="5.4" fill="#fff" fill-opacity="0.28"/><circle cx="150.6" cy="272.1" r="10.6" fill="#fff" fill-opacity="0.23"/><circle cx="298.5" cy="483.2" r="5.9" fill="#fff" fill-opacity="0.28"/><circle cx="537.9" cy="333.3" r="6.9" fill="#fff" fill-opacity="0.31"/><circle cx="22.8" cy="135.5" r="6" fill="#fff" fill-opacity="0.30"/><circle cx="203" cy="549.2" r="6.5" fill="#fff" fill-opacity="0.25"/><circle cx="457" cy="12.1" r="6.7" fill="#fff" fill-opacity="0.25"/><circle cx="146.3" cy="314.8" r="6.7" fill="#fff" fill-opacity="0.27"/><circle cx="297.6" cy="185" r="9.7" fill="#fff" fill-opacity="0.16"/><circle cx="364.6" cy="261.5" r="9.4" fill="#fff" fill-opacity="0.25"/><circle cx="365.7" cy="447.3" r="6.7" fill="#fff" fill-opacity="0.32"/><circle cx="398.2" cy="43.1" r="5.8" fill="#fff" fill-opacity="0.29"/><circle cx="300.4" cy="617.8" r="10.2" fill="#fff" fill-opacity="0.30"/><circle cx="185" cy="191.2" r="10" fill="#fff" fill-opacity="0.23"/><circle cx="388.2" cy="559.7" r="7.2" fill="#fff" fill-opacity="0.30"/><circle cx="300.8" cy="141.8" r="9.2" fill="#fff" fill-opacity="0.24"/><circle cx="295" cy="167.9" r="10.8" fill="#fff" fill-opacity="0.18"/><circle cx="337.8" cy="440.2" r="5.4" fill="#fff" fill-opacity="0.25"/><circle cx="62.2" cy="400.7" r="9.8" fill="#fff" fill-opacity="0.28"/><circle cx="346.6" cy="202.8" r="5.7" fill="#fff" fill-opacity="0.24"/><circle cx="143.6" cy="394.5" r="5.4" fill="#fff" fill-opacity="0.16"/><circle cx="178.9" cy="279.4" r="10.9" fill="#fff" fill-opacity="0.34"/><circle cx="577" cy="2" r="10.5" fill="#fff" fill-opacity="0.16"/><circle cx="233.8" cy="98.8" r="7.8" fill="#fff" fill-opacity="0.26"/><ellipse cx="215" cy="578" rx="48" ry="22" fill="#fff" fill-opacity="0.1"/><ellipse cx="300" cy="560" rx="30" ry="18" fill="#fff" fill-opacity="0.08"/></g><g filter="url(#fa2)" fill="none" stroke-linecap="round" stroke-width="2.3"><path d="M106.4 17.4q-14.4 -2.6 -28.7 -5.6M77.5 1.5q-.4 5.2 .2 10.3M119.6 49.3q11.8 -13.1 17.7 -29.8M52 3.4q-5.1 6.3 -11.5 11.1M-1.2 72q-7.7 -.6 -15.2 -2.3M-1.1 100.4q-13.9 4.3 -28.2 6.6M137.3 19.5q13.6 6.8 24.7 17.2M66.3 43.1q6.8 -3.4 13.7 -6.6M80 36.4q7.3 5.9 15.5 1.2M53.9 35.3q-1.5 -5.9 -.2 -11.8M22.9 38.3q5.4 1.6 7.7 6.8M245.2 6.8q-6.5 3.1 -13.5 2M-6.9 496.2q2.8 -2.7 4.2 -6.4M-28.1 471.6q12.4 9.5 25.4 18.2M107.1 405.8q-9.4 -2.6 -18.7 .2M88.3 405.9q-1.2 -4.3 -1.2 -8.8M381 12.1q-12.5 -2 -23.2 -8.9M385.1 -.8q1.1 -19.1 -3.4 -37.8M357.8 3.2q-1.5 -3.4 -2.1 -7.1M343.2 29.7q17.5 -2 35.1 -.9M428.2 -7.5q-1.8 10.6 -10.7 16.8M279.8 308.4q4.4 -.3 7.4 -3.5M311.3 332.5q-.4 -5.2 .9 -10.2M325.4 307.6q8.1 8.9 18.9 14.2M325.4 307.6q-7.2 6.8 -13.2 14.7M356.8 89.4q-4.8 3.3 -10.6 4.7M346.2 94.1q3.7 11.6 -.6 22.9M345.7 117q7.2 2.5 13.7 6.6M379.3 95.8q-1.2 5 -1.6 10.1M274 146.4q13.6 -.9 26.8 -4.7M272.6 164.1q11 3.1 22.4 3.8M295 167.9q4.3 -6 8.6 -12M303.6 155.8q13.8 10.4 31 10.9M312.7 202.9q.6 2.2 .7 4.4M334.8 168.7q-.1 -1 -.2 -1.9M257.7 193q-12.4 6.4 -26.3 4.9M229.4 181.7q2.1 8 2.1 16.2M272.6 164.1q-2.6 2.1 -4.5 4.8M213.1 168.8q5.6 9.6 16.2 12.9M264.1 268.9q3.6 -19.5 -1.9 -38.6M279 267.7q8.6 -5 16.1 -11.5M318.5 219.4q-13.3 7.5 -19.8 21.4M257.4 272.7q3.7 -1.2 6.7 -3.8M459.3 54.4q3.3 -9.4 5.4 -19.1M488.3 69.6q-15.1 -6.4 -29.1 -15.2M464.7 35.3q9.7 1.3 18.7 -2.7M8.6 630.7q4.6 -2.8 9.5 -4.8M22.7 72.1q5.7 8.1 3.9 17.9M12.5 101q5.7 -7.2 14.1 -10.9M43.3 46.8q7.6 8.2 8.2 19.4M231.2 10.8q-9.7 1.8 -19.5 2.8M19.8 4q-1.8 -6 -1 -12.1M25.9 232.6q-9.1 -12.5 -24.1 -16.4M24.3 397.2q12.9 4.4 24.5 11.5M-23.7 385.6q15.4 14.6 28.1 31.7M-2.8 489.8q6.3 -3.5 13.2 -5.6M10.4 484.2q5.2 -10.5 13.3 -18.9M8.6 630.7q-17.5 -15 -40.5 -15.6M61.6 443.7q1 5.1 4.3 9.1M80.5 380.6q5.1 -7.9 11.1 -15.1M58.9 404.7q-1.5 -8.2 1.4 -16.1M253.3 441q-2.5 6.7 -.9 13.7M379.3 95.8q5.8 -6.8 11.8 -13.4M409.3 118.6q-6.7 1.2 -13.4 2.8M383 32.3q9.2 3.1 15.2 10.7M343.5 41q8 8.8 19.6 11.1M417.9 60.9q-9.5 -4.1 -18.1 -9.8M323.5 303.2q.4 2.4 1.9 4.3M344.3 321.8q7.7 -4.7 11.6 -12.7M355.8 309.1q-3.2 -11.5 -10 -21.4M228.7 204.7q-12.3 -4.8 -22.2 4M320.4 294.5q-3.3 -8.9 -8.4 -16.8M323.5 303.2q-.2 -4.8 -3.1 -8.7M362.7 236.8q-9.1 -5.5 -14.4 -14.8M343.3 258q-2.4 -10.3 -8.2 -19.1M318.7 251.4q9.1 -5.1 16.4 -12.5M359.4 123.6q.1 4.7 .7 9.4M362.1 147.3q-.7 -2.9 -1.4 -5.8M333.5 123.4q6.1 -3.1 12.2 -6.4M599.9 413.1q-3.5 -2.3 -5.2 -6.2M617.4 352.1q10.1 -7.7 22.7 -7.4M562 395.8q10.9 5.5 17.8 15.6M599.9 413.1q3.9 8.4 11.2 14M618.3 484.6q-3.8 -6.9 -8.7 -13.1M306.2 525.1q-3.3 -9 -5.6 -18.3M271.4 491.2q7.9 3.7 10.8 11.9M20.9 623.3q10.8 -9.1 24.1 -13.9M143.6 394.5q-17.4 -4.2 -35.2 -5.2M144.3 605.3q2.6 .8 5.2 .7M93.7 98.6q-6 11.7 1.4 22.7M93.7 98.6q1.8 -5 3.9 -9.9M97.5 88.7q9.7 14.2 26.2 18.7M47.3 105.4q11.3 -2.6 20 -10.3M183.2 26.5q12.9 -5.2 20.9 -16.6M246 45.1q-2.2 -17 3.8 -33M255.5 43.8q14.4 -10.5 20.3 -27.3M237.8 44q.8 .3 1.6 .8M281.7 58.4q-13.8 -6.1 -26.2 -14.6M1.8 216.1q8.2 -4.6 10.7 -13.7M56.2 336.3q-3.1 -1.3 -6.3 -2.2M77.5 291.8q2.5 -3.6 5.1 -7.1M34.5 232.3q3.9 19.6 17.4 34.3M270.1 421.2q6.5 -1.5 13.2 -1.2M384.3 367.2q-4.9 7.7 -11.8 13.6M372.5 380.8q-.7 6.6 1.6 12.9M412 429.4q4.7 -.1 9.3 .6M153.9 436.6q8.4 2.4 16.5 5.5M156.8 408.7q11.6 4.6 24 3.7M180.3 418.2q4.3 .4 8 2.8M236.4 403.5q-.4 8.7 -6.6 14.8M312.2 397q-2.4 -14.8 -11 -27.2M213.7 279.8q-7.4 -14.5 -14.4 -29.2M213.7 279.8q1.3 1.2 2.2 2.7M202.1 244.9q-.8 3.1 -2.7 5.7M451.7 70.9q-7.2 1.9 -13.4 6M466.5 106.4q-1.8 -12.5 .6 -25M239.4 44.8q1.3 7.9 -2.5 15M266.6 117.5q-1.5 -11.9 -7 -22.6M255.6 90.4q-1.6 -3.3 -1.5 -7M282.4 117.7q4.6 -4.6 9.9 -8.2M319.2 56.3q-13.3 3.2 -25.5 9.4M323 58.2q-2.1 -.5 -3.8 -1.9M320.3 110.3q-2.6 -8.3 -8.9 -14.2M135.1 169.4q-2 -15.4 -2.9 -31M110.1 187.9q.6 -2 1.6 -3.8M111.7 184.1q4.1 -4 9.5 -6.2M92.6 151.6q1.9 14 -5.3 26.1M92.6 151.6q5.9 -1.8 11.2 -5.1M124.9 221.9q-4.7 15 -6.2 30.7M82.6 178.3q5 14.4 .8 29M83.4 207.3q9 1.8 18.1 .1M149.6 288.8q-14.8 .7 -29.6 -.1M149.6 288.8q-.7 10.4 2.2 20.3M141.9 330.5q2.2 -7.9 4.4 -15.7M112.3 329.7q2.4 -10.9 9.3 -19.7M178.9 279.4q1.2 .8 1.7 2.1M169.1 247.8q2.4 2 5.2 3.1M445 131.6q-6.8 7.7 -14.9 14M432.4 218.5q12.1 -.8 21.5 -8.4M622.2 604.6q-2.3 -.3 -4.5 0M629.5 571.4q-8.6 15.5 -7.2 33.2M617.4 505.1q-2.5 -4.7 -5.8 -8.8M637.1 532.7q-8.4 10.9 -17.5 21.2M615.9 524.5q11.3 2.3 21.2 8.3M598.3 568.6q4.1 -18.4 -6.2 -34.3M582.5 476.5q-8.7 2.6 -17.5 4.8M547 477.6q-3.8 -7.5 -12.1 -9.1M6.6 585q-1.9 -11.4 -1.4 -23M88.1 607.9q-5.3 -3.5 -10.6 -7.1M83.8 558.8q.6 8.4 .5 16.8M135.8 582.3q-.6 -1.7 -2.1 -2.6M103.2 604.2q5.5 6.9 6.8 15.7M274.2 542.7q-1.1 -2.3 -1.3 -4.9M249.2 516.7q.2 .3 .3 .6M181 389.1q6.5 -3.7 12.1 -8.6M156.9 381.4q-6.8 2.2 -12.7 6.3M106.6 456q-9.9 5.7 -18.6 13.1M106.6 456q6.6 4.4 13.5 8.3M224.3 498.9q-8.1 9.4 -14.7 19.9M300.4 617.8q-3.2 -.9 -5.7 -3M260.8 628.1q.1 -1.1 .7 -2.1M300.4 617.8q2.5 -3 6.3 -3.9M335.7 638.8q-2.7 -5 -3.3 -10.6M306.7 613.9q12.4 7.9 25.7 14.3M40.1 216.3q-3.8 -7.9 -5.6 -16.5M75.3 138.3q.1 -3.5 -1 -6.8M74.6 296.8q-2.4 5.6 -2.3 11.7M77.5 291.8q-.7 2.9 -2.9 5M92.2 282q-5.2 -.1 -9.7 2.7M39.3 300q3.7 -7.2 7.5 -14.5M52.7 319.5q14.8 -.2 29.1 3.2M78.1 339.5q3.4 -3.8 6.1 -8.1M11.4 275.8q-5.2 -3.7 -11.5 -5M385.6 358q-2 -.7 -2.8 -2.7M413 353.1q8 2.6 16.3 1.6M403 396.9q4.6 4.8 10.4 8M479 407.5q14.9 -10.1 32.9 -9.6M476.3 421q2.3 6.9 4 14.1M476.3 421q1.7 -3.7 4 -7.1M312.2 397q3 2 5.2 4.8M305.7 359.3q-.8 5.8 -4.4 10.5M353.6 372.5q-5.5 10.8 -8.7 22.5M233.7 427.8q-1.5 -4.9 -3.9 -9.5M188.3 421q8.8 5.8 10.9 16.2M264.1 376.6q-5.5 11.4 -16.3 18.3M284.8 394.5q-7.6 2.5 -13.1 8.3M215.7 363.6q11.8 3.6 23.2 -1M238.9 362.6q3.6 -.7 6.9 -2.4M625.2 -18.7q-5.7 12 -7.3 25.2M613.9 30.1q5.6 1.7 8.5 6.8M454.9 358.6q1.1 -2.6 2 -5.2M434.2 362.4q10.2 -2.9 20.7 -3.9M476.3 421q-12.8 2.3 -25.7 .5M478.5 339.8q-.4 7.3 -2.5 14.4M475.6 331.9q-13.3 .1 -24.8 6.7M177.2 82.8q5.3 .3 10.3 -1.7M60.4 263.6q2.2 -1.3 4.8 -1.5M150.6 272.1q-15.8 -7 -32.4 -11.8M120.1 252.4q-.7 .2 -1.3 .2M169.1 247.8q-8.5 2.8 -14.7 9.2M84.2 249q17.2 9.7 35.9 3.4M396.4 222.9q-5.2 -4.4 -11.7 -6.2M407.5 202.3q5.5 .5 11 1M362.7 236.8q4.2 -.7 8 1.1M540.7 46q2.2 -.2 4.2 .5M510.2 87.5q18.5 -6.7 31.7 7.8M510.2 87.5q1.4 -13.1 1.1 -26.2M547.5 224.5q2.7 -6.7 6.8 -12.7M490.7 232q-.1 14.8 4.5 28.9M496.7 109.8q0 17.1 6.4 33.1M503.1 142.8q5.6 0 10.6 2.6M598 252.6q9.5 -5.2 19.3 -9.8M619.7 225.2q4.6 -1.3 7.7 -4.9M588.9 617q-3.6 -9.2 -9.4 -17.2M598.3 568.6q-10.2 -3.4 -20.6 -6.1M565.9 594.4q-5.7 -9.8 -.6 -19.9M278.7 593.8q5.5 -4 8 -10.4M278.7 593.8q-2.6 3.4 -6.5 4.9M246.3 576.6q-3.4 2.6 -4.6 6.8M306.7 613.9q7.7 -4.6 11.7 -12.6M274.2 542.7q1.7 .7 2.2 2.4M256.5 551.5q-.4 14.4 -10.2 25.1M350.1 527.7q-7 -8.4 -13.5 -17.3M364.8 530.7q-1.8 19.3 -19.7 26.8M325.6 570.3q8 -6.7 13.2 -15.8M32.9 583.7q8.2 4.8 15.4 10.9M48.3 594.5q-.9 -2.6 .3 -5M83.8 558.8q-11.7 2 -23 5.6M47.2 540.2q-1.9 -4.9 -7 -6M65.6 531.5q4.4 -11.6 5.7 -23.9M71.3 507.6q-10.7 -5.6 -21.6 -10.9M46.2 554q.6 -6.9 1 -13.9M21.9 544.2q9.3 -4.7 18.4 -10M27.3 500.4q6.6 3.5 14.1 2.9M74 503.7q-2 1.5 -2.7 3.9M191.2 584.2q11.9 8.8 24.6 16.3M206.8 562.3q-.7 -6.9 -3.8 -13.1M166 548.6q6.9 .5 12.7 4.3M223.3 562.1q-8.3 -1.8 -16.5 .3M239.9 579.4q-2.2 5.4 -3.9 10.9M208.1 520.3q-7.9 6.2 -15.3 12.9M106.7 540.6q3.8 -3.5 9 -3.2M115.7 537.4q11 3.5 20.4 10.3M182.9 529.3q-2.2 -5.1 -3.5 -10.5M149.8 530.2q2.8 -.3 5.6 -.3M165.6 341.5q4.6 1.8 5.4 6.6M156.9 381.4q.7 -6.2 4.4 -11.2M140.3 517q-7.6 3.6 -16 3.2M151.4 488.1q8.7 4.8 11.7 14.2M163.1 502.3q9.8 1.4 18.2 -3.7M208.1 520.3q-4.2 -4.3 -7.2 -9.4M68.3 209.6q-2.1 -14 -11.8 -24.3M82.6 178.3q-7.5 -.9 -15 -1.1M449 336.8q-.5 1.4 -.8 2.7M459.8 313.9q.4 -2.2 1.9 -3.9M460.7 274.9q4.4 8.3 5.5 17.6M390.8 287.6q-1 7.6 4.6 12.9M543.1 373q-9.1 7.5 -14.4 18M541.7 402.7q-7.5 -4.8 -13.1 -11.7M501.4 349.4q11.2 2.1 21.4 7.1M371.2 418.2q-.5 -9.6 -3.2 -18.9M368.1 399.3q-9.1 3.1 -17.9 6.9M337.1 428.3q-9.2 -6 -19.1 -10.8M345 415.2q-12.4 -8.5 -27 -11.9M347.6 413.5q-1.5 .5 -2.5 1.7M314.3 447.9q10.5 -4.2 21.7 -6.2M317.4 401.7q.3 .8 .6 1.6M367.2 499.1q.9 -6.4 -.6 -12.8M367.2 499.1q-11.9 -5.1 -24.8 -6.4M366.6 486.3q-1.7 -10.8 -9.6 -18.3M369.2 503.2q4.9 15.4 -6.7 26.7M322.4 477.1q6.1 -1.8 12.4 -.5M219.6 288.8q12.2 9.3 27.3 11.9M604.6 161.3q4.1 12.9 7.3 26M589.4 120q.2 -8.8 5.8 -15.7M593.4 39.4q-1.4 3.9 -1.8 8M563.3 74.7q10 .7 20 2.1M591.6 47.4q-3.9 14.8 -8.3 29.5M460.1 263.6q6.4 0 12.6 -1.3M462.1 232.8q6.7 3.5 14.1 4.8M432.4 218.5q-4.9 6 -7.3 13.4M531 299.3q1.3 -4.2 -1 -8M564.2 311.4q-9.9 6.7 -21.2 10.4M492.4 312.9q5.2 -3.2 8.4 -8.4M461.6 309.9q.9 -4.7 .4 -9.5M549.3 258.2q6.8 -9.6 13 -19.6M580 250.4q-3.9 -8.2 -12 -12.6M562.3 238.5q2.9 -.2 5.7 -.7M518.9 326.1q-8.3 .3 -14.3 6M503.5 344.4q-1.7 -2 -2.2 -4.6M593.1 637.7q-4.5 -6.8 -8.9 -13.7M480.3 435.1q1.8 11.3 -1.4 22.3M318.4 601.3q11.3 -4 23.2 -3.3M341.7 598q.9 1 1.5 2.1M424.9 615.8q9.3 21.2 23 39.8M371.4 602.8q-9.5 .3 -18.8 1.9M379.9 580.8q-2.4 .7 -4.4 2.2M227.6 624.1q16.1 3.3 32.2 .2M261.5 626.1q-.9 -.8 -1.6 -1.8M213.8 609.6q5 6.2 10.9 11.4M206.1 459.6q10.4 7.7 20.8 15.5M428.3 317.3q-9.6 -9.7 -22.6 -13.7M444.6 296.5q-7 5.5 -13.6 11.4M548.4 183.6q3.4 1.4 6.3 3.6M620.4 58.5q-16.2 12.3 -25.9 30M569.5 202.8q6.6 5.1 14.6 7.6M619.7 225.2q-4.6 -3.2 -9 -6.7M592.7 250.2q3.6 -8.8 3 -18.3M571.6 227.9q3.7 -1.8 7.8 -2.8M384.6 260q.6 2.3 2.4 3.9M370.7 237.9q7.1 5.8 16.2 7.6M396.4 222.9q3.1 6.3 7.6 11.7M551.8 523.6q-9.7 -.5 -18.8 2.9M455.2 611.8q-5.2 18.7 2 36.7M364.8 530.7q7 4.7 14.6 8.6M437.3 608.6q-.3 -9.3 -.1 -18.6M437.2 590q15.5 -.6 27.4 9.4M461 551.1q4.5 13.7 10.1 27M461 551.1q8.5 -1.6 16.5 -5.1M198.9 487.2q1.2 .7 2.6 .4M201.5 487.6q-5.4 -11.2 -8.4 -23.2M20.9 116.9q1.7 9.2 1.9 18.6M37.8 139.8q5.9 -9.4 12.2 -18.6M47.3 105.4q-.4 6.3 .9 12.6M534.9 468.5q-9.9 4.2 -20.6 5.5M511 488q-.7 -7.5 3.4 -13.9M521.4 510.5q-5.6 8.1 -14.1 13.1M475.3 576.7q6.2 -1.9 11.8 1.2M440.8 490.4q1.5 -2.9 1.7 -6.1M426.7 545.2q7 0 13.7 2.3M474.1 522q-.8 7.8 4.9 13.2M474.1 522q-8.3 6.6 -18.4 3.4M501.5 565.5q8.5 3.5 13.6 11.1M489.9 609.9q4.2 10 7.7 20.3M487.2 577.9q9.4 10.9 9.1 25.2M477.2 610.4q6.4 2 12.7 -.5M545.5 599.4q-12.8 1.6 -23.7 8.5M494.3 499.3q-10.7 -.9 -21.2 1.5M497.8 518.8q-2.4 -9.6 -3.5 -19.5" stroke="rgb(145,145,145)"/><path d="M102.3 -11.2q3.6 11.7 10.1 22.1M79.6 -4.5q.7 3.6 -2 6M137.3 19.5q-2.7 -4.4 -4.1 -9.4M77.5 1.5q-12.7 1.9 -25.5 1.9M77.8 18.6q-.5 -3.4 -.1 -6.7M77.8 18.6q2 8.8 2.2 17.9M43.3 46.8q6.1 -5 10.7 -11.4M27.3 14.9q6.5 -1.1 13.1 -.4M22.9 38.3q-9.4 10.4 -17.1 22M-1.2 72q4.3 -3.2 8.5 -6.6M227.5 -14q-.7 11.9 4.2 22.8M280.2 -2.6q7.3 -5 15.4 -8.5M5.6 103q-3.4 15.4 -4.6 31.1M-24.9 135.3q12.9 -2.4 25.9 -1.3M100 432.3q-6.8 -6 -13.4 -12.3M71.7 422.2q1 -13.3 -9.6 -21.4M343.2 29.7q.1 -1.5 .6 -3M339.6 -2.9q8 -1.5 16.1 -1M359.4 123.6q7.5 -10.5 18.4 -17.6M309.8 20.9q7.6 18.3 13.2 37.3M159.7 109.4q-9 -11 -15 -23.9M135.8 214.2q5.3 10.5 8.7 21.8M300.8 141.8q2.4 6.8 2.8 14M330.3 137.7q-13.6 -4.5 -27.6 -1.2M297.6 185q-8.3 2.8 -12.9 10.3M295 167.9q.8 8.6 2.6 17.1M232.8 137.4q4.1 1.3 8.2 2.4M294.9 240.9q-10.3 -6.5 -19.2 -14.9M262.2 230.2q7.1 -1.1 13.5 -4.3M248.2 231.3q-4.4 -1.6 -8.5 -3.7M239.7 227.6q-8.4 10.2 -20.1 16.3M428.2 -7.5q11.2 14.6 28.8 19.6M455 22.5q1.7 -5.1 2 -10.4M435.8 31.7q-1 9.4 -.9 18.8M18.1 625.9q1.9 -.7 2.8 -2.6M27.3 69.7q11.9 -3.3 24.2 -3.5M26.6 90q4.8 0 9.4 1M7.3 65.3q7.1 4.6 15.3 6.8M5.6 103q3.4 -1.4 6.9 -2.1M44.8 429.9q-15.2 -11.5 -32.6 -19.2M48.9 408.6q5.4 -1 10.1 -4M24.3 397.2q3.3 -7.8 5.1 -16.1M18.1 625.9q1.5 -17 -9.4 -30.2M65.9 452.7q.3 2.2 2 3.6M100 432.3q.3 2.2 1.8 4M46.5 359.5q5.1 4.1 9.7 8.6M46.5 359.5q-12.7 -2.8 -24.4 3M22.1 362.5q-1 .1 -2 -.3M266 468.7q7.6 -3.7 13.8 -9.4M279.8 459.3q2.4 -4.9 2.5 -10.3M351.4 369.4q-14.4 1.2 -27.3 -5.4M323.9 362.8q-.2 .7 .1 1.3M391.1 82.4q11.5 1.4 21.9 6.6M399.8 51.1q0 -4.2 -1.5 -8.1M391.1 82.4q-3.6 -6.8 -5.2 -14.2M417.9 60.9q5 5.6 7.2 12.9M356.2 76.6q7.6 -7.1 15.2 -14.1M327.8 51q12.3 14.9 28.4 25.6M323.5 303.2q12.1 -6.5 22.4 -15.6M265 125.6q.7 -4 1.6 -8M266.6 117.5q7.9 -1.8 15.8 .2M303.4 136.5q-16.4 -2.8 -21.1 -18.8M173.2 159q-2.4 -1.4 -4.4 -3.4M185.2 194.4q-4.6 8.8 -5.9 18.6M204 241.4q0 -5.5 -3.9 -9.4M166.6 238.4q8.2 -8.2 18.7 -12.9M150.8 207.7q-3.3 -9.3 2.8 -17M335.2 238.9q.2 -5.9 2.2 -11.5M318.5 219.4q10.2 2.2 18.9 8M396 121.4q-5.6 7.4 -10.9 15.1M385.1 136.5q-12.2 -4 -25 -3.5M562 395.8q-11.2 .3 -20.2 7M590.6 381.7q2.3 4.1 4.8 8.1M566.2 378q-.5 -.4 -1.1 -.7M640.2 481.4q-11.4 -1.5 -21.9 3.2M638.9 461.3q-5 -5.7 -11.2 -10.2M283.4 531.3q12.1 -.4 22.8 -6.2M153.9 436.6q-6.1 2.7 -12.7 3.9M134.6 627.4q17.2 14.8 38.6 22.8M62.9 71.2q8.5 10.8 4.4 23.9M178.2 22.5q-1.3 -15.2 -.1 -30.4M196 45.4q8.8 -3.8 17.7 -7.2M273.9 14.6q.5 1.4 1.9 1.9M245.2 6.8q2 2.9 4.5 5.3M52.7 319.5q-.5 -5.2 -1.2 -10.5M39.3 300q-7.3 7.5 -17.7 6.8M51.9 266.6q4.5 -.9 8.5 -3M47 274.1q-10.9 -3.8 -22.1 -6.6M371.3 340q.4 -4.7 3.7 -8.1M370.3 302q-2.1 2.7 -5 4.5M308.1 424.3q-11.6 4.4 -19.7 -5.1M282.3 449q1.8 -2.6 4.3 -4.6M391.9 399.9q-8.7 -3.7 -17.8 -6.3M436 398.6q4.9 13 14.6 22.9M170.5 442.1q3 -12.7 9.8 -23.9M207.8 409.5q-10.3 4.8 -19.5 11.5M236.4 403.5q-11 -6.6 -21.3 -14.3M209.5 387.8q-1.9 5.1 -2.8 10.5M235.8 461q7.7 -4.8 16.6 -6.3M233.7 427.8q-5 9.6 -12.9 17M301.2 369.8q-10 .6 -16.7 7.9M204 241.4q-1.6 1.4 -2 3.5M451.7 70.9q6.9 6.4 15.4 10.6M488.3 69.6q-.4 2.1 -.8 4.2M435.7 112.1q3.3 -3.2 4.6 -7.7M445 131.6q10.3 1.9 20.8 2.9M465.7 134.5q.7 -12 10.7 -18.6M631.2 167.5q-4.9 10.3 -3.4 21.7M627.8 189.2q3.5 2.2 6.4 5.1M282.1 59.4q-15.7 10 -28 23.9M217.6 155.6q-13.1 -8.6 -26.1 -17.2M173.2 159q1.4 -10.7 7.8 -19.3M191.5 138.4q-5.1 1.6 -10.5 1.3M311.3 96.1q-5.6 .8 -11.2 .5M135.1 169.4q-8.9 1 -13.9 8.5M103.8 146.5q1.3 -3.9 4.3 -6.8M142.1 173.2q-3.7 -1.6 -7.1 -3.8M131.2 216.5q-7.8 -16.3 -21.1 -28.7M118.7 252.5q-7.5 -12.6 -16.6 -24M110.1 187.9q-2.2 10.7 -8.6 19.6M121.6 310q.5 -7.1 -2.6 -13.5M120 288.7q.3 4 -1.1 7.7M97.9 272.5q8.6 -2.3 17.5 -3.3M92.2 282q1.7 10.6 8.1 19.3M555.4 2.8q10.8 1.9 21.5 -.8M581.8 -13.1q-1.4 7.9 -4.8 15.1M577.9 28.9q.7 -4.9 3.2 -9.3M572.6 30.4q-9.9 -2.1 -19.9 -.6M475.3 -3.5q5 .4 9.3 3M483.4 32.7q2 -12.6 12.2 -20.4M457 12.1q8.8 -8.2 18.3 -15.6M409.3 118.6q4.3 8.9 6.1 18.6M465.7 134.5q0 10.3 5.9 18.8M458.2 202.1q-2.5 3.8 -4.3 7.9M592.7 310.9q2.6 -12.2 .9 -24.6M593.6 286.3q5.6 -5.8 13.3 -7.8M658.2 325.5q-17.4 -4.4 -34.8 -8.4M644.9 606.1q-11.1 -3.1 -22.6 -1.5M610.7 637.1q2.9 -10.9 -1.2 -21.5M648.6 510.2q-15.4 -4 -31.3 -5M659.8 548.6q-19.2 7.4 -33.8 21.9M607.8 534.6q5.1 10.1 11.8 19.3M617.7 604.6q-10.3 -9.3 -19.5 -19.6M584.9 465.4q.4 5.9 -2.4 11.1M320 570q-3.1 7.4 -6.7 14.5M313.3 584.5q-10.6 -4.6 -21.8 -7.2M84.4 575.7q-4.7 9.1 -12.2 16M77.5 600.8q-4.1 -3.7 -5.3 -9.1M133.6 579.7q-19.2 -13.3 -36.8 -28.6M133.6 579.7q-11.5 4.8 -23.6 7.7M96.9 551.1q-6.1 2 -12.4 3.1M122 659.1q9.3 -13.3 12.8 -29.1M134.6 627.4q.1 1.3 .2 2.6M64.5 623.4q-1.8 -.6 -3.7 -.2M64.5 623.4q3.2 -13.2 13.1 -22.6M272.9 537.8q-17.5 -4.3 -23.7 -21.1M271.4 491.2q-2.4 -1.1 -4.5 -2.7M249.5 517.4q12.7 -12 17.4 -28.9M266.9 488.5q-1.8 -1.8 -3.9 -3.3M84.1 469.8q1.9 -.7 3.9 -.6M84.1 469.8q-8.4 -6.4 -16.2 -13.4M299.5 642.6q-1.8 -12.5 .9 -24.8M294.7 614.8q-17.4 3.3 -33.2 11.3M34.5 232.3q4.5 -1.3 7.2 -5.1M92.6 151.6q-9.4 -5.7 -17.3 -13.3M73.4 122.3q1.4 4.5 .9 9.2M74.6 296.8q12.5 3.7 23.7 10.5M81.8 322.7q1 4.4 2.4 8.6M125.3 341.7q1.3 3.8 1.1 7.8M21.6 306.7q-3.9 -2.1 -7.9 -4.3M24.9 267.6q-5.6 6 -13.5 8.3M-8.7 250.5q4.7 10 8.6 20.3M353.6 372.5q8.7 5.8 18.9 8.3M375 331.8q10.3 -5.3 21.5 -8.4M406.4 340.5q-12.8 5.8 -23.6 14.9M370.3 302q10.4 4.3 21.6 4.8M409.1 364.6q1.9 -5.7 3.9 -11.5M413.4 377.3q9 1.1 18.2 1.5M406.4 340.5q4.3 5.8 6.6 12.7M407 384.6q3.3 -3.6 6.4 -7.2M515.6 433.8q2.1 -6.5 5.7 -12.4M308.6 470.5q7.9 1.2 13.9 6.6M322.4 477.1q1.8 12.9 -4.8 24.2M414.3 457.8q1.2 -14.5 7.1 -27.9M401.7 465q-1.7 -17.7 -13.4 -31.1M401.7 465q-2.6 1.9 -3.9 4.9M220.8 444.8q-4.5 -.2 -8.9 .1M199.2 437.2q2.5 .6 5 .9M237.8 376.7q2.9 10.2 10 18.1M249.4 355.3q-1.9 2.4 -3.6 4.9M615.2 7.1q1.3 -.4 2.7 -.5M615.2 7.1q2.1 11.7 -1.3 23M636.6 209.6q-4.4 5.5 -9.2 10.7M458.9 379.9q-1 -10.9 -4 -21.4M442.8 390.6q9.8 -2.7 16.1 -10.7M478.5 339.8q-1.2 -4 -2.9 -7.9M185.1 112.1q9.9 2.8 19.3 6.8M87.8 234.3q-6 -8.3 -15.4 -12.2M65.2 262.1q-8.7 -14.8 -6.8 -31.8M82.9 252.3q.9 -1.5 1.3 -3.3M41.7 227.2q8.5 .6 16.7 3.1M154.4 256.9q-4.2 7 -3.8 15.2M118.2 260.3q1.1 -3.9 2 -7.9M155.1 280.7q-3.5 -3.6 -4.5 -8.6M144.5 235.9q-.1 6.3 -3 11.9M149.6 288.8q2.7 -4.1 5.5 -8.1M385.1 136.5q3 12.2 5.6 24.4M390.7 160.9q-1.8 -.1 -3.4 .5M364.6 182.2q2.3 -.6 4.6 .3M365.8 212.3q-7.7 -.3 -15.4 -1.7M350.4 210.6q-1.7 -4 -3.8 -7.8M348.3 222q2.2 -5.5 2.1 -11.4M524.8 62.7q10.2 -7.9 20.1 -16.1M533.6 17.4q-7.2 8 -14 16.5M561.8 67.5q-7.6 -11.1 -16.8 -21M502.8 228.1q11.6 -6.9 23 -14.1M525.8 214q6.1 6.1 10.2 13.7M533.7 246q-6.1 1.4 -12.2 2.6M483.2 196.4q12.3 13.5 11.9 31.8M525.5 207.8q12.6 .1 22.2 -8.1M547.7 199.6q1.3 7.2 6.7 12.2M508.1 259.3q-6.5 .5 -12.9 1.5M556.7 132.5q.8 .2 1.6 -.2M558.3 132.3q-16.4 17.1 -24.1 39.5M515 193.4q11.6 -9.4 20.1 -21.8M535.1 171.6q-11.2 -1.8 -19 -10M491.8 177.8q-3.4 -11 -8.6 -21.4M513.6 145.4q11.5 -16.4 29.9 -24.4M539.6 115.9q2.7 2 3.9 5.1M558.3 132.3q-6.4 -6.9 -14.7 -11.2M576.5 324.7q-1.5 1.6 -2.1 3.6M551 370.7q2.8 -12.2 4.5 -24.7M579.4 599.8q-6.4 -3.6 -13.5 -5.4M592.1 534.4q-5.5 -3.1 -10.3 -7.2M313.3 584.5q1.4 8.8 5.1 16.8M338.8 554.5q3 1.9 6.3 3M308.1 552.5q3.1 -8.3 8.7 -15.2M317.6 501.4q5.5 1.7 8.1 6.9M31.7 566.1q-.1 8.8 1.2 17.5M31.7 566.1q4.3 -9.6 14.5 -12.1M15.6 554.8q7.5 6.4 16.1 11.4M45 609.4q3 -7.1 3.3 -14.9M-20.3 540q13.1 -6.5 25.4 -14.2M5.1 525.7q2.4 -1.9 5.1 -3.3M10.4 484.2q7.8 8.7 16.9 16.2M27.3 500.4q-2.6 11.4 -10.8 19.7M49.7 496.7q-4.4 3 -8.3 6.6M16.5 520.1q9.4 6.9 20.6 10M191.9 633.4q10.3 -12.5 21.9 -23.8M178.7 552.9q6.5 -10.1 13.3 -20M203 549.2q-2.8 -9.5 -10.3 -15.9M192.8 533.3q-.4 -.2 -.8 -.4M215.9 600.5q10.5 -4.3 20.1 -10.2M155.4 529.9q4.8 2.9 9.3 6.2M163.6 506.6q6.1 8.4 15.8 12.1M175.4 355.2q-2.2 -3.6 -4.5 -7.1M121.1 488.9q10.9 -1.3 20.4 4.2M163.1 502.3q.3 2.1 .5 4.3M34.5 199.9q2.8 -4 1.6 -8.8M55.5 157.7q5.4 10.1 12 19.5M460.7 274.9q-12.2 3.6 -24.9 5M466.2 292.6q-4.4 2.7 -4.1 7.9M376.7 283.5q4.4 -.5 8.9 -.6M385.6 282.9q3.4 1.5 5.2 4.7M391.9 306.8q2.2 -2.9 3.5 -6.3M528.7 391q-5.7 1.5 -11.2 -.7M522.9 356.5q-4.5 11.5 -7.8 23.3M517.5 390.3q-1 -5.3 -2.4 -10.5M501.4 349.4q-1.9 10.8 -7.6 20.2M493.9 369.6q-4.6 -.2 -9.2 .6M371.2 418.2q-4.3 6.3 -11.5 8.7M350.2 406.2q-.9 3.8 -2.6 7.3M344.9 395q2.8 5.5 5.3 11.2M337.8 440.2q8.6 7.8 19.2 2.8M342.4 492.7q-3.9 -8 -7.6 -16.1M245.8 360.2q-15.4 -13.1 -18.9 -33M215.9 282.6q3.7 2 3.7 6.2M246.8 300.7q1.7 1.4 3.1 3.1M604.6 161.3q3.2 -1 5.6 -3.3M589.4 120q-10.9 4.8 -20.4 12.1M569 132.1q8.2 12.6 14.2 26.5M583.2 158.6q13.5 -.9 27 -.6M435.8 279.9q-1.9 -6.2 -2.5 -12.6M530.1 291.2q2.6 -6.4 0 -12.7M569 288.8q-19.6 -1.9 -38.9 2.5M549.3 258.2q5.9 8.7 15.6 12.6M543.1 257.1q3.3 -.6 6.1 1M538.4 332.1q-.3 .6 -.6 1.2M543 321.8q-4.2 4.3 -4.5 10.2M555.5 346q-8.8 -6.5 -17.7 -12.8M577.7 562.5q-1.2 -.3 -1.8 -1.3M227.6 624.1q-1.7 -1.3 -2.9 -3M224.7 621q12.7 -3 24.3 -8.9M249 612.1q6.8 5.2 10.5 12.8M259.5 624.9q.2 -.3 .4 -.7M272.2 598.7q-6.1 13.3 -12.7 26.2M224.3 498.9q2.6 -6.5 -.6 -12.8M12.7 163.8q6.5 4.8 14.4 5.7M55.5 157.7q-3.8 .5 -7.4 -.7M27.1 169.5q11.8 -4 21 -12.5M424.3 288.5q-5.2 -1.7 -10.7 -2.1M418.6 325q4.9 -3.8 9.7 -7.7M207.5 352.9q5.1 -8.1 4.9 -17.7M171 348.1q5.8 -11.3 12.9 -21.9M611.8 187.3q-3.6 3 -6.4 6.7M600.5 209.7q4.8 4.7 10.2 8.8M386.9 245.5q7.9 -6.6 17.2 -10.9M386.9 245.5q.6 7.5 -2.2 14.5M404.1 234.6q6 .4 11.9 1.7M555.1 600.9q2.5 10.1 -.9 20M584.1 624q-5.6 5.1 -13.2 5.6M570.9 629.6q-5.3 16.3 .1 32.5M549.4 548.2q-4.2 3.9 -8.2 8M538.1 563.4q-.4 -4.4 3.1 -7.2M561.5 496.8q-8.5 2.7 -15.6 8.1M424.9 615.7q7.3 -1.7 12.4 -7.1M464.6 599.4q-.2 -10.8 5.1 -20.2M386.5 614.3q-1 1.3 -1.8 2.7M198.9 487.2q-9.3 -.8 -17.6 3.3M181.2 490.5q-1.8 -12.5 -11.2 -20.9M22.8 135.5q7.9 .9 15 4.4M48.2 118q1.6 1.2 1.7 3.2M12.5 101q3.4 8.4 8.4 15.9M443.2 480.2q18.1 -4.6 36.3 -9.1M510.3 446.9q-2.8 3.7 -4 8.2M514.3 474q-3.5 -9.7 -8 -18.9M502.1 558q4.1 -6.2 6.2 -13.3M477.5 546q1.9 -5.2 1.5 -10.8M502.1 558q-.8 3.7 -.6 7.5M468.3 604.2q5.6 1.4 8.8 6.3M369.2 503.2q12.9 -1 25.7 .8M379.4 539.3q12.3 -4.8 21.5 -14.2M440.8 490.4q-10.4 -.4 -18 6.6M449.5 545.7q4.9 -9.5 6.2 -20.2M400.9 525.1q9.4 2.3 18.9 4.7M440.8 490.4q4.8 9.3 9.1 18.8M474.1 522q2.2 -1.6 2.7 -4.3M531 573q14.8 9 14.5 26.4M497.6 630.2q8.2 .4 16.2 1.8M469.9 501.9q-.6 -3.3 -1.9 -6.4M442.4 484.3q10.6 10.6 25.6 11.3M452 517.8q6.8 -10.4 17.9 -15.9" stroke="rgb(170,170,170)"/><path d="M112.4 10.9q10.2 -5.7 20.8 -.8M106.4 17.4q-3.4 9.1 -5.4 18.5M88.2 70.2q-10.7 -.2 -21.5 -.1M66.8 70.1q-2.7 -13.5 -.4 -27.1M53.9 35.3q7.7 1.5 12.4 7.7M16.9 31.8q9.3 -5.9 10.4 -16.9M43.3 46.8q-6.3 -.9 -12.7 -1.7M138.9 4q7.4 .5 14 -2.9M100 432.3q3.6 .7 7.3 .3M62.2 400.7q12.4 -2.2 25 -3.6M381 12.1q-2 -7.7 4 -12.9M378.3 28.7q1.1 -8.3 2.7 -16.6M343.8 26.6q8.4 -10.9 14 -23.4M302.2 347.7q7.5 -5.8 9.1 -15.2M343.5 333.7q1.6 -.1 3.2 0M327.8 51q9.1 -3 15.7 -10M327.8 51q-2.1 3.8 -4.8 7.1M343.2 29.7q.1 5.7 .3 11.4M150.8 207.7q-6.2 6.1 -15 6.4M144.5 235.9q10.6 7.1 22.9 3.8M312.7 202.9q-4.6 -10.5 -13.2 -18M313.4 207.3q-17 6 -35 4.4M256.9 163.7q-16.3 5.1 -27.6 18M268.2 168.9q-3.7 6.9 -3.3 14.7M264.9 183.7q-4 4.3 -7.1 9.4M284.7 195.2q-10.5 -4.8 -19.9 -11.6M324.1 270.1q-2.8 -9.3 -5.4 -18.7M228.7 204.7q2.1 -3.1 2.7 -6.8M257.4 272.7q-9.1 -6.8 -17.5 -14.4M417.5 9.3q-.6 6.4 2.7 11.8M420.2 21.1q9.6 2.6 15.6 10.6M456.2 56.5q1.8 -.7 3.1 -2M20.9 623.3q10.7 11.5 25.2 17.7M88.2 70.2q7.3 3.5 14.7 6.4M103 76.6q6.7 -4.8 14.9 -5.3M144.8 85.5q-4.4 -1 -8.3 1.1M117.9 71.3q12.7 3.5 18.6 15.3M62.9 71.2q2.2 .4 3.8 -1M-13.8 244.1q11 -10.6 14.5 -25.5M44.8 429.9q2.1 5 4.8 9.7M49.6 439.6q-16.2 4.1 -28.6 15.3M1.3 418.1q1.5 -.4 3 -.8M11.7 452.1q4.8 .9 9.3 2.7M62.2 400.7q-2 1.6 -3.2 3.9M48.9 408.6q-3.8 10.3 -4 21.2M24.3 397.2q-5.2 7.6 -12.1 13.5M-28.1 471.6q17.3 -15.1 39.8 -19.6M46.4 481.7q11.6 -12 21.5 -25.4M46.4 481.7q-6.6 -14.8 -22.7 -16.4M80.5 380.6q-10.7 2.6 -20.2 8M56.2 368.1q12.8 -5.1 25.7 -10.2M56.2 368.1q.3 5.2 -.1 10.5M87.1 397.2q-.1 -.7 .4 -1.2M56.2 336.3q11 1.4 21.9 3.2M343.5 333.7q-7.8 15.9 -19.6 29.1M298.1 349.5q3.6 5 7.6 9.8M323.9 362.8q-8.7 -4 -18.3 -3.5M409.3 118.6q4.1 -4.7 9.4 -8M418.7 110.7q-.6 -11.4 -5.7 -21.6M378.3 28.7q2 2.3 4.6 3.6M434.9 50.5q-10.2 2.4 -17 10.4M356.8 89.4q3 -6.5 -.6 -12.8M136.5 86.6q-.1 11.9 -5 22.8M206.6 208.7q-9.6 -8.7 -21.3 -14.3M213.1 168.8q-10.8 3.5 -21.3 7.5M185 191.2q.3 1.6 .2 3.3M166.6 238.4q.4 .7 .8 1.3M312 277.7q-11.7 3.7 -22.8 8.9M324.1 270.1q7.8 -.4 15.4 -2M339.5 268.1q3.7 7.4 7.5 14.7M311.1 273.4q.2 2.2 .9 4.3M343.3 258q7.1 -2.2 14.1 -4.9M337.4 227.4q5.4 -2.8 11 -5.4M346.9 282.8q9.1 -1.9 18 -5M312.7 202.9q8.9 -5.6 19.4 -6.4M360.7 141.5q-1.7 -4.2 -.6 -8.5M595.4 389.8q13.6 -8.5 28.2 -15.2M623.6 374.6q-3.9 -11 -6.2 -22.5M579.8 411.3q-1.2 10.2 -7.6 18.2M654.2 420.9q-10.9 8.9 -24.9 8.9M609.6 471.6q.2 -7.8 4.5 -14.4M627.8 451.1q-5.5 6.1 -13.7 6M602.7 444.8q3.7 8 11.4 12.3M602.7 444.8q2 -9.9 8.5 -17.7M298.5 483.2q-.5 9.6 2.7 18.7M144.3 605.3q-2.4 12.1 -9.7 22M95.1 121.3q2.1 3.6 6.1 4.9M131.5 109.4q-3.7 -1.5 -7.7 -2M93.7 98.6q-12.2 -.3 -24.1 1.9M178.2 22.5q2.5 2 5.1 4.1M203.6 -3.3q-1.5 6.7 .6 13.2M162 36.7q8.1 -2.9 16.2 -6M231.2 10.8q.4 -1 .5 -2.1M246 45.1q4.6 -1.7 9.5 -1.3M290.3 29.8q-7 -6.9 -14.5 -13.4M12.5 202.4q-13.6 -9.7 -18.3 -25.7M16 341.6q-9.8 -1.9 -19.2 -5M16 341.6q6 -4 10.7 -9.4M49.9 334.1q2.4 -7.1 2.8 -14.6M47 274.1q-.6 5.7 -.2 11.3M34.5 232.3q-4.3 -.5 -8.6 .2M355.8 309.1q5.1 -.1 9.5 -2.6M286.6 444.4q10.8 -.3 20.5 -5.2M307.1 439.2q.8 -7.4 1 -14.9M288.4 419.2q-2.7 -.4 -5.1 .7M265.7 430.1q2 -4.6 4.4 -9M314.3 447.9q-4.5 10.9 -5.7 22.7M314.3 447.9q-4.8 -3.4 -7.2 -8.7M450.6 421.5q-1.1 2.5 -.5 5.1M206.7 398.3q-1.1 5.8 1.1 11.2M217 417.5q6.5 -.5 12.8 .8M253.3 441q-12.8 -2.1 -19.6 -13.1M294.7 402.4q8.9 -2.2 17.4 -5.4M199.3 250.6q-12.1 10.5 -14 26.4M438.3 76.9q-3.1 14 2 27.5M487.6 73.8q-9.7 5.3 -20.5 7.6M435.7 112.1q5.8 9.2 9.3 19.5M476.5 115.9q-4.7 -5 -10 -9.5M497.7 95.5q-3.8 6.5 -8.1 12.7M281.7 58.4q.2 .5 .4 1M232.8 137.4q-6.1 -8.3 -6.4 -18.5M226.4 118.9q6.2 -9.2 7.4 -20.2M259.6 95q-1.6 -2.6 -4 -4.6M196 45.4q-1.7 9.4 .9 18.6M196.9 64q14.3 4.8 29.4 3.7M233.8 98.8q-8.7 -3.5 -14.6 -10.9M333.5 123.4q-6.4 -5 -13.2 -9.4M343.2 95.7q-11.1 7.9 -22.9 14.5M343.2 95.7q1.8 -.3 3 -1.6M291.1 92.2q3.9 3.5 9.1 4.3M259.6 95q15.9 .1 31.5 -2.7M292.3 109.5q6 -5.2 7.9 -12.9M132.2 138.5q-12 2.9 -24.1 1.2M131.2 216.5q2.1 -1.6 4.7 -2.4M111.7 184.1q-12 -4 -24.4 -6.4M124.9 221.9q-9.3 -1.5 -18.3 -3.9M82.6 178.3q2.2 -1.5 4.8 -.6M131.2 216.5q-2.5 3.5 -6.3 5.4M151.9 309.2q-1.8 3.8 -5.6 5.6M125.3 341.7q-4.6 -8 -13 -12M125.3 341.7q11.8 -.4 16.5 -11.2M178.9 279.4q3.2 -1.4 6.5 -2.4M202.1 244.9q-13.5 4.7 -27.8 5.9M180.5 281.5q-1.4 -15.7 -6.3 -30.6M608.9 5.8q-12.8 -5.1 -19.1 -17.3M581 19.6q-4.2 -8.3 -4.1 -17.7M550.2 20.7q-7.9 -3.4 -16.5 -3.3M545.7 -8.5q-7.9 9.1 -19.3 13M533.6 17.4q-1.5 -7.6 -7.2 -12.9M621.7 292.3q-7.6 -6.6 -14.7 -13.9M646.7 285.7q-13 1.4 -25 6.7M630.6 633.5q-11.1 -10 -18.4 -23.1M612.2 610.4q3.2 -2.5 5.5 -5.8M612.2 610.4q-2 2.3 -2.7 5.2M615.9 524.5q-2.1 -9.9 1.5 -19.3M583.5 450.8q-6.5 -5.1 -11.6 -11.6M595.3 501.4q7.6 -4.3 16.3 -5.1M595.3 501.4q-3.3 -14 -12.8 -24.9M308.1 552.5q-9.5 .4 -18.7 3.1M6.3 589.1q-.3 -2.1 .2 -4.1M88.1 607.9q7.8 -.9 15.1 -3.6M84.4 575.7q13.9 3.6 25.7 11.7M103.2 604.2q3.9 -8.2 6.9 -16.8M110 619.9q-11.3 5.3 -21.1 13.1M64.5 623.4q14.1 4.2 22.3 16.4M274.2 542.7q-7.6 7 -17.7 8.7M209.5 387.8q-1.1 -4.3 .4 -8.5M193.1 380.5q8.4 -1 16.8 -1.1M181 389.1q-12.3 -3 -24.1 -7.7M143.6 394.5q-2 -3.6 .5 -6.8M101.7 436.3q3 9.7 4.9 19.7M222.6 529.5q-8.4 -3.1 -13 -10.7M84.2 331.4q6.4 -2.1 12.8 -4.3M112.3 329.7q-7.8 -.4 -15.3 -2.7M.9 305.5q-4.5 -.8 -8.8 -1.8M351.4 369.4q1.4 1.3 2.3 3M371.3 340q6.6 7.1 11.5 15.4M409.1 364.6q1.9 6.5 4.3 12.7M429.3 354.8q3.9 2.9 4.9 7.7M442.8 390.6q-4.2 -7.2 -11.2 -11.8M480.3 414q-1.4 -3.1 -1.3 -6.4M515.6 444.8q2.1 -5.5 0 -11M540.2 423.8q-10.1 3.6 -18.9 -2.5M412 429.4q-11.8 2.8 -23.9 3.9M211.9 444.9q-4.5 -2.7 -7.8 -6.9M262.4 409.6q4 -4.3 9.3 -6.8M262.4 409.6q-7.1 -4.6 -14.2 -9.2M248.1 400.4q-.9 -2.7 -.3 -5.5M215.1 389.1q12.3 -4.5 22.7 -12.4M257.2 360.3q-4.9 -.9 -7.8 -5M257.2 360.3q12.4 -10.6 28.7 -9.1M260.8 313.1q1.6 7.9 4.3 15.6M183 360.5q11.1 -7.6 24.5 -7.6M458.9 379.9q10.4 -4.4 18.5 3.5M477.5 383.4q3.5 -6.7 7.1 -13.2M479 407.5q1.2 -12.2 -1.5 -24.1M450.8 338.6q3.6 7.2 6.1 14.8M185.1 112.1q-6.6 -13.9 -8 -29.3M219.2 87.9q-7.4 2.4 -14.8 4.8M73.4 215.8q4 -5.4 10 -8.5M97.9 272.5q-7.6 -10.1 -15 -20.2M141.5 247.8q-11.2 3.2 -22.7 4.8M118.7 252.5q.1 0 .1 .1M380.2 213.9q-3.5 -11.8 5.1 -20.6M415.4 137.3q-11.6 10.4 -17.8 24.7M397.6 162q-3.5 -.1 -7 -1.1M368.9 183.6q8.1 15.4 -3.1 28.7M332.1 196.4q7.5 2.8 14.6 6.4M370.7 237.9q7.6 -10.2 14.1 -21.2M524.8 62.7q-6.8 -.2 -13.5 -1.4M500.8 54.7q2.2 -.4 3.6 -2.1M563.3 74.7q-.8 -3.6 -1.5 -7.2M563.3 74.7q-6.4 6.4 -14.4 10.8M572.6 30.4q-14.7 15.9 -10.8 37.1M510.2 87.5q-6.7 3.4 -12.5 8M502.8 228.1q9.7 9.9 18.6 20.6M525.5 207.8q-6.5 -6.3 -10.5 -14.4M508.1 259.3q8.1 -3.5 13.3 -10.7M539.6 174.4q-2.7 -1.3 -5.5 -2.6M535.1 171.6q-.5 .2 -1 .2M483.2 196.4q-13.7 -2.4 -25 5.7M471.6 153.2q5.4 3.2 11.6 3.2M516.2 161.6q.7 -8.4 -2.5 -16.2M574.4 328.3q-5.7 6.6 -5.1 15.3M617.4 352.1q-5.2 -.2 -9.1 -3.7M555.5 346q6.9 -1.4 13.8 -2.4M598 252.6q4.1 13.3 8.7 26.5M606.7 279q8.7 -12.5 22.8 -18.3M617.3 242.7q6.8 6.7 14.8 12M606.9 278.4q-.1 .3 -.3 .6M593.6 286.3q-11.8 -4.6 -24.4 -4.2M564.9 481.3q1.6 8.5 -3.5 15.5M286.7 583.4q-9.3 -7.8 -20.2 -13.1M266.4 570.3q-10.2 2.8 -20.1 6.3M276.4 545.1q-3.9 13 -10 25.2M331.8 541.7q8.4 -8 18.3 -14.1M325.8 508.3q5.4 1.1 10.8 2M320 570q2.9 -1.2 5.6 .3M60.9 564.4q-8.2 -4 -14.7 -10.4M37.1 530q3.5 -13.2 4.3 -26.8M106.7 540.6q-3.7 6.4 -9.8 10.6M46.4 481.7q2.5 7.3 3.3 14.9M74 503.7q2.3 -17.8 10.1 -34M185.3 573.3q-1.5 -10.8 -6.6 -20.4M185.3 573.3q.7 1.3 1.1 2.7M186.4 576q11.1 -5.5 20.4 -13.7M135.8 582.3q2.5 -4.7 5.3 -9.2M208.1 520.3q.9 -.6 1.5 -1.5M164.7 536.1q9.6 -2.1 18.1 -6.9M143.8 355.8q8.8 7 17.4 14.3M143.8 355.8q9.6 -9.1 21.8 -14.4M161.2 370.2q4.6 -9.9 14.2 -15M126.4 349.5q8.2 4.6 17.4 6.3M183 360.5q-3.8 -2.6 -7.5 -5.3M121.1 488.9q-3 2.7 -6.4 5M108.1 502.9q7.2 9.5 16.2 17.3M108.1 502.9q3.9 -4.1 6.7 -9M151.4 488.1q-4.9 2.5 -9.9 5M179.4 518.7q3.7 -3.3 6.3 -7.5M181.4 498.6q1.9 6.4 4.3 12.7M429.3 354.8q.6 -4.9 -.9 -9.5M449 336.8q5.2 -11.6 10.8 -23M440.1 281.9q4.3 6.6 4.5 14.5M527 357.6q-2.1 -.3 -4.1 -1.1M551 370.7q-3.8 1.7 -7.9 2.3M365.7 447.3q-4.8 -1.1 -8.7 -4.2M318 417.4q2.6 -7 .1 -14.1M336 441.7q1 -.6 1.8 -1.6M308.1 424.3q5.6 -2.5 9.8 -6.9M369.2 503.2q-1.9 -1.6 -2 -4.1M399.6 476.5q-15.7 7.5 -33 9.9M336 441.7q8.1 15.2 7 32.4M226.9 327.2q13.8 -9.5 23.1 -23.5M621.7 150.2q15.6 -9.5 30 -20.8M610.2 158q2.4 -3.6 3.8 -7.7M446.9 250.9q1.3 -1.6 2.6 -3.2M485.2 282.7q-4 -8.3 -3.3 -17.6M490.7 232q-6.7 4.2 -14.5 5.7M531 299.3q-5.7 2 -11.4 3.9M530 278.5q-9.6 1.6 -17 -4.8M513.1 273.7q-7 9.2 -14.1 18.4M499 292.1q3.1 5.8 1.9 12.4M477.4 317.1q7.7 -1.4 15 -4.2M564.9 270.8q7.6 -10.2 15.1 -20.4M592.7 250.2q-6.3 1.2 -12.7 .2M504.5 332.1q-.6 4.3 -3.2 7.8M537.2 336.8q-17.5 1 -33.7 7.6M492.4 312.9q2.8 11.6 12.1 19.2M519.7 303.2q-4 11.4 -.8 23M450.1 426.6q-1.4 12.7 .2 25.3M549.4 548.2q6.9 -8.5 12.1 -18.2M354.8 570.7q1.1 1.7 2.6 3.2M332.4 628.2q5 -14.2 10.7 -28.1M343.1 600.1q4.7 2.4 9.5 4.6M224.3 641.5q2.8 -8.5 3.3 -17.4M235.8 461q-4 7.3 -9 14.2M263 485.1q-18.8 -5.9 -38.2 -2.5M1 134.1q5.4 3.3 10.6 7M431 311.7q-1.9 1.8 -3.3 4M459.8 313.9q-14.1 -5.9 -28.8 -2.2M440.1 281.9q-9.3 -.1 -15.8 6.5M407.4 278.5q2.8 4.2 6.1 7.9M433.3 267.3q-10 -.1 -19.6 -2.5M212.4 335.1q-14.2 -4.5 -28.5 -8.9M183.9 326.2q-1.4 -6.6 -3.3 -13M226.9 327.2q-5.6 3.4 -12 5M151.9 309.2q14.9 -2 28.7 4M587.5 186.1q-3.3 -7.3 -8 -13.6M571.7 174.7q-7.7 7.4 -17.1 12.5M554.6 187.2q5.8 10.1 16.6 14.5M635.7 65q-10.6 10.2 -10.8 24.8M635.7 65q-7.3 -3.9 -15.2 -6.5M594.1 92.5q.2 -2 .4 -4M571.6 227.9q-5.6 -8.6 -10.6 -17.5M600.5 209.7q-8.2 -.2 -16.4 .7M605.5 194q-1.2 8.2 -5 15.7M409.6 263.2q-1.8 -14.7 6.4 -27M413.6 264.9q-2.1 -.7 -4.1 -1.7M561.5 530q-4.9 -3.1 -9.7 -6.4M524.1 543q7.7 7.7 17.1 13.2M414.9 577q-3.3 -6.7 -4.6 -14M379.4 539.3q-1 5.5 .1 11M469.7 579.2q.7 -.5 1.4 -1.1M445.6 572.8q-3.2 4.8 -7.5 8.7M365.6 633.1q10.9 -6.5 19.1 -16.2M406.7 629.9q-7.4 -7 -17.5 -5.4M181.4 498.6q.5 -4.1 -.1 -8.1M157.2 477q6.7 -3.3 12.8 -7.4M20.9 116.9q13.6 1.3 27.3 1.2M74.3 131.5q-12.7 -4 -24.3 -10.3M440.3 467.6q2.5 6.1 2.8 12.6M477.9 463.1q13.2 -7.3 28.3 -8M502.1 558q-10.4 -1.5 -19.4 -7M504.8 532.7q1.3 -4.6 2.5 -9.1M487.2 577.9q9.3 -3.7 14.3 -12.4M400.9 525.1q-5.1 -10 -6 -21.1M442.4 484.3q.1 -2.1 .7 -4.1M404.5 491.9q8.9 3.4 18.2 5M418.9 530.1q.5 0 .9 -.3M455.7 525.5q-1 -4.2 -3.7 -7.7M452 517.8q-2 -4.1 -2.1 -8.7M461 551.1q-6.5 -1.1 -11.5 -5.4M422.7 497q-3.8 16.3 -3.8 33.1M507.3 523.6q-4.8 -2.2 -9.5 -4.8M496.2 603.1q-2.8 3.7 -6.4 6.8M499.7 491.2q-2.8 4 -5.4 8.1M476.8 517.7q-1.8 -8.5 -3.6 -16.9" stroke="rgb(195,195,195)"/><path d="M139 -5.6q-1.1 4.8 -.1 9.7M138.9 4q-3.3 2.6 -5.7 6.1M119.6 49.3q-8 -8.5 -18.6 -13.4M52.2 -8.9q-2.3 6.1 -.2 12.3M53.7 23.5q-7.4 -3.3 -13.3 -9M119.6 49.3q4.2 2.1 8 4.8M162 36.7q-3.4 10.2 -6.4 20.5M155.6 57.2q-14.5 3 -28 -3M101.1 35.9q-3.2 -.3 -5.6 1.7M16.9 31.8q4 2.4 6 6.5M-27.2 34.8q21.8 -6.1 44.1 -3M7.3 65.3q.4 -2.9 -1.5 -5M173.6 -15q-8.1 11 -20.8 16.2M-1.1 100.4q3.9 0 6.6 2.6M86.5 420.1q2.2 -6.9 1.8 -14.1M113.7 419.2q-4.9 -5.9 -6.6 -13.4M86.5 420.1q-7.6 -.7 -14.8 2.1M313.4 13.6q-7.8 -6.9 -9.7 -17.1M313.4 13.6q9.2 -6.4 16.3 2.2M328.8 -17.1q7.7 5.4 10.9 14.2M417.5 9.3q-16.5 -4.2 -32.4 -10.1M329.7 15.9q5.6 7.3 14.1 10.7M279.8 308.4q16.1 16.9 22.4 39.3M287.2 304.9q11.2 10.5 25 17.3M346.7 333.7q-1.9 -5.8 -2.5 -11.9M356.8 89.4q12 .6 22.5 6.5M313.4 13.6q-.4 4.3 -3.6 7.2M162.3 73.2q-8.8 6.1 -17.5 12.4M274 146.4q-4.8 8.5 -1.4 17.6M330.3 137.7q.7 5.5 5.2 8.8M335.5 146.5q1.1 10.2 -.9 20.3M302.7 136.5q-.7 2.7 -1.9 5.2M299.5 184.8q-.9 -.1 -1.9 .1M265 125.6q-12.5 6.3 -24 14.3M241 139.9q11.8 9.4 15.9 23.9M217.6 155.6q-.3 7.2 -4.5 13.2M264.1 268.9q7.2 -4 14.9 -1.1M294.9 240.9q1.9 -.1 3.7 0M275.2 219q0 3.5 .6 7M318.7 251.4q-11.5 -2.6 -20.1 -10.6M248.2 231.3q.9 15.1 -8.3 27M239.9 258.3q-5 1.3 -10.2 1.3M228.7 204.7q10.8 8.9 11 22.9M435.8 31.7q9 -5.8 19.1 -9.2M456.2 56.5q-10.4 -3.7 -21.2 -6M455 22.5q6 5.5 9.7 12.8M155.6 57.2q4.3 7.6 6.6 16M51.5 66.2q6.1 1.7 11 5.6M213.8 38.2q-2.5 -12.2 -2 -24.6M18.7 243.7q1.1 -7.2 7.2 -11.1M1.3 418.1q4 17.3 10.4 34M61.6 443.7q-6.5 -.7 -12 -4.1M61.6 443.7q6.8 -9.9 10.1 -21.5M-33.1 441.3q16.1 -13.3 34.5 -23.3M-16.9 379.9q19.1 -7.7 37 -17.7M65.9 452.7q17.6 -8.8 35.8 -16.5M91.6 365.5q-4.2 -4.6 -9.7 -7.5M60.3 388.6q-3.6 -4.4 -4.2 -10M87.5 396q-5.4 -6.9 -7 -15.4M29.4 381.1q13.5 .1 26.7 -2.5M351.4 369.4q0 -15.7 9.6 -28M360.9 341.4q-6.2 -5.6 -14.2 -7.8M383 32.3q-6.8 13 -19.9 19.8M425.1 73.8q-9.6 4.8 -12.2 15.3M302.7 136.5q.4 -.1 .7 0M153.6 190.7q15.7 -.1 31.4 .4M153.6 190.7q-7.4 -7.6 -11.5 -17.5M191.8 176.3q-3.2 7.5 -6.7 14.9M191.8 176.3q-11.4 -6.4 -18.5 -17.3M200.2 232q-7.2 -3.9 -14.8 -6.5M185.3 225.5q-3.2 -6.1 -6 -12.4M345.9 287.7q0 -2.5 1.1 -4.9M287.2 304.9q.2 -1.3 .4 -2.6M362.7 236.8q-3.2 8 -5.2 16.3M339.5 268.1q1.1 -5.3 3.9 -10.1M332.1 196.4q-3.4 -15.2 5.9 -27.6M338 168.8q7 .3 12.8 4.4M350.8 173.2q2.8 -14.2 11.3 -25.9M595.4 389.8q-1.6 8.5 -.7 17.1M544.6 418.8q.5 -8.4 -2.8 -16.1M590.6 381.7q-12.5 .4 -24.4 -3.7M594.7 406.9q-6.7 4.9 -14.9 4.4M629.4 429.8q-2.5 10.5 -1.6 21.3M283.4 531.3q-.7 -14.1 -1.3 -28.1M301.2 501.9q0 2.5 -.7 4.9M46.7 644.5q2.7 -13.5 14.1 -21.4M87.5 396q9.2 -4 18.4 -7.8M91.6 365.5q7 1.1 14 2.1M130.8 414.4q6.8 -8.1 12.1 -17.1M142.9 397.3q8.3 4 13.9 11.4M113.7 419.2q8 -4.3 17.1 -4.8M107.3 432.6q15.3 8.3 32.6 10.2M143.6 394.5q-.7 1.3 -.7 2.7M191.9 633.4q-4.7 -7.1 -10.2 -13.5M95.1 121.3q-10.9 -1.6 -21.6 1M69.6 100.5q2.6 10.8 3.9 21.8M69.6 100.5q-.6 -2.9 -2.3 -5.4M211.8 13.6q-4.2 -1 -7.6 -3.7M249.8 12.1q11.5 6.6 24.1 2.5M239.4 44.8q3.3 .8 6.6 .3M280.2 -2.6q.3 9.8 -6.3 17.2M22.1 362.5q-4.7 -10 -6.1 -20.9M49.9 334.1q-11.9 2.6 -23.3 -1.9M51.9 266.6q-2 4 -4.9 7.5M60.4 263.6q14.5 6.9 22.2 21M375 331.8q-5.9 -12.3 -9.7 -25.4M376.7 283.5q-3.8 9 -6.4 18.5M305.6 470.8q-14.4 -2.3 -25.8 -11.4M305.6 470.8q1.5 -.2 3 -.2M384.3 367.2q11 9.2 22.7 17.4M403 396.9q-5.4 2.1 -11.1 3M436 398.6q-11.3 3.3 -22.6 6.3M206.7 398.3q-13 -2.2 -25.4 2M181.3 400.3q-4.3 5.9 -.4 12.1M235.8 461q-7.5 -8.1 -15 -16.1M215.9 282.6q-14.9 -4.5 -30.5 -5.6M229.7 259.6q-10.3 8.3 -16 20.3M440.3 104.4q13.4 -3 26.2 2M435.7 112.1q-8.5 -.1 -17 -1.4M233.8 98.8q11 -4 21.8 -8.4M209 116.5q-10.9 9.3 -17.5 21.9M168.8 155.6q-11.9 -16.2 -28.1 -28.2M141.5 123.8q-.7 1.7 -.7 3.6M176.7 123.7q3.3 7.7 4.4 16M303.4 136.5q1.7 -7.6 3.5 -15.3M292.3 109.5q9.7 2.9 14.6 11.7M307 121.3q6.2 -4.5 13.3 -7.3M343.2 95.7q-10.6 -5.6 -21.2 -11.3M102.1 228.6q5.8 -3.8 4.5 -10.6M97.9 272.5q-2.2 5.1 -5.7 9.5M115.4 269.3q-2 10.7 4.6 19.4M166.6 238.4q3.5 4.1 2.5 9.4M555.4 2.8q-3.2 -7 -9.7 -11.3M550.2 20.7q2.8 4.1 2.5 9M519.9 -24.5q1.4 13.1 .3 26.3M526.5 4.5q-2.8 -2 -6.3 -2.8M495.5 10.5q12.4 -4.3 24.7 -8.7M415.4 137.3q6.6 5.4 14.7 8.3M443.8 173.5q-3.9 -1.5 -8 -.6M430 145.5q-.4 14.4 5.7 27.4M443.8 173.5q4.6 15.6 14.4 28.6M418.5 203.3q10.1 -10.7 10.5 -25.5M429 177.8q3.1 -2.8 6.7 -4.9M654.3 590.3q-14.1 -7.2 -24.9 -18.9M619.6 564.4q2.8 3.5 6.5 6.2M629.5 571.4q-1.6 -.7 -3.4 -.9M598.3 568.6q2 .3 3.9 .5M602.2 569.1q8.2 -4.2 17.4 -4.7M607.8 534.6q-7.8 -2.6 -15.7 -.3M584.9 465.4q-.6 -7.3 -1.4 -14.6M551.4 472.5q5.9 5.7 13.6 8.8M609.6 471.6q-12.3 -3 -24.7 -6.2M602.7 444.8q-9.6 2.8 -19.1 6M572.2 429.6q.5 4.8 -.3 9.6M540.2 423.8q-3.6 10.8 0 21.6M540.1 445.4q-2.8 1.3 -5.7 .4M534.4 445.7q-1.1 11.4 .5 22.8M289.3 555.5q1.3 10.9 2.2 21.7M-12.4 581.6q9.5 1.4 19 3.4M8.7 595.7q-2.6 -2.8 -2.4 -6.6M-21.7 542.6q12.1 11.5 26.9 19.4M84.5 554.3q-1.2 2.2 -.6 4.6M134.8 630q-10.5 -9.7 -24.8 -10.1M144.3 605.3q-7.8 -10.2 -8.6 -23M249.2 516.7q-11.3 8 -20.6 18.2M305.6 470.8q-4.7 5.5 -7.1 12.4M266 468.7q-.5 8.4 -3 16.4M181 389.1q1.6 5.5 .3 11.1M144.2 387.7q-13 -10.2 -21 -24.7M132.7 454q-7 4.3 -12.7 10.3M222.6 529.5q3.9 1.7 5.9 5.4M299.5 642.6q-19.4 -6.9 -38.6 -14.5M12.5 202.4q11.3 1.5 22 -2.5M72.3 308.5q5.5 6.6 9.5 14.2M98.2 307.3q-4.6 9.6 -1.3 19.7M100.3 301.3q-1.3 2.9 -2.1 5.9M126.4 349.5q-1.4 6.8 -3.2 13.5M.9 305.5q7.2 1.9 12.9 -3M13.8 302.5q-2.1 -13.2 -2.4 -26.6M-7.9 333.2q9 -12.4 8.8 -27.7M384.3 367.2q1.4 -4.5 1.2 -9.2M408.4 330.2q-5.9 -3.4 -11.9 -6.7M431.6 378.8q-3.7 -9 2.6 -16.4M512 397.9q8.3 10.3 9.3 23.4M515.6 444.8q-2.1 2.5 -5.3 2.1M324.1 364.1q7.1 11.7 5.6 25.2M317.4 401.7q7 -5.3 12.3 -12.4M365.7 447.3q-2.1 6.8 .2 13.6M397.7 469.9q-15.8 -4.8 -31.8 -9M271.7 402.8q.1 -14.2 -7.6 -26.2M270.1 421.2q-4.4 -5.4 -7.7 -11.6M249.4 355.3q5.4 -14.7 15.7 -26.6M266.9 378.5q-7.5 -7.7 -9.7 -18.2M279.8 308.4q-8.8 5 -19 4.7M207.5 352.9q3.3 6 8.2 10.7M608.9 5.8q3.4 -.5 6.3 1.2M577.9 28.9q8.2 4.7 15.5 10.5M654.3 37.6q-16 2.1 -31.9 -.8M476 354.2q4.6 7.9 8.6 16M175.7 83.8q.7 -.5 1.5 -1M196.9 64q-3.9 9 -9.5 17.1M87.8 234.3q-1.8 7.4 -3.6 14.8M102.1 228.6q-5.3 7.4 -14.3 5.7M154.4 256.9q-6.8 -4.1 -12.9 -9.1M115.4 269.3q1.3 -4.5 2.7 -8.9M384.7 216.7q-2.6 -.9 -4.5 -2.8M385.3 193.3q6.8 -1.2 13.6 -1.9M409 171.1q-4.9 -5.5 -11.3 -9.1M362.1 147.3q8.9 13.6 25.2 14.1M364.6 182.2q-9.1 10.2 -18 20.6M514.2 35.3q-2.7 9.9 -9.7 17.3M504.5 52.5q3.3 4.5 6.8 8.7M495.5 10.5q9.8 12 18.7 24.8M548.8 85.5q-13.3 -10.1 -24 -22.8M536 227.7q.4 9.4 -2.3 18.4M493.2 188.4q-3.1 6.4 -10 8M495.1 228.2q3.9 .6 7.7 -.2M495.1 228.2q-2.2 1.9 -4.4 3.8M566.1 167q-14.9 -2.1 -26.4 7.4M547.7 199.6q1 -8 .7 -16M516.2 161.6q-13 6.9 -24.4 16.2M489.6 108.2q3.5 1.1 7.1 1.6M541.9 95.3q2 10.7 -2.3 20.6M608.3 348.4q-.2 -4.2 -.2 -8.5M608.1 340q-18.5 -1.1 -33.7 -11.7M590.6 381.7q-.4 -11 .9 -21.9M576.5 324.7q8.6 -6.4 16.2 -13.8M566.2 378q3.8 -15.2 8.3 -30.2M565.1 377.3q-7.5 -2.3 -14.1 -6.6M644.9 273.7q-7.4 -6.9 -15.5 -12.9M619.7 225.2q-3.5 8.4 -2.4 17.5M564.2 311.4q6.9 -10.4 4.7 -22.7M609.5 615.6q-10.1 3.2 -20.6 1.4M294.7 614.8q-7.2 -11.1 -16 -21M233.7 540.9q-5.1 10.6 -10.4 21.1M223.3 562.1q12.4 7.9 18.4 21.3M331.8 541.7q-6.8 -4.6 -15.1 -4.5M316.8 537.2q-1.3 -3.8 -3.5 -7.2M313.2 530.1q15.9 -5.3 12.5 -21.8M364.8 530.7q-1.2 -.4 -2.4 -.9M338.8 554.5q-3.5 -6.4 -7 -12.8M306.2 525.1q4 1.9 7 5M6.3 589.1q15.1 6.3 26.6 -5.4M5.2 562q6.1 -2.3 10.4 -7.3M47.2 540.2q8.6 -5.6 18.3 -8.6M84.5 554.3q-10.4 -10.6 -18.9 -22.8M74 503.7q9.8 1.3 19.5 2.9M213.8 609.6q2.3 -4.2 2.1 -9M141.1 573.1q22.1 7.5 44.2 .2M155.4 529.9q.6 -12.9 8.2 -23.3M141.5 493.1q.5 12 -1.3 23.8M132.7 454q11.6 12.2 24.5 22.9M115.7 537.4q5.3 -8.1 8.6 -17.3M36.1 191.1q10.5 -2 20.4 -5.8M408.4 330.2q4.8 -3.2 10.2 -5.1M428.4 345.3q-7.6 -8.8 -9.8 -20.2M450.8 338.6q-.9 -.9 -1.8 -1.8M428.4 345.3q10.3 -1.3 19.7 -5.7M440.1 281.9q-2.6 .1 -4.3 -2M543.1 373q-8 -7.8 -16.1 -15.4M357 443q.4 -8.3 2.8 -16.2M337.8 440.2q1 -6 -.7 -11.9M343 474.2q-4 1.6 -8.2 2.4M336.6 510.3q.8 -9.5 5.8 -17.6M365.9 460.8q-5.5 2.3 -8.9 7.2M260.8 313.1q-3.1 -7.3 -10.8 -9.4M614 150.3q-4.9 -10.1 -11.5 -19.2M602.5 131.2q21 -.5 39.7 -10M589.4 120q9.9 1.7 13.1 11.1M622.4 36.8q-.8 9.4 -3.5 18.4M591.6 47.4q14 2.6 27.3 7.8M460.1 263.6q-3.8 -8.9 -10.7 -15.8M472.7 262.3q.3 -12.5 3.5 -24.6M446.9 250.9q-8.7 6.6 -13.6 16.4M485.2 282.7q-11.2 1.6 -19 9.9M481.9 265.1q6.3 -3.4 13.3 -4.3M519.7 303.2q-9.1 5 -18.8 1.3M543.1 257.1q-6.5 10.7 -13.1 21.4M485.2 282.7q4.8 7.7 13.8 9.4M547.5 224.5q8 6.4 14.7 14M598 252.6q-2.5 -1.6 -5.3 -2.4M518.9 326.1q9.4 4.1 19.6 5.9M537.2 336.8q.7 -1.7 .6 -3.6M527 357.6q.2 -12.8 10.3 -20.8M501.4 349.4q1.3 -2.4 2 -5M450.3 451.9q14.8 .2 28.5 5.5M549.4 548.2q14.9 3.1 26.5 13M581.8 527.2q-2.3 1.5 -4.7 2.8M325.6 570.3q12 5.4 19.5 16.2M345.1 586.4q-1.2 5.9 -3.5 11.5M424.9 615.8q-8.2 8.2 -18.2 14.1M375.5 583q-4.1 9.5 -4.1 19.8M371.4 602.8q7.7 5.5 15 11.4M211.9 444.9q-4 6.9 -5.8 14.6M36.1 191.1q-2 -11.8 -9 -21.5M12.7 163.8q.6 -11.4 -1.1 -22.7M431 311.7q.2 -1.9 0 -3.8M427.7 315.7q.6 .7 .6 1.7M430.9 307.9q.3 -11 -6.6 -19.4M405.6 303.6q7 -7.3 8 -17.3M448.1 339.6q-11.8 -10.6 -20.4 -23.9M395.4 300.5q5.4 .8 10.2 3.1M407.4 278.5q1.8 -7.4 6.2 -13.6M207.3 306q-11.7 0 -23.3 -.5M219.6 288.8q-5.1 9.4 -12.3 17.3M178.9 279.4q3.8 12.8 5.1 26.1M587.5 186.1q-7.6 8.3 -16.2 15.6M582.1 173.9q-5.3 -1.4 -10.4 .8M582.1 173.9q-1.2 -.9 -2.6 -1.4M605.5 194q-10.1 -1.4 -18 -7.9M569 132.1q-6.1 .4 -12.2 .4M566.1 167q4.2 2.9 5.6 7.7M624.9 89.8q-15.3 2.5 -30.8 2.7M595.2 104.3q.8 -6 -1.1 -11.8M554.4 211.8q3.4 -.5 6.7 -1.5M561.1 210.3q4.7 -3.2 8.4 -7.5M385.6 282.9q3.9 -9.2 1.4 -19M364.6 261.5q10.2 1.5 20 -1.5M565.9 594.4q-5.1 3.7 -10.8 6.5M524.1 543q5.7 -7.6 8.9 -16.5M424.9 615.8q0 0 0 -.1M379.9 580.8q3.7 -10.7 8.2 -21.1M388.2 559.7q10.9 2.8 22.1 3.3M404.5 594.1q10.9 10.1 20.3 21.6M468.3 604.2q-1.7 -2.5 -3.7 -4.8M475.3 576.7q2.4 -13.2 7.3 -25.7M477.5 546q2.6 2.5 5.1 5M389.2 624.5q-.7 -4.7 -4.6 -7.5M223.7 486.1q-10.8 5.8 -22.2 1.5M206.1 459.6q-6.6 2.2 -13 4.8M176.9 451.3q.1 4.8 -1.1 9.3M11.6 141.1q5.9 -2.4 11.3 -5.6M48.1 157.1q-4 -9.3 -10.3 -17.2M533 526.6q-6.8 -7.3 -11.6 -16M525.5 503.5q-.7 4.4 -4.1 7.1M477.9 463.1q-.5 4.2 1.5 7.9M524.1 543q-8 .2 -15.9 1.7M399.6 476.5q3.3 7.5 4.9 15.5M426.7 545.2q-6.4 -6.4 -6.9 -15.4M440.4 547.5q4.7 -.4 9.1 -1.8M418.9 530.1q14.7 -11.6 31 -20.9M476.8 517.7q10.5 1.9 21.1 1.1M538.1 563.4q-1.9 6 -7.1 9.5M521.8 607.8q.2 7.4 1.4 14.6M513.8 632q3.3 -6.2 9.3 -9.6M499.7 491.2q-11.2 -9.1 -21.5 -19.2M473.1 500.8q-1.6 .5 -3.2 1.1M479.4 471.1q-.6 .4 -1.2 .9" stroke="rgb(220,220,220)"/><path d="M112.4 10.9q-3.2 3.1 -6 6.5M77.8 18.6q-11.9 3.1 -24.1 4.9M-1.2 72q-.8 14.2 .1 28.4M88.2 70.2q8.7 -15.1 7.3 -32.6M-19.4 38.3q9.9 14.1 25.2 22M256.5 -14.4q-5 11 -11.3 21.2M280.2 -2.6q-11.5 -6.6 -23.6 -11.9M27.3 14.9q-5.9 -4 -7.5 -10.9M-5.8 4.6q12.7 -4.1 25.6 -.6M113.7 419.2q-3 6.8 -6.4 13.5M339.6 -2.9q-6.1 8.8 -9.9 18.8M311.3 332.5q16.4 -5.2 32.3 1.2M175.7 83.8q-6.3 13.8 -16 25.6M175.7 83.8q-6 -6.3 -13.4 -10.6M150.8 207.7q4 3 5.4 7.8M167.3 239.7q-5.1 -12.3 -11.2 -24.1M278.5 211.7q4.8 -7.6 6.2 -16.5M334.8 168.7q-17.5 8.4 -35.4 16.1M256.9 163.7q5.6 2.6 11.2 5.2M265 125.6q4.4 10.5 9.1 20.9M217.6 155.6q13.3 -4.4 15.2 -18.2M275.2 219q-10 -12.1 -17.4 -25.9M275.2 219q1.8 -3.6 3.3 -7.3M294.9 240.9q-.9 7.7 .2 15.3M313.4 207.3q2.4 6.1 5 12.2M324.1 270.1q-6.3 2.4 -13 3.3M295.2 256.2q10.8 5.9 15.9 17.2M219.6 243.9q7.5 6.2 10.1 15.7M262.2 230.2q-7 .3 -14 1M500.8 54.7q-8.3 -11.3 -17.5 -22M500.8 54.7q-7.7 6.3 -12.5 15M11.3 642.3q-5.3 -4.9 -2.7 -11.5M127.6 54.2q-7.9 6.9 -9.8 17.2M22.7 72.1q2 -1.7 4.6 -2.4M36 91q14.6 -7.7 26.4 -19.2M30.6 45q-6.7 11.6 -3.3 24.7M62.9 71.2q-.2 .3 -.4 .6M231.2 10.8q7.4 15.8 6.6 33.2M237.8 44q-12.1 -2.7 -24.1 -5.8M18.7 243.7q-13.7 3.6 -27.5 6.9M.7 218.6q.9 -1.1 1.1 -2.4M12.2 410.7q-4.8 2.2 -7.8 6.6M23.7 465.3q-2.5 -4.9 -2.7 -10.5M29.4 381.1q-6.3 -8.6 -9.3 -18.8M8.7 595.7q-20.4 9.5 -40.6 19.4M56.2 336.3q-2.5 12.6 -9.8 23.2M78.1 339.5q6.4 8.3 3.8 18.5M253.3 441q6.6 -4.9 12.4 -10.8M265.7 430.1q6.3 11.1 16.6 18.9M252.4 454.7q6.9 6.9 13.6 14.1M298.1 349.5q2.4 -.2 4.1 -1.8M396 121.4q-6.5 -10.8 -18.2 -15.5M399.8 51.1q-7.3 8.2 -13.8 17.1M385.9 68.2q-7.9 -1.2 -14.5 -5.7M371.4 62.5q-3.3 -5.9 -8.3 -10.3M420.2 21.1q-11.3 10.6 -22 21.9M142.1 173.2q13.5 -8.7 26.7 -17.7M157.7 118.5q1.5 -4.4 2 -9.1M157.7 118.5q-8.2 2.3 -16.3 5.3M131.5 109.4q6.3 6.3 10 14.4M206.6 208.7q-3.9 11.5 -6.4 23.3M204 241.4q8 -.1 15.6 2.5M156.2 215.6q11.7 0 23.2 -2.5M320.4 294.5q-16.4 3.8 -32.7 7.8M287.6 302.3q-.7 -8 1.5 -15.7M279 267.7q8.4 7.6 10.1 18.9M364.6 261.5q-1.4 8.2 .2 16.3M364.6 261.5q-2.5 -5.1 -7.2 -8.3M334.8 168.7q1.6 .1 3.1 .1M335.5 146.5q13.1 0 25.2 -4.9M333.5 123.4q-2.3 7 -3.1 14.3M599.9 413.1q27.7 1.4 47 -18.5M623.6 374.6q9.7 9.3 23.2 9.7M572.2 429.6q-12.9 -7.7 -27.7 -10.8M565.1 377.3q3.7 10.1 -3.1 18.4M611.2 427.2q8.9 2.6 18.2 2.6M282.1 503.2q10.1 -2.7 18.4 3.6M298.5 483.2q-13.4 4.7 -27.1 8M45 609.4q6.2 8.7 15.7 13.7M105.6 367.6q-2.1 10.3 .3 20.6M107.1 405.8q-.9 -8.3 1.4 -16.4M108.4 389.4q-.8 -1.6 -2.5 -1.2M153.9 436.6q-2.6 -14.4 2.9 -27.9M141.2 440.4q-3.4 -13.8 -10.5 -26M139.9 442.9q.8 -1.2 1.4 -2.4M149.5 606q17.1 4.5 32.1 13.8M149.5 606q23.4 -4.5 40.5 -21.1M190.1 584.9q-4.3 17.4 -8.5 34.9M123.7 107.4q-12.7 7.7 -22.5 18.8M103 76.6q-3.1 5.9 -5.4 12.1M36 91q7.8 5.5 11.3 14.5M152.9 1.2q13.7 9.4 25.3 21.3M178.2 30.7q2.6 -1.9 5 -4.1M178.2 30.7q9.2 7.1 17.9 14.8M290.3 29.8q-9.7 12.7 -8.6 28.6M309.8 20.9q-7.9 8.4 -19.5 9M51.5 309.1q-6.8 -3.7 -12.2 -9.1M26.7 332.2q-3.6 -12.5 -5 -25.4M77.5 291.8q-15 -5 -30.7 -6.3M18.7 243.7q4.6 11.6 6.1 23.9M360.9 341.4q5.2 -.4 10.4 -1.5M376.7 283.5q-5.8 -3.2 -11.8 -5.7M286.6 444.4q.7 -12.5 -3.3 -24.4M403 396.9q1.6 -6.3 4 -12.3M450.1 426.6q-13.8 6.8 -28.8 3.4M413.4 404.9q-2.9 12.1 -1.4 24.5M180.8 412.4q-.1 2.9 -.5 5.8M215.1 389.1q-3 .1 -5.6 -1.3M207.8 409.5q5.2 3.3 9.2 8M294.7 402.4q-4.3 -4.8 -10 -7.9M284.5 377.7q-1.6 8.4 .3 16.8M456.2 56.5q-2.5 7.1 -4.5 14.4M425.1 73.8q6.4 2.3 13.2 3.1M476.5 115.9q6 -4.9 13.2 -7.7M487.6 73.8q3.2 11.7 10.1 21.7M236.9 59.8q10.7 10.3 17.1 23.6M226.4 118.9q-8.2 -4.6 -17.4 -2.4M157.7 118.5q10 .6 18.9 5.2M236.9 59.8q-5 4.4 -10.6 7.9M226.3 67.7q.5 11.6 -7.2 20.2M320.3 113.9q.4 -1.8 0 -3.7M319.2 56.3q2.5 14 2.8 28.2M293.7 65.7q2.5 13.6 -2.6 26.6M322 84.5q-4.4 6.6 -10.6 11.6M282.1 59.4q6.2 2.4 11.6 6.3M121.2 177.9q-6.2 -17.1 -17.4 -31.5M140.8 127.4q-3.9 5.8 -8.6 11.1M101.2 126.2q4.7 6.1 6.9 13.4M106.6 218q-1.3 -5.9 -5.1 -10.6M146.3 314.8q-11.7 -5.5 -24.7 -4.8M100.3 301.3q9.1 -3.4 18.6 -4.9M608.9 5.8q-13.5 7.8 -27.9 13.8M577.9 28.9q-2.3 1.9 -5.3 1.5M550.2 20.7q6.8 -7.8 5.3 -18M484.6 -.4q10.6 -11.9 17.2 -26.3M495.6 12.3q-5.9 -6 -11 -12.7M495.6 12.3q-.3 -.9 -.1 -1.8M471.6 153.2q-13.4 10.8 -27.8 20.3M418.5 203.3q9.7 5.1 13.9 15.2M621.7 292.3q-2.2 12.6 1.7 24.8M592.7 310.9q11.8 8.5 26.3 9.4M623.3 317.2q-1.6 2.3 -4.3 3.1M618.3 484.6q-1.6 6.8 -6.7 11.7M619.6 554q1.4 5.2 0 10.4M615.9 524.5q-2.3 6.5 -8.1 10.2M598.2 585q2.5 -7.8 4 -15.9M571.9 439.2q-7.2 4.6 -13.9 9.8M558 449.1q-4.7 11.4 -6.6 23.5M540.2 423.8q2.4 -2.3 4.4 -5M540.1 445.4q8.6 3.4 17.9 3.7M547 477.6q1.8 -2.8 4.4 -5M308.1 552.5q7.4 7.8 11.9 17.5M88.1 607.9q6.5 12.4 .7 25.1M256.5 551.5q-11.2 -5.7 -22.8 -10.6M233.7 540.9q-2.1 -3.4 -5.2 -6M272.9 537.8q5.2 -3.4 10.5 -6.6M105.6 367.6q8.8 -2.5 17.6 -4.6M139.9 442.9q-3.7 5.5 -7.2 11.2M249.5 517.4q-11.7 -10.4 -25.2 -18.5M254.7 650.6q-.6 -12.3 6.2 -22.5M41.7 227.2q-1.5 -5.3 -1.6 -10.9M51.5 309.1q10.4 -.1 20.8 -.5M-.1 270.9q-5.6 6 -13.4 8.9M406.4 340.5q1.6 -5 2 -10.3M396.6 323.5q-.8 -8.8 -4.7 -16.7M385.6 358q11.2 5.2 23.5 6.6M442.8 390.6q-3.9 3.5 -6.9 7.9M480.3 414q15.7 13.4 35.3 19.8M510.3 446.9q-11.8 -14.2 -30 -11.8M534.4 445.7q-9.3 -1.6 -18.8 -1M301.2 501.9q8.2 -1.8 16.4 -.5M391.9 399.9q-3 11.7 -7 23M384.9 422.9q1.8 5.1 3.2 10.3M414.3 457.8q-4.7 6.3 -12.6 7.2M388.1 433.3q0 .4 .2 .7M329.7 389.3q7.5 3.2 15.2 5.7M365.7 447.3q10.3 -8.4 22.6 -13.3M217 417.5q-4.4 11.5 -12.9 20.5M170.5 442.1q1.3 5.9 6.4 9.2M176.9 451.3q11.4 -6.6 22.3 -14.2M294.7 402.4q-4.1 8.1 -6.4 16.9M236.4 403.5q6.1 -.8 11.8 -3.1M284.5 377.7q-8.7 2.9 -17.6 .8M266.9 378.5q-1.2 -1.3 -2.8 -1.9M285.9 351.2q-11.8 -9.9 -20.8 -22.5M298.1 349.5q-6.1 1 -12.2 1.7M193.1 380.5q-10.4 -7.3 -10.1 -20M209.9 379.3q2.7 -7.9 5.8 -15.8M237.8 376.7q.8 -7 1 -14.1M633.4 6.8q-7.7 0 -15.4 -.3M593.4 39.4q10.8 -3.4 20.5 -9.3M627.4 220.3q10.2 7.9 14.8 19.9M476 354.2q-9.7 3.8 -19.1 -.8M204.5 118.9q.8 -13.1 -.1 -26.2M204.4 92.7q-7.8 -6.8 -16.9 -11.6M209 116.5q-2.4 .9 -4.6 2.3M176.7 123.7q6.8 -3.9 8.5 -11.6M65.2 262.1q8.4 -5.7 17.7 -9.8M58.4 230.3q6.8 -4.5 14 -8.3M73.4 215.8q.4 3.2 -1 6.2M73.4 215.8q-2.5 -3.2 -5.1 -6.2M68.3 209.6q-14.3 2.6 -28.3 6.7M155.1 280.7q12.7 1.4 25.4 .8M407.5 202.3q-2.5 -6.9 -8.6 -10.9M407.5 202.3q-8.3 8.8 -11.1 20.6M429 177.8q-10.3 -2.6 -20.1 -6.7M399 191.4q3.8 -10.7 10 -20.3M369.2 182.5q.1 .6 -.3 1.1M350.8 173.2q7 4.4 13.8 9M387.2 161.4q-9.5 10.2 -18 21.1M385.3 193.3q-7.3 -6.4 -16.5 -9.7M380.2 213.9q-7.6 2.3 -14.5 -1.6M514.2 35.3q2.8 -.4 5.5 -1.4M519.6 33.9q8.4 9.7 21.1 12.2M552.6 29.8q-8.2 6.5 -11.9 16.2M541.9 95.3q3.2 -5.1 6.9 -9.8M493.2 188.4q10.9 2.5 21.8 5M525.5 207.8q.7 3.1 .3 6.2M547.5 224.5q-5.7 1.9 -11.5 3.1M556.7 132.5q4.7 17.3 9.4 34.5M548.4 183.6q-4.1 -4.8 -8.7 -9.2M493.2 188.4q-.4 -5.4 -1.4 -10.6M496.7 109.8q21.6 1.8 42.9 6.1M483.2 156.4q10.9 -5.3 19.9 -13.6M608.3 348.4q-9 4.8 -16.8 11.3M591.6 359.7q-8.2 -6.4 -17.1 -11.9M574.5 347.9q-1.8 -3 -5.2 -4.2M619 320.3q-5.3 9.9 -10.9 19.7M629.4 260.7q1.7 -2.9 2.6 -6.1M564.2 311.4q5 7.7 12.3 13.3M569 288.8q.2 -3.4 .2 -6.7M598.2 585q-7.3 10 -18.8 14.8M577.7 562.5q-5.9 6.3 -12.4 12M595.3 501.4q-7 7.8 -13.7 16M581.8 527.2q-.5 -4.9 -.2 -9.8M581.6 517.4q-10.4 -10 -20.1 -20.6M272.2 598.7q-17.9 -6.7 -32.3 -19.3M239.9 579.4q.9 2 1.8 3.9M291.5 577.3q-2.4 3.1 -4.8 6.1M276.4 545.1q9 2.1 12.9 10.4M362.4 529.9q-6.3 -.4 -12.3 -2.2M60.9 564.4q.3 15.7 -12.2 25.1M72.2 591.7q-11.6 -2.7 -23.5 -2.1M15.6 554.8q1.7 -6.2 6.3 -10.6M5.1 525.7q8.2 9.4 16.7 18.4M-6.9 496.2q13.8 9.7 17.2 26.2M10.3 522.5q3.2 -.9 6.2 -2.4M40.2 534.2q-1.8 -1.9 -3.1 -4.1M106.7 540.6q-6.8 -16.9 -13.2 -34M190.1 584.9q.6 -.3 1.1 -.7M141.1 573.1q.3 -3 -.5 -5.9M140.6 567.1q13.5 -8.1 25.4 -18.5M191.2 584.2q-3.3 -3.6 -4.8 -8.2M222.6 529.5q-14 5.6 -19.6 19.7M140.6 567.1q-3.5 -9.4 -4.5 -19.4M166 548.6q-2.8 -6 -1.2 -12.5M149.8 530.2q-7.1 8.6 -13.8 17.5M192 532.9q-4.1 -2.9 -9.2 -3.7M141.9 330.5q12.1 5 23.7 10.9M120 464.3q.3 12.3 1.1 24.7M88 469.1q10.7 15.3 26.8 24.8M151.4 488.1q4.9 -4.5 5.8 -11.1M149.8 530.2q-4.5 -6.8 -9.6 -13.3M93.5 506.6q7.6 -.7 14.6 -3.7M185.7 511.3q7.6 -.6 15.1 -.4M75.3 138.3q-9.4 10.2 -19.8 19.5M67.5 177.2q-5.5 4 -11 8.1M475.6 331.9q.7 -7.4 1.9 -14.7M477.4 317.1q-8.7 -1.8 -15.8 -7.2M462.1 300.4q-8.2 -4.6 -17.5 -4M512 397.9q2.2 -4.2 5.5 -7.5M493.9 369.6q11.3 3.7 21.2 10.2M359.7 426.8q-3.3 -9.2 -12.1 -13.4M384.9 422.9q-7.5 -.4 -13.7 -4.8M374.2 393.7q-3.2 2.6 -6.1 5.6M337.1 428.3q5.2 -5.8 8 -13.1M357 468q-6.4 4.5 -14 6.1M397.7 469.9q1.3 3.2 1.9 6.6M257.4 272.7q-5 14.1 -10.6 27.9M621.7 150.2q-3.8 -.3 -7.7 .1M631.2 167.5q-.2 -11.1 -9.5 -17.3M627.8 189.2q-7.9 -1.5 -15.9 -1.8M595.2 104.3q20.4 18.4 47.7 14.7M449.4 247.8q6 -7.8 12.7 -14.9M460.7 274.9q-1.6 -5.6 -.6 -11.4M481.9 265.1q-4.7 -1 -9.2 -2.8M453.9 210.1q1.1 12.5 8.2 22.8M446.9 250.9q-10.5 -9.9 -21.8 -19M543 321.8q-8.9 -9.7 -11.9 -22.5M508.1 259.3q3.1 7 4.9 14.4M533.7 246q4.9 5.4 9.4 11.1M569.1 282q-3.7 -5 -4.2 -11.3M478.5 339.8q11.4 2.8 22.8 0M588.9 617q-2.1 3.7 -4.7 7M414.3 457.8q13.8 2.8 26.1 9.7M440.3 467.6q4.7 -8 10 -15.7M561.5 530q7.8 2.4 15.6 0M575.9 561.2q-2.9 -15.7 1.2 -31.2M354.8 570.7q-4.4 -6.9 -9.7 -13.2M357.4 573.9q-6.2 6.2 -12.3 12.5M406.7 629.9q-2.2 10.3 2.6 19.6M355.5 631q-5 -12.8 -2.9 -26.3M375.5 583q-8 -6.7 -18.1 -9.1M399.2 596q-9.7 -7.6 -19.3 -15.2M399.2 596q-7.1 8.6 -12.8 18.3M236 590.4q11.3 8 13 21.8M223.7 486.1q.6 -1.7 1.1 -3.5M226.8 475.1q-1.8 3.6 -2 7.5M-5.8 176.7q11.8 -2.7 18.4 -12.8M390.8 287.6q5.8 -9.2 16.7 -9.1M212.4 335.1q1.5 -1.2 2.5 -2.9M214.8 332.3q-.2 -14.1 -7.6 -26.2M184 305.5q-1.7 3.9 -3.4 7.7M604.6 161.3q-10.3 10.6 -25.1 11.1M583.2 158.6q1.8 7.8 -1.1 15.3M640.4 100.7q-8.7 -4.1 -15.5 -10.8M618.9 55.2q1 1.5 1.6 3.3M583.3 76.8q6 5.4 11.2 11.7M568 237.8q1 -5.3 3.6 -9.9M571.3 201.7q-.8 .7 -1.7 1.1M610.7 218.5q-8.6 5.4 -15 13.4M595.7 231.9q-7.7 -4.5 -16.3 -6.8M584.1 210.4q-4.9 6.5 -4.7 14.7M409.6 263.2q-11.2 1.3 -22.5 .7M425.1 231.9q-5 1.4 -9.2 4.3M554.2 620.9q7.4 6.3 16.7 8.7M565.3 574.5q-13.9 -4.8 -27.2 -11.1M551.8 523.6q-6.9 -8.1 -5.9 -18.7M547 477.6q-7.7 10.8 -15.7 21.4M545.9 504.9q-7.1 -3.5 -14.6 -5.9M455.2 611.8q-9.1 -1 -17.9 -3.2M399.2 596q2.8 -.6 5.3 -1.9M404.5 594.1q8 -6.9 10.4 -17.1M354.8 570.7q12.9 -9.6 24.7 -20.4M388.2 559.7q-4.4 -4.6 -8.7 -9.4M414.9 577q11.8 1.1 23.2 4.5M437.2 590q0 -4.3 .9 -8.5M455.2 611.8q5.7 -5.2 13.1 -7.6M475.3 576.7q-2.8 1.3 -5.6 2.5M445.6 572.8q11.9 6.6 25.5 5.3M380.3 650.2q3.8 -13.1 9 -25.7M193.1 464.4q-8.4 -2.9 -17.3 -3.7M170 469.6q2.8 -4.5 5.7 -8.9M200.8 510.9q1 -12 -2 -23.7M531.3 499q-2 3.4 -5.8 4.5M478.8 457.4q-1.1 2.8 -.9 5.8M525.5 503.5q-9.2 -5.9 -14.6 -15.5M508.2 544.7q-.2 -6.4 -3.4 -12M479 535.3q12.7 -2.9 25.8 -2.5M477.2 610.4q-3.5 16.8 -6.1 33.8M394.9 504q9.2 -2.5 9.6 -12M410.3 563q8.8 -8.3 16.4 -17.8M445.6 572.8q1.8 -13.5 -5.2 -25.3M531 573q-7.9 2.2 -15.9 3.6M555.1 600.9q-4.8 -.9 -9.6 -1.5M496.2 603.1q8 -2.9 16.6 -3.3M512.8 599.9q3.8 4.7 9 8M515.1 576.6q-1.4 11.6 -2.3 23.3M481.3 646.5q8.2 -8.1 16.3 -16.3M554.2 620.9q-4.2 9.7 -12.7 16.1M541.5 637q-7.6 -9.3 -18.4 -14.5M478.2 472q-7.3 10.8 -10.2 23.5M511 488q-5.4 2.5 -11.3 3.2" stroke="rgb(245,245,245)"/><path d="M513.1 273.7h0M140.6 567.1h0M133.2 10.1h0M46.2 554h0M606.9 278.4h0M344.9 395h0M22.9 38.3h0M226.9 327.2h0M12.5 101h0M170 469.6h0M618.9 55.2h0M458.2 202.1h0M426.7 545.2h0M609.6 471.6h0M102.1 228.6h0M618.3 484.6h0M115.4 269.3h0M428.3 317.3h0M442.4 484.3h0M543.1 257.1h0M88.1 607.9h0M48.3 594.5h0M579.5 172.5h0M75.3 138.3h0M404.5 491.9h0M300.2 96.6h0M144.8 85.5h0M524.1 543h0M183.9 326.2h0M371.2 418.2h0M149.8 530.2h0M399.8 51.1h0M191.5 138.4h0M435.8 31.7h0M473.1 500.8h0M435.8 279.9h0M551.4 472.5h0M132.7 454h0M209.6 518.8h0M153.9 436.6h0M398.2 43.1h0M378.3 28.7h0M120.1 252.4h0M18.7 243.7h0M621.7 150.2h0M451.7 70.9h0M551.8 523.6h0M464.7 35.3h0M521.2 421.3h0M72.2 591.7h0M239.4 44.8h0M62.5 71.8h0M311.1 273.4h0M223.7 486.1h0M96.9 551.1h0M351.4 369.4h0M325.8 508.3h0M383 32.3h0M455.2 611.8h0M213.1 168.8h0M332.4 628.2h0M489.6 108.2h0M143.6 394.5h0M179.4 518.7h0M65.9 452.7h0M591.6 47.4h0M407.4 278.5h0M493.2 188.4h0M409 171.1h0M391.9 399.9h0M312 277.7h0M515.1 576.6h0M413 89.1h0M238.9 362.6h0M178.9 279.4h0M261.5 626.1h0M375 331.8h0M544.6 418.8h0M478.5 339.8h0M208.1 520.3h0M5.6 103h0M81.8 322.7h0M191.8 176.3h0M579.4 599.8h0M103.8 146.5h0M260.8 628.1h0M394.9 504h0M347.6 413.5h0M82.6 178.3h0M91.6 365.5h0M141.5 493.1h0M92.6 151.6h0M60.9 564.4h0M133.6 579.7h0M417.5 9.3h0M415.9 236.2h0M215.9 600.5h0M87.3 177.7h0M507.3 523.6h0M217.6 155.6h0M260.8 313.1h0M521.4 510.5h0M515.6 433.8h0M262.4 409.6h0M406.7 629.9h0M388.2 559.7h0M306.2 525.1h0M233.8 98.8h0M219.6 288.8h0M16 341.6h0M311.3 96.1h0M396 121.4h0M624.9 89.8h0M192 532.9h0M390.8 287.6h0M343.2 95.7h0M72.4 222h0M151.4 488.1h0M608.9 5.8h0M265.1 328.7h0M283.4 531.3h0M371.4 602.8h0M595.2 104.3h0M11.6 141.1h0M11.4 275.8h0M327.8 51h0M12.2 410.7h0M180.5 313.2h0M611.8 187.3h0M444.6 296.5h0M488.3 69.6h0M298.6 240.8h0M186.4 576h0M334.8 476.6h0M282.4 117.7h0M574.4 328.3h0M363.1 52.1h0M196 45.4h0M124.3 520.2h0M27.3 14.9h0M524.8 62.7h0M105.9 388.1h0M16.9 31.8h0M496.2 603.1h0M12.7 163.8h0M144.2 387.7h0M155.6 57.2h0M24.3 397.2h0M108.1 502.9h0M229.4 181.7h0M384.6 617h0M348.3 222h0M510.3 446.9h0M629.4 429.8h0M323.9 362.8h0M460.1 263.6h0M483.2 196.4h0M495.5 10.5h0M484.6 370.2h0M386.5 614.3h0M249.8 12.1h0M182.9 529.3h0M391.1 82.4h0M435.7 172.9h0M555.1 600.9h0M11.7 452.1h0M571.3 201.7h0M418.6 325h0M389.2 624.5h0M537.2 336.8h0M408.4 330.2h0M502.8 228.1h0M555.4 2.8h0M594.7 406.9h0M252.4 454.7h0M365.7 447.3h0M343.8 26.6h0M5.1 525.7h0M429 177.8h0M47.3 105.4h0M550.2 20.7h0M369.2 182.5h0M232.8 137.4h0M224.8 482.6h0M80 36.4h0M455.7 525.5h0M496.7 109.8h0M88.2 70.2h0M435.7 112.1h0M618 6.5h0M611.2 427.2h0M95.5 37.7h0M206.8 562.3h0M276.4 545.1h0M211.9 444.9h0M547.5 224.5h0M56.6 185.3h0M475.6 331.9h0M65.2 262.1h0M443.2 480.2h0M302.2 347.7h0M414.9 577h0M246 45.1h0M207.5 352.9h0M163.1 502.3h0M40.5 14.5h0M60.7 623.1h0M207.3 306h0M40.1 216.3h0M526.5 4.5h0M87.5 396h0M568 237.8h0M275.7 226h0M587.5 186.1h0M206.7 398.3h0M453.9 210.1h0M353.6 372.5h0M155.4 529.9h0M558 449.1h0M170.5 442.1h0M543.1 373h0M497.6 630.2h0M283.3 420h0M8.6 630.7h0M294.9 240.9h0M519.6 33.9h0M464.6 599.4h0M343 474.2h0M185.3 573.3h0M409.3 118.6h0M181.3 400.3h0M449 336.8h0M617.4 505.1h0M88.3 405.9h0M484.6 -.4h0M111.7 184.1h0M477.4 317.1h0M478.8 457.4h0M185.1 112.1h0M113.7 419.2h0M387.2 161.4h0M345.7 117h0M106.6 218h0M308.6 470.5h0M534.9 468.5h0M534.2 171.8h0M150.6 272.1h0M278.7 593.8h0M395.4 300.5h0M5.2 562h0M300.4 617.8h0M19.8 4h0M163.6 506.6h0M140.3 517h0M403 396.9h0M443.8 173.5h0M279.8 308.4h0M564.2 311.4h0M501.4 349.4h0M540.7 46h0M379.4 539.3h0M27.3 69.7h0M58.9 404.7h0M445 131.6h0M141.2 440.4h0M431.6 378.8h0M343.5 41h0M157.7 118.5h0M175.7 83.8h0M176.9 451.3h0M253.3 441h0M266.4 570.3h0M566.1 167h0M149.6 288.8h0M68.3 209.6h0M376.7 283.5h0M47.2 540.2h0M188.3 421h0M563.3 74.7h0M487.2 577.9h0M97.5 88.7h0M88 469.1h0M440.3 467.6h0M476.8 517.7h0M36.1 191.1h0M153.6 190.7h0M569 132.1h0M87.8 234.3h0M295 167.9h0M452 517.8h0M255.5 43.8h0M-.1 270.9h0M356.8 89.4h0M539.6 115.9h0M565.9 594.4h0M622.2 604.6h0M561.5 530h0M.7 218.6h0M268.2 168.9h0M330.3 137.7h0M533 526.6h0M579.4 225h0M236.4 403.5h0M469.9 501.9h0M142.9 397.3h0M350.4 210.6h0M404.5 594.1h0M37.1 530h0M366.6 486.3h0M239.7 227.6h0M270.1 421.2h0M103 76.6h0M167.3 239.7h0M617.7 604.6h0M.9 305.5h0M236.9 59.8h0M142.1 173.2h0M430.9 307.9h0M187.5 81.1h0M354.8 570.7h0M487.6 73.8h0M235.8 461h0M515.6 444.8h0M577.1 530h0M440.3 104.4h0M592.1 534.4h0M512 397.9h0M120 288.7h0M543 321.8h0M390.7 160.9h0M291.1 92.2h0M307 121.3h0M183.2 26.5h0M449.4 247.8h0M311.3 332.5h0M418.9 530.1h0" stroke="#e8e8e8" stroke-width="3.0"/><path d="M492.6 334.1h0M332.9 175.6h0M172.3 77.4h0M46.4 155.2h0M309.6 122.9h0M403.2 487.2h0M448.5 464.9h0M399.8 32h0M462.2 371.2h0M240.1 407.9h0M270.7 92.7h0M327 18.8h0M209.2 433.4h0M614.9 164.5h0M201 286.3h0M447.1 98.4h0M338.6 508h0M210.6 625.3h0M505.3 377.8h0M97.8 365.1h0M507.3 123.3h0M579.9 184.6h0M329.5 240.3h0M139.1 91.2h0M403.5 570.3h0M509.4 88.4h0M227 545.9h0M20.4 383.3h0M482.6 185.2h0M264.6 402.4h0M191 526.1h0M89.1 357.5h0M238.8 539.9h0M579.2 372.9h0M571.1 345.6h0M404.4 595.5h0M347.3 79.9h0M399.8 324.4h0M502.8 554.3h0M230.7 421.1h0M284.7 64.9h0M518 574h0M376.1 368.6h0M302.7 352.1h0M136.7 461.6h0M411 501.7h0M622.1 129.5h0M351.1 295.1h0M228.8 427.3h0M451.3 84h0M602.4 544.2h0M301.6 430.4h0M232.5 34.6h0M60.8 127.9h0M487.5 303.9h0M6.2 348.5h0M481.2 127.1h0M117.9 318h0M184.9 548.1h0M17.2 587.6h0M541.1 151.7h0M167.5 303h0M305.9 255.8h0M259.1 164.7h0M2.2 88.5h0M516.6 496.2h0M372.4 120.2h0M256.7 4.5h0M241.3 485.3h0M474.9 295.6h0M412.5 610.6h0M18.2 586.4h0M241.4 470.9h0M576.7 613.8h0M170 31.3h0M278 531.3h0M420.7 613.2h0M218.2 323.9h0M304.2 101.6h0M487.1 77.2h0M123.7 443.1h0M19 11.8h0M58.8 350.3h0M525.6 620.6h0M48 623.5h0M227.1 67.7h0M83.4 33.6h0M377.2 261h0M371.6 179.7h0M70.2 101.9h0M330.3 303.4h0M113.9 10.9h0M180.5 25.5h0M327.3 338.3h0M429.4 201.9h0M55.9 320h0M213.2 529.5h0M421.8 556.4h0M114.7 269.3h0M311.7 285.3h0M606.2 477.4h0M444.2 615h0M429.9 546.6h0M239 167.5h0M259.1 520.4h0M178 220.4h0M489 514.9h0M151.7 248.6h0M443.9 18.4h0M521.6 225.7h0M612 126.9h0M160.7 490.9h0M203.3 254.7h0M321.8 324.7h0M179.6 503.7h0M4.7 368.5h0M409.1 49.4h0M192 339.9h0M620.4 533.5h0M404.2 597.3h0M586.5 392.7h0M219.5 416.6h0M200.8 281.3h0M606.4 355.4h0M520.7 399.9h0M596 180.6h0M616.9 352h0M111.3 413.1h0M165.2 501h0M101 292.5h0M78.4 261.5h0M606.5 425.8h0M43.5 507.5h0M330.3 197.5h0M116.5 366.3h0M477.2 515h0M479.5 28.2h0M130.9 626h0M441.4 589.6h0M612.6 385.2h0M517.1 87.2h0M30.8 511.3h0M436.3 131.5h0M427.5 3.3h0M395.9 300.8h0M19.5 48.6h0M588 248.3h0M225.4 213.8h0M173.9 188h0M519.6 531.6h0M344.8 114.6h0M363 379.7h0M161.7 540.1h0M302.5 525.8h0M256.4 613h0M388.7 178.9h0M310.5 231.3h0M42.5 376.8h0M101.5 50.8h0M426 499.5h0M547.7 148.8h0M98.2 519.3h0M74.6 170.4h0M528.2 552.3h0M227.5 64.5h0M82.7 523.7h0M388.5 73.2h0M323.7 363.5h0M614.7 277h0M614.4 226.2h0M381 340.5h0M259 151.1h0M347 595.1h0M20.8 98.9h0M100.4 619.3h0M101.8 416h0M277.5 334.3h0M282.2 431.6h0M497.3 4.3h0M410.2 96.8h0M612.1 6.4h0M415.3 91.8h0M190.5 523.8h0M292.5 576.7h0M511.8 389.8h0M83.5 544.4h0M543.5 561.2h0M342.4 425.7h0M255 285.2h0M510.4 544.9h0M306 188h0M385.8 559.5h0M40.8 1.2h0M376.3 83.8h0M252.5 102.4h0M617.1 412.7h0M571.4 407.7h0M423 572.1h0M78.9 625.3h0M357 525.5h0M454.3 347.2h0M405.6 150.9h0M82.5 192.2h0M64.8 99h0M180.7 539.3h0M295.4 197.6h0M245.7 273.4h0M503 311.7h0M471.1 317.5h0M124.3 616.9h0M387.8 455h0M20.9 627.2h0M300 390.8h0M552.1 183h0M558.9 40.7h0M251.9 407.9h0M611.4 100.1h0M313.9 207.9h0M461.1 262.6h0M260.3 58h0M590.6 301.6h0M143.5 281.3h0M81.9 95.8h0M146.9 305.1h0M584.1 98.3h0M37.6 266.6h0M373.4 568.4h0M537.8 199.4h0M527 62.9h0M512 258.9h0M399.9 88.9h0M616.4 212.4h0M232.7 148.3h0M130.2 613.9h0M611.1 64.9h0M571.8 216.1h0M382.8 236h0M614.2 277h0M475.6 266.8h0M336.3 612.6h0M497.7 593.9h0M309.8 539.4h0M543.8 590.5h0M152.2 372.2h0M554.6 440.8h0M411.4 115.5h0M34.8 132.8h0M161.7 365.8h0M396.1 110h0M341.2 167h0M579.7 402.4h0M137.9 620h0M383.9 63.6h0M456.7 227.8h0M530.8 523h0M251.6 250.9h0M461 389.5h0M444.5 452.3h0M49.3 180.8h0M7.5 236.9h0M207.1 130.5h0M597.2 437.7h0M72.5 298.9h0M348.7 367.3h0M98.5 372h0M532.8 239.7h0M551.3 626.1h0M537.4 572.1h0M553.1 387.8h0M71.1 317.1h0M190.7 514.8h0M286.8 497.8h0M39.6 109.7h0M395.2 58.7h0M217.2 528h0M406.4 47.6h0M157.4 604.8h0M622.7 157.8h0M556.7 561.1h0M394.8 436.3h0M187.4 496.1h0M584.9 59.5h0M81.2 453.6h0M310.5 421.4h0M608.1 577.6h0M11.6 597.4h0M444.8 321.6h0M123.6 427.5h0M27.3 120.4h0M346 39.1h0M583.7 390h0M282.6 205.4h0M89.5 606.9h0M564.1 191.7h0M573.6 179.6h0M285.9 544.1h0M434.3 132h0M248.3 566.7h0M202.1 399.5h0M562.6 431.9h0M329.6 509.8h0M507.8 466.5h0M513 557.1h0M272.7 558.1h0M518.1 217.5h0M216.4 566.6h0M69.4 119.1h0M54.5 102.8h0M345.4 325.2h0M10.6 419.1h0M193.6 72.7h0M431.2 466.1h0M212.8 565.1h0M319 551.6h0M85.5 299.3h0M138.1 61.2h0M233.8 298.2h0M95.4 543h0M523.5 367.3h0M31.3 70.5h0M338 81.7h0M446.8 413.3h0M535.7 335.7h0M419.7 .8h0M1.4 185.7h0M177.5 147.5h0M214.6 100h0M96.4 287.8h0M574.3 19.7h0M39 20.3h0M396.7 351.6h0M384.7 214h0M82.8 403h0M596.5 45.7h0M233.2 508.1h0M482.7 417h0M500.4 464.4h0M599.8 604.8h0M465.4 479.1h0M424 126h0M416.2 69.8h0M438.3 114.8h0M584.9 405.2h0M183.7 555.5h0M48.7 613.7h0M163.6 184.6h0M347.2 355.4h0M333.1 228.5h0M266.1 455.8h0M470.3 279.2h0M437.5 291.2h0M533.7 44.4h0M286.5 12.6h0M189.7 93.3h0M130.8 361.4h0M127.3 170.2h0M109.5 309.3h0M493.4 139.2h0M365 493.8h0M402.6 483.1h0M305.6 623.1h0M489.4 487.9h0M385.7 437.3h0M46.2 331.4h0M125 132h0M331.1 297.5h0M450.9 228h0M279.5 176.6h0M65.4 137.9h0M155.8 619.4h0M457.8 102.1h0M160.1 278.6h0M195.4 337.4h0M238.4 528.3h0M559.7 119.7h0M304.9 511.9h0M47.8 61.9h0M272.3 69.2h0M18.3 398.6h0M412.8 356.8h0M625.7 414.8h0M335.2 438.1h0M489.8 469.2h0M225.5 480.9h0M201.5 603.7h0M560.2 85.8h0M71.2 375.3h0M568.1 501.4h0M242.3 63.2h0M478.1 44h0M245.1 5.4h0M202.6 56.4h0M23.1 390.7h0M68.4 87.3h0M161.6 304.3h0M487.2 183.4h0M377.8 32.5h0M401.7 410.1h0M465.8 244.1h0M338.3 613.7h0M296.7 530.2h0M590.4 618.5h0M497.4 591h0M74.3 205.8h0M418.1 487h0M21.7 111.5h0M328.1 442.1h0M525.3 13.3h0M547.4 234.1h0M389.3 360.7h0M89.9 157.7h0M558.1 226h0M285 491.3h0M287.6 48.1h0M141.7 527.9h0M234.8 555.5h0M96.5 248.5h0M114.4 31.6h0M22.6 72h0M199.6 377.7h0M379.9 25.1h0M402.9 544.2h0M29.1 75.6h0M278.3 313h0M411 451.8h0M108.2 397.4h0M320.7 35.3h0M207 199.6h0M541.9 278h0M330.5 132.4h0M518 567.3h0M261.8 365.4h0M617.5 168.2h0M247.2 615.6h0M405.6 468.8h0M36.1 513.1h0M624.9 371.9h0M184.7 330.6h0M440.2 235.9h0M78.9 189.3h0M598.3 11h0M569.8 431.6h0M149.5 493.9h0M353.3 88.2h0M.3 204.2h0M14.3 370.1h0M237.1 124.7h0M616.6 257.1h0M163.4 324.1h0M609.8 381.8h0M419.8 53.3h0M356.6 224.3h0M455.4 246.4h0M438.4 169.6h0M558.9 561.6h0M89.5 594h0M129 268.9h0M565.5 39h0M614.2 70.5h0M269.2 277.8h0M124.5 561.9h0M36.8 617.5h0M343.7 173.8h0M80.3 529.6h0M69.7 87.9h0M35.1 618.6h0M214.8 170.1h0M605.1 296h0M56.5 20.7h0M554.3 183.6h0M436.3 142.9h0M258.3 2.8h0M261.8 349.6h0M300.9 386.2h0M613.4 183h0M591.6 498.2h0M95.4 462.2h0M67.9 19.8h0M408.9 619.5h0M484.9 540.3h0M154.4 128.2h0M198.5 371.6h0M476.9 515.9h0M168.8 138.6h0M365.2 431.2h0M89.8 121.7h0M312.7 87.9h0M261.3 408.4h0M95.2 560.9h0M317.7 499.9h0M341.6 566.3h0M7.6 231.2h0M20.5 349.1h0M572.8 244.8h0M190.6 94.5h0M501.5 419.3h0M503.8 621.6h0M3.1 148.9h0M379.5 285.3h0M474.7 239.3h0M284.8 578.9h0M233.3 514.1h0M72.5 232.5h0M97.1 195.6h0M7.9 26.9h0M448.1 523.4h0M440.8 71.6h0M77.7 461.7h0M245 141.2h0M364.1 398.3h0M0 588.2h0M369.7 486.7h0M302.8 243.9h0M599.2 449.4h0M212 329.9h0M415.4 578.9h0M101.6 445.5h0M143.6 457.7h0M213.8 123.1h0M317.4 376.7h0M539.4 140.1h0M192.6 2.6h0M508.2 415.9h0M601 377.9h0M315.9 465h0M45.2 297.2h0M200.7 463.1h0M107.1 401.5h0M294.9 540h0M604.8 518.1h0M126 233.1h0M288.5 27.9h0M234.4 307.7h0M118.9 225h0M416.7 11.3h0M580.6 489.1h0M321.8 188.1h0M144.3 129.8h0M201.5 570.7h0M235.2 106.3h0M444.7 4.6h0M26.3 493.3h0M391.3 353.3h0M107.8 456.2h0M121.2 51.2h0M537.3 403.2h0M409.9 412.8h0M426.8 69.1h0M78.2 501.6h0M330.4 416.8h0M622.4 275.7h0M593.6 602.7h0M344.2 442.1h0M436.8 174.1h0M91.4 413.4h0M196.1 269.3h0M73 210.6h0M486 328.9h0M362.1 534.6h0M585.6 102.3h0M590.4 529.6h0M625.1 456.5h0M309.8 6.9h0M179.1 215h0M468.6 555.5h0M38.5 202h0M58.8 106.5h0M358.8 365.2h0M268 5.7h0M528.4 304.5h0M594.5 388.7h0M3.9 281.6h0M617.7 78.7h0M354.8 13.7h0M179.2 608.7h0M33.4 42h0M495.4 323.1h0M118.8 66.9h0M567.2 427.8h0M43.6 415.3h0M389.9 13.3h0M541 356.2h0M362 437.3h0M19.8 538.7h0M19.1 493.4h0M345.1 462.7h0M405.7 319.3h0M205.7 627.6h0M295.5 120.9h0M19.8 591.6h0M407.3 552.4h0M336.6 227.6h0M284.3 298.9h0M371.3 337h0M128.5 175.7h0M583.3 43.7h0M467.3 74.6h0M265.5 453.8h0M408.4 372h0M452 244.6h0M419.4 43.1h0M391.4 600.2h0M32.1 166.8h0M510.9 393.7h0M453.5 174.3h0M408.5 330.4h0M102.2 125.9h0M554 611.8h0M117.6 579.7h0M541 295.5h0M371.6 188.6h0M471 575.7h0M41.6 128.4h0M147.5 337.6h0M234.1 596.2h0M481 404.8h0M532 494.7h0M495.8 8.6h0M326.7 364.1h0M596.7 125.8h0M598.8 305.4h0M95.5 74h0M395.9 77.9h0M409 618.2h0M294.1 421h0M207 448.6h0M490.4 262.6h0M218.3 20.7h0M389 488.1h0M410.5 415.2h0M14.7 288.5h0M239.9 60.2h0M6.3 458.6h0M569.6 226h0M554.2 505.4h0M572 604.9h0M314.4 551.5h0M5.4 357.9h0M8.5 605.1h0M627.8 389.8h0M114.9 465.7h0M582.6 381.2h0M157.3 400h0M621.5 177.7h0M483 358.3h0M30.7 215h0M560.2 455.5h0M512.1 152h0M107.5 292.7h0M233.1 328h0M353.6 27.2h0M44 102.6h0M44.8 358.2h0M626.5 22.9h0M85.3 339.4h0M82.6 5.1h0M186.5 479.4h0M67.1 472.4h0M173 215h0M554.1 254.3h0M368.3 491.3h0M279.5 265.3h0M175 151.8h0M285.7 269.1h0M447.7 586.2h0M389.4 355.2h0M97 430.2h0M439.4 159.8h0M396 492.1h0M514.6 480.1h0M288.7 557.9h0M164.2 280.3h0M152.6 574h0M384.9 449.8h0M499.6 100.9h0M423.6 613h0M288 265.2h0M339.2 168.5h0M207 299.9h0M388.3 359.8h0M107.2 29.7h0M422.6 498.7h0M612.9 442.4h0M94.8 624.3h0M515 134.8h0M523.7 206.7h0M197.1 23.6h0M367 72.9h0M339.7 50.3h0M612.8 224.7h0M305.2 93.4h0M95.7 124.3h0M469.4 448.7h0M302.8 157.5h0M1.6 6.8h0M539 477.3h0M98.1 87.4h0M484.2 598.9h0M193.9 363.6h0M401.9 167.6h0M259.9 622.9h0M401.2 540.2h0M137.3 302.4h0M475.6 599.5h0M135.4 439.3h0M321 543.9h0M516.7 490.9h0M461.6 482.3h0M233.7 46.3h0M313.6 157.7h0M278.5 251.5h0M431.4 502.7h0M559.4 243.3h0M356.4 557.5h0M77 531.7h0M399.9 54h0M536.2 207h0M137.8 47.4h0M402 19.1h0M195.1 383.3h0M569.8 311.6h0M219.2 531.1h0M409.3 436.9h0" stroke="#8a8a8a" stroke-width="2.1"/><path d="M262.1 602.2h0M59.2 70.9h0M439.7 176h0M599 280h0M497.9 84.6h0M98.7 356.9h0M596 534.9h0M528.5 38.8h0M509.2 342h0M122.1 293.5h0M442.1 268.8h0M85 442.8h0M66 291.9h0M155.1 575.9h0M419.8 200.8h0M307.2 485.1h0M374.8 568h0M177.3 284.7h0M437.5 273.9h0M595.7 190.1h0M624.1 308.6h0M7.9 566.6h0M34.7 298.4h0M590.1 270.5h0M210.4 577.6h0M34.2 215.8h0M552.7 305.3h0M586.8 83.4h0M296.7 64.8h0M312.1 335.3h0M85.4 360.3h0M361 277h0M58.4 136.7h0M69.2 267.1h0M44.6 538.9h0M311 278.3h0M320.3 286.5h0M586.2 475.4h0M221.1 627.2h0M18.3 321.1h0M267.9 283.8h0M288.4 209.1h0M73.4 226.3h0M178.5 598.4h0M522.4 576.4h0M583.8 201.9h0M425.8 212.5h0M38.2 108.1h0M19.6 43.7h0M101 445.7h0M61.1 138.7h0M585.3 589.8h0M124.7 83.5h0M559 485.9h0M268.2 114.3h0M446.8 507.6h0M312.3 335.7h0M561.2 534.7h0M319 81.9h0M120.2 523.8h0M504.5 618.8h0M390.2 21.2h0M335.7 79.5h0M261.4 501.6h0M616.6 533.4h0M110.5 217.9h0M459.2 447.1h0M74.5 264.1h0M124.1 198.2h0M343.1 570.4h0M593.3 495.5h0M523.3 278.8h0M215.4 610.8h0M311.7 273.9h0M172.2 322h0M469.6 73.8h0M386.2 188.4h0M85.3 441.2h0M624 589.6h0M571.9 419.1h0M361.9 379.6h0M266.8 426h0M310 67.1h0M262.7 609.1h0M91.5 174.2h0M31.2 69.2h0M211.8 156.4h0M137.4 137.6h0M37.1 137.9h0M588.4 152.9h0M582.9 167.1h0M518.2 616.3h0M599 553.4h0M362.7 380.4h0M438.1 65.9h0M313.1 602.9h0M483.7 215.9h0M80.9 363.2h0M285.6 303.1h0M327.9 569.7h0M287.6 153.3h0M268.3 151.6h0M551.2 565.8h0M411.1 532h0M51.9 619.9h0M51.3 499.6h0M227 332.6h0M302 141.8h0M242.9 304.9h0M333.1 29.1h0M492.5 172.2h0M553.2 609.6h0M17.3 14.4h0M259 195.7h0M8.9 539h0M207.7 20.1h0M428.5 104.3h0M454.5 626.7h0M258.7 497.8h0M315.1 170.5h0M597 118.4h0M489.5 513.3h0M171.7 280.5h0M386.9 420.6h0M33.6 130.3h0M17.2 470.2h0M189.6 217.1h0M472.7 414.1h0M25.3 495h0M333.9 398.6h0M377.6 86.5h0M244 238.9h0M440.2 187.6h0M135.2 507h0M224.2 537h0M432.9 106.6h0M189.5 307.3h0M447.1 432h0M516.9 279.7h0M227.7 443.5h0M354.1 482.6h0M566.9 599.2h0M94.1 574.5h0M22.8 213.3h0" stroke="#fff" stroke-width="2.8"/></g><g filter="url(#ha2)"><ellipse cx="222" cy="588" rx="52" ry="24" fill="#000" fill-opacity="0.7"/><ellipse cx="300" cy="570" rx="30" ry="16" fill="#000" fill-opacity="0.45"/><ellipse cx="160" cy="600" rx="26" ry="14" fill="#000" fill-opacity="0.4"/></g></svg><!--A2SVG_END--></div>

<!-- Panel B images -->
<div class="img" id="B0" style="left:9px;top:971px;width:397px;height:397px;"><!--B0SVG_BEGIN--><svg width="397" height="397" viewBox="0 0 1438 1438" preserveAspectRatio="none"><defs><filter id="bb0" filterUnits="userSpaceOnUse" x="0" y="0" width="1438" height="1438"><feGaussianBlur in="SourceGraphic" stdDeviation="8.5" result="bl"/><feTurbulence type="fractalNoise" baseFrequency="0.022" numOctaves="2" seed="45" result="t" color-interpolation-filters="sRGB"/><feColorMatrix in="t" type="matrix" color-interpolation-filters="sRGB" values="1.12 0 0 0 0.21 1.12 0 0 0 0.21 1.12 0 0 0 0.21 0 0 0 0 1" result="t2"/><feComposite in="bl" in2="t2" operator="arithmetic" k1="1" k2="0" k3="0" k4="0" color-interpolation-filters="sRGB"/></filter><filter id="hb0" x="-10%" y="-10%" width="120%" height="120%"><feGaussianBlur stdDeviation="22"/></filter><filter id="nb0" x="0" y="0" width="100%" height="100%"><feTurbulence type="fractalNoise" baseFrequency="0.09" numOctaves="2" seed="5"/><feColorMatrix type="matrix" values="0 0 0 0 1  0 0 0 0 1  0 0 0 0 1  1.6 0 0 0 -0.45"/></filter></defs><rect width="1438" height="1438" fill="rgb(8,8,8)"/><g filter="url(#hb0)" fill="none" stroke-linecap="round" stroke-linejoin="round" stroke="#fff"><path d="M430 0C421.7 8.3 395 31.7 380 50C365 68.3 350 95 340 110C330 125 323.3 135 320 140" stroke-width="81.9" stroke-opacity="0.34"/><path d="M200 20C210 28.3 238.3 55 260 70C281.7 85 318.3 103.3 330 110" stroke-width="259.4" stroke-opacity="0.23"/><path d="M0 330C16.7 318.3 58.3 280 100 260C141.7 240 225 218.3 250 210" stroke-width="218.4" stroke-opacity="0.17"/><path d="M0 170C13.3 168.3 46.7 160.8 80 160C113.3 159.2 158.3 166.7 200 165C241.7 163.3 288.3 152.5 330 150C371.7 147.5 405 148.3 450 150C495 151.7 575 158.3 600 160" stroke-width="109.2" stroke-opacity="0.27"/><path d="M60 160L80 160" stroke-width="81.9" stroke-opacity="0.34"/><path d="M175 163L195 163" stroke-width="81.9" stroke-opacity="0.34"/><path d="M600 170C616.7 166.7 661.7 155.8 700 150C738.3 144.2 786.7 140 830 135C873.3 130 918.3 120.8 960 120C1001.7 119.2 1046.7 126.7 1080 130C1113.3 133.3 1131.7 140 1160 140C1188.3 140 1235 131.7 1250 130" stroke-width="109.2" stroke-opacity="0.27"/><path d="M670 148L700 145" stroke-width="81.9" stroke-opacity="0.34"/><path d="M830 138L860 135" stroke-width="81.9" stroke-opacity="0.34"/><path d="M1025 110L1045 112" stroke-width="92.8" stroke-opacity="0.34"/><path d="M1135 140L1160 142" stroke-width="81.9" stroke-opacity="0.34"/><path d="M880 40L940 60" stroke-width="109.2" stroke-opacity="0.34"/><path d="M1230 110L1260 150" stroke-width="122.9" stroke-opacity="0.34"/><path d="M1250 140C1263.3 148.3 1305 175 1330 190C1355 205 1382 215.8 1400 230C1418 244.2 1431.7 267.5 1438 275" stroke-width="92.8" stroke-opacity="0.34"/><path d="M1300 60C1313.3 56.7 1357 45.8 1380 40C1403 34.2 1428.3 27.5 1438 25" stroke-width="76.4" stroke-opacity="0.27"/><path d="M1080 0C1075 10 1060 41.7 1050 60C1040 78.3 1025 101.7 1020 110" stroke-width="81.9" stroke-opacity="0.18"/><path d="M820 0L860 40" stroke-width="109.2" stroke-opacity="0.22"/><path d="M595 185C604.2 194.2 632.5 220.8 650 240C667.5 259.2 685 279.2 700 300C715 320.8 733.3 354.2 740 365" stroke-width="103.7" stroke-opacity="0.34"/><path d="M740 365C750 367.5 778.3 379.2 800 380C821.7 380.8 858.3 371.7 870 370" stroke-width="92.8" stroke-opacity="0.34"/><path d="M870 365C880 375.8 910 409.2 930 430C950 450.8 971.7 473.3 990 490C1008.3 506.7 1031.7 523.3 1040 530" stroke-width="92.8" stroke-opacity="0.34"/><path d="M880 350C888.3 341.7 913.3 321.7 930 300C946.7 278.3 966.7 245 980 220C993.3 195 1005 161.7 1010 150" stroke-width="81.9" stroke-opacity="0.22"/><path d="M440 440C453.3 434.2 490 412.5 520 405C550 397.5 583.3 398.3 620 395C656.7 391.7 720 386.7 740 385" stroke-width="81.9" stroke-opacity="0.31"/><path d="M445 440C448.3 453.3 456.7 491.7 465 520C473.3 548.3 484.2 586.7 495 610C505.8 633.3 524.2 651.7 530 660" stroke-width="81.9" stroke-opacity="0.33"/><path d="M530 660C524.2 666.7 504.2 681.7 495 700C485.8 718.3 484.2 745 475 770C465.8 795 444.2 823.3 440 850C435.8 876.7 441.7 907.5 450 930C458.3 952.5 483.3 975.8 490 985" stroke-width="87.4" stroke-opacity="0.31"/><path d="M530 658C550 657.5 611.7 656.3 650 655C688.3 653.7 718.3 652.5 760 650C801.7 647.5 860 642.5 900 640C940 637.5 973.3 632.5 1000 635C1026.7 637.5 1050 651.7 1060 655" stroke-width="76.4" stroke-opacity="0.27"/><path d="M1040 530C1037.5 541.7 1023.3 580 1025 600C1026.7 620 1039.2 635 1050 650C1060.8 665 1083.3 683.3 1090 690" stroke-width="81.9" stroke-opacity="0.34"/><path d="M1090 690C1087.5 703.3 1086.7 746.7 1075 770C1063.3 793.3 1039.2 806.7 1020 830C1000.8 853.3 979.2 886.7 960 910C940.8 933.3 914.2 960 905 970" stroke-width="81.9" stroke-opacity="0.33"/><path d="M490 985C508.3 985.8 565 991.7 600 990C635 988.3 666.7 979.2 700 975C733.3 970.8 765.8 965.8 800 965C834.2 964.2 871.7 970 905 970C938.3 970 984.2 965.8 1000 965" stroke-width="87.4" stroke-opacity="0.32"/><path d="M610 990L650 988" stroke-width="98.3" stroke-opacity="0.34"/><path d="M880 970L920 970" stroke-width="98.3" stroke-opacity="0.34"/><path d="M1040 530C1055 524.2 1103.3 508.3 1130 495C1156.7 481.7 1173.3 467.5 1200 450C1226.7 432.5 1261.7 411.7 1290 390C1318.3 368.3 1345.3 343.3 1370 320C1394.7 296.7 1426.7 261.7 1438 250" stroke-width="81.9" stroke-opacity="0.34"/><path d="M1095 670C1109.2 669.2 1152.5 666.7 1180 665C1207.5 663.3 1231.7 660.8 1260 660C1288.3 659.2 1320.3 661.7 1350 660C1379.7 658.3 1423.3 651.7 1438 650" stroke-width="81.9" stroke-opacity="0.31"/><path d="M1225 665L1255 662" stroke-width="92.8" stroke-opacity="0.34"/><path d="M1360 655L1385 655" stroke-width="92.8" stroke-opacity="0.34"/><path d="M1095 720C1102.5 728.3 1117.5 755 1140 770C1162.5 785 1196.7 798.3 1230 810C1263.3 821.7 1305.3 831.7 1340 840C1374.7 848.3 1421.7 856.7 1438 860" stroke-width="76.4" stroke-opacity="0.31"/><path d="M1100 580C1125 576.7 1193.7 566.7 1250 560C1306.3 553.3 1406.7 543.3 1438 540" stroke-width="109.2" stroke-opacity="0.13"/><path d="M100 385C113.3 381.7 153.3 370 180 365C206.7 360 235 357.5 260 355C285 352.5 308.3 343.3 330 350C351.7 356.7 371.7 380 390 395C408.3 410 431.7 432.5 440 440" stroke-width="87.4" stroke-opacity="0.34"/><path d="M0 420C16.7 416.7 66.7 400 100 400C133.3 400 166.7 411.7 200 420C233.3 428.3 270 442.5 300 450C330 457.5 356.7 465 380 465C403.3 465 430 452.5 440 450" stroke-width="120.1" stroke-opacity="0.29"/><path d="M350 458L370 460" stroke-width="81.9" stroke-opacity="0.34"/><path d="M0 490C25 491.7 100 495.8 150 500C200 504.2 251.7 515.8 300 515C348.3 514.2 416.7 498.3 440 495" stroke-width="174.7" stroke-opacity="0.22"/><path d="M0 310C10 306.7 43.3 291.7 60 290C76.7 288.3 93.3 298.3 100 300" stroke-width="81.9" stroke-opacity="0.20"/><path d="M0 250L40 230" stroke-width="81.9" stroke-opacity="0.18"/><path d="M0 830C15 828.3 56.7 820 90 820C123.3 820 165 827.5 200 830C235 832.5 261.7 830 300 835C338.3 840 408.3 855.8 430 860" stroke-width="95.5" stroke-opacity="0.20"/><path d="M80 825L100 822" stroke-width="98.3" stroke-opacity="0.31"/><path d="M290 832L315 832" stroke-width="98.3" stroke-opacity="0.31"/><path d="M130 210L160 240" stroke-width="109.2" stroke-opacity="0.22"/><path d="M160 1095L185 1105" stroke-width="163.8" stroke-opacity="0.27"/><path d="M260 1140C266.7 1146.7 285 1165 300 1180C315 1195 333.3 1213.3 350 1230C366.7 1246.7 388.3 1265 400 1280C411.7 1295 416.7 1313.3 420 1320" stroke-width="87.4" stroke-opacity="0.24"/><path d="M300 1090C310 1085.8 340 1071.7 360 1065C380 1058.3 410 1052.5 420 1050" stroke-width="81.9" stroke-opacity="0.24"/><path d="M540 1140C546.7 1144.2 563.3 1155 580 1165C596.7 1175 616.7 1187.5 640 1200C663.3 1212.5 690 1228.3 720 1240C750 1251.7 781.7 1260 820 1270C858.3 1280 903.3 1291.7 950 1300C996.7 1308.3 1058.3 1312.5 1100 1320C1141.7 1327.5 1166.7 1336.7 1200 1345C1233.3 1353.3 1260.3 1360.8 1300 1370C1339.7 1379.2 1415 1395 1438 1400" stroke-width="87.4" stroke-opacity="0.20"/><path d="M560 1155L585 1168" stroke-width="109.2" stroke-opacity="0.33"/><path d="M1040 1040C1055 1042.5 1098.3 1049.2 1130 1055C1161.7 1060.8 1201.7 1070 1230 1075C1258.3 1080 1275 1080.8 1300 1085C1325 1089.2 1357 1095 1380 1100C1403 1105 1428.3 1112.5 1438 1115" stroke-width="87.4" stroke-opacity="0.34"/><path d="M1285 1083L1315 1088" stroke-width="120.1" stroke-opacity="0.34"/><path d="M1000 965L1040 1040" stroke-width="76.4" stroke-opacity="0.22"/><path d="M668 1348L705 1356" stroke-width="136.5" stroke-opacity="0.34"/><path d="M600 1330C616.7 1336.7 666.7 1360 700 1370C733.3 1380 783.3 1386.7 800 1390" stroke-width="76.4" stroke-opacity="0.22"/><path d="M895 1408L910 1412" stroke-width="120.1" stroke-opacity="0.34"/><path d="M1115 1320L1130 1322" stroke-width="109.2" stroke-opacity="0.33"/><path d="M1240 1360C1255 1355 1297 1338.3 1330 1330C1363 1321.7 1420 1313.3 1438 1310" stroke-width="71" stroke-opacity="0.20"/><path d="M380 1340C383.3 1350 395 1383.7 400 1400C405 1416.3 408.3 1431.7 410 1438" stroke-width="81.9" stroke-opacity="0.17"/><path d="M440 1040C450 1050 480 1081.7 500 1100C520 1118.3 550 1141.7 560 1150" stroke-width="81.9" stroke-opacity="0.15"/><path d="M1415 1410L1430 1415" stroke-width="109.2" stroke-opacity="0.27"/><path d="M0 1235L25 1240" stroke-width="109.2" stroke-opacity="0.22"/></g><g filter="url(#bb0)" fill="none" stroke-linecap="round" stroke-linejoin="round"><path d="M1100 580C1125 576.7 1193.7 566.7 1250 560C1306.3 553.3 1406.7 543.3 1438 540" stroke-width="42" stroke="rgb(96,96,96)"/><path d="M440 1040C450 1050 480 1081.7 500 1100C520 1118.3 550 1141.7 560 1150" stroke-width="31.5" stroke="rgb(110,110,110)"/><path d="M380 1340C383.3 1350 395 1383.7 400 1400C405 1416.3 408.3 1431.7 410 1438" stroke-width="31.5" stroke="rgb(124,124,124)"/><path d="M0 330C16.7 318.3 58.3 280 100 260C141.7 240 225 218.3 250 210" stroke-width="84" stroke="rgb(131,131,131)"/><path d="M1080 0C1075 10 1060 41.7 1050 60C1040 78.3 1025 101.7 1020 110" stroke-width="31.5" stroke="rgb(138,138,138)"/><path d="M0 250L40 230" stroke-width="31.5" stroke="rgb(138,138,138)"/><path d="M0 310C10 306.7 43.3 291.7 60 290C76.7 288.3 93.3 298.3 100 300" stroke-width="31.5" stroke="rgb(151,151,151)"/><path d="M0 830C15 828.3 56.7 820 90 820C123.3 820 165 827.5 200 830C235 832.5 261.7 830 300 835C338.3 840 408.3 855.8 430 860" stroke-width="36.8" stroke="rgb(151,151,151)"/><path d="M540 1140C546.7 1144.2 563.3 1155 580 1165C596.7 1175 616.7 1187.5 640 1200C663.3 1212.5 690 1228.3 720 1240C750 1251.7 781.7 1260 820 1270C858.3 1280 903.3 1291.7 950 1300C996.7 1308.3 1058.3 1312.5 1100 1320C1141.7 1327.5 1166.7 1336.7 1200 1345C1233.3 1353.3 1260.3 1360.8 1300 1370C1339.7 1379.2 1415 1395 1438 1400" stroke-width="33.6" stroke="rgb(151,151,151)"/><path d="M1240 1360C1255 1355 1297 1338.3 1330 1330C1363 1321.7 1420 1313.3 1438 1310" stroke-width="27.3" stroke="rgb(151,151,151)"/><path d="M820 0L860 40" stroke-width="42" stroke="rgb(165,165,165)"/><path d="M880 350C888.3 341.7 913.3 321.7 930 300C946.7 278.3 966.7 245 980 220C993.3 195 1005 161.7 1010 150" stroke-width="31.5" stroke="rgb(165,165,165)"/><path d="M0 490C25 491.7 100 495.8 150 500C200 504.2 251.7 515.8 300 515C348.3 514.2 416.7 498.3 440 495" stroke-width="67.2" stroke="rgb(165,165,165)"/><path d="M130 210L160 240" stroke-width="42" stroke="rgb(165,165,165)"/><path d="M1000 965L1040 1040" stroke-width="29.4" stroke="rgb(165,165,165)"/><path d="M600 1330C616.7 1336.7 666.7 1360 700 1370C733.3 1380 783.3 1386.7 800 1390" stroke-width="29.4" stroke="rgb(165,165,165)"/><path d="M0 1235L25 1240" stroke-width="42" stroke="rgb(165,165,165)"/><path d="M200 20C210 28.3 238.3 55 260 70C281.7 85 318.3 103.3 330 110" stroke-width="99.8" stroke="rgb(172,172,172)"/><path d="M260 1140C266.7 1146.7 285 1165 300 1180C315 1195 333.3 1213.3 350 1230C366.7 1246.7 388.3 1265 400 1280C411.7 1295 416.7 1313.3 420 1320" stroke-width="33.6" stroke="rgb(179,179,179)"/><path d="M300 1090C310 1085.8 340 1071.7 360 1065C380 1058.3 410 1052.5 420 1050" stroke-width="31.5" stroke="rgb(179,179,179)"/><path d="M0 170C13.3 168.3 46.7 160.8 80 160C113.3 159.2 158.3 166.7 200 165C241.7 163.3 288.3 152.5 330 150C371.7 147.5 405 148.3 450 150C495 151.7 575 158.3 600 160" stroke-width="42" stroke="rgb(206,206,206)"/><path d="M600 170C616.7 166.7 661.7 155.8 700 150C738.3 144.2 786.7 140 830 135C873.3 130 918.3 120.8 960 120C1001.7 119.2 1046.7 126.7 1080 130C1113.3 133.3 1131.7 140 1160 140C1188.3 140 1235 131.7 1250 130" stroke-width="42" stroke="rgb(206,206,206)"/><path d="M1300 60C1313.3 56.7 1357 45.8 1380 40C1403 34.2 1428.3 27.5 1438 25" stroke-width="29.4" stroke="rgb(206,206,206)"/><path d="M530 658C550 657.5 611.7 656.3 650 655C688.3 653.7 718.3 652.5 760 650C801.7 647.5 860 642.5 900 640C940 637.5 973.3 632.5 1000 635C1026.7 637.5 1050 651.7 1060 655" stroke-width="29.4" stroke="rgb(206,206,206)"/><path d="M160 1095L185 1105" stroke-width="63" stroke="rgb(206,206,206)"/><path d="M1415 1410L1430 1415" stroke-width="42" stroke="rgb(206,206,206)"/><path d="M0 420C16.7 416.7 66.7 400 100 400C133.3 400 166.7 411.7 200 420C233.3 428.3 270 442.5 300 450C330 457.5 356.7 465 380 465C403.3 465 430 452.5 440 450" stroke-width="46.2" stroke="rgb(220,220,220)"/><path d="M440 440C453.3 434.2 490 412.5 520 405C550 397.5 583.3 398.3 620 395C656.7 391.7 720 386.7 740 385" stroke-width="31.5" stroke="rgb(234,234,234)"/><path d="M530 660C524.2 666.7 504.2 681.7 495 700C485.8 718.3 484.2 745 475 770C465.8 795 444.2 823.3 440 850C435.8 876.7 441.7 907.5 450 930C458.3 952.5 483.3 975.8 490 985" stroke-width="33.6" stroke="rgb(234,234,234)"/><path d="M1095 670C1109.2 669.2 1152.5 666.7 1180 665C1207.5 663.3 1231.7 660.8 1260 660C1288.3 659.2 1320.3 661.7 1350 660C1379.7 658.3 1423.3 651.7 1438 650" stroke-width="31.5" stroke="rgb(234,234,234)"/><path d="M1095 720C1102.5 728.3 1117.5 755 1140 770C1162.5 785 1196.7 798.3 1230 810C1263.3 821.7 1305.3 831.7 1340 840C1374.7 848.3 1421.7 856.7 1438 860" stroke-width="29.4" stroke="rgb(234,234,234)"/><path d="M80 825L100 822" stroke-width="37.8" stroke="rgb(234,234,234)"/><path d="M290 832L315 832" stroke-width="37.8" stroke="rgb(234,234,234)"/><path d="M490 985C508.3 985.8 565 991.7 600 990C635 988.3 666.7 979.2 700 975C733.3 970.8 765.8 965.8 800 965C834.2 964.2 871.7 970 905 970C938.3 970 984.2 965.8 1000 965" stroke-width="33.6" stroke="rgb(241,241,241)"/><path d="M445 440C448.3 453.3 456.7 491.7 465 520C473.3 548.3 484.2 586.7 495 610C505.8 633.3 524.2 651.7 530 660" stroke-width="31.5" stroke="rgb(248,248,248)"/><path d="M1090 690C1087.5 703.3 1086.7 746.7 1075 770C1063.3 793.3 1039.2 806.7 1020 830C1000.8 853.3 979.2 886.7 960 910C940.8 933.3 914.2 960 905 970" stroke-width="31.5" stroke="rgb(248,248,248)"/><path d="M560 1155L585 1168" stroke-width="42" stroke="rgb(248,248,248)"/><path d="M1115 1320L1130 1322" stroke-width="42" stroke="rgb(248,248,248)"/><path d="M430 0C421.7 8.3 395 31.7 380 50C365 68.3 350 95 340 110C330 125 323.3 135 320 140" stroke-width="31.5" stroke="rgb(255,255,255)"/><path d="M60 160L80 160" stroke-width="31.5" stroke="rgb(255,255,255)"/><path d="M175 163L195 163" stroke-width="31.5" stroke="rgb(255,255,255)"/><path d="M670 148L700 145" stroke-width="31.5" stroke="rgb(255,255,255)"/><path d="M830 138L860 135" stroke-width="31.5" stroke="rgb(255,255,255)"/><path d="M1025 110L1045 112" stroke-width="35.7" stroke="rgb(255,255,255)"/><path d="M1135 140L1160 142" stroke-width="31.5" stroke="rgb(255,255,255)"/><path d="M880 40L940 60" stroke-width="42" stroke="rgb(255,255,255)"/><path d="M1230 110L1260 150" stroke-width="47.2" stroke="rgb(255,255,255)"/><path d="M1250 140C1263.3 148.3 1305 175 1330 190C1355 205 1382 215.8 1400 230C1418 244.2 1431.7 267.5 1438 275" stroke-width="35.7" stroke="rgb(255,255,255)"/><path d="M595 185C604.2 194.2 632.5 220.8 650 240C667.5 259.2 685 279.2 700 300C715 320.8 733.3 354.2 740 365" stroke-width="39.9" stroke="rgb(255,255,255)"/><path d="M740 365C750 367.5 778.3 379.2 800 380C821.7 380.8 858.3 371.7 870 370" stroke-width="35.7" stroke="rgb(255,255,255)"/><path d="M870 365C880 375.8 910 409.2 930 430C950 450.8 971.7 473.3 990 490C1008.3 506.7 1031.7 523.3 1040 530" stroke-width="35.7" stroke="rgb(255,255,255)"/><path d="M1040 530C1037.5 541.7 1023.3 580 1025 600C1026.7 620 1039.2 635 1050 650C1060.8 665 1083.3 683.3 1090 690" stroke-width="31.5" stroke="rgb(255,255,255)"/><path d="M610 990L650 988" stroke-width="37.8" stroke="rgb(255,255,255)"/><path d="M880 970L920 970" stroke-width="37.8" stroke="rgb(255,255,255)"/><path d="M1040 530C1055 524.2 1103.3 508.3 1130 495C1156.7 481.7 1173.3 467.5 1200 450C1226.7 432.5 1261.7 411.7 1290 390C1318.3 368.3 1345.3 343.3 1370 320C1394.7 296.7 1426.7 261.7 1438 250" stroke-width="31.5" stroke="rgb(255,255,255)"/><path d="M1225 665L1255 662" stroke-width="35.7" stroke="rgb(255,255,255)"/><path d="M1360 655L1385 655" stroke-width="35.7" stroke="rgb(255,255,255)"/><path d="M100 385C113.3 381.7 153.3 370 180 365C206.7 360 235 357.5 260 355C285 352.5 308.3 343.3 330 350C351.7 356.7 371.7 380 390 395C408.3 410 431.7 432.5 440 440" stroke-width="33.6" stroke="rgb(255,255,255)"/><path d="M350 458L370 460" stroke-width="31.5" stroke="rgb(255,255,255)"/><path d="M1040 1040C1055 1042.5 1098.3 1049.2 1130 1055C1161.7 1060.8 1201.7 1070 1230 1075C1258.3 1080 1275 1080.8 1300 1085C1325 1089.2 1357 1095 1380 1100C1403 1105 1428.3 1112.5 1438 1115" stroke-width="33.6" stroke="rgb(255,255,255)"/><path d="M1285 1083L1315 1088" stroke-width="46.2" stroke="rgb(255,255,255)"/><path d="M668 1348L705 1356" stroke-width="52.5" stroke="rgb(255,255,255)"/><path d="M895 1408L910 1412" stroke-width="46.2" stroke="rgb(255,255,255)"/></g><filter id="cb0" x="-30%" y="-30%" width="160%" height="160%"><feGaussianBlur stdDeviation="8.5"/></filter><g filter="url(#cb0)" fill="none" stroke-linecap="round" stroke-linejoin="round"><path d="M1290 1084L1312 1088" stroke-width="26" stroke="rgb(255,255,255)"/><path d="M625 215C632.5 223.3 655 245.8 670 265C685 284.2 707.5 319.2 715 330" stroke-width="24" stroke="rgb(250,250,250)"/><path d="M1235 118L1255 142" stroke-width="26" stroke="rgb(250,250,250)"/><path d="M890 45L930 58" stroke-width="26" stroke="rgb(245,245,245)"/><path d="M905 400C914.2 410 941.7 441.7 960 460C978.3 478.3 1005.8 501.7 1015 510" stroke-width="20" stroke="rgb(240,240,240)"/><path d="M120 380C133.3 377 170 366.7 200 362C230 357.3 283.3 353.7 300 352" stroke-width="18" stroke="rgb(240,240,240)"/></g><rect width="1438" height="1438" filter="url(#nb0)" opacity="0.09"/><path d="M760 563L760 799" stroke="#c8b400" stroke-width="3"/><rect x="745.0" y="548.0" width="30" height="30" fill="#ffe600" transform="rotate(-0.0 760 563)"/><rect x="745.0" y="609.0" width="30" height="30" fill="#ffe600" transform="rotate(-0.0 760 624)"/><rect x="745.0" y="670.0" width="30" height="30" fill="#ffe600" transform="rotate(-0.0 760 685)"/><rect x="745.0" y="731.0" width="30" height="30" fill="#ffe600" transform="rotate(-0.0 760 746)"/><rect x="745.0" y="793" width="30" height="8" fill="#ffe600" transform="rotate(-0.0 760 797)"/></svg><!--B0SVG_END--></div>
<div class="img" id="B1" style="left:426px;top:971px;width:87.3px;height:397px;"><!--B1SVG_BEGIN--><svg width="87.3" height="397" viewBox="0 0 316 1438" preserveAspectRatio="none"><defs><filter id="bb1" filterUnits="userSpaceOnUse" x="0" y="0" width="316" height="1438"><feGaussianBlur in="SourceGraphic" stdDeviation="9.5" result="bl"/><feTurbulence type="fractalNoise" baseFrequency="0.022" numOctaves="2" seed="51" result="t" color-interpolation-filters="sRGB"/><feColorMatrix in="t" type="matrix" color-interpolation-filters="sRGB" values="1.00 0 0 0 0.30 1.00 0 0 0 0.30 1.00 0 0 0 0.30 0 0 0 0 1" result="t2"/><feComposite in="bl" in2="t2" operator="arithmetic" k1="1" k2="0" k3="0" k4="0" color-interpolation-filters="sRGB"/></filter><filter id="hb1" x="-10%" y="-10%" width="120%" height="120%"><feGaussianBlur stdDeviation="24"/></filter><filter id="nb1" x="0" y="0" width="100%" height="100%"><feTurbulence type="fractalNoise" baseFrequency="0.09" numOctaves="2" seed="11"/><feColorMatrix type="matrix" values="0 0 0 0 1  0 0 0 0 1  0 0 0 0 1  1.6 0 0 0 -0.45"/></filter></defs><rect width="316" height="1438" fill="rgb(7,7,7)"/><g filter="url(#hb1)" fill="none" stroke-linecap="round" stroke-linejoin="round" stroke="#fff"><path d="M20 380C30 381.7 60 385 80 390C100 395 122.5 401.7 140 410C157.5 418.3 170 437.5 185 440C200 442.5 208.2 431.7 230 425C251.8 418.3 301.7 404.2 316 400" stroke-width="130" stroke-opacity="0.36"/><path d="M130 408L150 415" stroke-width="104" stroke-opacity="0.36"/><path d="M215 430L235 425" stroke-width="93.6" stroke-opacity="0.36"/><path d="M185 450C183.3 475 177.5 550 175 600C172.5 650 170.5 700 170 750C169.5 800 170.3 858.3 172 900C173.7 941.7 179 975 180 1000C181 1025 178.3 1041.7 178 1050" stroke-width="104" stroke-opacity="0.32"/><path d="M0 1080C10 1083.3 41.7 1093.3 60 1100C78.3 1106.7 93.3 1121.7 110 1120C126.7 1118.3 148.7 1100.8 160 1090C171.3 1079.2 164.7 1062.5 178 1055C191.3 1047.5 217 1045.8 240 1045C263 1044.2 303.3 1049.2 316 1050" stroke-width="130" stroke-opacity="0.36"/><path d="M90 1115L115 1118" stroke-width="114.4" stroke-opacity="0.36"/><path d="M285 1050L310 1050" stroke-width="104" stroke-opacity="0.36"/><path d="M0 1150L20 1180" stroke-width="104" stroke-opacity="0.36"/><path d="M130 1250C129.2 1258.3 125 1268.7 125 1300C125 1331.3 129.2 1415 130 1438" stroke-width="93.6" stroke-opacity="0.32"/><path d="M316 1100C311.7 1125 292.7 1193.7 290 1250C287.3 1306.3 298.3 1406.7 300 1438" stroke-width="104" stroke-opacity="0.17"/><path d="M0 140L20 170" stroke-width="130" stroke-opacity="0.28"/><path d="M200 160L215 200" stroke-width="104" stroke-opacity="0.19"/><path d="M260 40C256.7 75 246.7 193.3 240 250C233.3 306.7 223.3 358.3 220 380" stroke-width="104" stroke-opacity="0.11"/><path d="M40 20L50 60" stroke-width="104" stroke-opacity="0.13"/></g><g filter="url(#bb1)" fill="none" stroke-linecap="round" stroke-linejoin="round"><path d="M260 40C256.7 75 246.7 193.3 240 250C233.3 306.7 223.3 358.3 220 380" stroke-width="40" stroke="rgb(79,79,79)"/><path d="M40 20L50 60" stroke-width="40" stroke="rgb(92,92,92)"/><path d="M316 1100C311.7 1125 292.7 1193.7 290 1250C287.3 1306.3 298.3 1406.7 300 1438" stroke-width="40" stroke="rgb(118,118,118)"/><path d="M200 160L215 200" stroke-width="40" stroke="rgb(132,132,132)"/><path d="M0 140L20 170" stroke-width="50" stroke="rgb(198,198,198)"/><path d="M185 450C183.3 475 177.5 550 175 600C172.5 650 170.5 700 170 750C169.5 800 170.3 858.3 172 900C173.7 941.7 179 975 180 1000C181 1025 178.3 1041.7 178 1050" stroke-width="40" stroke="rgb(224,224,224)"/><path d="M130 1250C129.2 1258.3 125 1268.7 125 1300C125 1331.3 129.2 1415 130 1438" stroke-width="36" stroke="rgb(224,224,224)"/><path d="M20 380C30 381.7 60 385 80 390C100 395 122.5 401.7 140 410C157.5 418.3 170 437.5 185 440C200 442.5 208.2 431.7 230 425C251.8 418.3 301.7 404.2 316 400" stroke-width="50" stroke="rgb(255,255,255)"/><path d="M130 408L150 415" stroke-width="40" stroke="rgb(255,255,255)"/><path d="M215 430L235 425" stroke-width="36" stroke="rgb(255,255,255)"/><path d="M0 1080C10 1083.3 41.7 1093.3 60 1100C78.3 1106.7 93.3 1121.7 110 1120C126.7 1118.3 148.7 1100.8 160 1090C171.3 1079.2 164.7 1062.5 178 1055C191.3 1047.5 217 1045.8 240 1045C263 1044.2 303.3 1049.2 316 1050" stroke-width="50" stroke="rgb(255,255,255)"/><path d="M90 1115L115 1118" stroke-width="44" stroke="rgb(255,255,255)"/><path d="M285 1050L310 1050" stroke-width="40" stroke="rgb(255,255,255)"/><path d="M0 1150L20 1180" stroke-width="40" stroke="rgb(255,255,255)"/></g><filter id="cb1" x="-30%" y="-30%" width="160%" height="160%"><feGaussianBlur stdDeviation="9.5"/></filter><g filter="url(#cb1)" fill="none" stroke-linecap="round" stroke-linejoin="round"><path d="M125 405L150 415" stroke-width="22" stroke="rgb(250,250,250)"/><path d="M92 1115L112 1118" stroke-width="22" stroke="rgb(250,250,250)"/><path d="M170 880L172 930" stroke-width="18" stroke="rgb(240,240,240)"/></g><rect width="316" height="1438" filter="url(#nb1)" opacity="0.08"/><polygon points="135,490 55,499 85,514 82,550" fill="#ffe800" stroke="#0a0800" stroke-width="2.5" stroke-linejoin="miter" paint-order="stroke"/><polygon points="118,998 38,996 73,983 66,943" fill="#ffe800" stroke="#0a0800" stroke-width="2.5" stroke-linejoin="miter" paint-order="stroke"/></svg><!--B1SVG_END--></div>
<div class="img" id="B2" style="left:526.3px;top:971px;width:87.3px;height:397px;"><!--B2SVG_BEGIN--><svg width="87.3" height="397" viewBox="0 0 316 1438" preserveAspectRatio="none"><defs><filter id="bb2" filterUnits="userSpaceOnUse" x="0" y="0" width="316" height="1438"><feGaussianBlur in="SourceGraphic" stdDeviation="9.5" result="bl"/><feTurbulence type="fractalNoise" baseFrequency="0.022" numOctaves="2" seed="52" result="t" color-interpolation-filters="sRGB"/><feColorMatrix in="t" type="matrix" color-interpolation-filters="sRGB" values="1.00 0 0 0 0.30 1.00 0 0 0 0.30 1.00 0 0 0 0.30 0 0 0 0 1" result="t2"/><feComposite in="bl" in2="t2" operator="arithmetic" k1="1" k2="0" k3="0" k4="0" color-interpolation-filters="sRGB"/></filter><filter id="hb2" x="-10%" y="-10%" width="120%" height="120%"><feGaussianBlur stdDeviation="24"/></filter><filter id="nb2" x="0" y="0" width="100%" height="100%"><feTurbulence type="fractalNoise" baseFrequency="0.09" numOctaves="2" seed="12"/><feColorMatrix type="matrix" values="0 0 0 0 1  0 0 0 0 1  0 0 0 0 1  1.6 0 0 0 -0.45"/></filter></defs><rect width="316" height="1438" fill="rgb(7,7,7)"/><g filter="url(#hb2)" fill="none" stroke-linecap="round" stroke-linejoin="round" stroke="#fff"><path d="M0 200C6.7 202.5 23.3 206.7 40 215C56.7 223.3 80 240 100 250C120 260 140 265 160 275C180 285 201.7 306.7 220 310C238.3 313.3 254 298.3 270 295C286 291.7 308.3 290.8 316 290" stroke-width="135.2" stroke-opacity="0.31"/><path d="M150 268L165 275" stroke-width="88.4" stroke-opacity="0.36"/><path d="M215 318L235 320" stroke-width="88.4" stroke-opacity="0.36"/><path d="M130 0C141.7 10 196.7 35 200 60C203.3 85 158.3 135 150 150" stroke-width="130" stroke-opacity="0.11"/><path d="M0 1220C10 1223.3 40 1238.3 60 1240C80 1241.7 110 1231.7 120 1230" stroke-width="130" stroke-opacity="0.26"/><path d="M100 1350L100 1438" stroke-width="93.6" stroke-opacity="0.28"/><path d="M300 1250L310 1438" stroke-width="104" stroke-opacity="0.15"/><path d="M130 1040L150 1060" stroke-width="130" stroke-opacity="0.09"/></g><g filter="url(#bb2)" fill="none" stroke-linecap="round" stroke-linejoin="round"><path d="M130 1040L150 1060" stroke-width="50" stroke="rgb(66,66,66)"/><path d="M130 0C141.7 10 196.7 35 200 60C203.3 85 158.3 135 150 150" stroke-width="50" stroke="rgb(79,79,79)"/><path d="M300 1250L310 1438" stroke-width="40" stroke="rgb(105,105,105)"/><path d="M0 1220C10 1223.3 40 1238.3 60 1240C80 1241.7 110 1231.7 120 1230" stroke-width="50" stroke="rgb(184,184,184)"/><path d="M100 1350L100 1438" stroke-width="36" stroke="rgb(198,198,198)"/><path d="M0 200C6.7 202.5 23.3 206.7 40 215C56.7 223.3 80 240 100 250C120 260 140 265 160 275C180 285 201.7 306.7 220 310C238.3 313.3 254 298.3 270 295C286 291.7 308.3 290.8 316 290" stroke-width="52" stroke="rgb(217,217,217)"/><path d="M150 268L165 275" stroke-width="34" stroke="rgb(255,255,255)"/><path d="M215 318L235 320" stroke-width="34" stroke="rgb(255,255,255)"/></g><filter id="cb2" x="-30%" y="-30%" width="160%" height="160%"><feGaussianBlur stdDeviation="9.5"/></filter><g filter="url(#cb2)" fill="none" stroke-linecap="round" stroke-linejoin="round"><path d="M150 268L165 275" stroke-width="16" stroke="rgb(245,245,245)"/><path d="M215 318L235 320" stroke-width="16" stroke="rgb(245,245,245)"/></g><rect width="316" height="1438" filter="url(#nb2)" opacity="0.08"/><polygon points="152,370 72,379 102,394 99,430" fill="#ffe800" stroke="#0a0800" stroke-width="2.5" stroke-linejoin="miter" paint-order="stroke"/><polygon points="100,1155 20,1153 55,1140 48,1100" fill="#ffe800" stroke="#0a0800" stroke-width="2.5" stroke-linejoin="miter" paint-order="stroke"/></svg><!--B2SVG_END--></div>
<div class="img" id="B3" style="left:626.6px;top:971px;width:87.3px;height:397px;"><!--B3SVG_BEGIN--><svg width="87.3" height="397" viewBox="0 0 316 1438" preserveAspectRatio="none"><defs><filter id="bb3" filterUnits="userSpaceOnUse" x="0" y="0" width="316" height="1438"><feGaussianBlur in="SourceGraphic" stdDeviation="9.5" result="bl"/><feTurbulence type="fractalNoise" baseFrequency="0.022" numOctaves="2" seed="53" result="t" color-interpolation-filters="sRGB"/><feColorMatrix in="t" type="matrix" color-interpolation-filters="sRGB" values="1.00 0 0 0 0.30 1.00 0 0 0 0.30 1.00 0 0 0 0.30 0 0 0 0 1" result="t2"/><feComposite in="bl" in2="t2" operator="arithmetic" k1="1" k2="0" k3="0" k4="0" color-interpolation-filters="sRGB"/></filter><filter id="hb3" x="-10%" y="-10%" width="120%" height="120%"><feGaussianBlur stdDeviation="24"/></filter><filter id="nb3" x="0" y="0" width="100%" height="100%"><feTurbulence type="fractalNoise" baseFrequency="0.09" numOctaves="2" seed="13"/><feColorMatrix type="matrix" values="0 0 0 0 1  0 0 0 0 1  0 0 0 0 1  1.6 0 0 0 -0.45"/></filter></defs><rect width="316" height="1438" fill="rgb(7,7,7)"/><g filter="url(#hb3)" fill="none" stroke-linecap="round" stroke-linejoin="round" stroke="#fff"><path d="M0 180C8.3 182.5 31.7 188.3 50 195C68.3 201.7 91.7 212.5 110 220C128.3 227.5 143.3 230.8 160 240C176.7 249.2 193.3 270 210 275C226.7 280 242.3 271.7 260 270C277.7 268.3 306.7 265.8 316 265" stroke-width="135.2" stroke-opacity="0.32"/><path d="M150 233L165 240" stroke-width="88.4" stroke-opacity="0.36"/><path d="M240 275L260 273" stroke-width="88.4" stroke-opacity="0.36"/><path d="M200 30L130 120" stroke-width="130" stroke-opacity="0.11"/><path d="M0 1270C10 1270.8 41.7 1276.7 60 1275C78.3 1273.3 101.7 1262.5 110 1260" stroke-width="117" stroke-opacity="0.26"/><path d="M100 1330L95 1438" stroke-width="88.4" stroke-opacity="0.26"/><path d="M290 1290L316 1250" stroke-width="104" stroke-opacity="0.15"/><path d="M280 1380L300 1438" stroke-width="93.6" stroke-opacity="0.13"/></g><g filter="url(#bb3)" fill="none" stroke-linecap="round" stroke-linejoin="round"><path d="M200 30L130 120" stroke-width="50" stroke="rgb(79,79,79)"/><path d="M280 1380L300 1438" stroke-width="36" stroke="rgb(92,92,92)"/><path d="M290 1290L316 1250" stroke-width="40" stroke="rgb(105,105,105)"/><path d="M0 1270C10 1270.8 41.7 1276.7 60 1275C78.3 1273.3 101.7 1262.5 110 1260" stroke-width="45" stroke="rgb(184,184,184)"/><path d="M100 1330L95 1438" stroke-width="34" stroke="rgb(184,184,184)"/><path d="M0 180C8.3 182.5 31.7 188.3 50 195C68.3 201.7 91.7 212.5 110 220C128.3 227.5 143.3 230.8 160 240C176.7 249.2 193.3 270 210 275C226.7 280 242.3 271.7 260 270C277.7 268.3 306.7 265.8 316 265" stroke-width="52" stroke="rgb(224,224,224)"/><path d="M150 233L165 240" stroke-width="34" stroke="rgb(255,255,255)"/><path d="M240 275L260 273" stroke-width="34" stroke="rgb(255,255,255)"/></g><filter id="cb3" x="-30%" y="-30%" width="160%" height="160%"><feGaussianBlur stdDeviation="9.5"/></filter><g filter="url(#cb3)" fill="none" stroke-linecap="round" stroke-linejoin="round"><path d="M150 233L165 240" stroke-width="16" stroke="rgb(245,245,245)"/><path d="M240 275L260 273" stroke-width="16" stroke="rgb(245,245,245)"/></g><rect width="316" height="1438" filter="url(#nb3)" opacity="0.08"/><polygon points="152,335 72,344 102,359 99,395" fill="#ffe800" stroke="#0a0800" stroke-width="2.5" stroke-linejoin="miter" paint-order="stroke"/><polygon points="100,1205 20,1203 55,1190 48,1150" fill="#ffe800" stroke="#0a0800" stroke-width="2.5" stroke-linejoin="miter" paint-order="stroke"/></svg><!--B3SVG_END--></div>
<div class="img" id="B4" style="left:726.9px;top:971px;width:87.3px;height:397px;"><!--B4SVG_BEGIN--><svg width="87.3" height="397" viewBox="0 0 316 1438" preserveAspectRatio="none"><defs><filter id="bb4" filterUnits="userSpaceOnUse" x="0" y="0" width="316" height="1438"><feGaussianBlur in="SourceGraphic" stdDeviation="9.5" result="bl"/><feTurbulence type="fractalNoise" baseFrequency="0.022" numOctaves="2" seed="54" result="t" color-interpolation-filters="sRGB"/><feColorMatrix in="t" type="matrix" color-interpolation-filters="sRGB" values="1.00 0 0 0 0.30 1.00 0 0 0 0.30 1.00 0 0 0 0.30 0 0 0 0 1" result="t2"/><feComposite in="bl" in2="t2" operator="arithmetic" k1="1" k2="0" k3="0" k4="0" color-interpolation-filters="sRGB"/></filter><filter id="hb4" x="-10%" y="-10%" width="120%" height="120%"><feGaussianBlur stdDeviation="24"/></filter><filter id="nb4" x="0" y="0" width="100%" height="100%"><feTurbulence type="fractalNoise" baseFrequency="0.09" numOctaves="2" seed="14"/><feColorMatrix type="matrix" values="0 0 0 0 1  0 0 0 0 1  0 0 0 0 1  1.6 0 0 0 -0.45"/></filter></defs><rect width="316" height="1438" fill="rgb(7,7,7)"/><g filter="url(#hb4)" fill="none" stroke-linecap="round" stroke-linejoin="round" stroke="#fff"><path d="M30 160C40 164.2 66.7 175.8 90 185C113.3 194.2 143.3 201.7 170 215C196.7 228.3 225.7 256.7 250 265C274.3 273.3 305 265 316 265" stroke-width="135.2" stroke-opacity="0.32"/><path d="M165 213L178 218" stroke-width="88.4" stroke-opacity="0.36"/><path d="M240 268L262 268" stroke-width="93.6" stroke-opacity="0.36"/><path d="M195 25L205 35" stroke-width="130" stroke-opacity="0.15"/><path d="M0 1280C10 1280.8 41.7 1285.8 60 1285C78.3 1284.2 101.7 1276.7 110 1275" stroke-width="130" stroke-opacity="0.28"/><path d="M100 1380L100 1438" stroke-width="88.4" stroke-opacity="0.28"/><path d="M290 1290L300 1438" stroke-width="93.6" stroke-opacity="0.15"/><path d="M150 940L150 960" stroke-width="78" stroke-opacity="0.09"/><path d="M150 1080L150 1100" stroke-width="78" stroke-opacity="0.09"/></g><g filter="url(#bb4)" fill="none" stroke-linecap="round" stroke-linejoin="round"><path d="M150 940L150 960" stroke-width="30" stroke="rgb(66,66,66)"/><path d="M150 1080L150 1100" stroke-width="30" stroke="rgb(66,66,66)"/><path d="M195 25L205 35" stroke-width="50" stroke="rgb(105,105,105)"/><path d="M290 1290L300 1438" stroke-width="36" stroke="rgb(105,105,105)"/><path d="M0 1280C10 1280.8 41.7 1285.8 60 1285C78.3 1284.2 101.7 1276.7 110 1275" stroke-width="50" stroke="rgb(198,198,198)"/><path d="M100 1380L100 1438" stroke-width="34" stroke="rgb(198,198,198)"/><path d="M30 160C40 164.2 66.7 175.8 90 185C113.3 194.2 143.3 201.7 170 215C196.7 228.3 225.7 256.7 250 265C274.3 273.3 305 265 316 265" stroke-width="52" stroke="rgb(224,224,224)"/><path d="M165 213L178 218" stroke-width="34" stroke="rgb(255,255,255)"/><path d="M240 268L262 268" stroke-width="36" stroke="rgb(255,255,255)"/></g><filter id="cb4" x="-30%" y="-30%" width="160%" height="160%"><feGaussianBlur stdDeviation="9.5"/></filter><g filter="url(#cb4)" fill="none" stroke-linecap="round" stroke-linejoin="round"><path d="M165 213L178 218" stroke-width="16" stroke="rgb(245,245,245)"/><path d="M240 268L262 268" stroke-width="16" stroke="rgb(245,245,245)"/></g><rect width="316" height="1438" filter="url(#nb4)" opacity="0.08"/><polygon points="170,320 90,329 120,344 117,380" fill="#ffe800" stroke="#0a0800" stroke-width="2.5" stroke-linejoin="miter" paint-order="stroke"/><polygon points="102,1222 22,1220 57,1207 50,1167" fill="#ffe800" stroke="#0a0800" stroke-width="2.5" stroke-linejoin="miter" paint-order="stroke"/></svg><!--B4SVG_END--></div>
<div class="img" id="B5" style="left:827.2px;top:971px;width:87.3px;height:397px;"><!--B5SVG_BEGIN--><svg width="87.3" height="397" viewBox="0 0 316 1438" preserveAspectRatio="none"><defs><filter id="bb5" filterUnits="userSpaceOnUse" x="0" y="0" width="316" height="1438"><feGaussianBlur in="SourceGraphic" stdDeviation="9.5" result="bl"/><feTurbulence type="fractalNoise" baseFrequency="0.022" numOctaves="2" seed="55" result="t" color-interpolation-filters="sRGB"/><feColorMatrix in="t" type="matrix" color-interpolation-filters="sRGB" values="1.00 0 0 0 0.30 1.00 0 0 0 0.30 1.00 0 0 0 0.30 0 0 0 0 1" result="t2"/><feComposite in="bl" in2="t2" operator="arithmetic" k1="1" k2="0" k3="0" k4="0" color-interpolation-filters="sRGB"/></filter><filter id="hb5" x="-10%" y="-10%" width="120%" height="120%"><feGaussianBlur stdDeviation="24"/></filter><filter id="nb5" x="0" y="0" width="100%" height="100%"><feTurbulence type="fractalNoise" baseFrequency="0.09" numOctaves="2" seed="15"/><feColorMatrix type="matrix" values="0 0 0 0 1  0 0 0 0 1  0 0 0 0 1  1.6 0 0 0 -0.45"/></filter></defs><rect width="316" height="1438" fill="rgb(7,7,7)"/><g filter="url(#hb5)" fill="none" stroke-linecap="round" stroke-linejoin="round" stroke="#fff"><path d="M40 150C50 153.3 76.7 160.8 100 170C123.3 179.2 153.3 190.8 180 205C206.7 219.2 237.3 247.5 260 255C282.7 262.5 306.7 250.8 316 250" stroke-width="135.2" stroke-opacity="0.32"/><path d="M75 160L90 166" stroke-width="88.4" stroke-opacity="0.36"/><path d="M255 255L280 255" stroke-width="93.6" stroke-opacity="0.36"/><path d="M200 20L215 40" stroke-width="130" stroke-opacity="0.13"/><path d="M0 1295C10 1295.8 40.8 1301.7 60 1300C79.2 1298.3 105.8 1287.5 115 1285" stroke-width="130" stroke-opacity="0.28"/><path d="M100 1390L100 1438" stroke-width="88.4" stroke-opacity="0.26"/><path d="M290 1300L300 1438" stroke-width="93.6" stroke-opacity="0.13"/><path d="M160 1090L160 1110" stroke-width="78" stroke-opacity="0.09"/></g><g filter="url(#bb5)" fill="none" stroke-linecap="round" stroke-linejoin="round"><path d="M160 1090L160 1110" stroke-width="30" stroke="rgb(66,66,66)"/><path d="M200 20L215 40" stroke-width="50" stroke="rgb(92,92,92)"/><path d="M290 1300L300 1438" stroke-width="36" stroke="rgb(92,92,92)"/><path d="M100 1390L100 1438" stroke-width="34" stroke="rgb(184,184,184)"/><path d="M0 1295C10 1295.8 40.8 1301.7 60 1300C79.2 1298.3 105.8 1287.5 115 1285" stroke-width="50" stroke="rgb(198,198,198)"/><path d="M40 150C50 153.3 76.7 160.8 100 170C123.3 179.2 153.3 190.8 180 205C206.7 219.2 237.3 247.5 260 255C282.7 262.5 306.7 250.8 316 250" stroke-width="52" stroke="rgb(224,224,224)"/><path d="M75 160L90 166" stroke-width="34" stroke="rgb(255,255,255)"/><path d="M255 255L280 255" stroke-width="36" stroke="rgb(255,255,255)"/></g><filter id="cb5" x="-30%" y="-30%" width="160%" height="160%"><feGaussianBlur stdDeviation="9.5"/></filter><g filter="url(#cb5)" fill="none" stroke-linecap="round" stroke-linejoin="round"><path d="M75 160L90 166" stroke-width="16" stroke="rgb(245,245,245)"/><path d="M255 255L280 255" stroke-width="16" stroke="rgb(245,245,245)"/></g><rect width="316" height="1438" filter="url(#nb5)" opacity="0.08"/><polygon points="188,300 108,309 138,324 135,360" fill="#ffe800" stroke="#0a0800" stroke-width="2.5" stroke-linejoin="miter" paint-order="stroke"/><polygon points="120,1222 40,1220 75,1207 68,1167" fill="#ffe800" stroke="#0a0800" stroke-width="2.5" stroke-linejoin="miter" paint-order="stroke"/></svg><!--B5SVG_END--></div>
<div class="bar" style="left:30.4px;top:1327.2px;width:211.8px;height:11.2px;"></div>

<!-- Panel C images -->
<div class="img" id="C0" style="left:959.5px;top:971px;width:397.5px;height:397px;"><!--C0SVG_BEGIN--><svg width="397.5" height="397" viewBox="0 0 1438 1438" preserveAspectRatio="none"><defs><filter id="bc0" filterUnits="userSpaceOnUse" x="0" y="0" width="1438" height="1438"><feGaussianBlur in="SourceGraphic" stdDeviation="9.5" result="bl"/><feTurbulence type="fractalNoise" baseFrequency="0.022" numOctaves="2" seed="47" result="t" color-interpolation-filters="sRGB"/><feColorMatrix in="t" type="matrix" color-interpolation-filters="sRGB" values="1.00 0 0 0 0.30 1.00 0 0 0 0.30 1.00 0 0 0 0.30 0 0 0 0 1" result="t2"/><feComposite in="bl" in2="t2" operator="arithmetic" k1="1" k2="0" k3="0" k4="0" color-interpolation-filters="sRGB"/></filter><filter id="hc0" x="-10%" y="-10%" width="120%" height="120%"><feGaussianBlur stdDeviation="14"/></filter><filter id="nc0" x="0" y="0" width="100%" height="100%"><feTurbulence type="fractalNoise" baseFrequency="0.09" numOctaves="2" seed="7"/><feColorMatrix type="matrix" values="0 0 0 0 1  0 0 0 0 1  0 0 0 0 1  1.6 0 0 0 -0.45"/></filter></defs><rect width="1438" height="1438" fill="rgb(4,4,4)"/><g filter="url(#hc0)" fill="none" stroke-linecap="round" stroke-linejoin="round" stroke="#fff"><path d="M420 0C425 10 433.3 41.7 450 60C466.7 78.3 495 93.3 520 110C545 126.7 580 146.7 600 160C620 173.3 633.3 185 640 190" stroke-width="79.2" stroke-opacity="0.13"/><path d="M640 190C656.7 191.7 708.3 197.5 740 200C771.7 202.5 795 205 830 205C865 205 913.3 200 950 200C986.7 200 1023.3 205 1050 205C1076.7 205 1100 200.8 1110 200" stroke-width="74.8" stroke-opacity="0.12"/><path d="M1110 200C1125 195 1170 180 1200 170C1230 160 1261.7 150 1290 140C1318.3 130 1345.3 120 1370 110C1394.7 100 1426.7 85 1438 80" stroke-width="79.2" stroke-opacity="0.15"/><path d="M1170 0C1183.3 5 1223.3 21.7 1250 30C1276.7 38.3 1308.3 40 1330 50C1351.7 60 1371.7 83.3 1380 90" stroke-width="70.4" stroke-opacity="0.11"/><path d="M640 200C630 206.7 603.3 225 580 240C556.7 255 521.7 273.3 500 290C478.3 306.7 458.3 331.7 450 340" stroke-width="74.8" stroke-opacity="0.14"/><path d="M450 345C433.3 345.8 375 349.2 350 350C325 350.8 321.7 346.7 300 350C278.3 353.3 246.7 364.2 220 370C193.3 375.8 166.7 381.7 140 385C113.3 388.3 83.3 392.5 60 390C36.7 387.5 10 373.3 0 370" stroke-width="79.2" stroke-opacity="0.17"/><path d="M290 350L330 350" stroke-width="88" stroke-opacity="0.20"/><path d="M450 345C455 354.2 468.3 379.2 480 400C491.7 420.8 505 446.7 520 470C535 493.3 553.3 520 570 540C586.7 560 605 575.8 620 590C635 604.2 653.3 619.2 660 625" stroke-width="88" stroke-opacity="0.20"/><path d="M660 630C650 638.3 620 665 600 680C580 695 561.7 708.3 540 720C518.3 731.7 493.3 740.8 470 750C446.7 759.2 428.3 768.3 400 775C371.7 781.7 330 785.8 300 790C270 794.2 243.3 798.3 220 800C196.7 801.7 170 800 160 800" stroke-width="92.4" stroke-opacity="0.20"/><path d="M380 780C390 776.7 420 767 440 760C460 753 490 741.7 500 738" stroke-width="118.8" stroke-opacity="0.20"/><path d="M1110 205C1113.3 215.8 1120 249.2 1130 270C1140 290.8 1156.7 311.7 1170 330C1183.3 348.3 1203.3 371.7 1210 380" stroke-width="79.2" stroke-opacity="0.16"/><path d="M1200 365L1215 400" stroke-width="114.4" stroke-opacity="0.20"/><path d="M1210 385C1206.7 395.8 1198.3 430.8 1190 450C1181.7 469.2 1161.7 481.7 1160 500C1158.3 518.3 1173.3 540 1180 560C1186.7 580 1197.5 601.7 1200 620C1202.5 638.3 1195.8 661.7 1195 670" stroke-width="79.2" stroke-opacity="0.16"/><path d="M750 650C766.7 651.7 816.7 657.5 850 660C883.3 662.5 916.7 661.7 950 665C983.3 668.3 1020 676.7 1050 680C1080 683.3 1105.8 685.8 1130 685C1154.2 684.2 1184.2 676.7 1195 675" stroke-width="88" stroke-opacity="0.19"/><path d="M665 630L750 650" stroke-width="66" stroke-opacity="0.06"/><path d="M1195 675C1205.8 679.2 1237.5 689.2 1260 700C1282.5 710.8 1308.3 727.5 1330 740C1351.7 752.5 1372 766.7 1390 775C1408 783.3 1430 787.5 1438 790" stroke-width="79.2" stroke-opacity="0.16"/><path d="M30 400C33.3 416.7 48.3 466.7 50 500C51.7 533.3 43.3 566.7 40 600C36.7 633.3 28.3 666.7 30 700C31.7 733.3 45 778.3 50 800C55 821.7 58.3 825 60 830" stroke-width="79.2" stroke-opacity="0.18"/><path d="M42 620L35 690" stroke-width="96.8" stroke-opacity="0.20"/><path d="M0 830C10 830 43.3 831.7 60 830C76.7 828.3 93.3 821.7 100 820" stroke-width="79.2" stroke-opacity="0.19"/><path d="M0 900C16.7 910 66.7 940 100 960C133.3 980 176.7 1005.8 200 1020C223.3 1034.2 216.7 1040 240 1045C263.3 1050 300 1049.2 340 1050C380 1050.8 436.7 1053.3 480 1050C523.3 1046.7 563.3 1036.7 600 1030C636.7 1023.3 663.3 1019.2 700 1010C736.7 1000.8 778.3 987.5 820 975C861.7 962.5 910 947.5 950 935C990 922.5 1021.7 912.5 1060 900C1098.3 887.5 1141.7 872.5 1180 860C1218.3 847.5 1255 836.7 1290 825C1325 813.3 1373.3 795.8 1390 790" stroke-width="79.2" stroke-opacity="0.18"/><path d="M940 935L1060 900" stroke-width="83.6" stroke-opacity="0.20"/><path d="M320 1050L360 1050" stroke-width="83.6" stroke-opacity="0.20"/><path d="M240 1050C245 1061.7 261.7 1095 270 1120C278.3 1145 286.7 1175 290 1200C293.3 1225 290 1258.3 290 1270" stroke-width="66" stroke-opacity="0.12"/><path d="M0 1270C16.7 1270 66.7 1268.3 100 1270C133.3 1271.7 168.3 1279.2 200 1280C231.7 1280.8 275 1275.8 290 1275" stroke-width="66" stroke-opacity="0.11"/><path d="M290 1280C296.7 1291.7 308.3 1333.3 330 1350C351.7 1366.7 385 1370 420 1380C455 1390 510 1400.3 540 1410C570 1419.7 590 1433.3 600 1438" stroke-width="74.8" stroke-opacity="0.12"/><path d="M420 1380C405 1381.7 358.3 1381.7 330 1390C301.7 1398.3 263.3 1423.3 250 1430" stroke-width="66" stroke-opacity="0.10"/><path d="M1438 1190C1423.3 1191.7 1381.3 1191.7 1350 1200C1318.7 1208.3 1283.3 1227.5 1250 1240C1216.7 1252.5 1181.7 1261.7 1150 1275C1118.3 1288.3 1075 1312.5 1060 1320" stroke-width="79.2" stroke-opacity="0.17"/><path d="M1060 1320C1041.7 1325 985 1341.7 950 1350C915 1358.3 883.3 1361.7 850 1370C816.7 1378.3 778.3 1391.7 750 1400C721.7 1408.3 691.7 1416.7 680 1420" stroke-width="74.8" stroke-opacity="0.14"/><path d="M1060 1325C1065 1334.2 1075 1365.8 1090 1380C1105 1394.2 1126.7 1400.3 1150 1410C1173.3 1419.7 1216.7 1433.3 1230 1438" stroke-width="66" stroke-opacity="0.11"/><path d="M0 1350C16.7 1351.7 73.3 1356.7 100 1360C126.7 1363.3 150 1368.3 160 1370" stroke-width="88" stroke-opacity="0.07"/></g><g filter="url(#bc0)" fill="none" stroke-linecap="round" stroke-linejoin="round"><path d="M665 630L750 650" stroke-width="30" stroke="rgb(73,73,73)"/><path d="M0 1350C16.7 1351.7 73.3 1356.7 100 1360C126.7 1363.3 150 1368.3 160 1370" stroke-width="40" stroke="rgb(85,85,85)"/><path d="M420 1380C405 1381.7 358.3 1381.7 330 1390C301.7 1398.3 263.3 1423.3 250 1430" stroke-width="30" stroke="rgb(122,122,122)"/><path d="M0 1270C16.7 1270 66.7 1268.3 100 1270C133.3 1271.7 168.3 1279.2 200 1280C231.7 1280.8 275 1275.8 290 1275" stroke-width="30" stroke="rgb(134,134,134)"/><path d="M1170 0C1183.3 5 1223.3 21.7 1250 30C1276.7 38.3 1308.3 40 1330 50C1351.7 60 1371.7 83.3 1380 90" stroke-width="32" stroke="rgb(146,146,146)"/><path d="M1060 1325C1065 1334.2 1075 1365.8 1090 1380C1105 1394.2 1126.7 1400.3 1150 1410C1173.3 1419.7 1216.7 1433.3 1230 1438" stroke-width="30" stroke="rgb(146,146,146)"/><path d="M640 190C656.7 191.7 708.3 197.5 740 200C771.7 202.5 795 205 830 205C865 205 913.3 200 950 200C986.7 200 1023.3 205 1050 205C1076.7 205 1100 200.8 1110 200" stroke-width="34" stroke="rgb(158,158,158)"/><path d="M240 1050C245 1061.7 261.7 1095 270 1120C278.3 1145 286.7 1175 290 1200C293.3 1225 290 1258.3 290 1270" stroke-width="30" stroke="rgb(158,158,158)"/><path d="M290 1280C296.7 1291.7 308.3 1333.3 330 1350C351.7 1366.7 385 1370 420 1380C455 1390 510 1400.3 540 1410C570 1419.7 590 1433.3 600 1438" stroke-width="34" stroke="rgb(158,158,158)"/><path d="M420 0C425 10 433.3 41.7 450 60C466.7 78.3 495 93.3 520 110C545 126.7 580 146.7 600 160C620 173.3 633.3 185 640 190" stroke-width="36" stroke="rgb(170,170,170)"/><path d="M640 200C630 206.7 603.3 225 580 240C556.7 255 521.7 273.3 500 290C478.3 306.7 458.3 331.7 450 340" stroke-width="34" stroke="rgb(183,183,183)"/><path d="M1060 1320C1041.7 1325 985 1341.7 950 1350C915 1358.3 883.3 1361.7 850 1370C816.7 1378.3 778.3 1391.7 750 1400C721.7 1408.3 691.7 1416.7 680 1420" stroke-width="34" stroke="rgb(183,183,183)"/><path d="M1110 200C1125 195 1170 180 1200 170C1230 160 1261.7 150 1290 140C1318.3 130 1345.3 120 1370 110C1394.7 100 1426.7 85 1438 80" stroke-width="36" stroke="rgb(195,195,195)"/><path d="M1110 205C1113.3 215.8 1120 249.2 1130 270C1140 290.8 1156.7 311.7 1170 330C1183.3 348.3 1203.3 371.7 1210 380" stroke-width="36" stroke="rgb(207,207,207)"/><path d="M1210 385C1206.7 395.8 1198.3 430.8 1190 450C1181.7 469.2 1161.7 481.7 1160 500C1158.3 518.3 1173.3 540 1180 560C1186.7 580 1197.5 601.7 1200 620C1202.5 638.3 1195.8 661.7 1195 670" stroke-width="36" stroke="rgb(207,207,207)"/><path d="M1195 675C1205.8 679.2 1237.5 689.2 1260 700C1282.5 710.8 1308.3 727.5 1330 740C1351.7 752.5 1372 766.7 1390 775C1408 783.3 1430 787.5 1438 790" stroke-width="36" stroke="rgb(207,207,207)"/><path d="M450 345C433.3 345.8 375 349.2 350 350C325 350.8 321.7 346.7 300 350C278.3 353.3 246.7 364.2 220 370C193.3 375.8 166.7 381.7 140 385C113.3 388.3 83.3 392.5 60 390C36.7 387.5 10 373.3 0 370" stroke-width="36" stroke="rgb(219,219,219)"/><path d="M1438 1190C1423.3 1191.7 1381.3 1191.7 1350 1200C1318.7 1208.3 1283.3 1227.5 1250 1240C1216.7 1252.5 1181.7 1261.7 1150 1275C1118.3 1288.3 1075 1312.5 1060 1320" stroke-width="36" stroke="rgb(219,219,219)"/><path d="M30 400C33.3 416.7 48.3 466.7 50 500C51.7 533.3 43.3 566.7 40 600C36.7 633.3 28.3 666.7 30 700C31.7 733.3 45 778.3 50 800C55 821.7 58.3 825 60 830" stroke-width="36" stroke="rgb(231,231,231)"/><path d="M0 900C16.7 910 66.7 940 100 960C133.3 980 176.7 1005.8 200 1020C223.3 1034.2 216.7 1040 240 1045C263.3 1050 300 1049.2 340 1050C380 1050.8 436.7 1053.3 480 1050C523.3 1046.7 563.3 1036.7 600 1030C636.7 1023.3 663.3 1019.2 700 1010C736.7 1000.8 778.3 987.5 820 975C861.7 962.5 910 947.5 950 935C990 922.5 1021.7 912.5 1060 900C1098.3 887.5 1141.7 872.5 1180 860C1218.3 847.5 1255 836.7 1290 825C1325 813.3 1373.3 795.8 1390 790" stroke-width="36" stroke="rgb(231,231,231)"/><path d="M750 650C766.7 651.7 816.7 657.5 850 660C883.3 662.5 916.7 661.7 950 665C983.3 668.3 1020 676.7 1050 680C1080 683.3 1105.8 685.8 1130 685C1154.2 684.2 1184.2 676.7 1195 675" stroke-width="40" stroke="rgb(244,244,244)"/><path d="M0 830C10 830 43.3 831.7 60 830C76.7 828.3 93.3 821.7 100 820" stroke-width="36" stroke="rgb(244,244,244)"/><path d="M290 350L330 350" stroke-width="40" stroke="rgb(255,255,255)"/><path d="M450 345C455 354.2 468.3 379.2 480 400C491.7 420.8 505 446.7 520 470C535 493.3 553.3 520 570 540C586.7 560 605 575.8 620 590C635 604.2 653.3 619.2 660 625" stroke-width="40" stroke="rgb(255,255,255)"/><path d="M660 630C650 638.3 620 665 600 680C580 695 561.7 708.3 540 720C518.3 731.7 493.3 740.8 470 750C446.7 759.2 428.3 768.3 400 775C371.7 781.7 330 785.8 300 790C270 794.2 243.3 798.3 220 800C196.7 801.7 170 800 160 800" stroke-width="42" stroke="rgb(255,255,255)"/><path d="M380 780C390 776.7 420 767 440 760C460 753 490 741.7 500 738" stroke-width="54" stroke="rgb(255,255,255)"/><path d="M1200 365L1215 400" stroke-width="52" stroke="rgb(255,255,255)"/><path d="M42 620L35 690" stroke-width="44" stroke="rgb(255,255,255)"/><path d="M940 935L1060 900" stroke-width="38" stroke="rgb(255,255,255)"/><path d="M320 1050L360 1050" stroke-width="38" stroke="rgb(255,255,255)"/></g><filter id="cc0" x="-30%" y="-30%" width="160%" height="160%"><feGaussianBlur stdDeviation="9.5"/></filter><g filter="url(#cc0)" fill="none" stroke-linecap="round" stroke-linejoin="round"><path d="M385 778C394.2 775 421.7 766.3 440 760C458.3 753.7 485.8 743.3 495 740" stroke-width="34" stroke="rgb(255,255,255)"/><path d="M1204 368L1213 396" stroke-width="30" stroke="rgb(255,255,255)"/><path d="M42 625L36 685" stroke-width="26" stroke="rgb(255,255,255)"/><path d="M300 350L325 350" stroke-width="22" stroke="rgb(235,235,235)"/></g><rect width="1438" height="1438" filter="url(#nc0)" opacity="0.05"/><path d="M950 565L928.0 797" stroke="#c8b400" stroke-width="3"/><rect x="935.0" y="550.0" width="30" height="30" fill="#ffe600" transform="rotate(-5.2 950.0 565)"/><rect x="929.5" y="610.0" width="30" height="30" fill="#ffe600" transform="rotate(-5.2 944.5 625)"/><rect x="924.0" y="670.0" width="30" height="30" fill="#ffe600" transform="rotate(-5.2 939.0 685)"/><rect x="918.5" y="730.0" width="30" height="30" fill="#ffe600" transform="rotate(-5.2 933.5 745)"/><rect x="913.0" y="791" width="30" height="8" fill="#ffe600" transform="rotate(-5.2 928.0 795)"/></svg><!--C0SVG_END--></div>
<div class="img" id="C1" style="left:1377.3px;top:971px;width:87.3px;height:397px;"><!--C1SVG_BEGIN--><svg width="87.3" height="397" viewBox="0 0 316 1438" preserveAspectRatio="none"><defs><filter id="bc1" filterUnits="userSpaceOnUse" x="0" y="0" width="316" height="1438"><feGaussianBlur in="SourceGraphic" stdDeviation="10" result="bl"/><feTurbulence type="fractalNoise" baseFrequency="0.022" numOctaves="2" seed="61" result="t" color-interpolation-filters="sRGB"/><feColorMatrix in="t" type="matrix" color-interpolation-filters="sRGB" values="0.75 0 0 0 0.47 0.75 0 0 0 0.47 0.75 0 0 0 0.47 0 0 0 0 1" result="t2"/><feComposite in="bl" in2="t2" operator="arithmetic" k1="1" k2="0" k3="0" k4="0" color-interpolation-filters="sRGB"/></filter><filter id="hc1" x="-10%" y="-10%" width="120%" height="120%"><feGaussianBlur stdDeviation="14"/></filter><filter id="nc1" x="0" y="0" width="100%" height="100%"><feTurbulence type="fractalNoise" baseFrequency="0.09" numOctaves="2" seed="21"/><feColorMatrix type="matrix" values="0 0 0 0 1  0 0 0 0 1  0 0 0 0 1  1.6 0 0 0 -0.45"/></filter></defs><rect width="316" height="1438" fill="rgb(4,4,4)"/><g filter="url(#hc1)" fill="none" stroke-linecap="round" stroke-linejoin="round" stroke="#fff"><path d="M5 0C6.2 10 8.7 38.3 12 60C15.3 81.7 22.8 118.3 25 130" stroke-width="95" stroke-opacity="0.14"/><path d="M25 130C29.2 145 39.2 188.3 50 220C60.8 251.7 83.3 303.3 90 320" stroke-width="133" stroke-opacity="0.20"/><path d="M90 320C98.3 335 122.5 380 140 410C157.5 440 185.8 485 195 500" stroke-width="87.4" stroke-opacity="0.20"/><path d="M195 505C202.5 499.2 225.8 484.2 240 470C254.2 455.8 267.3 433.3 280 420C292.7 406.7 310 395 316 390" stroke-width="95" stroke-opacity="0.20"/><path d="M238 470L252 458" stroke-width="76" stroke-opacity="0.20"/><path d="M195 520C193.3 530 188.3 560 185 580C181.7 600 176.7 630 175 640" stroke-width="76" stroke-opacity="0.09"/><path d="M175 640C173.3 658.3 167.5 713.3 165 750C162.5 786.7 162.5 825 160 860C157.5 895 153.3 926.7 150 960C146.7 993.3 141.7 1030 140 1060C138.3 1090 138.3 1121.7 140 1140C141.7 1158.3 148.3 1165 150 1170" stroke-width="85.5" stroke-opacity="0.18"/><path d="M150 1170C158.3 1168.3 181.7 1163.3 200 1160C218.3 1156.7 240.7 1153.3 260 1150C279.3 1146.7 306.7 1141.7 316 1140" stroke-width="104.5" stroke-opacity="0.13"/><path d="M150 1180C143.3 1190 123.3 1220 110 1240C96.7 1260 81.7 1280 70 1300C58.3 1320 48.3 1337 40 1360C31.7 1383 23.3 1425 20 1438" stroke-width="95" stroke-opacity="0.16"/></g><g filter="url(#bc1)" fill="none" stroke-linecap="round" stroke-linejoin="round"><path d="M195 520C193.3 530 188.3 560 185 580C181.7 600 176.7 630 175 640" stroke-width="38" stroke="rgb(120,120,120)"/><path d="M150 1170C158.3 1168.3 181.7 1163.3 200 1160C218.3 1156.7 240.7 1153.3 260 1150C279.3 1146.7 306.7 1141.7 316 1140" stroke-width="52.2" stroke="rgb(168,168,168)"/><path d="M5 0C6.2 10 8.7 38.3 12 60C15.3 81.7 22.8 118.3 25 130" stroke-width="47.5" stroke="rgb(180,180,180)"/><path d="M150 1180C143.3 1190 123.3 1220 110 1240C96.7 1260 81.7 1280 70 1300C58.3 1320 48.3 1337 40 1360C31.7 1383 23.3 1425 20 1438" stroke-width="47.5" stroke="rgb(204,204,204)"/><path d="M175 640C173.3 658.3 167.5 713.3 165 750C162.5 786.7 162.5 825 160 860C157.5 895 153.3 926.7 150 960C146.7 993.3 141.7 1030 140 1060C138.3 1090 138.3 1121.7 140 1140C141.7 1158.3 148.3 1165 150 1170" stroke-width="42.8" stroke="rgb(228,228,228)"/><path d="M90 320C98.3 335 122.5 380 140 410C157.5 440 185.8 485 195 500" stroke-width="43.7" stroke="rgb(252,252,252)"/><path d="M195 505C202.5 499.2 225.8 484.2 240 470C254.2 455.8 267.3 433.3 280 420C292.7 406.7 310 395 316 390" stroke-width="47.5" stroke="rgb(252,252,252)"/><path d="M25 130C29.2 145 39.2 188.3 50 220C60.8 251.7 83.3 303.3 90 320" stroke-width="66.5" stroke="rgb(255,255,255)"/><path d="M238 470L252 458" stroke-width="38" stroke="rgb(255,255,255)"/></g><filter id="cc1" x="-30%" y="-30%" width="160%" height="160%"><feGaussianBlur stdDeviation="10"/></filter><g filter="url(#cc1)" fill="none" stroke-linecap="round" stroke-linejoin="round"><path d="M32 160C36.3 174.2 47.5 216.7 58 245C68.5 273.3 88.8 315.8 95 330" stroke-width="54" stroke="rgb(255,255,255)"/></g><rect width="316" height="1438" filter="url(#nc1)" opacity="0.04"/><polygon points="155,548 75,557 105,572 102,608" fill="#ffe800" stroke="#0a0800" stroke-width="2.5" stroke-linejoin="miter" paint-order="stroke"/><polygon points="102,1160 22,1158 57,1145 50,1105" fill="#ffe800" stroke="#0a0800" stroke-width="2.5" stroke-linejoin="miter" paint-order="stroke"/></svg><!--C1SVG_END--></div>
<div class="img" id="C2" style="left:1477.7px;top:971px;width:87.3px;height:397px;"><!--C2SVG_BEGIN--><svg width="87.3" height="397" viewBox="0 0 316 1438" preserveAspectRatio="none"><defs><filter id="bc2" filterUnits="userSpaceOnUse" x="0" y="0" width="316" height="1438"><feGaussianBlur in="SourceGraphic" stdDeviation="10" result="bl"/><feTurbulence type="fractalNoise" baseFrequency="0.022" numOctaves="2" seed="62" result="t" color-interpolation-filters="sRGB"/><feColorMatrix in="t" type="matrix" color-interpolation-filters="sRGB" values="0.75 0 0 0 0.47 0.75 0 0 0 0.47 0.75 0 0 0 0.47 0 0 0 0 1" result="t2"/><feComposite in="bl" in2="t2" operator="arithmetic" k1="1" k2="0" k3="0" k4="0" color-interpolation-filters="sRGB"/></filter><filter id="hc2" x="-10%" y="-10%" width="120%" height="120%"><feGaussianBlur stdDeviation="14"/></filter><filter id="nc2" x="0" y="0" width="100%" height="100%"><feTurbulence type="fractalNoise" baseFrequency="0.09" numOctaves="2" seed="22"/><feColorMatrix type="matrix" values="0 0 0 0 1  0 0 0 0 1  0 0 0 0 1  1.6 0 0 0 -0.45"/></filter></defs><rect width="316" height="1438" fill="rgb(4,4,4)"/><g filter="url(#hc2)" fill="none" stroke-linecap="round" stroke-linejoin="round" stroke="#fff"><path d="M10 130C14.2 145 25 191.7 35 220C45 248.3 64.2 286.7 70 300" stroke-width="123.5" stroke-opacity="0.20"/><path d="M70 300C78.3 315 103.3 361.7 120 390C136.7 418.3 158.3 453.3 170 470C181.7 486.7 186.7 486.7 190 490" stroke-width="91.2" stroke-opacity="0.17"/><path d="M190 490C198.3 483.3 224.2 465 240 450C255.8 435 272.3 412.5 285 400C297.7 387.5 310.8 379.2 316 375" stroke-width="85.5" stroke-opacity="0.15"/><path d="M190 660C189.2 683.3 190 756.7 185 800C180 843.3 164.2 900 160 920" stroke-width="47.5" stroke-opacity="0.01"/><path d="M140 1000C137.5 1010 129.2 1040 125 1060C120.8 1080 115.8 1101.7 115 1120C114.2 1138.3 119.2 1161.7 120 1170" stroke-width="79.8" stroke-opacity="0.09"/><path d="M120 1175C130 1174.2 158.3 1171.7 180 1170C201.7 1168.3 227.3 1166.7 250 1165C272.7 1163.3 305 1160.8 316 1160" stroke-width="95" stroke-opacity="0.08"/><path d="M120 1190C115 1200 100.8 1230 90 1250C79.2 1270 65.8 1288.3 55 1310C44.2 1331.7 32.5 1358.7 25 1380C17.5 1401.3 12.5 1428.3 10 1438" stroke-width="87.4" stroke-opacity="0.12"/></g><g filter="url(#bc2)" fill="none" stroke-linecap="round" stroke-linejoin="round"><path d="M190 660C189.2 683.3 190 756.7 185 800C180 843.3 164.2 900 160 920" stroke-width="23.8" stroke="rgb(19,19,19)"/><path d="M120 1175C130 1174.2 158.3 1171.7 180 1170C201.7 1168.3 227.3 1166.7 250 1165C272.7 1163.3 305 1160.8 316 1160" stroke-width="47.5" stroke="rgb(108,108,108)"/><path d="M140 1000C137.5 1010 129.2 1040 125 1060C120.8 1080 115.8 1101.7 115 1120C114.2 1138.3 119.2 1161.7 120 1170" stroke-width="39.9" stroke="rgb(114,114,114)"/><path d="M120 1190C115 1200 100.8 1230 90 1250C79.2 1270 65.8 1288.3 55 1310C44.2 1331.7 32.5 1358.7 25 1380C17.5 1401.3 12.5 1428.3 10 1438" stroke-width="43.7" stroke="rgb(150,150,150)"/><path d="M190 490C198.3 483.3 224.2 465 240 450C255.8 435 272.3 412.5 285 400C297.7 387.5 310.8 379.2 316 375" stroke-width="42.8" stroke="rgb(192,192,192)"/><path d="M70 300C78.3 315 103.3 361.7 120 390C136.7 418.3 158.3 453.3 170 470C181.7 486.7 186.7 486.7 190 490" stroke-width="45.6" stroke="rgb(216,216,216)"/><path d="M10 130C14.2 145 25 191.7 35 220C45 248.3 64.2 286.7 70 300" stroke-width="61.8" stroke="rgb(255,255,255)"/></g><filter id="cc2" x="-30%" y="-30%" width="160%" height="160%"><feGaussianBlur stdDeviation="10"/></filter><g filter="url(#cc2)" fill="none" stroke-linecap="round" stroke-linejoin="round"><path d="M24 165C27.8 175.8 38 207.5 47 230C56 252.5 72.8 288.3 78 300" stroke-width="46" stroke="rgb(255,255,255)"/></g><rect width="316" height="1438" filter="url(#nc2)" opacity="0.04"/><polygon points="170,548 90,557 120,572 117,608" fill="#ffe800" stroke="#0a0800" stroke-width="2.5" stroke-linejoin="miter" paint-order="stroke"/><polygon points="82,1175 2,1173 37,1160 30,1120" fill="#ffe800" stroke="#0a0800" stroke-width="2.5" stroke-linejoin="miter" paint-order="stroke"/></svg><!--C2SVG_END--></div>
<div class="img" id="C3" style="left:1578px;top:971px;width:87.3px;height:397px;"><!--C3SVG_BEGIN--><svg width="87.3" height="397" viewBox="0 0 316 1438" preserveAspectRatio="none"><defs><filter id="bc3" filterUnits="userSpaceOnUse" x="0" y="0" width="316" height="1438"><feGaussianBlur in="SourceGraphic" stdDeviation="10" result="bl"/><feTurbulence type="fractalNoise" baseFrequency="0.022" numOctaves="2" seed="63" result="t" color-interpolation-filters="sRGB"/><feColorMatrix in="t" type="matrix" color-interpolation-filters="sRGB" values="0.75 0 0 0 0.47 0.75 0 0 0 0.47 0.75 0 0 0 0.47 0 0 0 0 1" result="t2"/><feComposite in="bl" in2="t2" operator="arithmetic" k1="1" k2="0" k3="0" k4="0" color-interpolation-filters="sRGB"/></filter><filter id="hc3" x="-10%" y="-10%" width="120%" height="120%"><feGaussianBlur stdDeviation="14"/></filter><filter id="nc3" x="0" y="0" width="100%" height="100%"><feTurbulence type="fractalNoise" baseFrequency="0.09" numOctaves="2" seed="23"/><feColorMatrix type="matrix" values="0 0 0 0 1  0 0 0 0 1  0 0 0 0 1  1.6 0 0 0 -0.45"/></filter></defs><rect width="316" height="1438" fill="rgb(4,4,4)"/><g filter="url(#hc3)" fill="none" stroke-linecap="round" stroke-linejoin="round" stroke="#fff"><path d="M10 100C15.8 116.7 32.5 168.3 45 200C57.5 231.7 78.3 275 85 290" stroke-width="123.5" stroke-opacity="0.20"/><path d="M85 290C94.2 306.7 122.5 360 140 390C157.5 420 180 453.3 190 470C200 486.7 198.3 486.7 200 490" stroke-width="91.2" stroke-opacity="0.17"/><path d="M200 490C208.3 482.5 235 460 250 445C265 430 279 412.5 290 400C301 387.5 311.7 375 316 370" stroke-width="85.5" stroke-opacity="0.15"/><path d="M195 650C193.3 675 189.2 758.3 185 800C180.8 841.7 172.5 883.3 170 900" stroke-width="47.5" stroke-opacity="0.01"/><path d="M130 1020C128.3 1030 122.5 1061.7 120 1080C117.5 1098.3 115.8 1115 115 1130C114.2 1145 115 1163.3 115 1170" stroke-width="79.8" stroke-opacity="0.08"/><path d="M115 1180C125.8 1178.3 157.5 1174.2 180 1170C202.5 1165.8 227.3 1160 250 1155C272.7 1150 305 1142.5 316 1140" stroke-width="95" stroke-opacity="0.08"/><path d="M115 1200C110 1210 95.8 1240 85 1260C74.2 1280 60.8 1298.3 50 1320C39.2 1341.7 27.5 1370.3 20 1390C12.5 1409.7 7.5 1430 5 1438" stroke-width="87.4" stroke-opacity="0.12"/></g><g filter="url(#bc3)" fill="none" stroke-linecap="round" stroke-linejoin="round"><path d="M195 650C193.3 675 189.2 758.3 185 800C180.8 841.7 172.5 883.3 170 900" stroke-width="23.8" stroke="rgb(19,19,19)"/><path d="M115 1180C125.8 1178.3 157.5 1174.2 180 1170C202.5 1165.8 227.3 1160 250 1155C272.7 1150 305 1142.5 316 1140" stroke-width="47.5" stroke="rgb(102,102,102)"/><path d="M130 1020C128.3 1030 122.5 1061.7 120 1080C117.5 1098.3 115.8 1115 115 1130C114.2 1145 115 1163.3 115 1170" stroke-width="39.9" stroke="rgb(108,108,108)"/><path d="M115 1200C110 1210 95.8 1240 85 1260C74.2 1280 60.8 1298.3 50 1320C39.2 1341.7 27.5 1370.3 20 1390C12.5 1409.7 7.5 1430 5 1438" stroke-width="43.7" stroke="rgb(150,150,150)"/><path d="M200 490C208.3 482.5 235 460 250 445C265 430 279 412.5 290 400C301 387.5 311.7 375 316 370" stroke-width="42.8" stroke="rgb(192,192,192)"/><path d="M85 290C94.2 306.7 122.5 360 140 390C157.5 420 180 453.3 190 470C200 486.7 198.3 486.7 200 490" stroke-width="45.6" stroke="rgb(216,216,216)"/><path d="M10 100C15.8 116.7 32.5 168.3 45 200C57.5 231.7 78.3 275 85 290" stroke-width="61.8" stroke="rgb(255,255,255)"/></g><filter id="cc3" x="-30%" y="-30%" width="160%" height="160%"><feGaussianBlur stdDeviation="10"/></filter><g filter="url(#cc3)" fill="none" stroke-linecap="round" stroke-linejoin="round"><path d="M24 150C28.3 161.7 39.7 195.8 50 220C60.3 244.2 80 282.5 86 295" stroke-width="46" stroke="rgb(255,255,255)"/></g><rect width="316" height="1438" filter="url(#nc3)" opacity="0.04"/><polygon points="170,532 90,541 120,556 117,592" fill="#ffe800" stroke="#0a0800" stroke-width="2.5" stroke-linejoin="miter" paint-order="stroke"/><polygon points="84,1175 4,1173 39,1160 32,1120" fill="#ffe800" stroke="#0a0800" stroke-width="2.5" stroke-linejoin="miter" paint-order="stroke"/></svg><!--C3SVG_END--></div>
<div class="img" id="C4" style="left:1678.3px;top:971px;width:87.3px;height:397px;"><!--C4SVG_BEGIN--><svg width="87.3" height="397" viewBox="0 0 316 1438" preserveAspectRatio="none"><defs><filter id="bc4" filterUnits="userSpaceOnUse" x="0" y="0" width="316" height="1438"><feGaussianBlur in="SourceGraphic" stdDeviation="10" result="bl"/><feTurbulence type="fractalNoise" baseFrequency="0.022" numOctaves="2" seed="64" result="t" color-interpolation-filters="sRGB"/><feColorMatrix in="t" type="matrix" color-interpolation-filters="sRGB" values="0.75 0 0 0 0.47 0.75 0 0 0 0.47 0.75 0 0 0 0.47 0 0 0 0 1" result="t2"/><feComposite in="bl" in2="t2" operator="arithmetic" k1="1" k2="0" k3="0" k4="0" color-interpolation-filters="sRGB"/></filter><filter id="hc4" x="-10%" y="-10%" width="120%" height="120%"><feGaussianBlur stdDeviation="14"/></filter><filter id="nc4" x="0" y="0" width="100%" height="100%"><feTurbulence type="fractalNoise" baseFrequency="0.09" numOctaves="2" seed="24"/><feColorMatrix type="matrix" values="0 0 0 0 1  0 0 0 0 1  0 0 0 0 1  1.6 0 0 0 -0.45"/></filter></defs><rect width="316" height="1438" fill="rgb(4,4,4)"/><g filter="url(#hc4)" fill="none" stroke-linecap="round" stroke-linejoin="round" stroke="#fff"><path d="M10 100C15.8 116.7 32.5 168.3 45 200C57.5 231.7 78.3 275 85 290" stroke-width="123.5" stroke-opacity="0.20"/><path d="M85 290C94.2 306.7 122.5 360 140 390C157.5 420 180 454.2 190 470C200 485.8 198.3 482.5 200 485" stroke-width="91.2" stroke-opacity="0.17"/><path d="M200 485C208.3 477.5 235 454.2 250 440C265 425.8 279 410.8 290 400C301 389.2 311.7 379.2 316 375" stroke-width="85.5" stroke-opacity="0.15"/><path d="M190 650C189.2 675 190 755 185 800C180 845 164.2 900 160 920" stroke-width="47.5" stroke-opacity="0.01"/><path d="M130 1000C127.5 1013.3 118.3 1058.3 115 1080C111.7 1101.7 110.8 1115 110 1130C109.2 1145 110 1163.3 110 1170" stroke-width="79.8" stroke-opacity="0.08"/><path d="M110 1180C121.7 1178.3 156.7 1174.2 180 1170C203.3 1165.8 227.3 1160 250 1155C272.7 1150 305 1142.5 316 1140" stroke-width="95" stroke-opacity="0.08"/><path d="M110 1200C105 1210 91.7 1238.3 80 1260C68.3 1281.7 51.7 1306.7 40 1330C28.3 1353.3 16.7 1382 10 1400C3.3 1418 1.7 1431.7 0 1438" stroke-width="87.4" stroke-opacity="0.12"/></g><g filter="url(#bc4)" fill="none" stroke-linecap="round" stroke-linejoin="round"><path d="M190 650C189.2 675 190 755 185 800C180 845 164.2 900 160 920" stroke-width="23.8" stroke="rgb(19,19,19)"/><path d="M110 1180C121.7 1178.3 156.7 1174.2 180 1170C203.3 1165.8 227.3 1160 250 1155C272.7 1150 305 1142.5 316 1140" stroke-width="47.5" stroke="rgb(102,102,102)"/><path d="M130 1000C127.5 1013.3 118.3 1058.3 115 1080C111.7 1101.7 110.8 1115 110 1130C109.2 1145 110 1163.3 110 1170" stroke-width="39.9" stroke="rgb(108,108,108)"/><path d="M110 1200C105 1210 91.7 1238.3 80 1260C68.3 1281.7 51.7 1306.7 40 1330C28.3 1353.3 16.7 1382 10 1400C3.3 1418 1.7 1431.7 0 1438" stroke-width="43.7" stroke="rgb(150,150,150)"/><path d="M200 485C208.3 477.5 235 454.2 250 440C265 425.8 279 410.8 290 400C301 389.2 311.7 379.2 316 375" stroke-width="42.8" stroke="rgb(192,192,192)"/><path d="M85 290C94.2 306.7 122.5 360 140 390C157.5 420 180 454.2 190 470C200 485.8 198.3 482.5 200 485" stroke-width="45.6" stroke="rgb(216,216,216)"/><path d="M10 100C15.8 116.7 32.5 168.3 45 200C57.5 231.7 78.3 275 85 290" stroke-width="61.8" stroke="rgb(255,255,255)"/></g><filter id="cc4" x="-30%" y="-30%" width="160%" height="160%"><feGaussianBlur stdDeviation="10"/></filter><g filter="url(#cc4)" fill="none" stroke-linecap="round" stroke-linejoin="round"><path d="M24 150C28.3 161.7 39.7 195.8 50 220C60.3 244.2 80 282.5 86 295" stroke-width="46" stroke="rgb(255,255,255)"/></g><rect width="316" height="1438" filter="url(#nc4)" opacity="0.04"/><polygon points="190,532 110,541 140,556 137,592" fill="#ffe800" stroke="#0a0800" stroke-width="2.5" stroke-linejoin="miter" paint-order="stroke"/><polygon points="87,1175 7,1173 42,1160 35,1120" fill="#ffe800" stroke="#0a0800" stroke-width="2.5" stroke-linejoin="miter" paint-order="stroke"/></svg><!--C4SVG_END--></div>
<div class="img" id="C5" style="left:1778.7px;top:971px;width:87.3px;height:397px;"><!--C5SVG_BEGIN--><svg width="87.3" height="397" viewBox="0 0 316 1438" preserveAspectRatio="none"><defs><filter id="bc5" filterUnits="userSpaceOnUse" x="0" y="0" width="316" height="1438"><feGaussianBlur in="SourceGraphic" stdDeviation="10" result="bl"/><feTurbulence type="fractalNoise" baseFrequency="0.022" numOctaves="2" seed="65" result="t" color-interpolation-filters="sRGB"/><feColorMatrix in="t" type="matrix" color-interpolation-filters="sRGB" values="0.75 0 0 0 0.47 0.75 0 0 0 0.47 0.75 0 0 0 0.47 0 0 0 0 1" result="t2"/><feComposite in="bl" in2="t2" operator="arithmetic" k1="1" k2="0" k3="0" k4="0" color-interpolation-filters="sRGB"/></filter><filter id="hc5" x="-10%" y="-10%" width="120%" height="120%"><feGaussianBlur stdDeviation="14"/></filter><filter id="nc5" x="0" y="0" width="100%" height="100%"><feTurbulence type="fractalNoise" baseFrequency="0.09" numOctaves="2" seed="25"/><feColorMatrix type="matrix" values="0 0 0 0 1  0 0 0 0 1  0 0 0 0 1  1.6 0 0 0 -0.45"/></filter></defs><rect width="316" height="1438" fill="rgb(4,4,4)"/><g filter="url(#hc5)" fill="none" stroke-linecap="round" stroke-linejoin="round" stroke="#fff"><path d="M10 90C16.7 108.3 36.7 166.7 50 200C63.3 233.3 83.3 275 90 290" stroke-width="123.5" stroke-opacity="0.20"/><path d="M90 290C100 306.7 131.7 360 150 390C168.3 420 190 454.2 200 470C210 485.8 208.3 482.5 210 485" stroke-width="91.2" stroke-opacity="0.17"/><path d="M210 485C218.3 475.8 245.8 445 260 430C274.2 415 285.7 405 295 395C304.3 385 312.5 374.2 316 370" stroke-width="85.5" stroke-opacity="0.15"/><path d="M190 650C189.2 675 187.5 758.3 185 800C182.5 841.7 176.7 883.3 175 900" stroke-width="47.5" stroke-opacity="0.01"/><path d="M140 1000C137.5 1013.3 129.2 1056.7 125 1080C120.8 1103.3 116.7 1123.3 115 1140C113.3 1156.7 115 1173.3 115 1180" stroke-width="79.8" stroke-opacity="0.08"/><path d="M120 1190C130 1188.3 158.3 1184.2 180 1180C201.7 1175.8 227.3 1170 250 1165C272.7 1160 305 1152.5 316 1150" stroke-width="95" stroke-opacity="0.08"/><path d="M115 1210C110 1220 96.7 1248.3 85 1270C73.3 1291.7 57.5 1315 45 1340C32.5 1365 16.7 1403.7 10 1420C3.3 1436.3 5.8 1435 5 1438" stroke-width="87.4" stroke-opacity="0.12"/></g><g filter="url(#bc5)" fill="none" stroke-linecap="round" stroke-linejoin="round"><path d="M190 650C189.2 675 187.5 758.3 185 800C182.5 841.7 176.7 883.3 175 900" stroke-width="23.8" stroke="rgb(19,19,19)"/><path d="M120 1190C130 1188.3 158.3 1184.2 180 1180C201.7 1175.8 227.3 1170 250 1165C272.7 1160 305 1152.5 316 1150" stroke-width="47.5" stroke="rgb(102,102,102)"/><path d="M140 1000C137.5 1013.3 129.2 1056.7 125 1080C120.8 1103.3 116.7 1123.3 115 1140C113.3 1156.7 115 1173.3 115 1180" stroke-width="39.9" stroke="rgb(108,108,108)"/><path d="M115 1210C110 1220 96.7 1248.3 85 1270C73.3 1291.7 57.5 1315 45 1340C32.5 1365 16.7 1403.7 10 1420C3.3 1436.3 5.8 1435 5 1438" stroke-width="43.7" stroke="rgb(150,150,150)"/><path d="M210 485C218.3 475.8 245.8 445 260 430C274.2 415 285.7 405 295 395C304.3 385 312.5 374.2 316 370" stroke-width="42.8" stroke="rgb(192,192,192)"/><path d="M90 290C100 306.7 131.7 360 150 390C168.3 420 190 454.2 200 470C210 485.8 208.3 482.5 210 485" stroke-width="45.6" stroke="rgb(216,216,216)"/><path d="M10 90C16.7 108.3 36.7 166.7 50 200C63.3 233.3 83.3 275 90 290" stroke-width="61.8" stroke="rgb(255,255,255)"/></g><filter id="cc5" x="-30%" y="-30%" width="160%" height="160%"><feGaussianBlur stdDeviation="10"/></filter><g filter="url(#cc5)" fill="none" stroke-linecap="round" stroke-linejoin="round"><path d="M24 140C28.7 152.5 41 189.2 52 215C63 240.8 83.7 281.7 90 295" stroke-width="46" stroke="rgb(255,255,255)"/></g><rect width="316" height="1438" filter="url(#nc5)" opacity="0.04"/><polygon points="190,515 110,524 140,539 137,575" fill="#ffe800" stroke="#0a0800" stroke-width="2.5" stroke-linejoin="miter" paint-order="stroke"/><polygon points="87,1193 7,1191 42,1178 35,1138" fill="#ffe800" stroke="#0a0800" stroke-width="2.5" stroke-linejoin="miter" paint-order="stroke"/></svg><!--C5SVG_END--></div>
<div class="bar" style="left:979.9px;top:1327.2px;width:212px;height:11.2px;"></div>

<!-- bottom labels B -->
<div class="t" id="bB0" style="left:141px;top:1392px;font-size:50px;letter-spacing:-1px;">before</div>
<div class="t" id="bB1" style="left:448px;top:1392px;font-size:50px;">0</div>
<div class="t" id="bB2" style="left:550px;top:1392px;font-size:50px;">2</div>
<div class="t" id="bB3" style="left:652px;top:1392px;font-size:50px;">4</div>
<div class="t" id="bB4" style="left:754px;top:1392px;font-size:50px;">6</div>
<div class="t" id="bB5" style="left:838px;top:1392px;font-size:50px;">8 s</div>
<!-- bottom labels C -->
<div class="t" id="bC0" style="left:1098px;top:1392px;font-size:50px;letter-spacing:-1px;">before</div>
<div class="t" id="bC1" style="left:1406px;top:1392px;font-size:50px;">0</div>
<div class="t" id="bC2" style="left:1508px;top:1392px;font-size:50px;">2</div>
<div class="t" id="bC3" style="left:1610px;top:1392px;font-size:50px;">4</div>
<div class="t" id="bC4" style="left:1712px;top:1392px;font-size:50px;">6</div>
<div class="t" id="bC5" style="left:1796px;top:1392px;font-size:50px;">8 s</div>

<!-- Panel D chart -->
<svg id="chart" style="position:absolute;left:1890px;top:800px;" width="501" height="638" viewBox="1890 800 501 638">
<!--CHART_BEGIN-->
<g font-family="Liberation Sans, sans-serif" font-weight="bold" fill="#000">
<!-- y axis label -->
<text id="ylab" transform="translate(1959.7,1401) rotate(-90)" font-size="51.7" textLength="477" lengthAdjust="spacingAndGlyphs">Peak velocity (<tspan font-style="italic">µ</tspan>m/s)</text>
<!-- tick labels -->
<g font-size="40.5" text-anchor="end" id="ticks">
<text x="2069" y="1007.3" textLength="62" lengthAdjust="spacingAndGlyphs">2.5</text>
<text x="2069" y="1077.8" textLength="62" lengthAdjust="spacingAndGlyphs">2.0</text>
<text x="2069" y="1148.3" textLength="62" lengthAdjust="spacingAndGlyphs">1.5</text>
<text x="2069" y="1218.8" textLength="62" lengthAdjust="spacingAndGlyphs">1.0</text>
<text x="2069" y="1289.3" textLength="62" lengthAdjust="spacingAndGlyphs">0.5</text>
<text x="2069" y="1358" textLength="25" lengthAdjust="spacingAndGlyphs">0</text>
</g>
<!-- axes -->
<g stroke="#000" stroke-width="4.4" fill="none" stroke-linecap="butt">
<path d="M2102.4 991.8 V1348.5"/>
<path d="M2078.2 1346.3 H2338"/>
<path d="M2078.2 994 H2102.4"/>
<path d="M2078.2 1064.4 H2102.4"/>
<path d="M2078.2 1134.9 H2102.4"/>
<path d="M2078.2 1205.3 H2102.4"/>
<path d="M2078.2 1275.8 H2102.4"/>
</g>
<!-- significance -->
<path d="M2145.4 968.6 H2283" stroke="#000" stroke-width="3.7" fill="none"/>
<text id="stars" x="2215.8" y="960.3" font-size="50" text-anchor="middle" textLength="84" lengthAdjust="spacingAndGlyphs">****</text>
<!-- box 1 -->
<g stroke="#000" stroke-width="4.3" fill="none">
<path d="M2165.2 1020 V1185" />
<path d="M2165.2 1249 V1299.7" />
<path d="M2149.6 1020 H2181.1" stroke-linecap="round" stroke-width="3.9"/>
<path d="M2149.6 1299.7 H2181.1" stroke-linecap="round" stroke-width="3.9"/>
<rect x="2133.4" y="1185.1" width="63.3" height="64.1" fill="#d2d2d2" stroke-width="4.2"/>
<path d="M2133.4 1205.8 H2196.7"/>
<path d="M2155.3 1202.3 H2175" stroke-linecap="round" stroke-width="4.7"/>
<path d="M2165.2 1191.6 V1211.6" stroke-linecap="round" stroke-width="4.4"/>
</g>
<!-- box 2 -->
<g stroke="#000" stroke-width="4.3" fill="none">
<path d="M2267 1288 V1340.1" />
<path d="M2251.2 1288 H2282.9" stroke-linecap="round" stroke-width="3.9"/>
<path d="M2251.2 1340.1 H2282.9" stroke-linecap="round" stroke-width="3.9"/>
<rect x="2235.1" y="1315.5" width="63.4" height="11.5" fill="#d2d2d2" stroke-width="4.2"/>
<path d="M2235.1 1325 H2298.5" stroke-width="4.4"/>
<path d="M2267 1315.5 V1327" />
<path d="M2257.3 1319.5 H2276.7" stroke-linecap="round" stroke-width="4.9"/>
</g>
<!-- x labels -->
<text id="xl1" x="2134.4" y="1417" font-size="44" text-anchor="middle" textLength="156.5" lengthAdjust="spacingAndGlyphs">Control</text>
<text id="xl2" x="2308.5" y="1417" font-size="44" text-anchor="middle" textLength="163.5" lengthAdjust="spacingAndGlyphs">Y-27632</text>
</g>
<!--CHART_END-->
</svg>
</body>
</html>
